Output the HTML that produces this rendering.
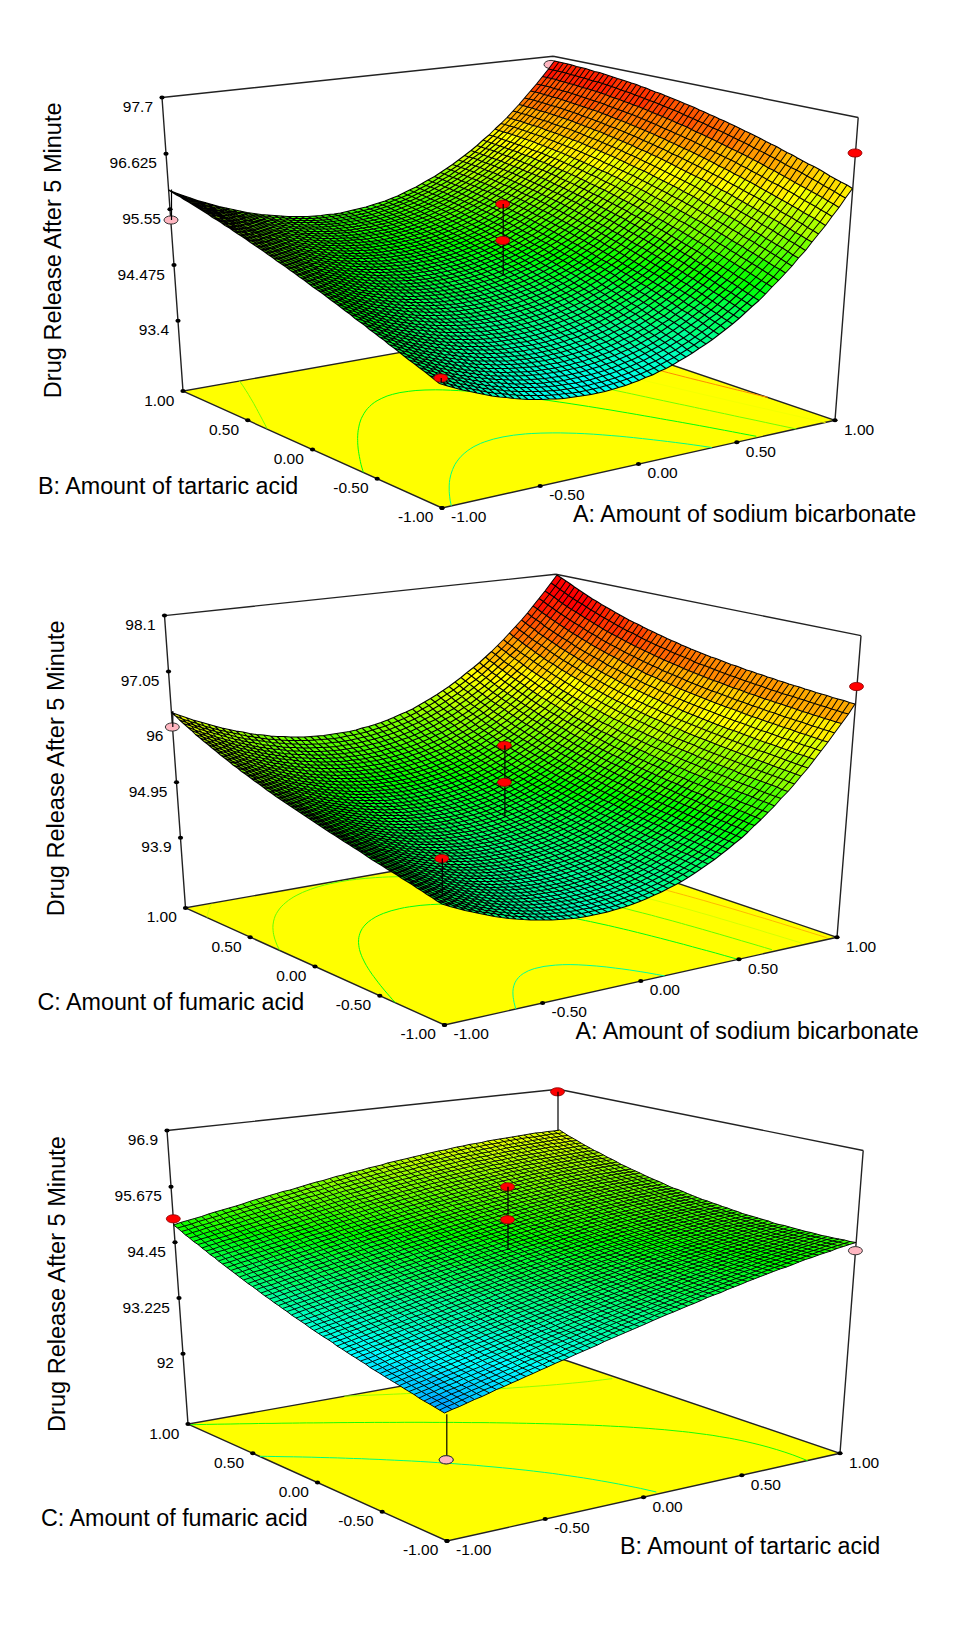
<!DOCTYPE html>
<html><head><meta charset="utf-8"><title>Response surface plots</title>
<style>
html,body{margin:0;padding:0;background:#fff}
svg{display:block}
text{font-family:"Liberation Sans",sans-serif;font-size:15.5px;fill:#000}
text.t{font-size:23.3px}
text.v{font-size:23.55px}
.r{fill:#f00;stroke:#800;stroke-width:.8}
.p{fill:#ffb6c1;stroke:#333;stroke-width:1}
</style></head><body>
<svg width="960" height="1632" viewBox="0 0 960 1632">
<rect width="960" height="1632" fill="#fff"/>
<g><g fill="none" stroke="#222" stroke-width="1.4">
<path d="M183 391.1L442 508L835 420.3L554 325z" fill="#ff0"/>
<path d="M451.3 505.9l-0.5-2.4-0.6-2.8-0.5-3.9-0.3-2.9-0.2-2.4 0-2.4 0-3.2 0.2-3.4 0.4-3.1 0.5-2.4 0.6-2.5 0.8-2.5 0.9-2.5 1.1-2.5 1.3-2.6 1.7-2.6 2-2.7 2.4-2.8 3-2.8 3.7-3 3-2 3.1-1.9 6.7-3.2 4.2-1.6 8.6-2.7 9.6-2.2 10.6-1.7 11.9-1.3 6.3-0.4 9.1-0.4 11.3-0.2 8.1 0 7.8 0.2 8.2 0.2 8.5 0.4 8.8 0.5 9.2 0.7 9 0.7 7.3 0.6 7.2 0.7 7.1 0.7 9.1 1 10.8 1.2 7.6 0.9 6.7 0.8 8.1 1 11.6 1.5 6.4 0.9 6.5 0.9 11.5 1.7" stroke="#00ff85" stroke-width="1"/>
<path d="M363.3 472.4l-0.6-2.2-0.7-2.2-1-3.7-0.6-2.6-0.4-2.1-0.6-3-0.6-3.3-0.3-2.1-0.3-2.1-0.3-3.3-0.2-3 0-2.1-0.1-2.1 0.1-2.8 0.2-3.1 0.3-2.4 0.4-2.1 0.4-2.1 0.5-2.3 0.9-2.8 1-2.7 1.3-2.5 1.4-2.5 1.6-2.4 1.8-2.3 2.1-2.1 2.2-2.1 2.5-1.9 2.8-1.8 4.7-2.4 5.3-2.3 5.6-1.7 7.2-1.7 8.9-1.3 7.1-0.8 9.1-0.5 10.4-0.2 7.3 0.1 7.6 0.3 8.1 0.4 8.5 0.5 8.1 0.6 6.7 0.6 6.6 0.7 6.5 0.6 9.8 1.1 8.8 1 6.1 0.8 6.1 0.8 11.1 1.5 6.4 0.9 5.8 0.8 10.9 1.6 6.2 0.9 5.9 0.9 11.1 1.7 5.6 0.9 8.3 1.3 8.5 1.4 5.6 0.9 11.1 1.9 5.5 0.9 9.2 1.6 7.4 1.3 6.5 1.1 10 1.8 5.6 1 11 1.9 5.5 1 11.1 2 5.5 1 9.8 1.8 6.8 1.3 8.6 1.6 8 1.5 7.7 1.5 9 1.7 7 1.3" stroke="#00ff0b" stroke-width="1"/>
<path d="M267.2 428.9l-1.4-2.7-0.9-1.8-1.9-3.5-0.9-1.8-1.7-3.2-1.1-2.1-1.2-2.2-1.5-2.9-1-1.7-1.8-3.4-1-1.7-1.8-3-1.1-1.9-1.4-2.4-1.5-2.5-1.2-1.7-1.9-3.1-1.1-1.6-2.2-3.1-1.1-1.5" stroke="#75ff00" stroke-width="1"/>
<path d="M428.2 347.3l7.5 2 7.6 2 3.9 0.9 7.8 2 8 2 4 0.9 8.1 2 8.3 1.9 4.1 1 8.4 2 7.4 1.7 5.3 1.2 8.7 2 4.3 0.9 8.7 2 8.9 2 4.4 1 9 1.9 4.5 1 9 2 8.6 1.9 5.1 1.1 9.2 2 4.7 1 9.3 2 6.9 1.5 7.2 1.6 9.5 2 4.7 1 9.6 2.1 4.8 1 9.6 2.1 8 1.7 6.6 1.4 9.8 2.1 5 1 9.8 2.1 5 1.1 10 2.1 8.3 1.8 6.7 1.4 10.1 2.2 5.1 1.1 10.2 2.1 5.2 1.1 10.2 2.2 8.8 1.9 6.7 1.4 10.4 2.2 5.3 1.2" stroke="#75ff00" stroke-width="1"/>
<path d="M483.6 337.4l6.7 2.1 3.4 1 6.8 2.1 7 2 7.1 2.1 7.2 2.1 7.3 2 3.7 1.1 7.5 2 7.6 2.1 7.7 2.1 4.3 1.1 7.4 2 8 2 8 2.1 4.1 1.1 8.1 2 8.3 2.1 6.5 1.6 6.1 1.5 8.5 2.1 8.6 2.1 4.3 1.1 8.7 2.1 8.7 2.1 4.5 1.1 8.8 2.1 9 2.1 4.5 1.1 9.1 2.1 9.2 2.2 4.6 1.1 9.2 2.1 8.8 2 5.2 1.3 9.5 2.2 7.1 1.6 7.2 1.7 9.6 2.2 5.1 1.1 9.4 2.2 9.8 2.2 4.9 1.1 9.9 2.3 9.9 2.3 5 1.1 10.1 2.3" stroke="#f4ff00" stroke-width="1"/>
<path d="M520.6 330.8l6.5 2 6.5 2.1 6.7 2.1 6.7 2.1 6.9 2.1 6.6 1.9 3.9 1.2 7.1 2.1 7.2 2.1 7.4 2.1 7.4 2.1 7.2 2 4.1 1.1 7.7 2.1 7.7 2.1 7.9 2.1 5.2 1.4 6.7 1.8 8 2.1 8.2 2.2 6.4 1.6 6 1.6 8.3 2.1 8.5 2.2 4.8 1.2 8 2 8.6 2.1 8.8 2.2 4.4 1.1 8.8 2.2 8.9 2.2 4.7 1.1 8.8 2.2 9.1 2.2 7.4 1.7" stroke="#ff8b00" stroke-width="1"/>
<path d="M549.9 325.5l6.3 2.1 6.4 2.1 6.5 2.1 6.7 2.1 6.7 2 6.8 2.1 6.9 2.1 7 2.1 4.7 1.4" stroke="#ff0b00" stroke-width="1"/>
<path d="M162 97.5L553.2 56.2M553.2 56.2L858.2 117.5M835 420.3L858.2 117.5M183 391.1L162 97.5"/>
</g>
<ellipse class="p" cx="551" cy="64.5" rx="7" ry="4.1"/>
<g transform="scale(0.5)">
<path d="M879 767l16 5 15 4-11-8-10-8-15-4-15-5 10 8zM869 744l15 4 15 3-11-7-10-8-15-4-14-4 10 8zM878 736l15 3 15 3-10-8-10-8-15-3-15-3 10 8zM858 720l15 3 15 3-10-7-10-8-15-3-15-3 10 8zM868 711l15 3 14 2-10-7-10-8-14-2-15-3 10 8zM877 701l15 2 14 2-10-8-9-7-15-2-14-2 10 8zM887 690l14 1 14 1-10-7-9-7-15-1-14-1 10 7zM896 678l14 1 14 0-10-7-9-7-14 0-15-1 10 7zM905 665l14 0 13 0-9-7-10-7-14 0-14 0 10 7zM932 665l14-1 14-1-10-7-9-7-14 1-14 1 10 7zM913 651l14-1 14-1-10-6-9-7-14 1-14 1 10 6zM941 649l14-1 13-2-9-6-10-7-13 2-14 1 9 7zM968 646l14-2 13-2-9-7-10-6-13 2-14 2 10 7zM995 642l14-3 13-3-9-6-10-7-13 3-14 3 10 6zM1042 649l13-3 14-4-10-7-10-6-13 4-14 3 10 7zM1022 636l14-3 13-4-9-7-10-6-13 4-14 3 10 7zM1069 642l13-4 13-5-9-6-10-7-13 5-14 4 10 6zM1115 646l13-5 13-5-9-7-10-6-13 5-14 5 10 7zM1095 633l14-5 13-5-10-7-10-6-13 5-13 5 10 7zM1161 649l14-6 13-6-10-6-10-7-13 6-14 6 10 7zM1141 636l14-6 13-6-10-6-10-7-13 6-13 6 10 6zM1208 651l13-7 13-7-10-7-10-6-13 7-13 6 10 7zM1254 651l14-8 13-8-10-7-11-6-13 8-13 7 10 7zM1322 663l13-9 13-9-10-6-10-7-14 8-13 9 11 7zM1390 674l14-10 13-9-11-8-10-7-14 10-13 9 11 8zM1369 659l13-9 14-10-11-7-10-7-13 10-14 9 11 7z" fill="#0f7"/>
<path d="M859 751l15 5 15 4-10-8-10-8-15-4-16-5 11 8zM838 735l16 5 15 4-10-8-10-8-16-4-15-4 10 7zM849 728l14 4 15 4-10-8-10-8-15-3-15-4 10 8zM838 705l15 3 15 3-10-7-10-8-14-3-15-3 10 7zM848 696l15 3 14 2-9-7-10-8-15-2-14-3 9 8zM858 686l14 2 15 2-10-7-10-7-14-2-15-2 10 7zM838 672l15 2 14 2-9-7-10-8-14-1-15-2 10 7zM867 676l14 1 15 1-10-7-10-7-14-1-14-2 10 8zM848 661l14 2 14 1-9-7-10-7-14-1-14-1 9 6zM876 664l15 1 14 0-10-7-10-7-14 0-14-1 10 7zM857 650l14 1 14 0-9-7-10-6-14-1-14-1 10 7zM885 651l14 0 14 0-9-7-10-6-14 0-14 0 10 6zM866 638l14 0 14 0-9-7-10-7-14 1-13-1 9 7zM894 638l14-1 14-1-10-6-9-7-14 1-14 0 10 7zM922 636l14-1 13-2-9-6-10-7-13 2-14 1 9 7zM903 623l14-1 13-2-9-6-10-6-13 1-14 1 9 7zM949 633l14-2 13-2-9-7-10-6-13 2-14 2 10 7zM930 620l14-2 13-2-9-6-10-7-13 3-14 2 10 6zM976 629l14-3 13-3-9-6-10-6-13 2-14 3 10 6zM957 616l14-3 13-2-9-7-10-6-13 3-14 2 10 7zM1003 623l14-3 13-4-10-6-9-7-13 4-14 4 10 6zM1049 629l14-4 13-5-10-6-10-6-13 4-13 4 10 6zM1030 616l13-4 13-4-9-7-10-6-13 4-13 4 9 7zM1076 620l13-5 13-5-9-6-10-7-13 6-14 5 10 6zM1122 623l13-6 13-6-10-6-9-7-14 6-13 6 10 6zM1188 637l13-6 13-7-10-7-10-6-13 6-13 7 10 7zM1168 624l13-7 13-6-10-7-10-6-13 7-13 6 10 7zM1234 637l13-7 13-8-10-7-10-7-13 8-13 8 10 6zM1301 649l13-9 14-8-11-7-10-7-13 9-13 8 10 7zM1281 635l13-8 13-9-10-7-10-6-13 8-14 9 11 6zM1348 645l14-9 13-10-11-6-10-7-13 9-13 10 10 7zM1438 669l13-10 14-11-11-7-11-7-13 10-13 11 10 7zM1417 655l13-11 13-10-10-7-11-7-13 10-13 10 10 7z" fill="#0f6"/>
<path d="M818 720l15 4 16 4-11-7-10-8-15-4-15-5 10 8zM828 713l15 4 15 3-10-7-10-8-14-4-15-3 10 7zM809 698l15 3 14 4-9-8-10-7-15-4-15-4 10 8zM819 690l15 3 14 3-10-7-9-8-15-3-15-3 10 8zM829 681l14 3 15 2-10-7-10-7-14-2-15-3 10 7zM809 667l15 3 14 2-9-7-10-7-14-3-15-2 10 7zM819 658l15 2 14 1-10-7-9-6-14-2-15-2 10 7zM829 648l14 1 14 1-9-7-10-7-14-1-14-1 9 7zM838 636l14 1 14 1-9-7-9-7-14 0-15-1 10 7zM848 624l13 1 14-1-9-6-9-7-14 1-14-1 9 7zM875 624l14 0 14-1-10-6-9-7-14 1-13 0 9 7zM857 611l13 0 14-1-9-6-9-6-14 0-14 1 9 6zM884 610l14-1 13-1-9-7-9-6-14 2-13 1 9 6zM911 608l14-2 13-3-9-6-9-6-14 2-13 2 9 6zM938 603l14-2 13-3-9-6-9-6-14 3-13 2 9 6zM984 611l14-4 13-4-10-6-9-6-13 4-14 3 10 6zM965 598l14-3 13-4-9-6-10-6-13 4-13 3 9 6zM1011 603l13-4 13-4-9-6-10-6-13 4-13 4 9 6zM992 591l13-4 13-4-9-6-9-6-14 4-13 4 10 6zM1056 608l14-5 13-6-10-6-9-6-13 5-14 5 10 6zM1037 595l14-5 13-5-10-6-9-6-13 5-14 5 10 6zM1102 610l13-6 14-6-10-6-10-6-13 6-13 5 10 7zM1083 597l13-5 13-6-10-6-9-6-13 6-13 5 9 6zM1148 611l13-6 13-7-10-7-9-6-13 7-13 6 9 7zM1214 624l13-8 13-8-10-6-10-6-13 7-13 8 10 6zM1194 611l13-8 13-7-10-7-10-6-13 7-13 8 10 6zM1260 622l14-9 13-8-10-7-11-6-13 8-13 8 10 7zM1328 632l13-10 13-9-10-7-11-7-13 10-13 9 10 7zM1396 640l13-10 13-10-10-7-11-7-13 10-13 10 10 7zM1465 648l13-11 13-12-11-7-10-7-14 12-13 11 11 7z" fill="#0f5"/>
<path d="M798 704l15 5 15 4-9-8-10-7-15-5-16-4 10 7zM789 682l15 4 15 4-10-7-10-8-15-3-15-4 10 7zM799 675l15 3 15 3-10-7-10-7-14-3-15-3 10 7zM780 661l15 3 14 3-9-7-10-7-15-3-14-4 9 7zM790 653l15 2 14 3-9-7-10-7-14-3-15-2 10 7zM800 644l15 2 14 2-10-7-9-7-14-2-15-2 10 7zM781 630l15 2 14 2-10-7-9-7-14-1-15-3 10 7zM810 634l14 1 14 1-9-6-10-7-14-1-14-2 9 7zM791 620l14 2 14 1-9-6-9-7-14-1-14-2 9 7zM819 623l15 1 14 0-10-6-9-7-14 0-14-1 9 7zM801 610l14 1 14 0-9-6-10-6-14-1-14-1 10 7zM829 611l14 1 14-1-10-6-9-6-14 0-14 0 10 6zM810 599l14 0 14 0-9-6-9-7-14 0-14 0 9 6zM838 599l14-1 14 0-10-7-9-6-14 1-13 0 9 7zM866 598l13-1 14-2-9-6-10-6-13 1-14 1 9 6zM847 585l14-1 13-1-9-6-9-6-14 1-13 1 9 6zM893 595l13-2 14-2-10-6-9-6-13 2-14 2 10 6zM874 583l14-2 13-2-9-6-9-6-14 2-13 2 9 6zM920 591l13-2 14-3-10-6-9-6-13 3-14 2 9 6zM901 579l14-2 13-3-9-6-9-6-14 3-13 2 9 6zM947 586l13-3 13-4-9-6-9-6-14 4-13 3 9 6zM928 574l13-3 14-4-10-6-9-5-13 3-13 3 9 6zM973 579l13-4 14-4-10-6-9-6-13 4-13 4 9 6zM1018 583l14-5 13-5-10-6-9-6-13 5-13 5 9 6zM1064 585l13-5 13-6-10-6-9-6-13 6-13 5 9 6zM1129 598l13-6 13-7-10-6-10-6-13 7-13 6 10 6zM1109 586l13-6 13-7-9-6-10-6-13 6-13 7 9 6zM1174 598l13-8 13-7-9-6-10-7-13 8-13 7 9 6zM1240 608l13-8 13-8-10-7-10-6-13 8-13 9 10 6zM1220 596l13-9 13-8-10-6-10-7-13 9-13 8 10 6zM1307 618l13-9 13-10-10-6-10-7-13 10-13 9 10 6zM1287 605l13-9 13-10-10-6-10-7-14 10-13 9 11 6zM1375 626l13-10 13-10-10-7-11-7-13 11-13 10 10 7zM1443 634l13-11 14-12-11-7-11-7-13 12-13 11 11 7z" fill="#0f4"/>
<path d="M778 689l16 4 15 5-10-8-10-8-15-4-15-4 10 7zM759 674l15 4 15 4-10-7-10-7-15-5-15-4 10 7zM769 668l15 4 15 3-9-7-10-7-15-4-15-4 10 7zM761 646l14 4 15 3-9-7-10-7-15-4-14-3 9 7zM771 639l15 2 14 3-9-7-10-7-14-3-15-2 10 7zM752 625l15 2 14 3-9-7-10-7-14-2-14-3 9 7zM762 616l15 3 14 1-9-6-9-7-15-2-14-2 9 7zM773 607l14 2 14 1-9-6-10-7-14-1-14-2 9 7zM782 597l14 1 14 1-9-7-9-6-14-1-14-1 9 7zM792 586l14 0 14 0-9-6-10-6-13 0-14 0 9 6zM820 586l13 0 14-1-9-6-9-6-14 1-14 0 10 6zM801 574l14 0 14-1-9-6-9-6-14 1-14 0 9 6zM829 573l13-1 14-1-9-6-9-6-14 2-13 0 9 6zM856 571l13-2 14-2-9-6-9-5-14 2-13 1 9 6zM838 559l13-1 14-2-9-6-9-6-14 2-13 2 9 6zM883 567l13-2 14-3-10-6-9-5-13 2-13 3 9 5zM865 556l13-3 13-2-9-6-9-5-13 2-13 2 9 6zM910 562l13-3 13-3-9-6-9-6-13 4-14 3 9 5zM891 551l14-3 13-4-9-5-9-6-14 4-13 3 9 5zM955 567l13-4 13-4-9-6-10-5-13 4-13 4 9 5zM936 556l13-4 13-4-9-6-9-5-13 4-13 3 9 6zM1000 571l13-5 13-5-10-6-9-5-13 5-13 4 9 6zM981 559l13-4 13-5-9-6-10-6-13 5-13 5 10 5zM1045 573l13-5 13-6-10-6-9-6-13 6-13 5 9 6zM1026 561l13-5 13-6-10-6-9-5-13 5-13 6 9 5zM1090 574l13-7 13-6-10-6-9-6-13 7-13 6 9 6zM1071 562l13-6 13-7-10-6-9-5-13 6-13 6 9 6zM1155 585l13-7 13-8-10-6-10-6-13 8-13 7 10 6zM1135 573l13-7 13-8-9-6-10-6-13 8-13 7 10 6zM1200 583l13-8 13-9-9-6-10-6-13 8-13 8 10 7zM1266 592l13-9 14-10-11-6-10-6-13 9-13 9 10 6zM1354 613l13-10 13-11-10-6-11-7-13 10-13 10 11 7zM1333 599l13-10 13-10-10-6-10-7-13 10-13 10 10 7zM1422 620l13-11 13-12-10-7-11-6-13 11-13 11 11 7zM1491 625l13-12 14-12-11-7-11-7-13 12-13 12 10 7z" fill="#0f3"/>
<path d="M739 659l15 4 15 5-9-8-10-7-15-4-15-5 10 7zM750 653l15 4 15 4-10-8-9-7-15-3-15-5 10 8zM731 638l15 5 15 3-10-7-9-7-15-4-15-4 9 7zM742 632l14 3 15 4-9-7-10-7-14-3-15-4 9 7zM734 611l14 3 14 2-9-6-9-7-15-2-14-3 9 6zM744 603l14 2 15 2-10-6-9-7-14-2-15-2 10 7zM754 594l14 2 14 1-9-6-9-7-14-1-14-1 9 6zM736 582l14 1 14 1-9-6-9-6-14-1-14-2 9 6zM764 584l14 1 14 1-9-6-9-6-14-1-14-1 9 6zM746 572l14 1 14 1-9-6-9-6-14-1-14-1 9 6zM774 574l14 0 13 0-9-6-9-6-13 0-14 0 9 6zM756 562l14 0 13 0-9-6-9-5-13 0-14-1 9 6zM783 562l14 0 14-1-9-5-9-6-14 0-14 1 9 5zM765 551l14-1 14 0-9-6-9-5-14 0-13 0 9 6zM811 561l13 0 14-2-9-5-9-6-14 1-13 1 9 6zM793 550l13-1 14-1-9-6-9-5-14 1-13 1 9 5zM820 548l13-2 14-2-9-5-9-6-14 2-13 2 9 5zM802 537l13-2 14-2-9-5-9-5-13 1-14 2 9 5zM847 544l13-2 13-2-9-6-9-5-13 2-13 2 9 6zM829 533l13-2 13-2-9-6-9-5-13 3-13 2 9 5zM873 540l13-3 14-4-9-5-9-5-14 3-13 3 9 5zM918 544l13-3 13-4-9-6-9-5-13 4-13 3 9 6zM900 533l13-3 13-4-9-6-9-5-13 4-13 4 9 5zM962 548l13-5 13-5-9-5-9-6-13 5-13 5 9 5zM944 537l13-5 13-5-9-5-9-5-13 4-13 5 9 5zM1007 550l13-6 13-5-9-6-10-5-13 5-13 5 10 6zM988 538l13-5 13-5-9-6-9-5-13 5-13 5 9 6zM1052 550l13-6 13-6-10-6-9-6-13 7-13 6 9 5zM1116 561l13-7 13-8-10-5-9-6-13 7-13 7 9 6zM1097 549l13-7 13-7-10-6-9-6-13 8-13 7 9 5zM1181 570l13-8 13-8-10-6-10-6-13 8-13 8 10 6zM1161 558l13-8 13-8-10-6-9-6-13 9-13 7 10 6zM1246 579l13-9 13-9-10-7-10-6-13 10-13 8 10 7zM1226 566l13-8 13-10-10-6-9-6-13 9-13 9 10 6zM1313 586l13-10 13-10-10-6-10-7-13 11-13 9 10 7zM1401 606l13-11 13-11-10-7-11-7-13 11-13 11 11 7zM1380 592l13-11 13-11-10-6-10-7-13 11-14 11 11 7zM1470 611l13-12 13-12-11-7-10-7-13 12-14 12 11 7z" fill="#0f2"/>
<path d="M720 644l15 5 15 4-9-7-10-8-15-4-15-5 9 8zM712 624l15 4 15 4-10-7-9-7-15-4-15-4 10 7zM723 618l15 4 14 3-9-7-9-7-15-3-15-4 10 7zM704 604l15 4 15 3-10-7-9-6-15-4-14-3 9 7zM715 598l14 3 15 2-9-6-10-7-14-3-14-2 9 6zM697 585l14 2 14 3-9-6-9-7-14-2-15-3 9 6zM725 590l15 2 14 2-9-6-9-6-14-2-15-3 9 7zM707 577l15 3 14 2-9-7-9-6-15-2-14-2 9 6zM718 569l14 2 14 1-9-6-9-6-14-1-14-2 9 6zM728 560l14 1 14 1-9-6-9-6-14-1-14-1 9 6zM710 548l14 1 14 1-9-6-9-5-14-1-14-1 9 5zM738 550l14 1 13 0-8-6-9-6-14 0-14 0 9 5zM720 539l14 0 14 0-9-5-9-6-14 0-13-1 8 6zM748 539l13 0 14 0-9-6-9-5-13 0-14 0 9 6zM730 528l14 0 13 0-9-6-8-5-14 0-13 0 8 6zM775 539l13-1 14-1-9-6-9-5-13 1-14 1 9 5zM757 528l14-1 13-1-9-5-8-6-14 1-13 1 8 5zM784 526l14-2 13-1-9-6-9-5-13 2-13 1 8 6zM767 515l13-1 13-2-8-5-9-5-13 2-14 1 9 5zM811 523l13-2 13-3-8-5-9-5-13 2-14 2 9 5zM793 512l14-2 13-2-9-5-9-5-13 2-13 2 9 5zM855 529l13-3 14-3-9-6-9-5-13 3-14 3 9 5zM837 518l14-3 13-3-9-5-9-5-13 3-13 3 9 5zM882 523l13-4 13-4-9-5-9-5-13 4-13 3 9 5zM864 512l13-3 13-4-9-5-9-5-13 4-13 3 9 5zM926 526l13-5 13-4-9-6-9-5-13 5-13 4 9 5zM908 515l13-4 13-5-9-5-9-5-13 5-13 4 9 5zM970 527l13-5 13-5-9-6-9-5-13 6-13 5 9 5zM952 517l13-5 13-6-9-5-9-5-13 5-13 5 9 5zM1033 539l13-6 13-7-9-5-10-6-13 7-13 6 10 5zM1014 528l13-6 13-7-9-5-9-5-13 6-13 6 9 5zM1078 538l13-7 13-8-10-5-9-6-13 7-13 7 9 6zM1059 526l13-7 13-7-10-5-9-6-13 8-13 6 10 6zM1142 546l13-7 13-9-10-5-10-6-12 8-13 8 9 6zM1207 554l13-9 13-9-10-6-10-6-13 9-13 9 10 6zM1293 573l13-9 13-11-11-6-10-6-13 10-13 10 10 6zM1272 561l13-10 13-10-10-6-10-6-13 10-13 9 10 6zM1359 579l14-11 13-11-11-6-10-7-13 11-13 11 10 7zM1448 597l14-12 13-12-11-7-10-6-14 12-13 12 11 6zM1427 584l13-12 14-12-11-7-10-7-14 12-13 12 11 7zM1518 601l13-13 13-14-11-7-10-6-14 13-13 13 11 7z" fill="#0f1"/>
<path d="M701 629l15 5 15 4-10-7-9-7-15-4-15-5 9 7zM682 615l15 5 15 4-9-7-10-7-15-4-15-5 10 7zM693 610l15 4 15 4-9-7-10-7-15-3-14-5 9 7zM675 596l14 5 15 3-9-6-9-7-15-4-15-4 9 7zM686 591l14 3 15 4-9-7-9-6-15-4-15-3 9 6zM678 572l15 3 14 2-9-6-9-6-14-3-15-3 9 6zM689 565l14 2 15 2-9-6-9-6-15-2-14-3 9 6zM671 552l14 3 15 2-9-6-9-6-14-2-15-3 9 6zM700 557l14 2 14 1-9-6-9-6-14-1-14-2 9 6zM682 545l14 2 14 1-9-6-9-5-14-2-14-2 9 6zM692 537l14 1 14 1-9-6-8-6-14-1-14-1 9 6zM703 527l13 1 14 0-9-5-8-6-14 0-14-1 9 6zM685 516l14 1 14 0-9-5-9-5-13-1-14 0 8 5zM713 517l13 0 14 0-9-5-9-5-13 0-14 0 9 5zM695 507l14 0 13 0-8-6-9-5-13 1-14-1 9 6zM740 517l13-1 14-1-9-5-9-5-13 1-14 1 9 5zM722 507l14-1 13-1-8-5-9-5-13 1-14 0 9 5zM749 505l14-1 13-2-9-5-8-5-14 2-13 1 9 5zM732 495l13-1 14-2-9-5-9-4-13 1-13 1 8 5zM776 502l13-2 13-2-8-5-9-5-13 2-13 2 8 5zM759 492l13-2 13-2-9-5-8-4-13 2-14 2 9 4zM820 508l13-3 13-3-9-5-8-5-14 3-13 3 9 5zM802 498l13-3 14-3-9-5-9-5-13 3-13 3 9 5zM785 488l13-3 13-3-9-4-8-5-13 3-13 3 8 4zM846 502l13-3 13-4-9-5-9-5-12 4-13 3 8 5zM829 492l13-3 12-4-8-5-9-4-13 3-13 3 9 5zM890 505l13-4 13-5-9-5-9-5-13 5-13 4 9 5zM872 495l13-4 13-5-9-5-9-4-13 4-13 4 9 5zM934 506l13-5 13-5-10-5-9-5-12 5-13 5 9 5zM916 496l13-5 12-5-8-5-9-5-13 5-13 5 9 5zM996 517l13-6 13-6-9-6-10-5-12 6-13 6 9 5zM978 506l13-6 12-6-9-5-9-5-13 6-12 6 9 5zM1040 515l13-6 13-8-9-5-10-5-12 7-13 7 9 5zM1123 535l13-8 12-8-9-6-10-5-13 8-12 7 9 6zM1104 523l12-7 13-8-9-6-10-5-12 8-13 7 9 6zM1187 542l13-9 13-9-10-5-10-6-12 9-13 8 9 6zM1168 530l13-8 12-9-9-6-10-6-13 9-13 9 10 6zM1252 548l13-9 13-10-10-6-10-6-13 10-12 9 9 6zM1339 566l13-11 13-11-10-6-10-6-13 11-13 10 10 7zM1319 553l13-10 13-11-11-7-10-6-13 11-13 11 10 6zM1406 570l13-12 14-12-11-6-10-7-13 12-13 12 10 7zM1496 587l13-13 14-13-11-7-11-7-13 13-13 13 10 7z" fill="#0f0"/>
<path d="M663 601l15 5 15 4-9-7-9-7-15-4-15-5 9 7zM656 583l15 4 15 4-10-7-9-6-14-4-15-4 9 6zM667 578l15 3 15 4-10-7-9-6-14-4-15-3 9 6zM649 565l15 3 14 4-9-7-9-6-14-3-15-4 9 6zM660 559l15 3 14 3-9-7-9-6-14-2-15-3 9 6zM642 547l15 3 14 2-9-6-9-6-14-2-14-4 9 6zM653 540l15 3 14 2-9-6-9-6-14-2-14-3 9 6zM664 533l14 2 14 2-8-6-9-6-14-1-14-2 8 5zM647 522l14 2 14 1-9-5-9-6-14-2-14-1 9 5zM675 525l14 1 14 1-9-5-9-6-14-1-14-1 9 6zM657 514l14 1 14 1-9-5-8-5-14-1-14-2 9 6zM668 506l14 0 13 1-8-5-9-6-14 0-13-1 8 5zM651 495l13 1 14 0-8-5-9-5-14 0-13-1 8 5zM678 496l14 1 13-1-8-5-9-5-13 1-14-1 9 5zM661 486l14 1 13-1-8-4-9-5-13 0-14 0 9 5zM705 496l14 0 13-1-9-5-8-5-13 1-14 0 9 5zM688 486l14 0 13-1-9-5-8-4-13 0-14 1 9 5zM671 477l14-1 13 0-8-5-9-5-13 1-14 0 9 5zM715 485l13-1 13-1-8-5-9-5-13 2-13 1 8 4zM698 476l13-1 13-2-8-4-8-5-14 1-13 1 9 5zM741 483l14-2 13-2-9-5-8-5-13 2-14 2 9 5zM724 473l14-2 13-2-9-4-8-5-13 2-13 2 8 5zM768 479l13-3 13-3-9-4-8-5-13 3-13 2 8 5zM751 469l13-2 13-3-9-4-8-5-13 3-13 2 8 5zM811 482l13-3 13-3-9-5-8-5-13 4-13 3 8 5zM794 473l13-3 13-4-9-4-8-4-13 3-13 3 8 5zM777 464l13-3 13-3-9-5-8-4-13 3-13 3 8 5zM854 485l13-4 13-4-8-5-9-5-13 5-13 4 9 4zM837 476l13-4 13-5-9-4-9-5-12 5-13 3 8 5zM820 466l13-3 12-5-8-4-9-4-13 4-12 4 8 4zM898 486l13-5 13-5-9-5-9-4-13 5-13 5 9 4zM880 477l13-5 13-5-9-5-9-4-12 5-13 4 9 5zM960 496l12-6 13-6-9-5-9-5-13 6-13 6 9 5zM941 486l13-6 13-6-9-5-9-4-13 6-12 5 9 5zM1022 505l13-7 12-7-9-5-9-5-13 7-13 6 10 5zM1003 494l13-6 13-7-9-5-9-5-13 7-13 6 9 5zM1085 512l13-7 12-8-9-6-9-5-13 8-13 7 9 6zM1066 501l13-7 13-8-10-5-9-5-13 8-13 7 10 5zM1148 519l13-9 13-9-10-5-9-6-13 9-13 9 10 5zM1129 508l13-9 13-9-10-5-9-5-13 8-13 9 10 5zM1233 536l12-9 13-10-9-6-10-6-13 10-13 9 10 6zM1213 524l13-9 13-10-10-6-10-5-13 9-13 10 10 6zM1298 541l13-11 13-11-10-6-10-6-13 11-13 11 10 6zM1386 557l13-12 13-12-11-6-10-6-13 12-13 11 10 7zM1475 573l13-13 13-13-11-7-10-6-13 13-13 13 10 6zM1454 560l13-13 13-13-11-7-10-6-13 13-13 12 10 7z" fill="#1f0"/>
<path d="M645 587l15 5 15 4-10-6-9-7-15-5-15-4 9 6zM626 574l15 4 15 5-9-7-9-6-15-5-15-5 9 7zM638 570l15 4 14 4-9-7-9-6-15-4-14-4 9 6zM620 557l14 4 15 4-9-7-9-6-15-4-14-4 9 6zM631 552l15 4 14 3-9-6-9-6-14-4-15-3 9 6zM613 540l15 3 14 4-8-7-9-6-15-3-14-4 8 6zM625 534l14 4 14 2-8-6-9-6-15-2-14-3 9 5zM636 528l14 3 14 2-9-6-8-5-14-3-15-2 9 6zM618 517l15 2 14 3-9-6-9-5-14-3-14-2 9 5zM629 511l14 1 14 2-8-5-9-6-14-1-14-2 9 5zM612 500l14 2 14 1-8-5-9-5-14-2-14-2 9 5zM640 503l14 2 14 1-9-6-8-5-14-1-14-1 9 5zM623 493l14 1 14 1-9-5-8-5-14-1-14-2 9 6zM634 485l13 1 14 0-8-4-9-5-13-1-14-1 8 5zM617 475l14 1 13 1-8-5-8-5-14 0-14-1 9 4zM644 477l14 0 13 0-8-5-9-5-13 1-13-1 8 5zM628 467l13 1 13-1-8-4-8-5-14 0-13 0 8 5zM654 467l14 0 13-1-8-4-8-4-14 0-13 0 8 5zM638 458l13 0 14 0-9-5-8-4-13 0-14 1 9 4zM681 466l13-1 14-1-9-4-8-5-13 2-13 1 8 4zM665 458l13-1 13-2-8-4-9-4-13 1-13 1 8 4zM648 449l13-1 13-1-8-4-8-4-13 1-13 1 8 4zM708 464l13-2 13-2-9-4-8-4-13 2-13 1 8 5zM691 455l13-1 13-2-8-4-8-5-14 2-13 2 9 4zM674 447l13-2 14-2-9-4-8-4-13 2-13 2 8 4zM734 460l13-2 13-3-9-4-8-4-13 2-13 3 8 4zM717 452l13-3 13-2-8-4-9-4-13 2-12 2 8 5zM701 443l12-2 13-2-8-4-8-4-13 2-13 2 8 4zM760 455l13-3 13-3-9-4-8-4-13 3-13 3 8 4zM743 447l13-3 13-3-9-4-8-4-13 3-13 3 9 4zM726 439l13-3 13-3-8-4-8-4-13 3-13 3 8 4zM803 458l12-4 13-4-8-5-9-4-13 4-12 4 8 4zM786 449l12-4 13-4-8-4-9-4-12 4-13 4 8 4zM769 441l13-4 12-4-8-4-8-4-13 4-13 4 8 4zM863 467l13-4 12-5-8-5-9-4-13 5-13 4 9 5zM845 458l13-4 13-5-9-5-8-4-13 5-13 5 9 4zM828 450l13-5 13-5-9-4-8-4-13 5-13 4 9 4zM924 476l12-5 13-6-9-5-9-5-12 6-13 6 9 4zM906 467l13-6 12-6-8-4-9-5-13 6-13 6 9 4zM888 458l13-6 13-6-9-4-9-4-12 5-13 6 9 4zM985 484l13-6 13-7-9-5-9-5-13 7-13 6 9 5zM967 474l13-6 13-7-9-5-9-4-13 6-13 7 9 4zM949 465l13-7 13-6-9-5-9-4-13 6-13 6 9 5zM1047 491l13-7 13-8-9-5-10-5-12 7-13 8 9 5zM1029 481l13-8 12-7-9-5-9-5-13 7-12 8 9 5zM1110 497l13-9 13-8-10-6-9-5-13 9-12 8 9 5zM1092 486l12-8 13-9-9-5-10-5-12 9-13 8 9 5zM1193 513l13-10 13-9-10-6-9-6-13 10-13 9 10 6zM1174 501l13-9 13-10-10-5-10-5-12 9-13 9 9 6zM1278 529l13-11 13-11-10-6-10-6-13 11-13 11 10 6zM1258 517l13-11 13-11-10-5-10-6-12 11-13 10 10 6zM1365 544l13-11 13-12-10-7-11-6-13 12-12 12 10 6zM1345 532l12-12 13-12-10-6-10-6-13 12-13 11 10 6zM1433 546l13-12 13-13-11-7-10-6-13 13-13 12 10 7zM1544 574l13-13 14-15-11-7-11-6-13 14-13 14 10 6zM1523 561l13-14 13-14-11-7-11-7-13 14-13 14 11 7z" fill="#2f0"/>
<path d="M608 560l15 5 15 5-9-7-9-6-15-5-15-5 9 7zM602 544l14 4 15 4-9-6-9-6-14-4-15-5 9 6zM596 527l14 4 15 3-9-6-9-5-14-4-15-4 9 6zM607 523l14 3 15 2-9-5-9-6-14-3-14-3 8 6zM590 511l14 3 14 3-8-6-9-5-14-3-15-4 9 6zM601 506l14 2 14 3-8-6-9-5-14-3-14-2 8 5zM584 495l14 2 14 3-8-6-9-5-14-2-14-3 8 5zM595 489l14 2 14 2-8-5-9-6-14-1-14-2 9 5zM578 479l14 2 14 1-8-5-9-5-13-1-14-3 8 5zM606 482l14 2 14 1-9-5-8-5-14-1-14-2 9 5zM589 472l14 2 14 1-8-5-9-4-13-2-14-1 8 5zM573 463l14 1 13 2-8-5-8-5-14-1-14-2 9 5zM600 466l14 1 14 0-9-4-8-5-14-1-13-1 8 5zM584 456l13 1 14 1-8-4-8-5-14-1-14-1 9 5zM611 458l13 0 14 0-8-4-9-4-13 0-13-1 8 5zM595 449l13 1 13 0-8-5-8-4-13 0-14-1 8 5zM578 440l14 1 13 0-8-4-8-4-13 0-14-1 8 4zM621 450l14-1 13 0-8-4-8-4-14 0-13 0 8 4zM605 441l13 0 14 0-8-4-9-4-13 0-13 0 8 4zM632 441l13-1 13-1-8-4-8-4-13 1-14 1 9 4zM658 439l13-2 13-2-8-4-8-3-13 1-13 2 8 4zM684 435l13-2 13-2-8-4-8-4-13 3-13 2 8 3zM710 431l13-3 13-3-9-4-8-4-13 3-12 3 8 4zM752 433l13-4 13-4-9-4-8-4-13 4-12 4 8 4zM736 425l12-4 13-4-8-3-9-4-12 4-13 3 8 4zM811 441l13-4 13-5-9-4-8-4-13 5-13 4 9 4zM794 433l13-4 13-5-9-4-8-4-13 5-12 4 8 4zM778 425l12-4 13-5-9-4-8-3-12 4-13 4 8 4zM871 449l13-6 12-5-8-5-9-4-13 6-12 5 8 4zM854 440l12-5 13-6-9-4-8-4-13 6-12 5 8 4zM837 432l12-5 13-6-9-4-8-4-13 6-12 5 8 4zM931 455l13-6 13-6-9-5-9-4-13 6-12 6 9 5zM914 446l12-6 13-6-9-5-8-4-13 7-13 6 9 4zM1011 471l12-8 13-7-9-5-9-5-13 8-12 7 9 5zM993 461l12-7 13-8-9-4-9-5-13 8-12 7 9 4zM975 452l12-7 13-8-9-4-9-5-13 8-12 7 9 4zM1073 476l13-8 12-9-9-5-9-5-13 9-13 8 10 5zM1054 466l13-8 13-9-10-5-9-5-12 9-13 8 9 5zM1155 490l13-9 12-9-9-6-10-5-12 10-13 9 9 5zM1136 480l13-9 12-10-9-5-10-5-12 9-13 9 9 5zM1239 505l13-10 12-11-10-6-9-5-13 10-13 11 10 5zM1219 494l13-11 13-10-10-6-10-5-13 10-12 10 9 6zM1324 519l13-11 13-12-10-6-10-6-13 12-13 11 10 6zM1304 507l13-11 13-12-10-6-10-5-13 11-13 11 10 6zM1412 533l13-12 13-13-11-6-10-7-13 13-13 13 10 6zM1501 547l13-14 13-14-10-6-11-7-13 14-13 14 10 6z" fill="#3f0"/>
<path d="M590 547l15 5 15 5-9-7-9-6-15-5-15-5 9 7zM572 534l15 5 15 5-9-7-9-6-15-4-15-5 9 6zM584 531l15 5 14 4-9-7-8-6-15-4-15-4 9 6zM566 519l15 4 15 4-9-6-9-6-15-4-14-4 8 6zM578 515l15 4 14 4-9-6-8-6-15-4-14-3 8 5zM561 504l14 3 15 4-9-6-9-6-14-3-15-4 9 6zM572 499l15 4 14 3-9-6-8-5-14-3-15-4 9 6zM555 488l15 4 14 3-9-6-8-5-14-3-15-4 9 6zM567 484l14 3 14 2-8-5-9-5-14-3-14-3 8 6zM550 473l14 3 14 3-8-6-8-5-15-2-14-3 9 5zM562 468l14 3 13 1-8-4-8-5-14-2-14-2 8 4zM545 459l14 2 14 2-8-5-9-5-14-2-13-2 8 5zM556 453l14 2 14 1-8-4-9-5-13-1-14-2 8 5zM540 444l14 2 13 1-8-4-8-4-13-2-14-2 8 5zM567 447l14 1 14 1-9-4-8-5-13 0-14-1 8 4zM551 439l14 1 13 0-8-4-8-4-13-1-14-1 8 4zM761 417l13-4 12-4-8-4-8-3-13 4-13 4 9 4zM820 424l12-5 13-6-9-3-8-4-13 5-12 5 8 4zM803 416l12-5 13-5-8-4-9-3-12 5-13 5 8 3zM786 409l13-5 12-5-8-4-8-3-13 5-12 5 8 3zM896 438l13-6 13-7-9-4-9-4-12 6-13 6 9 4zM879 429l13-6 12-6-8-4-9-4-13 6-12 6 8 4zM862 421l12-6 13-6-9-4-8-4-13 7-12 5 8 4zM845 413l12-5 13-7-9-3-8-4-13 6-12 6 8 4zM957 443l12-7 13-8-9-4-9-4-12 7-13 7 9 4zM939 434l13-7 12-7-9-5-8-4-13 7-12 7 8 4zM1036 456l13-8 12-9-9-4-9-5-13 8-12 8 9 5zM1018 446l12-8 13-8-9-4-9-5-13 8-12 8 9 5zM1117 469l13-9 12-9-9-5-9-5-13 9-13 9 10 5zM1098 459l13-9 13-9-10-5-9-5-13 9-12 9 9 5zM1200 482l12-10 13-10-9-6-10-5-13 10-13 11 10 5zM1284 495l13-11 13-11-10-6-10-6-13 12-13 11 10 6zM1391 521l13-13 13-13-10-6-11-6-13 13-13 12 11 6zM1370 508l13-12 13-13-10-6-10-6-13 13-13 12 10 6zM1480 534l13-14 13-14-11-6-10-7-13 14-13 14 10 6zM1459 521l13-14 13-14-11-6-10-6-13 13-13 14 10 6zM1571 546l13-14 13-16-11-6-10-7-14 15-13 15 11 6z" fill="#4f0"/>
<path d="M554 522l15 5 15 4-9-6-9-6-15-5-15-5 9 6zM549 507l14 4 15 4-9-6-8-5-15-5-15-4 9 6zM531 495l15 4 15 5-9-6-9-6-14-4-15-5 9 6zM543 492l15 4 14 3-8-5-9-6-14-3-15-4 9 5zM526 481l15 4 14 3-8-5-9-6-14-3-15-4 9 5zM538 477l15 4 14 3-9-5-8-6-14-3-15-3 9 5zM521 467l15 3 14 3-8-5-9-5-14-3-14-3 8 5zM533 463l14 3 15 2-9-5-8-4-14-3-14-3 8 5zM517 453l14 3 14 3-8-5-8-5-14-3-15-3 9 5zM529 449l13 2 14 2-8-4-8-5-14-2-14-2 8 4zM512 440l14 2 14 2-8-4-8-5-14-2-14-2 8 4zM496 431l14 2 14 2-8-4-8-4-14-2-14-3 8 4zM524 435l14 2 13 2-8-5-8-4-13-1-14-2 8 4zM828 406l12-6 13-6-9-4-8-3-12 6-13 6 9 3zM811 399l13-6 12-6-8-3-9-4-12 6-12 6 8 3zM922 425l12-7 13-7-9-4-9-4-12 7-13 7 9 4zM904 417l13-7 12-7-9-4-8-4-13 7-12 7 9 4zM887 409l12-7 13-7-9-3-8-4-13 7-12 6 8 4zM870 401l12-6 13-7-9-4-8-3-13 7-12 6 8 4zM1000 437l12-8 13-8-9-4-9-5-13 8-12 8 9 5zM982 428l12-8 13-8-9-4-9-4-12 8-13 8 9 4zM964 420l13-8 12-8-9-4-8-4-13 8-12 7 8 4zM1080 449l12-9 13-9-9-5-10-5-12 10-13 8 9 5zM1061 439l13-8 12-10-9-4-9-5-12 9-13 9 9 5zM1180 472l13-11 13-10-10-5-9-5-13 10-13 10 10 5zM1161 461l13-10 13-10-10-5-9-5-13 10-13 10 10 5zM1264 484l13-11 13-12-10-5-10-6-13 12-12 11 9 5zM1245 473l12-11 13-12-10-5-9-6-13 12-13 11 10 5zM1350 496l13-12 13-13-10-6-10-6-13 13-13 12 10 6zM1438 508l13-14 13-13-11-7-10-6-13 14-13 13 10 7zM1549 533l13-15 14-15-11-7-11-6-13 15-14 14 11 7z" fill="#5f0"/>
<path d="M536 509l15 5 15 5-9-6-8-6-15-5-15-5 9 6zM519 497l15 5 15 5-9-6-9-6-15-5-15-5 9 6zM514 483l15 5 14 4-8-6-9-5-14-4-15-5 8 6zM509 470l15 4 14 3-8-5-9-5-14-4-14-4 8 5zM493 459l14 4 14 4-8-5-8-5-15-4-14-4 8 5zM505 457l14 3 14 3-8-5-8-5-14-3-15-4 9 5zM488 446l15 4 14 3-8-5-9-5-14-3-14-3 8 5zM500 443l15 3 14 3-9-5-8-4-14-3-14-3 8 5zM484 434l14 3 14 3-8-5-8-4-14-3-14-3 8 5zM468 425l14 3 14 3-8-5-8-4-14-3-14-3 8 5zM853 394l12-6 13-7-9-4-8-3-12 7-13 6 8 3zM836 387l13-6 12-7-9-3-8-4-12 7-13 6 9 4zM947 411l12-7 13-8-9-4-9-4-12 8-13 7 9 4zM929 403l13-7 12-8-9-4-8-4-13 8-12 7 8 4zM912 395l12-7 13-8-9-3-9-4-12 8-12 7 8 4zM1043 430l13-9 12-9-9-4-9-5-13 9-12 9 9 5zM1025 421l12-9 13-9-9-4-9-4-13 9-12 8 9 5zM1142 451l13-10 13-10-10-5-9-5-13 10-12 10 9 5zM1124 441l12-10 13-10-10-5-9-5-12 10-13 10 9 5zM1105 431l13-10 12-10-9-5-9-4-13 10-13 9 10 5zM1225 462l13-11 13-12-10-5-10-5-12 11-13 11 10 5zM1206 451l13-11 12-11-9-5-10-5-13 11-12 11 9 5zM1330 484l13-12 13-13-10-5-10-6-13 12-13 13 10 5zM1310 473l13-13 13-12-10-6-10-5-13 12-13 12 10 6zM1417 495l13-13 13-14-10-6-11-6-13 14-13 13 11 6zM1527 519l14-14 13-15-11-7-11-6-13 15-13 14 11 7zM1506 506l13-14 13-15-10-7-11-6-13 15-13 14 10 7z" fill="#6f0"/>
<path d="M501 485l15 5 15 5-8-6-9-6-15-4-15-6 9 6zM484 473l15 6 15 4-9-5-8-6-15-5-15-5 9 6zM497 472l15 5 14 4-8-6-9-5-14-4-15-5 9 5zM480 461l15 5 14 4-8-6-8-5-15-4-15-5 9 6zM476 449l14 4 15 4-8-6-9-5-14-3-14-4 8 5zM460 439l14 4 14 3-8-4-8-5-14-4-15-4 8 5zM472 437l14 3 14 3-8-4-8-5-14-3-14-4 8 5zM456 427l14 4 14 3-8-4-8-5-14-3-14-4 8 5zM440 418l14 4 14 3-8-4-8-5-14-3-14-4 8 4zM895 388l12-7 12-8-8-3-9-4-12 8-12 7 8 3zM878 381l12-7 12-8-8-3-9-4-12 8-12 7 8 3zM861 374l12-7 12-8-8-3-8-3-13 7-12 7 8 4zM1007 412l12-8 13-9-9-4-9-4-12 8-13 9 9 4zM989 404l13-9 12-8-9-4-9-4-12 8-12 9 8 4zM972 396l12-9 12-8-8-4-9-4-13 9-12 8 9 4zM954 388l12-8 13-9-9-4-9-3-12 8-12 8 8 4zM1086 421l13-9 13-10-10-5-9-4-12 10-13 9 9 5zM1068 412l13-9 12-10-9-4-9-5-13 10-12 9 9 5zM1187 441l12-11 13-11-10-5-9-5-13 11-12 11 9 5zM1168 431l12-11 13-11-10-5-9-5-13 11-12 11 9 5zM1290 461l13-12 13-12-10-6-10-5-13 12-13 12 10 6zM1270 450l13-12 13-12-10-5-10-6-13 13-12 11 9 6zM1396 483l13-13 13-14-10-6-10-6-13 14-13 13 10 6zM1376 471l13-13 13-14-10-5-11-6-12 13-13 13 10 6zM1485 493l13-14 13-15-10-6-11-6-13 14-13 15 10 6zM1597 516l14-15 13-17-11-6-11-7-13 16-13 16 10 7zM1576 503l13-16 13-16-11-6-11-7-13 16-13 16 11 6z" fill="#7f0"/>
<path d="M467 462l15 5 15 5-8-6-9-5-15-5-15-5 9 5zM463 450l15 5 15 4-9-5-8-5-15-5-14-4 8 5zM447 440l14 4 15 5-8-5-8-5-15-5-15-5 9 5zM443 429l15 4 14 4-8-5-8-5-15-4-14-4 8 5zM427 419l14 4 15 4-8-4-8-5-15-4-14-4 8 4zM937 380l12-8 12-8-8-4-9-3-12 8-13 8 9 4zM919 373l13-8 12-8-9-4-8-3-12 8-13 8 9 4zM902 366l13-8 12-8-9-3-8-4-12 9-13 7 9 4zM885 359l13-7 12-9-8-3-9-3-12 8-12 8 8 3zM1050 403l12-9 13-10-9-4-9-4-13 10-12 9 9 4zM1032 395l12-9 13-10-9-4-9-4-13 9-12 10 9 4zM1014 387l12-10 13-9-9-4-9-4-12 10-13 9 9 4zM1149 421l12-11 13-11-9-5-10-4-12 11-13 10 9 5zM1130 411l13-10 12-11-9-5-9-4-13 10-12 11 9 4zM1251 439l12-11 13-13-10-5-9-5-13 12-13 12 10 5zM1231 429l13-12 13-12-10-5-10-5-12 12-13 12 10 5zM1356 459l13-13 12-13-10-6-10-5-13 13-12 13 10 6zM1336 448l12-13 13-13-10-6-10-5-13 13-12 13 10 5zM1464 481l13-15 13-14-10-7-11-6-13 15-13 14 10 6zM1443 468l13-14 13-15-10-6-11-6-13 15-13 14 11 6zM1554 490l13-16 13-16-10-6-11-7-13 16-14 16 11 6z" fill="#8f0"/>
<path d="M450 451l15 5 15 5-8-5-9-6-14-5-15-5 8 5zM434 440l15 5 14 5-8-5-8-5-15-5-15-6 8 6zM430 429l15 5 15 5-9-5-8-5-14-5-15-5 8 5zM414 419l15 5 14 5-8-5-8-5-14-4-15-5 8 5zM411 410l14 4 15 4-8-5-8-4-14-4-15-4 8 4zM996 379l13-9 12-10-9-4-9-3-12 9-12 9 9 4zM979 371l12-9 12-9-8-4-9-4-12 10-13 9 9 3zM961 364l13-9 12-10-9-3-8-3-13 9-12 9 9 3zM1112 402l12-11 13-10-10-5-9-4-12 11-13 10 9 4zM1093 393l13-10 12-11-9-4-9-5-13 11-12 10 9 5zM1075 384l12-10 13-11-9-4-9-4-13 11-12 10 9 4zM1212 419l13-12 12-12-9-5-10-5-12 12-13 12 9 5zM1193 409l13-12 12-12-9-5-10-4-12 12-13 11 9 5zM1316 437l12-13 13-13-10-6-10-5-12 13-13 13 10 5zM1422 456l13-14 13-15-10-5-10-6-13 14-13 14 10 6zM1532 477l14-16 13-16-11-6-11-6-13 16-13 15 11 6z" fill="#9f0"/>
<path d="M417 429l15 6 15 5-8-6-9-5-14-5-15-5 8 5zM401 419l15 5 14 5-8-5-8-5-15-5-14-5 8 5zM398 410l15 5 14 4-8-5-8-4-14-5-15-5 8 5zM382 400l15 5 14 5-8-5-8-4-14-5-15-5 8 5zM944 357l12-9 13-9-9-4-9-3-12 9-12 9 8 3zM927 350l12-9 12-9-8-3-9-3-12 9-12 8 8 4zM910 343l12-8 12-9-8-3-9-3-12 9-12 8 9 3zM1057 376l12-10 13-11-9-4-9-4-13 11-12 10 9 4zM1039 368l12-10 13-11-9-3-9-4-13 10-12 10 9 4zM1021 360l12-10 13-10-9-4-9-3-12 10-13 10 9 3zM1174 399l13-11 12-12-9-5-10-4-12 11-13 12 10 4zM1155 390l13-12 12-11-9-5-9-4-13 11-12 12 9 4zM1296 426l13-13 12-13-10-5-9-5-13 13-13 12 10 6zM1276 415l13-12 13-13-10-6-10-5-13 13-12 13 9 5zM1402 444l13-14 13-14-11-6-10-5-13 14-13 14 11 6zM1381 433l13-14 13-14-10-6-10-6-13 15-13 14 10 5zM1511 464l13-15 13-16-10-6-11-6-13 15-13 16 11 6zM1490 452l13-16 13-15-10-6-11-6-13 15-13 15 11 6zM1624 484l13-16 14-17-11-7-11-7-14 18-13 16 11 7zM1602 471l13-16 14-18-11-6-11-6-13 17-14 16 11 7z" fill="#af0"/>
<path d="M385 409l14 5 15 5-8-4-8-5-15-5-15-6 9 5zM368 399l15 6 15 5-8-5-8-5-15-5-14-5 8 4zM353 390l14 5 15 5-8-4-8-5-14-5-15-6 8 5zM1003 353l13-10 12-10-9-4-9-3-12 10-12 9 9 4zM986 345l12-9 12-10-8-4-9-3-12 10-12 10 8 3zM969 339l12-10 12-10-9-3-8-3-12 10-13 9 9 3zM951 332l13-9 12-10-9-3-8-3-13 9-12 10 9 3zM1137 381l12-12 13-11-10-5-9-4-12 12-13 11 9 4zM1118 372l13-11 12-12-9-4-9-4-13 11-12 11 9 5zM1100 363l12-11 13-11-10-4-9-4-12 11-12 11 9 4zM1257 405l12-13 13-13-10-5-9-4-13 13-13 12 10 5zM1237 395l13-12 13-13-10-5-10-5-12 13-13 12 10 5zM1361 422l13-14 13-15-10-5-10-5-13 14-13 14 10 5zM1341 411l13-14 13-14-10-6-10-5-13 14-13 14 10 5zM1469 439l13-15 13-15-10-6-11-6-13 15-13 15 11 6zM1580 458l14-16 13-17-11-7-11-6-13 17-13 16 11 7z" fill="#bf0"/>
<path d="M910 776l15 4 15 3-11-8-10-8-15-3-15-4 10 8zM919 767l15 3 15 3-11-8-10-8-15-2-14-4 10 8zM928 757l15 3 14 2-10-8-10-8-14-2-15-2 10 8zM937 746l15 2 14 2-10-8-10-8-14-1-15-2 10 8zM917 731l15 2 14 1-10-7-10-8-14-1-15-2 10 8zM946 734l14 2 15 1-10-8-10-7-15-1-14-2 10 8zM926 719l14 2 15 1-10-8-10-7-14-1-15-1 10 7zM955 722l14 0 14 0-10-7-10-7-14-1-14 0 10 7zM935 707l14 0 14 1-10-8-10-7-14 0-14-1 10 7zM963 708l14-1 14 0-10-7-10-7-14 0-14 0 10 7zM991 707l14-1 14-1-10-7-10-7-14 1-14 1 10 7zM971 693l14-1 14-1-10-7-9-7-14 1-14 1 10 7zM999 691l14-2 14-2-10-7-10-6-14 1-13 2 9 7zM1027 687l13-2 14-2-10-7-10-7-13 2-14 3 10 6zM1054 683l13-3 14-3-10-7-10-7-13 3-14 3 10 7zM1081 677l13-4 14-4-10-7-10-7-13 4-14 4 10 7zM1128 683l13-5 14-4-10-7-10-7-14 5-13 4 10 7zM1175 688l13-6 13-5-10-7-10-7-13 5-13 6 10 7zM1155 674l13-6 13-5-10-7-10-7-13 6-13 5 10 7zM1222 691l13-6 13-7-10-7-10-7-13 7-14 6 11 7zM1201 677l14-6 13-7-10-6-10-7-13 6-14 6 10 7zM1269 693l13-7 14-8-11-7-10-7-13 8-14 6 11 7zM1248 678l14-6 13-8-10-7-11-6-13 7-13 6 10 7zM1316 693l14-8 13-8-11-7-10-7-13 8-13 7 10 8zM1385 706l13-9 14-9-11-7-11-7-13 9-13 8 10 8zM1364 691l13-8 13-9-10-7-11-8-13 9-13 9 10 7z" fill="#0f9"/>
<path d="M889 760l15 4 15 3-10-8-10-8-15-3-15-4 10 8zM899 751l14 4 15 2-10-7-10-8-15-3-15-3 10 8zM908 742l15 2 14 2-10-7-10-8-14-2-15-3 10 8zM888 726l15 3 14 2-10-7-10-8-14-2-15-3 10 8zM897 716l15 2 14 1-10-7-10-7-14-2-15-2 10 8zM906 705l15 1 14 1-10-8-10-7-14-1-14-1 9 7zM915 692l14 1 14 0-9-7-10-7-14 0-14-1 9 7zM943 693l14 0 14 0-9-7-10-7-14 0-14 0 10 7zM924 679l14 0 14 0-10-7-10-7-13 0-14 0 9 7zM952 679l14-1 14-1-10-7-10-7-14 1-14 1 10 7zM980 677l13-2 14-1-10-7-9-7-14 2-14 1 10 7zM960 663l14-1 14-2-10-7-10-7-13 2-14 1 9 7zM1007 674l14-3 13-2-10-7-9-7-14 3-13 2 9 7zM988 660l13-2 14-3-10-6-10-7-13 2-14 2 10 7zM1034 669l14-3 13-3-9-7-10-7-14 4-13 2 9 7zM1015 655l13-2 14-4-10-6-10-7-13 3-14 3 10 7zM1061 663l14-4 13-4-10-6-9-7-14 4-13 3 10 7zM1108 669l13-4 14-5-10-7-10-7-13 5-14 4 10 7zM1088 655l14-4 13-5-10-6-10-7-13 5-13 4 9 7zM1135 660l13-5 13-6-10-6-10-7-13 5-13 5 10 7zM1181 663l14-6 13-6-10-7-10-7-13 6-14 6 10 7zM1228 664l13-6 13-7-10-7-10-7-13 7-13 7 10 7zM1296 678l13-7 13-8-10-7-11-7-13 8-13 7 10 7zM1275 664l13-7 13-8-10-7-10-7-13 8-14 8 11 6zM1343 677l13-9 13-9-10-7-11-7-13 9-13 9 10 7zM1412 688l13-9 13-10-11-7-10-7-13 9-14 10 11 7z" fill="#0f8"/>
<path d="M940 783l14 3 15 3-10-8-10-8-15-3-15-3 10 8zM949 773l14 3 15 2-10-8-11-8-14-2-15-3 10 8zM957 762l15 2 14 1-10-8-10-7-14-2-15-2 10 8zM966 750l14 1 15 1-10-8-10-7-15-1-14-2 10 8zM975 737l14 0 14 0-10-7-10-8-14 0-14 0 10 7zM983 722l14 0 14 0-10-8-10-7-14 0-14 1 10 7zM1011 722l14-1 14-2-10-7-10-7-14 1-14 1 10 7zM1039 719l14-1 13-2-10-7-10-7-13 1-14 2 10 7zM1019 705l14-2 13-1-10-8-9-7-14 2-14 2 10 7zM1046 702l14-3 14-2-10-7-10-7-14 2-13 2 9 7zM1094 711l13-3 14-3-10-7-10-7-14 3-13 3 10 7zM1074 697l13-3 14-3-10-7-10-7-14 3-13 3 10 7zM1121 705l13-4 14-4-10-7-10-7-14 4-13 4 10 7zM1101 691l13-4 14-4-10-7-10-7-14 4-13 4 10 7zM1148 697l13-5 14-4-10-7-10-7-14 4-13 5 10 7zM1195 702l13-5 14-6-10-7-11-7-13 5-13 6 10 7zM1242 705l14-6 13-6-10-8-11-7-13 7-13 6 10 7zM1290 707l13-7 13-7-10-7-10-8-14 8-13 7 10 7zM1337 707l14-7 13-9-11-7-10-7-13 8-14 8 11 7z" fill="#0fa"/>
<path d="M969 789l15 3 15 2-11-8-10-8-15-2-14-3 10 8zM978 778l14 1 15 2-10-8-11-8-14-1-15-2 11 8zM986 765l15 1 14 1-10-8-10-7-15-1-14-1 10 7zM995 752l14 0 14 0-10-7-10-8-14 0-14 0 10 7zM1023 752l14 0 14-1-10-7-10-8-14 1-14 0 10 8zM1003 737l14 0 14-1-10-7-10-7-14 0-14 0 10 8zM1031 736l14-1 14-1-10-7-10-8-14 2-14 1 10 7zM1059 734l14-1 13-2-10-8-10-7-13 2-14 1 10 8zM1086 731l14-3 14-2-10-8-10-7-14 3-14 2 10 7zM1066 716l14-2 14-3-10-7-10-7-14 2-14 3 10 7zM1114 726l14-3 13-4-10-7-10-7-14 3-13 3 10 7zM1141 719l14-4 13-4-10-7-10-7-14 4-13 4 10 7zM1189 726l13-5 13-5-10-7-10-7-13 5-14 4 10 7zM1168 711l14-4 13-5-10-7-10-7-14 4-13 5 10 7zM1215 716l14-5 13-6-10-7-10-7-14 6-13 5 10 7zM1263 720l13-6 14-7-11-7-10-7-13 6-14 6 11 7zM1311 722l13-7 13-8-10-7-11-7-13 7-13 7 10 7zM1358 722l14-8 13-8-11-7-10-8-13 9-14 7 11 8z" fill="#0fb"/>
<path d="M999 794l14 1 15 2-11-8-10-8-15-2-14-1 10 8zM1028 797l14 1 14 1-10-8-10-8-15-1-14-1 10 8zM1007 781l14 1 15 1-11-8-10-8-14-1-15-1 11 8zM1036 783l14 0 14 0-10-8-11-7-14 0-14-1 10 8zM1015 767l14 1 14 0-10-8-10-8-14 0-14 0 10 7zM1043 768l15-1 14 0-11-8-10-8-14 1-14 0 10 8zM1072 767l14-1 14-2-11-7-10-8-14 1-14 1 10 8zM1051 751l14-1 14-1-10-7-10-8-14 1-14 1 10 8zM1079 749l14-2 14-2-10-7-11-7-13 2-14 1 10 8zM1107 745l13-2 14-3-10-7-10-7-14 2-14 3 11 7zM1134 740l14-3 13-3-10-8-10-7-13 4-14 3 10 7zM1161 734l14-4 14-4-11-8-10-7-13 4-14 4 10 7zM1209 741l14-5 13-5-10-7-11-8-13 5-13 5 10 7zM1257 746l13-6 14-5-11-8-10-7-13 5-14 6 10 7zM1236 731l14-6 13-5-10-8-11-7-13 6-14 5 11 8zM1305 750l13-7 14-6-11-8-10-7-14 6-13 7 10 7zM1284 735l13-7 14-6-11-8-10-7-14 7-13 6 10 7zM1332 737l13-7 13-8-10-7-11-8-13 8-13 7 10 7z" fill="#0fc"/>
<path d="M1056 799l14 0 15 0-11-8-10-8-14 0-14 0 10 8zM1064 783l14 0 14-1-10-8-10-7-14 0-15 1 11 7zM1092 782l14-1 14-1-10-8-10-8-14 2-14 1 10 7zM1120 780l14-2 14-2-11-8-10-7-14 2-13 1 10 8zM1100 764l13-1 14-2-10-8-10-8-14 2-14 2 10 8zM1127 761l14-3 14-3-11-7-10-8-14 3-13 2 10 8zM1155 755l13-3 14-3-10-8-11-7-13 3-14 3 10 8zM1203 764l13-4 14-4-11-8-10-7-13 4-14 4 10 7zM1182 749l14-4 13-4-10-8-10-7-14 4-14 4 11 7zM1230 756l13-5 14-5-11-8-10-7-13 5-14 5 10 7zM1278 761l13-6 14-5-11-8-10-7-14 5-13 6 10 7z" fill="#0fd"/>
<path d="M1085 799l14-1 14 0-10-8-11-8-14 1-14 0 10 8zM1113 798l14-1 14-2-11-8-10-7-14 1-14 1 11 8zM1141 795l14-2 14-2-11-7-10-8-14 2-14 2 10 7zM1169 791l13-2 14-3-10-8-11-7-13 2-14 3 10 8zM1148 776l14-3 13-2-10-8-10-8-14 3-14 3 10 7zM1196 786l14-3 14-4-11-8-10-7-14 3-14 4 11 7zM1175 771l14-4 14-3-11-8-10-7-14 3-13 3 10 8zM1224 779l13-4 14-4-11-8-10-7-14 4-13 4 10 7zM1251 771l13-5 14-5-11-8-10-7-14 5-13 5 10 7z" fill="#0fe"/>
<path d="M934 326l12-10 13-9-9-3-8-3-13 10-12 9 9 3zM1082 355l12-11 12-11-9-4-9-4-12 12-12 10 9 4zM1064 347l12-10 12-12-9-3-9-4-12 11-12 11 9 4zM1046 340l12-11 12-11-9-4-9-3-12 11-12 11 9 3zM1218 385l13-12 12-13-9-5-10-4-12 13-13 12 10 4zM1199 376l13-12 12-13-9-5-10-4-12 12-13 13 10 4zM1180 367l13-13 12-12-9-4-10-5-12 13-12 12 9 4zM1321 400l13-14 13-14-10-5-10-5-13 14-12 14 9 5zM1302 390l12-14 13-14-10-5-10-5-12 14-13 13 10 5zM1448 427l13-15 13-15-10-6-10-6-13 16-13 15 10 6zM1428 416l13-15 13-16-11-5-10-6-13 16-13 15 10 5zM1559 445l13-16 13-17-10-6-11-6-13 16-14 17 11 6zM1537 433l14-17 13-16-11-6-10-6-14 16-13 17 11 6z" fill="#cf0"/>
<path d="M1028 333l12-11 12-11-8-3-9-4-12 11-13 11 9 3zM1010 326l13-11 12-11-9-3-9-3-12 11-12 10 9 3zM993 319l12-10 12-11-8-3-9-3-12 10-12 11 8 3zM976 313l12-11 12-10-9-3-8-3-12 11-12 10 8 3zM959 307l12-10 12-11-9-3-8-3-12 11-12 10 8 3zM1162 358l12-12 12-13-9-4-9-4-13 12-12 12 9 4zM1143 349l12-12 13-12-9-4-10-4-12 12-12 12 9 4zM1282 379l13-13 12-14-9-5-10-5-13 14-12 14 9 4zM1263 370l12-14 13-14-10-4-10-5-12 14-13 13 10 5zM1407 405l13-15 13-16-10-5-10-6-13 16-13 14 10 6zM1387 393l13-14 13-16-10-5-11-5-12 15-13 15 10 5zM1516 421l13-17 14-16-11-6-11-6-13 16-13 17 11 6zM1651 451l13-18 14-18-11-7-11-6-14 18-13 17 11 7zM1629 437l13-17 14-18-11-7-11-6-14 18-13 18 11 6z" fill="#df0"/>
<path d="M1125 341l12-12 12-12-9-4-9-4-12 12-13 12 9 4zM1106 333l13-12 12-12-9-4-9-3-12 12-13 11 9 4zM1088 325l13-11 12-12-9-4-9-3-12 11-13 12 9 4zM1243 360l13-13 12-14-9-4-10-5-12 14-13 13 10 4zM1224 351l13-13 12-14-9-4-10-5-12 14-13 13 10 4zM1367 383l13-15 12-15-10-5-10-5-12 15-13 14 10 5zM1495 409l13-17 13-16-10-6-11-6-13 17-13 16 11 6zM1474 397l13-16 13-17-10-5-10-6-13 17-13 15 10 6zM1607 425l13-18 14-18-11-6-11-6-13 18-14 17 11 6z" fill="#ef0"/>
<path d="M1070 318l13-12 12-11-9-4-9-3-12 12-13 11 9 3zM1052 311l13-11 12-12-9-4-9-3-12 12-12 11 9 4zM1035 304l12-11 12-12-9-3-8-3-13 12-12 11 9 3zM1017 298l12-11 13-12-9-3-9-3-12 12-12 11 9 3zM1000 292l12-11 12-12-9-3-8-2-12 11-12 11 8 3zM983 286l12-11 12-11-9-3-8-3-12 12-12 10 8 3zM1205 342l13-13 12-14-9-4-10-4-12 13-13 13 10 5zM1186 333l13-13 12-13-9-4-9-4-13 13-12 13 9 4zM1347 372l13-14 12-15-10-5-10-5-12 15-13 14 10 5zM1327 362l13-14 12-15-9-5-10-5-13 15-13 14 10 5zM1454 385l13-15 13-17-11-5-10-6-13 16-13 16 10 6zM1585 412l14-17 13-18-11-6-11-6-13 17-13 18 11 6z" fill="#ff0"/>
<path d="M1168 325l12-13 13-13-10-4-9-4-12 13-13 13 10 4zM1149 317l13-13 12-13-9-4-9-4-13 13-12 13 9 4zM1131 309l12-13 13-13-10-3-9-4-12 13-12 13 9 3zM1307 352l13-14 13-15-10-5-10-5-13 15-12 14 10 5zM1288 342l12-14 13-15-10-4-9-5-13 15-13 14 10 5zM1433 374l13-16 13-16-10-5-11-5-12 16-13 15 10 6zM1413 363l13-15 12-16-10-6-10-5-13 16-13 16 11 5zM1564 400l13-18 13-17-10-6-11-6-13 17-13 18 10 6zM1543 388l13-18 13-17-11-6-10-6-14 18-13 17 11 6zM1678 415l13-19 14-19-11-7-12-6-13 19-13 19 11 6z" fill="#fe0"/>
<path d="M1113 302l12-13 12-13-9-3-9-4-12 13-12 13 9 3zM1095 295l12-13 12-13-9-3-9-3-12 12-12 13 9 3zM1077 288l12-13 12-12-9-3-9-4-12 13-12 12 9 3zM1059 281l12-12 12-13-8-3-9-2-12 12-12 12 8 3zM1042 275l12-12 12-12-9-3-9-3-12 12-12 12 9 3zM1268 333l13-14 13-15-10-4-10-4-12 14-13 14 10 5zM1249 324l13-14 12-14-9-5-10-4-12 14-13 14 10 5zM1230 315l13-14 12-14-9-4-10-4-12 14-13 14 10 4zM1392 353l13-16 13-16-10-5-10-5-13 16-13 16 10 5zM1372 343l13-16 13-16-10-5-10-5-13 16-13 16 10 5zM1521 376l13-17 14-18-11-5-10-6-14 17-13 17 11 6zM1500 364l13-17 14-17-11-6-10-5-13 17-13 17 10 6zM1656 402l13-19 13-19-11-6-11-6-13 19-13 18 11 6zM1634 389l13-18 13-19-11-7-10-6-14 19-13 19 11 6z" fill="#fd0"/>
<path d="M1024 269l12-12 12-12-8-3-9-2-12 12-12 12 8 2zM1007 264l12-12 12-12-9-3-8-2-12 12-12 11 8 3zM1211 307l13-14 12-14-9-4-10-4-12 14-12 14 9 4zM1193 299l12-14 12-14-9-4-9-4-13 14-12 14 9 4zM1174 291l12-14 13-14-10-3-9-4-12 14-12 13 9 4zM1352 333l13-16 13-16-10-4-10-5-13 16-12 15 10 5zM1333 323l12-15 13-16-10-5-10-4-12 15-13 15 10 5zM1480 353l13-17 13-17-11-6-10-5-13 17-13 17 10 6zM1612 377l13-19 14-19-11-6-11-5-13 18-14 19 11 6z" fill="#fc0"/>
<path d="M1156 283l12-13 12-14-9-3-9-4-12 14-13 13 9 4zM1137 276l13-13 12-14-9-3-9-4-13 14-12 13 9 4zM1119 269l12-13 13-14-9-3-9-3-13 14-12 13 9 3zM1313 313l13-15 12-15-9-5-10-4-13 15-12 15 9 5zM1294 304l12-15 13-15-10-5-10-4-12 16-13 15 10 4zM1459 342l13-17 13-17-10-5-11-5-13 17-13 17 11 5zM1438 332l13-17 13-17-10-5-10-5-13 17-13 16 10 5zM1590 365l14-19 13-18-11-6-11-6-13 19-13 18 11 6zM1569 353l13-18 13-19-10-6-11-5-13 18-13 18 10 6z" fill="#fb0"/>
<path d="M1101 263l12-13 13-14-9-3-9-3-12 13-13 13 9 4zM1083 256l13-13 12-13-9-3-9-3-12 14-12 13 9 2zM1066 251l12-13 12-14-9-2-9-3-12 13-12 13 9 3zM1048 245l12-13 12-13-8-3-9-2-12 13-12 13 9 2zM1031 240l12-13 12-13-9-3-8-2-12 13-12 13 8 2zM1274 296l13-15 12-16-9-4-10-4-12 15-13 15 10 4zM1255 287l13-15 12-15-9-4-10-4-12 15-13 15 10 4zM1236 279l13-15 12-15-9-4-10-4-12 15-13 15 10 4zM1418 321l13-16 13-17-10-5-10-5-13 17-13 16 10 5zM1398 311l13-16 13-17-11-5-10-5-12 17-13 16 10 5zM1548 341l13-18 13-18-11-6-10-6-13 19-13 18 10 6z" fill="#fa0"/>
<path d="M1217 271l13-15 12-15-9-3-10-4-12 15-12 14 9 4zM1199 263l12-14 12-15-9-4-9-3-12 15-13 14 9 4zM1180 256l13-14 12-15-9-4-10-3-12 15-12 14 9 4zM1378 301l13-16 12-17-10-4-10-5-12 17-13 16 10 5zM1358 292l13-16 12-17-9-5-10-4-13 17-13 16 10 4zM1527 330l13-18 13-19-11-5-10-5-13 18-13 18 10 5zM1506 319l13-18 13-18-11-6-10-5-13 18-13 18 10 5z" fill="#f90"/>
<path d="M1162 249l12-14 12-15-9-3-9-3-12 14-12 14 9 4zM1144 242l12-14 12-14-9-3-9-3-12 14-12 14 9 3zM1126 236l12-14 12-14-9-3-9-3-12 14-12 14 9 3zM1108 230l12-14 12-14-9-3-9-3-12 15-12 13 9 3zM1338 283l13-16 13-17-10-4-10-5-13 17-12 16 10 4zM1319 274l12-16 13-17-10-4-9-4-13 16-13 16 10 4zM1485 308l13-18 13-18-10-5-11-5-13 18-13 18 11 5z" fill="#f80"/>
<path d="M1090 224l12-13 12-15-9-2-9-3-12 14-12 14 9 3zM1072 219l12-14 12-14-8-2-9-3-12 14-12 14 9 2zM1055 214l12-14 12-14-9-2-9-2-12 14-11 13 8 2zM1299 265l13-16 13-16-10-4-10-4-12 16-13 16 10 4zM1280 257l13-16 12-16-9-4-10-4-12 16-13 16 10 4zM1261 249l13-16 12-16-9-4-10-3-12 16-13 15 10 4zM1464 298l13-18 13-18-10-5-10-5-13 18-13 18 10 5zM1444 288l13-18 13-18-11-5-10-5-13 18-12 18 10 5z" fill="#f70"/>
<path d="M1242 241l13-15 12-16-9-4-10-3-12 16-13 15 10 4zM1223 234l13-15 12-16-9-4-10-3-12 16-12 15 9 3zM1205 227l12-15 12-16-9-3-9-4-12 16-13 15 10 3zM1424 278l12-18 13-18-10-4-10-5-13 18-13 17 10 5zM1403 268l13-17 13-18-10-4-10-5-13 18-13 17 10 5z" fill="#f60"/>
<path d="M1186 220l13-15 12-16-9-3-9-3-13 16-12 15 9 3zM1168 214l12-15 13-16-10-3-9-3-12 16-12 15 9 3zM1150 208l12-15 12-16-9-2-9-3-12 15-12 15 9 3zM1132 202l12-15 12-15-9-3-9-2-12 15-12 14 9 3zM1114 196l12-14 12-15-9-3-9-2-12 15-12 14 9 3zM1096 191l12-14 12-15-8-3-9-2-12 15-12 14 9 3zM1383 259l13-17 13-18-10-4-10-5-13 18-12 17 10 4zM1364 250l12-17 13-18-10-4-10-4-12 17-13 17 10 5zM1344 241l13-17 12-17-9-4-10-4-13 17-12 17 9 4z" fill="#f50"/>
<path d="M1079 186l12-14 12-15-9-2-9-2-12 15-12 14 9 2zM1325 233l12-17 13-17-10-4-10-4-12 17-13 17 10 4zM1305 225l13-17 12-17-9-4-10-3-12 17-13 16 10 4z" fill="#f40"/>
<path d="M1286 217l13-16 12-17-10-4-9-4-13 17-12 17 10 3zM1267 210l12-17 13-17-10-3-9-4-12 17-13 17 10 3zM1248 203l13-17 12-17-10-3-9-3-12 17-13 16 10 3zM1229 196l13-16 12-17-9-3-10-3-12 16-12 16 9 4z" fill="#f30"/>
<path d="M1211 189l12-16 12-16-9-3-9-3-12 16-12 16 9 3zM1193 183l12-16 12-16-9-3-9-3-13 17-12 15 9 3zM1174 177l12-15 13-17-10-2-9-3-12 16-12 16 9 3zM1156 172l12-16 12-16-9-3-9-2-12 16-12 16 9 2zM1138 167l12-16 12-16-9-2-9-3-12 16-12 16 9 2zM1120 162l12-16 12-16-8-2-9-2-12 16-12 15 9 2z" fill="#f20"/>
<path d="M1103 157l12-15 12-16-9-2-9-2-12 16-12 15 9 2z" fill="#f10"/>
<path d="M879 767l-10-8-10-8-10-8-11-8-10-8-10-7-10-8-10-8-10-8-10-7-9-8-10-7-10-8-10-7-9-8-10-7-10-7-9-8-10-7-9-7-9-7-10-7-9-7-9-7-10-7-9-6-9-7-9-7-9-6-9-7-9-6-9-7-9-6-9-6-9-7-9-6-8-6-9-6-9-6-9-6-8-6-9-6-8-5-9-6-8-6-9-5-8-6-8-5-9-5-8-6-8-5-8-5-8-5-8-5-8-5-9-5-7-5-8-4-8-5-8-5M895 772l-11-8-10-8-10-8-10-8-11-8-10-8-10-8-10-7-10-8-9-8-10-7-10-8-10-7-10-8-9-7-10-7-9-8-10-7-10-7-9-7-9-7-10-7-9-7-9-7-10-7-9-7-9-6-9-7-9-6-9-7-9-6-9-7-9-6-9-6-9-7-9-6-9-6-8-6-9-6-9-6-8-6-9-5-8-6-9-6-8-5-9-6-8-5-8-6-9-5-8-5-8-6-8-5-9-5-8-5-8-5-8-4-8-5-8-5-8-5-7-4M910 776l-11-8-10-8-10-8-10-8-10-8-10-8-11-7-10-8-9-8-10-7-10-8-10-8-10-7-10-7-9-8-10-7-9-7-10-8-10-7-9-7-9-7-10-7-9-7-9-7-10-6-9-7-9-7-9-6-9-7-9-6-9-7-9-6-9-7-9-6-9-6-9-6-9-6-8-6-9-6-9-6-8-6-9-6-9-5-8-6-8-6-9-5-8-5-9-6-8-5-8-5-8-6-9-5-8-5-8-5-8-4-8-5-8-5-8-5-8-4-8-5M925 780l-11-8-10-8-10-8-10-8-10-8-11-8-10-8-10-7-9-8-10-8-10-7-10-8-10-7-10-7-9-8-10-7-10-7-9-7-10-8-9-7-10-7-9-7-9-7-10-6-9-7-9-7-9-7-9-6-10-7-9-6-9-7-9-6-9-6-8-6-9-7-9-6-9-6-9-6-8-6-9-6-9-5-8-6-9-6-8-5-9-6-8-5-9-6-8-5-8-5-9-6-8-5-8-5-8-5-8-5-8-5-8-4-8-5-8-5-8-4-8-5M940 783l-11-8-10-8-10-8-10-8-11-7-10-8-10-8-10-8-10-7-10-8-9-8-10-7-10-7-10-8-9-7-10-7-10-8-9-7-10-7-9-7-10-7-9-7-9-7-10-7-9-6-9-7-10-7-9-6-9-7-9-6-9-7-9-6-9-6-9-6-9-7-8-6-9-6-9-6-9-6-8-5-9-6-9-6-8-6-9-5-8-6-9-5-8-6-8-5-9-5-8-5-8-5-8-5-9-5-8-5-8-5-8-5-8-5-8-4-8-5-8-4M954 786l-10-8-10-8-10-8-11-7-10-8-10-8-10-8-10-8-10-7-10-8-10-7-9-8-10-7-10-8-10-7-9-7-10-7-10-7-9-8-10-7-9-7-9-6-10-7-9-7-9-7-10-7-9-6-9-7-9-6-9-7-9-6-9-6-9-7-9-6-9-6-9-6-9-6-8-6-9-6-9-6-8-5-9-6-9-6-8-5-9-6-8-5-9-6-8-5-8-5-9-5-8-5-8-5-8-5-8-5-8-5-9-5-8-4-8-5-8-5-7-4M969 789l-10-8-10-8-11-8-10-8-10-7-10-8-10-8-10-8-10-7-10-8-10-7-10-8-10-7-9-8-10-7-10-7-9-7-10-7-9-7-10-7-9-7-10-7-9-7-9-7-10-7-9-6-9-7-9-6-10-7-9-6-9-7-9-6-9-6-9-6-8-7-9-6-9-6-9-5-9-6-8-6-9-6-9-6-8-5-9-6-8-5-9-6-8-5-9-5-8-5-8-5-8-6-9-5-8-4-8-5-8-5-8-5-8-4-8-5-8-5-8-4M984 792l-10-8-11-8-10-8-10-8-10-8-10-8-10-7-10-8-10-8-10-7-10-8-10-7-10-8-10-7-9-7-10-7-10-8-9-7-10-7-9-7-10-7-9-7-10-6-9-7-9-7-10-6-9-7-9-7-9-6-9-6-9-7-9-6-9-6-9-6-9-6-9-6-9-6-9-6-8-6-9-6-9-6-8-5-9-6-8-5-9-6-8-5-9-5-8-6-9-5-8-5-8-5-8-5-9-5-8-5-8-5-8-4-8-5-8-4-8-5-8-4M999 794l-11-8-10-8-10-8-11-8-10-8-10-8-10-7-10-8-10-7-10-8-10-7-10-8-9-7-10-8-10-7-10-7-9-7-10-7-9-7-10-7-9-7-10-7-9-7-10-7-9-6-9-7-9-6-10-7-9-6-9-7-9-6-9-6-9-7-9-6-9-6-9-6-8-6-9-6-9-5-9-6-8-6-9-5-9-6-8-5-9-6-8-5-9-5-8-6-8-5-9-5-8-5-8-5-8-5-9-5-8-4-8-5-8-4-8-5-8-4-8-5M1013 795l-10-8-11-8-10-7-10-8-10-8-10-8-10-7-10-8-10-8-10-7-10-8-10-7-10-7-10-8-9-7-10-7-10-7-9-7-10-7-9-7-10-7-9-7-10-7-9-6-9-7-10-7-9-6-9-7-9-6-9-6-10-7-9-6-9-6-9-6-8-6-9-6-9-6-9-6-9-6-8-6-9-5-9-6-8-5-9-6-8-5-9-5-8-6-9-5-8-5-9-5-8-5-8-5-8-5-8-5-9-4-8-5-8-4-8-5-8-4-8-5M1028 797l-11-8-10-8-10-8-11-8-10-8-10-7-10-8-10-8-10-7-10-8-10-7-10-7-10-8-9-7-10-7-10-7-9-7-10-8-10-7-9-6-10-7-9-7-10-7-9-7-9-6-9-7-10-6-9-7-9-6-9-6-9-7-9-6-9-6-9-6-9-6-9-6-9-6-9-6-9-6-8-5-9-6-9-5-8-6-9-5-8-6-9-5-8-5-9-5-8-6-8-5-9-5-8-4-8-5-8-5-9-5-8-4-8-5-8-4-8-5-8-4M1042 798l-10-8-11-8-10-8-10-8-10-7-11-8-10-8-10-7-10-8-10-7-10-8-9-7-10-7-10-8-10-7-10-7-9-7-10-7-9-7-10-7-9-7-10-7-9-6-10-7-9-7-9-6-10-7-9-6-9-7-9-6-9-6-9-6-9-6-9-6-9-6-9-6-9-6-9-6-8-6-9-5-9-6-9-6-8-5-9-5-8-6-9-5-8-5-9-5-8-5-8-5-9-5-8-5-8-5-9-5-8-4-8-5-8-4-8-5-8-4-8-4M1056 799l-10-8-10-8-11-8-10-8-10-8-10-7-10-8-10-7-10-8-10-7-10-8-10-7-10-8-10-7-10-7-9-7-10-7-10-7-9-7-10-7-9-7-10-7-9-6-10-7-9-6-9-7-9-6-10-7-9-6-9-7-9-6-9-6-9-6-9-6-9-6-9-6-9-6-9-5-8-6-9-6-9-5-9-6-8-5-9-6-8-5-9-5-8-5-9-6-8-5-9-5-8-4-8-5-8-5-9-5-8-4-8-5-8-4-8-5-8-4-8-4M1070 799l-10-8-10-8-10-8-11-7-10-8-10-8-10-7-10-8-10-8-10-7-10-7-10-8-10-7-10-7-9-7-10-7-10-7-9-7-10-7-10-7-9-7-10-7-9-6-9-7-10-7-9-6-9-7-10-6-9-6-9-7-9-6-9-6-9-6-9-6-9-6-9-6-9-6-9-5-9-6-8-6-9-5-9-6-8-5-9-5-9-6-8-5-9-5-8-5-8-5-9-5-8-5-8-5-9-4-8-5-8-5-8-4-8-5-8-4-8-4-8-4M1085 799l-11-8-10-8-10-8-11-7-10-8-10-8-10-7-10-8-10-7-10-8-10-7-10-7-10-8-10-7-9-7-10-7-10-7-9-7-10-7-10-7-9-7-10-6-9-7-9-7-10-6-9-7-9-6-10-6-9-7-9-6-9-6-9-6-9-6-9-6-9-6-9-6-9-6-9-5-9-6-8-6-9-5-9-6-9-5-8-5-9-6-8-5-9-5-8-5-9-5-8-5-8-5-9-4-8-5-8-5-8-4-9-5-8-4-8-4-8-5-8-4M1099 798l-11-7-10-8-10-8-10-8-11-7-10-8-10-8-10-7-10-8-10-7-10-7-10-8-10-7-10-7-9-7-10-7-10-7-9-7-10-7-10-7-9-6-10-7-9-7-10-6-9-7-9-6-10-7-9-6-9-6-9-7-9-6-9-6-9-6-9-6-9-6-9-5-9-6-9-6-9-6-9-5-8-6-9-5-9-5-8-6-9-5-9-5-8-5-9-5-8-5-8-5-9-5-8-4-8-5-9-5-8-4-8-5-8-4-8-4-8-5-8-4M1113 798l-10-8-11-8-10-8-10-7-11-8-10-8-10-7-10-8-10-7-10-7-10-8-10-7-10-7-10-7-9-7-10-7-10-7-10-7-9-7-10-7-9-7-10-6-9-7-10-7-9-6-9-7-10-6-9-6-9-6-9-7-9-6-10-6-9-6-9-6-9-6-9-5-8-6-9-6-9-5-9-6-9-5-8-6-9-5-9-5-8-5-9-6-8-5-9-5-8-4-9-5-8-5-8-5-9-4-8-5-8-4-8-5-9-4-8-5-8-4-8-4M1127 797l-10-8-11-8-10-8-10-7-11-8-10-8-10-7-10-8-10-7-10-7-10-8-10-7-10-7-10-7-10-7-9-7-10-7-10-7-9-7-10-7-9-6-10-7-9-7-10-6-9-7-10-6-9-6-9-7-9-6-10-6-9-6-9-6-9-6-9-6-9-6-9-6-9-5-9-6-9-5-8-6-9-5-9-6-8-5-9-5-9-5-8-5-9-5-8-5-9-5-8-5-9-5-8-4-8-5-9-5-8-4-8-4-8-5-8-4-8-4-8-4M1141 795l-11-8-10-7-10-8-10-8-11-7-10-8-10-7-10-8-10-7-10-8-10-7-10-7-10-7-10-7-10-7-9-7-10-7-10-7-10-7-9-7-10-6-9-7-10-6-9-7-10-6-9-7-9-6-9-6-10-7-9-6-9-6-9-6-9-6-9-6-9-5-9-6-9-6-9-5-9-6-9-5-9-6-8-5-9-5-9-5-8-6-9-5-8-5-9-5-8-4-9-5-8-5-9-5-8-4-8-5-8-4-9-4-8-5-8-4-8-4-8-4M1155 793l-11-7-10-8-10-8-11-7-10-8-10-8-10-7-10-7-10-8-10-7-10-7-10-8-10-7-10-7-10-7-10-7-9-7-10-6-10-7-9-7-10-7-9-6-10-7-9-6-10-7-9-6-10-6-9-6-9-7-9-6-9-6-10-6-9-6-9-5-9-6-9-6-9-6-9-5-8-6-9-5-9-5-9-6-8-5-9-5-9-5-8-5-9-5-8-5-9-5-8-5-9-4-8-5-8-4-9-5-8-4-8-5-8-4-9-4-8-4-8-4M1169 791l-11-7-10-8-11-8-10-7-10-8-10-8-10-7-11-7-10-8-10-7-10-7-10-7-10-8-9-7-10-7-10-6-10-7-9-7-10-7-10-7-9-6-10-7-9-6-10-7-9-6-10-6-9-7-9-6-9-6-10-6-9-6-9-6-9-6-9-6-9-5-9-6-9-6-9-5-9-6-9-5-9-5-8-6-9-5-9-5-8-5-9-5-9-5-8-5-9-5-8-4-8-5-9-5-8-4-8-4-9-5-8-4-8-4-8-4-8-4-9-4M1182 789l-10-8-10-8-11-7-10-8-10-7-11-8-10-7-10-8-10-7-10-7-10-7-10-8-10-7-10-7-10-7-9-7-10-6-10-7-9-7-10-7-10-6-9-7-10-6-9-7-10-6-9-6-9-7-10-6-9-6-9-6-9-6-10-6-9-6-9-5-9-6-9-6-9-5-9-6-9-5-8-6-9-5-9-5-9-5-8-5-9-5-9-5-8-5-9-5-8-5-9-4-8-5-9-5-8-4-8-4-9-5-8-4-8-4-8-4-8-4-8-4M1196 786l-10-8-11-7-10-8-10-8-11-7-10-8-10-7-10-7-10-8-10-7-10-7-10-7-10-7-10-7-10-7-10-7-10-7-9-7-10-6-10-7-9-7-10-6-9-7-10-6-9-6-10-7-9-6-9-6-10-6-9-6-9-6-9-6-9-6-9-5-9-6-9-6-9-5-9-6-9-5-9-5-9-6-9-5-8-5-9-5-9-5-8-5-9-5-9-4-8-5-9-5-8-4-8-5-9-4-8-5-8-4-9-4-8-4-8-4-8-4-8-4M1210 783l-11-8-10-8-10-7-11-8-10-7-10-8-10-7-10-7-11-8-10-7-10-7-10-7-10-7-10-7-9-7-10-7-10-7-10-6-9-7-10-7-10-6-9-7-10-6-9-7-10-6-9-6-9-6-10-6-9-6-9-6-10-6-9-6-9-6-9-6-9-5-9-6-9-5-9-6-9-5-9-5-9-6-8-5-9-5-9-5-9-5-8-5-9-5-8-4-9-5-8-5-9-4-8-5-9-4-8-4-8-5-9-4-8-4-8-4-8-4-8-4M1224 779l-11-8-10-7-11-8-10-7-10-8-11-7-10-8-10-7-10-7-10-7-10-7-10-7-10-7-10-7-10-7-10-7-9-7-10-7-10-6-10-7-9-6-10-7-9-6-10-6-9-7-10-6-9-6-9-6-10-6-9-6-9-6-9-6-10-6-9-5-9-6-9-5-9-6-9-5-9-6-9-5-8-5-9-5-9-5-9-5-8-5-9-5-9-5-8-4-9-5-8-5-9-4-8-5-9-4-8-4-8-4-8-5-9-4-8-4-8-4-8-3M1237 775l-10-8-11-7-10-8-10-7-11-8-10-7-10-7-10-8-10-7-11-7-10-7-10-7-10-7-10-7-9-7-10-7-10-6-10-7-9-7-10-6-10-7-9-6-10-7-9-6-10-6-9-6-10-6-9-6-9-6-10-6-9-6-9-6-9-6-9-5-10-6-9-5-9-6-9-5-8-5-9-6-9-5-9-5-9-5-9-5-8-5-9-5-9-4-8-5-9-5-8-4-9-5-8-4-9-4-8-5-8-4-9-4-8-4-8-4-8-4-8-3M1251 771l-11-8-10-7-11-8-10-7-10-8-10-7-11-8-10-7-10-7-10-7-10-7-10-7-10-7-10-7-10-7-10-7-10-6-9-7-10-7-10-6-9-7-10-6-10-6-9-7-10-6-9-6-9-6-10-6-9-6-9-6-10-6-9-5-9-6-9-6-9-5-9-6-9-5-9-5-9-6-9-5-9-5-9-5-9-5-8-5-9-5-9-5-9-4-8-5-9-4-8-5-9-4-8-5-9-4-8-4-8-4-9-4-8-4-8-4-8-4-8-4M1264 766l-10-8-11-7-10-8-10-7-11-8-10-7-10-7-10-7-11-7-10-8-10-7-10-7-10-7-10-6-10-7-9-7-10-7-10-6-10-7-9-6-10-7-10-6-9-6-10-7-9-6-10-6-9-6-10-6-9-6-9-6-10-5-9-6-9-6-9-5-9-6-9-5-9-6-9-5-9-5-9-5-9-5-9-5-9-5-8-5-9-5-9-5-9-4-8-5-9-5-8-4-9-4-8-5-9-4-8-4-8-4-9-4-8-4-8-4-8-4-9-4M1278 761l-11-8-10-7-11-8-10-7-10-7-11-8-10-7-10-7-10-7-10-7-10-7-10-7-10-7-10-7-10-7-10-7-10-6-10-7-9-6-10-7-10-6-10-6-9-7-10-6-9-6-10-6-9-6-9-6-10-6-9-6-9-6-10-5-9-6-9-5-9-6-9-5-9-6-9-5-9-5-9-5-9-5-9-5-9-5-9-5-8-5-9-4-9-5-8-5-9-4-8-4-9-5-8-4-9-4-8-4-9-4-8-4-8-4-8-4-9-4-8-4M1291 755l-10-7-11-8-10-7-10-8-11-7-10-7-10-7-11-7-10-8-10-7-10-7-10-7-10-6-10-7-10-7-10-7-10-6-9-7-10-6-10-7-10-6-9-6-10-7-9-6-10-6-9-6-10-6-9-6-10-6-9-5-9-6-10-6-9-5-9-6-9-5-9-6-9-5-9-5-9-5-9-5-9-5-9-5-9-5-9-5-8-5-9-4-9-5-8-4-9-5-9-4-8-5-9-4-8-4-8-4-9-4-8-4-8-4-9-4-8-3-8-4M1305 750l-11-8-10-7-11-8-10-7-10-8-11-7-10-7-10-7-10-7-11-7-10-7-10-7-10-7-10-7-10-6-10-7-9-7-10-6-10-7-10-6-9-6-10-7-10-6-9-6-10-6-9-6-10-6-9-6-10-6-9-5-9-6-10-6-9-5-9-6-9-5-9-5-9-6-9-5-9-5-9-5-9-5-9-5-9-5-9-4-8-5-9-5-9-4-9-5-8-4-9-4-8-5-9-4-8-4-9-4-8-4-8-4-9-4-8-4-8-3-9-4M1318 743l-10-7-11-8-10-7-11-7-10-8-10-7-11-7-10-7-10-7-10-7-10-7-10-7-10-7-10-7-10-6-10-7-10-6-10-7-10-6-10-7-9-6-10-6-10-6-9-6-10-6-9-6-10-6-9-6-10-6-9-6-9-5-10-6-9-5-9-6-9-5-9-5-9-6-9-5-9-5-9-5-9-5-9-5-9-4-9-5-9-5-8-4-9-5-9-4-8-5-9-4-9-4-8-4-9-4-8-4-8-4-9-4-8-4-8-4-9-3-8-4M1332 737l-11-8-10-7-11-8-10-7-11-7-10-7-10-8-11-7-10-7-10-7-10-6-10-7-10-7-10-7-10-6-10-7-10-6-10-7-10-6-9-7-10-6-10-6-10-6-9-6-10-6-9-6-10-6-9-6-10-6-9-5-9-6-10-5-9-6-9-5-9-6-9-5-9-5-9-5-10-5-9-5-8-5-9-5-9-5-9-4-9-5-9-4-8-5-9-4-9-5-8-4-9-4-8-4-9-4-8-4-9-4-8-4-9-4-8-3-8-4-8-3M1345 730l-11-8-10-7-11-8-10-7-10-7-11-7-10-7-10-7-11-7-10-7-10-7-10-7-10-7-10-6-10-7-10-7-10-6-10-6-10-7-9-6-10-6-10-6-9-7-10-6-10-6-9-5-10-6-9-6-10-6-9-5-9-6-10-5-9-6-9-5-9-5-9-6-10-5-9-5-9-5-9-5-9-5-9-4-8-5-9-5-9-4-9-5-9-4-8-5-9-4-9-4-8-4-9-4-8-4-9-4-8-4-9-4-8-4-8-3-9-4-8-3M1358 722l-10-7-11-8-10-7-11-7-10-7-10-8-11-7-10-7-10-7-11-6-10-7-10-7-10-7-10-6-10-7-10-6-10-7-10-6-10-7-9-6-10-6-10-6-9-6-10-6-10-6-9-6-10-6-9-5-10-6-9-6-9-5-10-6-9-5-9-5-9-6-10-5-9-5-9-5-9-5-9-5-9-5-9-4-9-5-9-5-8-4-9-5-9-4-9-4-8-5-9-4-9-4-8-4-9-4-8-4-9-3-8-4-8-4-9-3-8-4-8-3M1372 714l-11-7-10-7-11-8-10-7-11-7-10-7-11-7-10-7-10-7-10-7-11-7-10-6-10-7-10-7-10-6-10-7-10-6-10-7-9-6-10-6-10-6-10-6-9-6-10-6-10-6-9-6-10-6-9-5-10-6-9-6-10-5-9-5-9-6-9-5-10-5-9-5-9-5-9-5-9-5-9-5-9-5-9-5-9-4-9-5-9-4-9-5-8-4-9-4-9-5-8-4-9-4-9-4-8-4-9-3-8-4-9-4-8-3-8-4-9-3-8-4M1385 706l-11-7-10-8-11-7-10-7-11-7-10-7-10-7-11-7-10-7-10-7-10-7-11-6-10-7-10-7-10-6-10-6-10-7-10-6-9-6-10-7-10-6-10-6-9-6-10-6-10-5-9-6-10-6-9-6-10-5-9-6-10-5-9-6-9-5-10-5-9-5-9-5-9-5-9-5-9-5-9-5-9-5-9-4-9-5-9-4-9-5-9-4-9-5-8-4-9-4-9-4-8-4-9-4-9-4-8-4-9-3-8-4-9-4-8-3-8-3-9-4M1398 697l-10-7-11-7-10-7-11-8-10-7-11-7-10-7-11-7-10-6-10-7-10-7-10-7-11-6-10-7-10-6-10-7-10-6-10-6-9-6-10-7-10-6-10-6-10-6-9-5-10-6-9-6-10-6-10-5-9-6-9-5-10-6-9-5-10-5-9-5-9-6-9-5-10-5-9-5-9-4-9-5-9-5-9-4-9-5-9-4-9-5-8-4-9-4-9-5-9-4-8-4-9-4-9-4-8-3-9-4-8-4-9-3-8-4-8-3-9-4-8-3M1412 688l-11-7-11-7-10-7-11-8-10-7-11-7-10-6-10-7-11-7-10-7-10-7-10-6-10-7-11-6-10-7-10-6-10-6-10-7-9-6-10-6-10-6-10-6-10-6-9-6-10-5-10-6-9-6-10-5-9-6-10-5-9-6-9-5-10-5-9-5-9-5-10-5-9-5-9-5-9-5-9-5-9-4-9-5-9-4-9-5-9-4-9-4-9-5-8-4-9-4-9-4-9-4-8-4-9-3-8-4-9-4-8-3-9-4-8-3-9-3-8-4M1425 679l-11-7-10-8-11-7-11-7-10-7-10-7-11-7-10-7-11-6-10-7-10-7-10-6-10-7-11-6-10-7-10-6-10-6-10-6-9-7-10-6-10-6-10-6-10-5-9-6-10-6-10-6-9-5-10-6-9-5-10-6-9-5-10-5-9-5-9-5-10-5-9-5-9-5-9-5-9-5-10-5-9-4-9-5-9-4-9-5-8-4-9-4-9-4-9-4-9-4-8-4-9-4-9-4-8-4-9-3-8-4-9-3-8-4-9-3-8-3-9-4M1438 669l-11-7-10-7-11-8-10-7-11-7-10-7-11-6-10-7-10-7-11-7-10-6-10-7-10-6-10-7-11-6-10-6-10-7-10-6-10-6-9-6-10-6-10-6-10-5-10-6-9-6-10-6-10-5-9-6-10-5-9-5-10-6-9-5-9-5-10-5-9-5-9-5-10-5-9-5-9-4-9-5-9-4-9-5-9-4-9-5-9-4-9-4-9-4-8-4-9-4-9-4-9-4-8-4-9-3-9-4-8-3-9-4-8-3-9-4-8-3-8-3M1451 659l-10-8-11-7-11-7-10-7-11-7-10-7-11-6-10-7-10-7-11-7-10-6-10-7-10-6-10-6-11-7-10-6-10-6-10-6-10-6-10-6-9-6-10-6-10-6-10-6-9-5-10-6-10-5-9-6-10-5-9-5-10-6-9-5-10-5-9-5-9-5-10-5-9-5-9-4-9-5-9-5-9-4-10-5-9-4-9-4-8-4-9-5-9-4-9-4-9-4-9-3-8-4-9-4-9-3-8-4-9-3-8-4-9-3-8-3-9-4-8-3M1465 648l-11-7-11-7-10-7-11-7-10-7-11-7-10-7-11-7-10-6-11-7-10-6-10-7-10-6-10-7-11-6-10-6-10-6-10-6-10-6-10-6-9-6-10-6-10-6-10-5-10-6-9-6-10-5-10-5-9-6-10-5-9-5-10-5-9-5-9-5-10-5-9-5-9-5-10-5-9-4-9-5-9-4-9-5-9-4-9-4-9-4-9-4-9-4-9-4-8-4-9-4-9-4-9-3-8-4-9-3-9-4-8-3-9-3-8-4-8-3-9-3M1478 637l-11-7-11-7-10-7-11-7-10-7-11-7-10-7-11-7-10-6-10-7-11-6-10-7-10-6-10-6-11-7-10-6-10-6-10-6-10-6-10-6-10-6-9-5-10-6-10-6-10-5-10-6-9-5-10-6-9-5-10-5-9-5-10-5-9-5-10-5-9-5-9-5-10-4-9-5-9-5-9-4-9-5-10-4-9-4-9-4-9-5-9-4-8-4-9-3-9-4-9-4-9-4-8-3-9-4-9-3-8-4-9-3-8-3-9-3-8-3-9-3M1491 625l-11-7-10-7-11-7-11-7-10-7-11-6-10-7-11-7-10-6-10-7-11-6-10-7-10-6-10-6-11-7-10-6-10-6-10-6-10-6-10-6-10-5-10-6-10-6-9-5-10-6-10-5-9-6-10-5-10-5-9-5-10-5-9-5-10-5-9-5-10-5-9-5-9-5-9-4-10-5-9-4-9-4-9-5-9-4-9-4-9-4-9-4-9-4-9-4-9-4-9-3-8-4-9-4-9-3-8-3-9-4-9-3-8-3-9-3-8-3-9-3M1504 613l-10-7-11-7-11-7-10-7-11-6-11-7-10-7-11-7-10-6-10-7-11-6-10-6-10-7-11-6-10-6-10-6-10-6-10-6-10-6-10-6-10-6-10-5-10-6-10-5-9-6-10-5-10-6-9-5-10-5-10-5-9-5-10-5-9-5-10-5-9-5-9-4-10-5-9-5-9-4-9-4-10-5-9-4-9-4-9-4-9-4-9-4-9-4-9-4-8-4-9-3-9-4-9-3-9-4-8-3-9-3-8-3-9-4-9-3-8-2-9-3M1518 601l-11-7-11-7-11-7-10-7-11-7-10-6-11-7-10-7-11-6-10-7-11-6-10-6-10-7-11-6-10-6-10-6-10-6-10-6-10-6-10-5-10-6-10-6-10-5-10-6-10-5-9-6-10-5-10-5-9-5-10-5-10-5-9-5-10-5-9-5-9-5-10-4-9-5-9-4-10-5-9-4-9-4-9-5-9-4-9-4-9-4-9-4-9-3-9-4-9-4-9-3-9-4-9-3-8-4-9-3-9-3-8-3-9-3-8-3-9-3-8-3M1531 588l-11-7-11-7-10-7-11-7-11-6-10-7-11-7-10-6-11-7-10-6-11-6-10-7-10-6-11-6-10-6-10-6-10-6-10-6-10-6-10-6-10-5-10-6-10-5-10-6-10-5-10-5-9-6-10-5-10-5-9-5-10-5-9-5-10-5-9-4-10-5-9-5-10-4-9-5-9-4-9-4-10-4-9-5-9-4-9-4-9-4-9-3-9-4-9-4-9-3-9-4-9-3-8-4-9-3-9-3-9-4-8-3-9-3-8-2-9-3-8-3M1544 574l-11-7-10-6-11-7-11-7-11-7-10-6-11-7-10-6-11-7-10-6-11-6-10-7-10-6-11-6-10-6-10-6-10-6-10-6-10-5-10-6-10-6-10-5-10-6-10-5-10-5-10-6-10-5-9-5-10-5-10-5-9-5-10-5-9-5-10-4-9-5-10-4-9-5-9-4-10-5-9-4-9-4-9-4-10-4-9-4-9-4-9-4-9-3-9-4-9-4-9-3-8-3-9-4-9-3-9-3-8-3-9-3-9-3-8-3-9-3-8-3M1557 561l-10-7-11-7-11-7-11-7-10-6-11-7-11-6-10-7-11-6-10-7-11-6-10-6-10-6-11-6-10-6-10-6-10-6-10-6-11-5-10-6-10-6-10-5-10-5-9-6-10-5-10-5-10-5-10-6-9-5-10-4-10-5-9-5-10-5-9-4-10-5-9-5-10-4-9-4-9-5-10-4-9-4-9-4-9-4-9-4-9-4-9-3-9-4-9-4-9-3-9-3-9-4-9-3-9-3-9-3-8-3-9-3-9-3-8-3-9-3-8-2M1571 546l-11-7-11-6-11-7-11-7-10-6-11-7-11-6-10-7-11-6-10-6-11-7-10-6-10-6-11-6-10-6-10-6-10-5-11-6-10-6-10-5-10-6-10-5-10-6-10-5-10-5-9-5-10-6-10-5-10-5-9-4-10-5-10-5-9-5-10-4-9-5-10-4-9-4-10-5-9-4-9-4-9-4-10-4-9-4-9-4-9-4-9-3-9-4-9-3-9-4-9-3-9-4-9-3-9-3-8-3-9-3-9-3-9-3-8-2-9-3-8-3M1584 532l-11-7-11-7-11-7-10-6-11-7-11-6-10-7-11-6-11-6-10-7-11-6-10-6-10-6-11-6-10-6-10-6-10-5-11-6-10-6-10-5-10-6-10-5-10-5-10-6-10-5-10-5-10-5-9-5-10-5-10-5-9-5-10-4-10-5-9-4-10-5-9-4-10-4-9-5-9-4-10-4-9-4-9-4-10-4-9-4-9-3-9-4-9-3-9-4-9-3-9-4-9-3-9-3-9-3-8-3-9-3-9-3-8-3-9-2-9-3-8-2M1597 516l-11-6-10-7-11-7-11-6-11-7-11-6-10-7-11-6-10-6-11-6-10-7-11-6-10-6-11-6-10-5-10-6-11-6-10-5-10-6-10-6-10-5-10-5-10-6-10-5-10-5-10-5-10-5-10-5-9-5-10-5-10-4-10-5-9-4-10-5-9-4-10-5-9-4-10-4-9-4-9-4-10-4-9-4-9-4-9-4-10-3-9-4-9-3-9-4-9-3-9-3-9-3-9-4-8-3-9-2-9-3-9-3-8-3-9-2-9-3-8-2M1611 501l-11-7-11-7-11-6-11-7-11-6-10-7-11-6-11-6-10-7-11-6-10-6-11-6-10-6-11-6-10-5-10-6-11-6-10-5-10-6-10-5-10-6-10-5-10-5-10-5-10-5-10-5-10-5-10-5-10-5-10-5-9-4-10-5-10-5-9-4-10-4-9-5-10-4-9-4-10-4-9-4-9-4-10-4-9-3-9-4-9-4-9-3-9-4-10-3-9-3-9-3-9-3-8-4-9-2-9-3-9-3-9-3-8-3-9-2-9-3-8-2M1624 484l-11-6-11-7-11-6-11-7-10-6-11-7-11-6-11-6-10-6-11-6-10-6-11-6-10-6-11-6-10-6-10-6-11-5-10-6-10-5-10-6-10-5-11-5-10-5-10-5-10-5-10-5-9-5-10-5-10-5-10-5-10-4-9-5-10-4-10-4-9-5-10-4-9-4-10-4-9-4-10-4-9-4-9-4-10-3-9-4-9-3-9-4-9-3-9-4-9-3-9-3-9-3-9-3-9-3-9-3-9-2-9-3-8-3-9-2-9-3-8-2M1637 468l-11-7-11-6-10-7-11-6-11-7-11-6-11-6-10-7-11-6-11-6-10-6-11-6-10-5-11-6-10-6-10-5-11-6-10-6-10-5-10-5-11-6-10-5-10-5-10-5-10-5-10-5-10-5-10-4-9-5-10-5-10-4-10-5-9-4-10-4-10-5-9-4-10-4-9-4-10-4-9-4-10-3-9-4-9-4-9-3-10-4-9-3-9-3-9-4-9-3-9-3-9-3-9-3-9-3-9-2-9-3-9-3-8-2-9-3-9-2-9-2M1651 451l-11-7-11-7-11-6-11-6-11-7-11-6-10-6-11-6-11-6-10-6-11-6-11-6-10-6-11-6-10-5-10-6-11-5-10-6-10-5-11-5-10-6-10-5-10-5-10-5-10-5-10-5-10-4-10-5-10-5-10-4-9-5-10-4-10-5-10-4-9-4-10-4-9-4-10-4-9-4-10-4-9-3-10-4-9-4-9-3-9-4-10-3-9-3-9-3-9-3-9-3-9-3-9-3-9-3-9-3-9-2-9-3-8-2-9-3-9-2-9-2M1664 433l-11-7-11-6-11-7-11-6-11-6-10-6-11-7-11-6-11-6-10-6-11-5-11-6-10-6-11-6-10-5-10-6-11-5-10-6-10-5-11-5-10-5-10-5-10-5-10-5-10-5-10-5-10-5-10-4-10-5-10-4-10-5-10-4-9-4-10-5-10-4-9-4-10-4-9-4-10-4-9-3-10-4-9-3-10-4-9-3-9-4-9-3-10-3-9-3-9-3-9-3-9-3-9-3-9-3-9-2-9-3-9-2-8-3-9-2-9-2-9-2M1678 415l-11-7-11-6-11-7-11-6-11-6-11-6-11-6-11-6-10-6-11-6-11-6-10-6-11-5-10-6-11-6-10-5-11-6-10-5-10-5-11-5-10-5-10-5-10-5-10-5-11-5-10-5-10-4-10-5-9-5-10-4-10-4-10-5-10-4-9-4-10-4-10-4-9-4-10-4-9-4-10-3-9-4-10-3-9-4-10-3-9-3-9-4-9-3-9-3-10-3-9-3-9-2-9-3-9-3-9-2-9-3-9-2-8-3-9-2-9-2-9-2M1691 396l-11-6-11-7-11-6-11-6-11-7-11-6-11-6-10-6-11-6-11-5-11-6-10-6-11-6-10-5-11-6-10-5-11-5-10-6-10-5-11-5-10-5-10-5-10-5-11-5-10-4-10-5-10-5-10-4-10-5-10-4-9-4-10-5-10-4-10-4-10-4-9-4-10-4-9-3-10-4-10-4-9-3-9-4-10-3-9-3-10-4-9-3-9-3-9-3-9-3-10-2-9-3-9-3-9-2-9-3-9-2-9-3-8-2-9-2-9-2-9-2M1705 377l-11-7-12-6-11-6-11-6-11-7-10-6-11-6-11-5-11-6-11-6-10-6-11-5-11-6-10-6-11-5-10-5-11-6-10-5-10-5-11-5-10-5-10-5-11-5-10-5-10-4-10-5-10-4-10-5-10-4-10-5-10-4-10-4-9-4-10-4-10-4-10-4-9-4-10-3-10-4-9-4-10-3-9-4-10-3-9-3-9-3-10-3-9-3-9-3-9-3-9-3-10-2-9-3-9-3-9-2-9-2-9-3-8-2-9-2-9-2-9-2M879 767l16 5 15 4 15 4 15 3 14 3 15 3 15 3 15 2 14 1 15 2 14 1 14 1 14 0 15 0 14-1 14 0 14-1 14-2 14-2 14-2 13-2 14-3 14-3 14-4 13-4 14-4 13-5 14-5 13-6 14-5 13-7 14-6 13-7 13-8 14-8 13-8 13-9 14-9 13-9 13-10 13-10 14-11 13-11 13-12 13-12 14-12 13-13 13-14 13-13 14-15 13-14 13-16 14-15 13-17 13-16 14-17 13-18 14-18 13-19 14-19M869 759l15 5 15 4 15 4 15 3 15 3 15 3 15 3 14 2 15 1 14 2 15 1 14 1 14 0 14 0 14 0 15-1 14-1 13-2 14-1 14-2 14-3 14-3 13-3 14-4 14-4 13-4 14-5 13-5 14-5 13-6 14-6 13-7 13-7 14-7 13-8 13-8 14-9 13-9 13-9 13-10 14-11 13-10 13-11 13-12 14-12 13-12 13-13 13-14 14-13 13-15 13-14 13-15 14-16 13-16 13-17 14-17 13-18 14-18 13-18 14-20M859 751l15 5 15 4 15 4 15 3 15 3 15 3 14 3 15 2 14 1 15 2 14 1 15 1 14 0 14 0 14 0 14-1 14-1 14-1 14-2 14-2 14-3 13-2 14-4 14-3 13-4 14-4 13-5 14-5 13-6 14-5 13-7 14-6 13-7 13-8 14-7 13-9 13-8 13-9 14-10 13-9 13-11 13-10 13-11 14-12 13-12 13-12 13-13 14-13 13-14 13-14 13-15 14-15 13-16 13-16 13-16 14-18 13-17 14-18 13-19 13-19M849 743l15 5 15 4 15 4 15 3 15 3 14 3 15 3 15 2 14 2 15 1 14 1 14 1 15 0 14 0 14 0 14-1 14-1 14-1 14-2 13-2 14-2 14-3 14-3 13-4 14-4 13-4 14-5 13-5 14-5 13-6 14-6 13-7 13-7 14-7 13-8 13-8 14-8 13-9 13-10 13-10 13-10 14-10 13-11 13-12 13-12 13-12 14-13 13-13 13-14 13-14 13-15 14-15 13-15 13-16 14-17 13-17 13-18 14-18 13-18 13-19M838 735l16 5 15 4 15 4 15 3 14 4 15 2 15 3 14 2 15 2 14 1 15 1 14 1 14 1 14 0 15-1 14 0 14-1 14-2 13-1 14-2 14-3 14-3 13-3 14-3 14-4 13-4 14-5 13-5 14-6 13-5 13-6 14-7 13-7 13-7 14-8 13-8 13-9 13-9 13-9 14-10 13-10 13-10 13-11 13-12 14-12 13-12 13-13 13-13 13-14 13-14 14-14 13-15 13-16 13-16 14-16 13-17 13-18 14-18 13-18 13-19M828 727l15 5 16 4 15 4 14 4 15 3 15 3 15 2 14 2 15 2 14 1 15 2 14 0 14 1 14 0 14 0 14-1 14-1 14-1 14-2 14-2 14-2 13-3 14-3 14-4 13-4 14-4 13-5 14-4 13-6 14-6 13-6 13-6 14-7 13-7 13-8 13-8 14-9 13-9 13-9 13-10 13-10 14-10 13-11 13-12 13-11 13-13 13-12 13-14 14-13 13-14 13-15 13-15 13-15 14-16 13-17 13-17 13-17 14-18 13-19 13-19M818 720l15 4 16 4 14 4 15 4 15 3 15 3 15 2 14 2 15 2 14 2 14 1 15 1 14 0 14 0 14 0 14-1 14-1 14-1 14-2 14-2 13-2 14-3 14-3 13-3 14-4 14-4 13-5 13-5 14-5 13-6 14-6 13-6 13-7 14-8 13-7 13-8 13-9 13-9 14-9 13-10 13-10 13-10 13-11 13-11 13-12 14-12 13-13 13-13 13-14 13-14 13-14 13-15 14-16 13-16 13-16 13-17 14-17 13-18 13-19 14-19M808 712l15 4 15 5 15 3 15 4 15 3 15 3 15 3 14 2 15 2 14 1 14 1 15 1 14 1 14 0 14-1 14 0 14-1 14-1 14-2 14-2 13-2 14-3 14-3 13-4 14-3 13-5 14-4 13-5 14-5 13-6 13-6 14-7 13-6 13-8 13-7 14-8 13-9 13-8 13-10 13-9 13-10 14-11 13-11 13-11 13-12 13-12 13-13 13-13 13-13 13-14 14-15 13-15 13-15 13-16 13-16 14-17 13-18 13-17 13-19 14-19M798 704l15 5 15 4 15 4 15 3 15 3 15 3 15 3 14 2 15 2 14 1 14 2 15 1 14 0 14 0 14 0 14-1 14-1 14-1 14-1 13-2 14-3 14-2 14-3 13-4 14-4 13-4 14-4 13-5 13-5 14-6 13-6 13-7 14-6 13-8 13-7 13-8 13-9 14-8 13-10 13-9 13-10 13-11 13-11 13-11 13-12 14-12 13-12 13-13 13-14 13-14 13-14 13-15 13-15 13-16 14-17 13-16 13-18 13-17 14-19 13-18M788 696l15 5 16 4 15 4 14 4 15 3 15 3 15 2 14 3 15 1 14 2 14 1 15 1 14 0 14 1 14-1 14 0 14-1 14-1 14-2 13-2 14-2 14-3 13-3 14-3 14-4 13-4 13-4 14-5 13-6 14-5 13-6 13-7 13-6 14-8 13-7 13-8 13-8 13-9 13-9 14-10 13-10 13-10 13-11 13-11 13-12 13-12 13-13 13-13 13-13 13-14 13-14 14-15 13-16 13-15 13-17 13-16 13-18 14-17 13-19 13-18M778 689l16 4 15 5 15 3 14 4 15 3 15 3 15 3 14 2 15 2 14 1 14 2 15 1 14 0 14 0 14 0 14 0 14-1 14-2 14-1 13-2 14-2 14-3 13-3 14-3 13-4 14-4 13-5 14-4 13-6 13-5 14-6 13-7 13-6 13-7 14-8 13-8 13-8 13-9 13-9 13-10 13-10 13-10 14-11 13-11 13-12 13-12 13-12 13-13 13-14 13-13 13-15 13-14 13-16 13-15 13-17 14-16 13-18 13-17 13-18 13-19M769 681l15 5 15 4 15 4 15 3 14 4 15 3 15 2 14 3 15 1 14 2 14 1 15 1 14 1 14 0 14 0 14-1 14-1 14-1 14-1 13-2 14-2 14-3 13-3 14-3 13-4 14-4 13-5 14-4 13-6 13-5 14-6 13-6 13-7 13-7 13-8 14-8 13-8 13-9 13-9 13-9 13-10 13-10 13-11 13-11 13-12 13-12 13-12 13-13 13-14 13-14 13-14 14-15 13-15 13-15 13-17 13-16 13-17 13-18 13-18 14-19M759 674l15 4 15 4 15 4 15 4 15 3 14 3 15 3 14 2 15 2 14 2 15 1 14 1 14 0 14 1 14-1 14 0 14-1 14-1 14-2 13-1 14-3 14-2 13-3 14-3 13-4 14-4 13-5 14-4 13-6 13-5 14-6 13-6 13-7 13-7 13-7 13-8 14-9 13-8 13-9 13-10 13-10 13-10 13-11 13-11 13-11 13-12 13-13 13-13 13-13 13-14 13-14 13-15 13-15 13-15 13-17 13-16 13-17 14-18 13-18 13-18M749 666l15 5 15 4 15 4 15 4 15 3 14 3 15 2 15 3 14 2 14 1 15 2 14 0 14 1 14 0 14 0 14 0 14-1 14-1 14-2 13-2 14-2 14-2 13-3 14-3 13-4 14-4 13-5 14-4 13-5 13-6 14-6 13-6 13-7 13-7 13-7 13-8 13-8 14-9 13-9 13-9 13-10 13-10 13-11 13-11 13-12 13-12 13-12 13-13 13-13 13-14 13-14 13-15 13-15 13-15 13-16 13-17 13-17 13-17 13-19 13-18M739 659l15 4 15 5 15 4 15 3 15 3 15 3 14 3 15 2 14 2 15 2 14 1 14 1 14 1 14 0 14 0 14 0 14-1 14-1 14-2 14-2 13-2 14-2 13-3 14-3 13-4 14-4 13-4 14-5 13-5 13-6 14-6 13-6 13-6 13-7 13-8 13-8 13-8 13-8 13-9 14-10 13-9 13-11 13-10 13-11 12-12 13-12 13-12 13-13 13-13 13-14 13-14 13-15 13-15 13-15 13-16 13-17 13-17 14-17 13-18 13-19M730 651l15 5 15 4 15 4 15 4 14 3 15 3 15 3 14 2 15 2 14 2 14 1 14 1 15 1 14 0 14 0 14 0 13-1 14-1 14-2 14-2 13-2 14-2 14-3 13-3 14-4 13-4 13-4 14-5 13-5 13-5 14-6 13-6 13-7 13-7 13-7 13-8 13-8 13-9 13-9 13-9 13-10 13-10 13-11 13-11 13-11 13-12 13-12 13-13 13-13 13-14 13-14 13-14 13-15 13-16 13-16 13-16 13-17 13-18 13-18 13-18M720 644l15 5 15 4 15 4 15 4 15 3 14 3 15 3 14 2 15 2 14 2 14 1 15 1 14 1 14 0 14 0 14 0 14-1 14-1 13-2 14-1 14-3 13-2 14-3 13-3 14-4 13-4 14-4 13-5 13-5 13-5 14-6 13-6 13-7 13-6 13-8 13-7 13-9 13-8 13-9 13-9 13-10 13-10 13-11 13-11 13-11 13-12 13-12 13-13 13-13 13-14 13-14 13-14 13-15 13-16 13-15 13-17 13-17 13-17 13-18 13-18M710 637l16 4 15 5 14 4 15 3 15 4 15 3 14 2 15 3 14 2 15 2 14 1 14 1 14 1 14 0 14 0 14 0 14-1 14-1 14-2 13-1 14-2 13-3 14-3 14-3 13-3 13-4 14-5 13-4 13-5 14-6 13-5 13-6 13-7 13-7 13-7 13-8 13-8 13-8 13-9 13-10 13-9 13-10 13-11 13-11 13-11 13-12 13-12 13-13 13-13 13-13 13-14 12-15 13-15 13-15 13-16 13-16 13-17 13-18 13-17 13-19M701 629l15 5 15 4 15 5 15 3 14 4 15 3 15 2 14 3 15 2 14 1 14 2 14 1 15 1 14 0 14 0 13 0 14-1 14-1 14-1 14-2 13-2 14-3 13-2 14-4 13-3 14-4 13-4 13-5 14-5 13-5 13-6 13-6 13-6 13-7 13-8 13-7 13-8 13-9 13-8 13-10 13-9 13-10 13-11 13-11 13-11 13-12 13-12 13-13 13-13 12-13 13-14 13-14 13-15 13-16 13-16 13-16 13-17 13-17 13-18 13-18M691 622l15 5 15 4 15 4 15 4 15 3 15 4 14 2 15 3 14 2 14 1 15 2 14 1 14 1 14 0 14 0 14 0 14-1 13-1 14-1 14-2 14-2 13-2 14-3 13-3 14-4 13-4 13-4 14-4 13-5 13-6 13-5 13-6 13-7 13-7 14-7 13-7 13-8 13-9 13-9 12-9 13-9 13-10 13-11 13-11 13-11 13-12 13-12 13-12 12-13 13-14 13-14 13-14 13-15 13-15 13-16 13-16 13-17 13-17 13-18 13-18M682 615l15 5 15 4 15 4 15 4 14 3 15 4 15 2 14 3 15 2 14 2 14 1 14 1 14 1 14 0 14 0 14 0 14-1 14-1 14-1 13-2 14-2 13-2 14-3 13-3 14-3 13-4 14-4 13-5 13-5 13-5 13-6 14-6 13-6 13-7 13-7 13-8 13-8 13-8 13-9 13-9 12-9 13-10 13-11 13-11 13-11 13-11 13-13 13-12 12-13 13-13 13-14 13-15 13-14 13-16 13-15 12-16 13-17 13-17 13-18 13-18M673 608l15 5 15 4 14 4 15 4 15 3 15 4 14 2 15 3 14 2 14 2 15 1 14 1 14 1 14 0 14 1 14-1 14 0 13-1 14-2 14-1 13-2 14-3 13-2 14-3 13-4 14-4 13-4 13-4 13-5 14-5 13-6 13-6 13-6 13-7 13-7 13-8 13-8 13-8 13-9 13-9 13-9 13-10 12-11 13-10 13-12 13-11 13-12 13-13 12-13 13-13 13-14 13-14 13-15 13-15 12-16 13-16 13-16 13-17 13-18 13-18M663 601l15 5 15 4 15 4 15 4 15 4 14 3 15 2 14 3 15 2 14 2 14 1 14 1 14 1 14 1 14 0 14 0 14-1 14-1 14-1 13-2 14-2 13-2 14-3 13-3 14-3 13-4 13-4 13-4 14-5 13-6 13-5 13-6 13-6 13-7 13-7 13-8 13-8 13-8 13-9 13-9 13-9 13-10 13-10 12-11 13-11 13-12 13-12 13-12 12-13 13-13 13-14 13-14 13-15 12-15 13-16 13-16 13-16 13-17 13-18 13-18M654 594l15 5 15 4 15 4 15 4 14 4 15 3 14 3 15 2 14 2 14 2 15 2 14 1 14 1 14 0 14 0 14 0 14-1 13 0 14-2 14-1 13-2 14-3 13-2 14-3 13-4 13-3 14-4 13-5 13-5 13-5 13-5 13-6 14-7 13-6 13-7 13-8 12-8 13-8 13-8 13-9 13-10 13-10 13-10 12-11 13-11 13-11 13-12 13-13 12-12 13-14 13-13 13-15 13-14 12-15 13-16 13-16 13-16 13-17 13-18 12-18M645 587l15 5 15 4 14 5 15 3 15 4 15 3 14 3 14 2 15 3 14 1 14 2 14 1 15 1 14 0 13 1 14-1 14 0 14-1 14-1 13-2 14-2 13-2 14-3 13-2 14-4 13-4 13-4 13-4 14-5 13-5 13-5 13-6 13-7 13-6 13-7 13-8 13-7 13-9 13-8 12-9 13-10 13-9 13-11 13-10 12-11 13-12 13-12 13-12 13-13 12-13 13-14 13-14 13-14 12-15 13-16 13-16 13-16 13-17 12-18 13-18M635 580l15 5 15 5 15 4 15 4 15 3 14 3 15 3 14 3 15 2 14 2 14 1 14 2 14 0 14 1 14 0 14 0 14-1 13 0 14-2 14-1 13-2 14-2 13-3 14-3 13-3 13-4 14-4 13-4 13-5 13-5 13-5 13-6 13-7 13-6 13-7 13-7 13-8 13-8 13-9 13-9 13-9 12-10 13-10 13-11 13-11 12-11 13-12 13-12 13-13 12-13 13-14 13-14 13-14 12-15 13-16 13-16 13-16 12-17 13-17 13-18M626 574l15 4 15 5 15 4 15 4 14 3 15 4 14 3 15 2 14 2 15 2 14 2 14 1 14 1 14 0 14 1 14-1 13 0 14-1 14-1 13-1 14-2 13-3 14-2 13-3 14-3 13-4 13-4 13-4 14-5 13-5 13-5 13-6 13-6 13-7 13-7 13-7 13-8 12-8 13-9 13-9 13-9 13-10 12-10 13-10 13-11 13-12 12-11 13-13 13-12 13-13 12-14 13-14 13-14 12-15 13-16 13-16 13-16 12-17 13-17 13-18M617 567l15 5 15 4 15 4 14 4 15 4 15 3 14 3 15 3 14 2 14 2 14 1 15 2 14 0 14 1 13 0 14 0 14 0 14-1 13-1 14-2 14-2 13-2 14-2 13-3 13-3 14-4 13-4 13-4 13-5 13-5 13-5 13-6 13-6 13-7 13-7 13-7 13-8 13-8 13-8 12-9 13-9 13-10 13-10 13-11 12-11 13-11 13-12 12-12 13-12 13-14 12-13 13-14 13-14 13-15 12-16 13-15 13-17 12-16 13-18 13-17M608 560l15 5 15 5 15 4 14 4 15 3 15 4 14 2 14 3 15 2 14 2 14 2 14 1 14 1 14 1 14 0 14 0 14-1 14 0 13-1 14-2 13-2 14-2 13-2 14-3 13-3 13-4 13-4 14-4 13-5 13-5 13-5 13-6 13-6 13-6 13-7 13-8 12-7 13-8 13-9 13-9 13-9 12-9 13-11 13-10 13-11 12-11 13-12 13-12 12-13 13-13 13-13 12-14 13-14 13-15 12-15 13-16 13-16 12-17 13-17 13-18M599 554l15 5 15 4 14 4 15 4 15 4 14 3 15 3 14 3 15 2 14 2 14 1 14 2 14 1 14 0 14 1 14 0 14-1 13-1 14-1 14-1 13-2 13-2 14-2 13-3 14-3 13-4 13-4 13-4 13-5 13-5 13-5 13-6 13-6 13-6 13-7 13-7 13-8 13-8 13-8 12-9 13-9 13-10 13-10 12-10 13-11 13-11 12-12 13-12 13-13 12-13 13-13 13-14 12-14 13-15 13-15 12-16 13-16 13-17 12-17 13-17M590 547l15 5 15 5 14 4 15 4 15 3 14 4 15 3 14 2 15 3 14 2 14 1 14 1 14 1 14 1 14 0 14 0 13 0 14-1 14-1 13-1 14-2 13-2 14-2 13-3 13-3 14-4 13-4 13-4 13-4 13-5 13-6 13-5 13-6 13-7 13-7 13-7 13-7 12-8 13-9 13-8 13-9 12-10 13-10 13-10 12-11 13-11 13-12 12-12 13-12 13-13 12-14 13-14 12-14 13-15 13-15 12-15 13-16 13-17 12-17 13-18M581 541l15 5 15 4 14 4 15 4 15 4 14 3 15 3 14 3 14 2 15 2 14 2 14 1 14 1 14 1 14 0 14 0 13 0 14-1 14-1 13-1 14-2 13-2 13-2 14-3 13-3 13-4 13-3 14-5 13-4 13-5 13-5 13-6 13-6 13-6 12-7 13-7 13-8 13-8 13-8 12-9 13-9 13-9 13-10 12-10 13-11 12-11 13-12 13-12 12-12 13-13 13-14 12-13 13-14 12-15 13-15 13-16 12-16 13-16 13-17 12-18M572 534l15 5 15 5 14 4 15 4 15 4 14 3 15 3 14 3 14 2 15 2 14 2 14 1 14 1 14 1 14 0 13 0 14 0 14-1 13-1 14-1 13-2 14-2 13-2 14-3 13-3 13-3 13-4 13-4 13-5 13-5 13-5 13-5 13-6 13-7 13-6 13-8 13-7 13-8 12-8 13-9 13-9 12-9 13-10 13-10 12-11 13-11 13-12 12-12 13-12 12-13 13-13 12-14 13-14 13-15 12-15 13-15 12-16 13-17 13-17 12-17M563 528l15 5 15 4 14 5 15 4 15 3 14 4 15 3 14 2 14 3 15 2 14 2 14 1 14 1 14 1 14 0 13 0 14 0 14-1 13-1 14-1 13-2 14-2 13-2 13-3 14-3 13-3 13-4 13-4 13-4 13-5 13-5 13-6 13-6 13-6 13-7 13-7 12-7 13-8 13-8 13-9 12-9 13-9 13-10 12-10 13-11 12-11 13-12 13-12 12-12 13-13 12-13 13-13 12-15 13-14 13-15 12-16 13-15 12-17 13-17 13-17M554 522l15 5 15 4 15 5 14 4 15 3 14 4 15 3 14 2 14 3 15 2 14 2 14 1 14 1 14 1 14 0 13 0 14 0 14-1 13 0 14-2 13-1 14-2 13-3 13-2 14-3 13-4 13-3 13-4 13-5 13-5 13-5 13-5 13-6 13-6 13-7 12-7 13-7 13-8 13-8 12-9 13-9 13-9 12-10 13-10 12-11 13-11 13-11 12-12 13-12 12-13 13-13 12-14 13-14 12-14 13-15 12-16 13-16 13-16 12-17 13-17M545 515l15 5 15 5 15 4 14 4 15 4 15 3 14 4 14 2 15 3 14 2 14 2 14 1 14 1 14 1 14 0 13 0 14 0 14 0 13-1 14-1 13-2 14-2 13-2 13-3 13-3 14-3 13-4 13-4 13-4 13-5 13-5 13-6 13-5 13-7 12-6 13-7 13-8 13-7 12-8 13-9 13-9 12-9 13-10 12-10 13-11 13-11 12-11 13-12 12-12 13-13 12-13 13-13 12-14 13-15 12-15 13-15 12-16 13-16 12-17 13-17M536 509l15 5 15 5 15 4 15 4 14 4 15 3 14 4 14 2 15 3 14 2 14 2 14 1 14 1 14 1 14 1 13 0 14-1 14 0 13-1 14-1 13-2 14-2 13-2 13-2 13-3 14-4 13-3 13-4 13-5 13-4 13-5 13-6 13-6 12-6 13-6 13-7 13-8 12-7 13-8 13-9 12-9 13-9 13-10 12-10 13-10 12-11 13-12 12-11 13-13 12-12 13-13 12-14 13-14 12-14 13-15 12-15 13-16 12-16 13-17 12-17M528 503l14 5 15 5 15 4 15 4 14 4 15 3 14 4 15 2 14 3 14 2 14 2 14 1 14 1 14 1 14 1 14 0 13 0 14-1 13-1 14-1 13-1 14-2 13-2 13-3 13-3 14-3 13-4 13-4 13-4 13-5 13-5 13-5 12-6 13-6 13-6 13-7 12-8 13-7 13-8 12-9 13-9 13-9 12-9 13-11 12-10 13-11 12-11 13-12 12-12 13-12 12-13 13-14 12-14 13-14 12-15 13-15 12-16 13-16 12-17 13-17M519 497l15 5 15 5 14 4 15 4 15 4 14 4 14 3 15 2 14 3 14 2 14 2 14 2 14 1 14 1 14 0 14 0 13 0 14 0 13-1 14-1 13-2 14-2 13-2 13-2 13-3 14-3 13-4 13-4 13-4 13-5 13-5 13-5 12-6 13-6 13-6 13-7 12-8 13-7 13-8 12-9 13-8 12-10 13-9 13-10 12-11 13-10 12-12 13-11 12-12 12-13 13-13 12-13 13-14 12-14 13-15 12-15 13-16 12-16 13-16 12-17M510 491l15 5 15 5 15 4 14 4 15 4 14 4 15 3 14 3 14 2 14 2 15 2 14 2 13 1 14 1 14 0 14 1 13 0 14-1 14-1 13-1 13-1 14-2 13-2 13-3 14-2 13-4 13-3 13-4 13-4 13-5 13-5 12-5 13-6 13-6 13-6 13-7 12-7 13-8 13-8 12-8 13-9 12-9 13-10 12-10 13-10 12-11 13-11 12-12 13-12 12-12 13-13 12-13 12-14 13-14 12-15 13-15 12-16 13-16 12-16 12-17M501 485l15 5 15 5 15 4 15 5 14 3 15 4 14 3 14 3 15 2 14 3 14 2 14 1 14 1 14 1 13 1 14 0 14 0 13 0 14-1 13-1 14-2 13-1 13-2 13-3 14-3 13-3 13-3 13-4 13-4 13-5 13-5 12-5 13-6 13-6 13-6 13-7 12-7 13-8 12-8 13-8 13-9 12-9 13-9 12-10 13-10 12-11 13-11 12-12 12-12 13-12 12-13 13-13 12-14 12-14 13-15 12-15 13-15 12-16 12-17 13-17M493 479l15 5 15 5 14 5 15 4 15 4 14 3 14 3 15 3 14 3 14 2 14 2 14 2 14 1 14 1 14 0 13 1 14 0 13-1 14 0 13-1 14-2 13-2 13-2 14-2 13-3 13-3 13-3 13-4 13-4 13-5 13-5 13-5 12-6 13-6 13-6 13-7 12-7 13-7 12-8 13-8 13-9 12-9 13-10 12-9 12-11 13-10 12-11 13-12 12-12 13-12 12-13 12-13 13-14 12-14 12-14 13-15 12-16 13-16 12-16 12-17M484 473l15 6 15 4 15 5 14 4 15 4 14 3 15 4 14 3 14 2 14 3 14 1 14 2 14 1 14 1 14 1 14 0 13 0 14 0 13-1 14-1 13-1 13-2 14-2 13-2 13-3 13-3 13-3 13-4 13-4 13-5 13-5 13-5 12-5 13-6 13-7 13-6 12-7 13-8 12-8 13-8 12-9 13-9 12-9 13-10 12-10 13-11 12-11 13-11 12-12 12-12 13-13 12-13 12-14 13-14 12-14 12-15 13-15 12-16 13-17 12-17M476 468l15 5 14 5 15 4 15 4 14 4 15 4 14 3 14 3 15 3 14 2 14 2 14 2 14 1 13 1 14 1 14 0 14 0 13 0 14-1 13-1 13-1 14-2 13-2 13-2 13-3 13-3 13-3 13-4 13-4 13-5 13-4 13-6 13-5 12-6 13-6 13-7 12-7 13-7 12-8 13-8 12-9 13-9 12-9 13-10 12-10 13-11 12-11 12-11 13-12 12-12 12-13 13-13 12-13 12-14 13-15 12-15 12-15 13-16 12-16 12-17M467 462l15 5 15 5 15 5 14 4 15 4 14 3 15 4 14 3 14 2 14 3 14 2 14 1 14 2 14 1 14 0 13 1 14 0 13 0 14-1 13-1 14-1 13-2 13-2 13-2 13-3 14-3 13-3 12-4 13-4 13-4 13-5 13-5 13-6 12-6 13-6 13-6 12-7 13-8 12-8 13-8 12-8 13-9 12-9 13-10 12-10 13-11 12-11 12-11 13-12 12-12 12-13 13-13 12-13 12-14 13-14 12-15 12-15 12-16 13-16 12-17M459 456l15 6 15 4 14 5 15 4 14 4 15 4 14 3 14 3 15 3 14 2 14 2 14 2 13 1 14 1 14 1 14 1 13 0 14-1 13 0 14-1 13-1 13-2 13-2 14-2 13-3 13-3 13-3 13-4 13-4 13-4 12-5 13-5 13-5 13-6 12-6 13-7 12-7 13-7 13-8 12-8 13-8 12-9 12-10 13-9 12-10 13-11 12-11 12-11 13-12 12-12 12-12 12-13 13-14 12-13 12-15 13-15 12-15 12-15 12-17 13-16M450 451l15 5 15 5 15 5 14 4 15 4 14 3 15 4 14 3 14 3 14 2 14 2 14 2 14 1 14 1 13 1 14 0 14 1 13-1 14 0 13-1 13-1 14-2 13-2 13-2 13-3 13-3 13-3 13-3 13-4 13-5 13-4 12-5 13-6 13-6 12-6 13-6 13-7 12-7 13-8 12-8 13-9 12-8 12-10 13-9 12-10 13-11 12-10 12-12 13-11 12-12 12-13 12-13 13-13 12-14 12-14 12-15 13-15 12-16 12-16 12-16M442 445l15 6 15 5 14 4 15 4 14 4 15 4 14 4 14 3 15 2 14 3 14 2 14 2 13 1 14 1 14 1 14 0 13 1 14-1 13 0 13-1 14-1 13-2 13-2 13-2 13-2 13-3 13-3 13-4 13-4 13-4 13-5 13-5 12-5 13-6 13-6 12-7 13-6 12-8 13-7 12-8 13-9 12-8 13-10 12-9 12-10 13-10 12-11 12-11 13-12 12-12 12-12 12-13 13-14 12-13 12-14 12-15 12-15 13-16 12-16 12-16M434 440l15 5 14 5 15 5 15 4 14 4 14 4 15 3 14 3 14 3 14 3 14 2 14 1 14 2 14 1 13 1 14 0 14 1 13-1 14 0 13-1 13-1 13-1 14-2 13-2 13-3 13-3 13-3 13-4 13-3 12-5 13-4 13-5 13-6 12-5 13-6 13-7 12-7 13-7 12-7 13-8 12-9 12-8 13-9 12-10 12-10 13-10 12-11 12-11 13-12 12-11 12-13 12-13 12-13 13-14 12-14 12-14 12-15 13-16 12-16 12-16M425 435l15 5 15 5 15 5 14 4 15 4 14 4 14 3 15 3 14 3 14 2 14 3 14 1 14 2 13 1 14 1 14 1 13 0 14 0 13-1 13-1 14-1 13-1 13-2 13-2 13-3 13-2 13-4 13-3 13-4 13-4 13-5 12-5 13-5 13-6 12-6 13-6 12-7 13-7 12-7 13-8 12-9 13-8 12-9 12-10 13-10 12-10 12-10 12-12 13-11 12-12 12-12 12-13 12-13 13-14 12-14 12-14 12-15 12-16 13-16 12-16M417 429l15 6 15 5 14 4 15 5 14 4 15 4 14 3 14 3 14 3 15 2 14 3 13 1 14 2 14 1 14 1 13 1 14 0 13 0 14-1 13 0 13-1 13-2 14-2 13-2 13-2 13-3 13-3 13-3 12-4 13-4 13-5 13-5 12-5 13-6 13-6 12-6 13-7 12-7 13-7 12-8 12-8 13-9 12-9 12-9 13-10 12-10 12-11 12-11 13-11 12-12 12-13 12-12 12-13 13-14 12-14 12-14 12-15 12-16 12-15 13-17M409 424l15 5 15 5 14 5 15 5 14 4 15 3 14 4 14 3 14 3 14 2 14 3 14 2 14 1 14 1 13 1 14 1 13 0 14 0 13 0 14-1 13-1 13-1 13-2 13-2 13-3 13-2 13-3 13-4 13-4 13-4 12-4 13-5 13-5 12-6 13-6 13-6 12-7 12-7 13-7 12-8 13-8 12-9 12-9 13-9 12-10 12-10 12-10 13-11 12-12 12-12 12-12 12-12 12-13 13-14 12-14 12-14 12-15 12-15 12-16 12-16M401 419l15 5 14 5 15 5 15 5 14 4 14 3 15 4 14 3 14 3 14 3 14 2 14 2 14 1 13 2 14 1 14 0 13 1 13-1 14 0 13-1 13-1 14-1 13-2 13-2 13-2 13-3 13-3 13-3 12-4 13-4 13-4 13-5 12-5 13-6 12-6 13-6 12-7 13-7 12-7 13-8 12-8 12-8 13-9 12-10 12-9 12-10 13-11 12-11 12-11 12-12 12-12 12-13 13-13 12-13 12-14 12-14 12-15 12-15 12-16 12-16M393 414l14 5 15 5 15 5 14 5 15 4 14 4 14 3 15 3 14 3 14 3 14 2 14 2 13 2 14 1 14 1 13 1 14 0 13 0 14 0 13-1 13-1 13-1 13-2 13-2 13-2 13-3 13-3 13-3 13-4 13-4 12-4 13-5 13-5 12-6 13-6 12-6 13-6 12-7 13-8 12-7 12-8 13-9 12-9 12-9 12-10 13-10 12-10 12-11 12-11 12-12 12-12 13-13 12-12 12-14 12-14 12-14 12-15 12-15 12-15 12-17M385 409l14 5 15 5 15 5 14 5 15 4 14 4 14 3 14 3 15 3 14 3 13 2 14 2 14 2 14 1 13 1 14 1 13 0 14 0 13 0 14 0 13-1 13-2 13-1 13-2 13-3 13-2 13-3 13-3 13-4 12-4 13-4 13-5 12-5 13-6 12-5 13-7 12-6 13-7 12-7 12-8 13-8 12-8 12-9 13-9 12-10 12-10 12-10 12-11 12-11 13-12 12-12 12-12 12-13 12-14 12-13 12-15 12-14 12-15 12-16 12-16M377 404l14 5 15 6 15 4 14 5 15 4 14 4 14 3 14 4 14 3 14 2 14 3 14 2 14 1 14 2 13 1 14 1 13 0 14 0 13 0 13-1 13-1 14-1 13-2 13-1 13-3 13-2 13-3 12-3 13-4 13-4 13-4 12-5 13-5 12-5 13-6 12-6 13-7 12-7 13-7 12-7 12-8 12-9 13-9 12-9 12-9 12-10 12-11 13-10 12-11 12-12 12-12 12-12 12-13 12-13 12-14 12-14 12-15 12-15 12-15 12-16M368 399l15 6 15 5 15 5 14 4 14 4 15 4 14 4 14 3 14 3 14 3 14 2 14 2 14 2 13 1 14 1 14 1 13 1 13 0 14-1 13 0 13-1 13-1 13-2 14-2 12-2 13-2 13-3 13-3 13-4 13-4 12-4 13-5 12-5 13-5 12-6 13-6 12-6 13-7 12-7 12-8 13-8 12-8 12-9 12-9 13-9 12-10 12-11 12-10 12-11 12-12 12-12 12-12 12-13 12-13 12-14 12-14 12-14 12-15 12-16 12-16M361 394l14 6 15 5 15 5 14 4 14 5 15 4 14 3 14 4 14 3 14 2 14 3 14 2 14 1 13 2 14 1 13 1 14 0 13 0 14 0 13 0 13-1 13-1 13-2 13-2 13-2 13-2 13-3 13-3 13-4 12-4 13-4 12-5 13-5 13-5 12-5 12-7 13-6 12-7 13-7 12-7 12-8 12-8 13-9 12-9 12-10 12-9 12-11 12-10 12-11 12-12 13-12 12-12 12-13 12-13 12-13 12-14 12-15 12-15 12-15 12-16M353 390l14 5 15 5 15 5 14 5 14 4 15 4 14 4 14 3 14 3 14 3 14 2 14 2 14 2 13 2 14 1 13 0 14 1 13 0 13 0 14 0 13-1 13-1 13-2 13-2 13-2 13-2 13-3 13-3 12-4 13-4 13-4 12-4 13-5 12-5 13-6 12-6 13-6 12-7 12-7 12-8 13-7 12-9 12-8 12-9 12-10 13-9 12-10 12-11 12-11 12-11 12-12 12-12 12-13 12-13 12-14 12-14 12-14 12-15 12-15 12-16M345 385l14 5 15 6 15 5 14 4 14 4 15 4 14 4 14 4 14 3 14 2 14 3 14 2 14 2 13 1 14 1 13 1 14 1 13 0 13 0 14 0 13-1 13-1 13-2 13-2 13-2 13-2 13-3 12-3 13-3 13-4 12-4 13-5 12-5 13-5 12-5 13-6 12-7 12-6 13-7 12-8 12-8 13-8 12-8 12-9 12-9 12-10 12-10 12-11 12-11 12-11 12-12 12-12 12-13 12-13 12-13 12-14 12-14 12-15 12-15 12-16M337 380l15 6 14 5 15 5 14 5 15 4 14 4 14 4 14 3 14 3 14 3 14 3 14 2 14 2 13 1 14 1 13 1 14 1 13 0 13 0 13 0 14-1 13-1 13-2 13-1 13-2 13-3 12-3 13-3 13-3 12-4 13-4 13-4 12-5 13-5 12-6 12-6 13-6 12-7 12-7 13-7 12-8 12-8 12-8 12-9 12-9 13-10 12-10 12-11 12-10 12-12 12-11 12-12 12-13 12-13 11-13 12-14 12-14 12-15 12-15 12-16" fill="none" stroke="#000" stroke-width="2.1" stroke-linejoin="round"/>
</g>
<ellipse cx="162" cy="97.5" rx="2.6" ry="2"/>
<text x="153" y="112" text-anchor="end">97.7</text>
<ellipse cx="166" cy="153.7" rx="2.6" ry="2"/>
<text x="157" y="168.2" text-anchor="end">96.625</text>
<ellipse cx="170" cy="209.2" rx="2.6" ry="2"/>
<text x="161" y="223.7" text-anchor="end">95.55</text>
<ellipse cx="174" cy="265" rx="2.6" ry="2"/>
<text x="165" y="279.5" text-anchor="end">94.475</text>
<ellipse cx="178" cy="320.7" rx="2.6" ry="2"/>
<text x="169" y="335.2" text-anchor="end">93.4</text>
<ellipse cx="442" cy="508" rx="2.6" ry="2"/>
<text x="451" y="522.3" text-anchor="start">-1.00</text>
<ellipse cx="540.2" cy="486.1" rx="2.6" ry="2"/>
<text x="549.2" y="500.4" text-anchor="start">-0.50</text>
<ellipse cx="638.5" cy="464.1" rx="2.6" ry="2"/>
<text x="647.5" y="478.4" text-anchor="start">0.00</text>
<ellipse cx="736.8" cy="442.2" rx="2.6" ry="2"/>
<text x="745.8" y="456.5" text-anchor="start">0.50</text>
<ellipse cx="835" cy="420.3" rx="2.6" ry="2"/>
<text x="844" y="434.6" text-anchor="start">1.00</text>
<ellipse cx="442" cy="508" rx="2.6" ry="2"/>
<text x="433.3" y="522.4" text-anchor="end">-1.00</text>
<ellipse cx="377.2" cy="478.8" rx="2.6" ry="2"/>
<text x="368.6" y="493.2" text-anchor="end">-0.50</text>
<ellipse cx="312.5" cy="449.6" rx="2.6" ry="2"/>
<text x="303.8" y="463.9" text-anchor="end">0.00</text>
<ellipse cx="247.8" cy="420.3" rx="2.6" ry="2"/>
<text x="239.1" y="434.7" text-anchor="end">0.50</text>
<ellipse cx="183" cy="391.1" rx="2.6" ry="2"/>
<text x="174.3" y="405.5" text-anchor="end">1.00</text>
<ellipse class="p" cx="171" cy="220" rx="7" ry="4.1"/><path d="M171.5 220L171.5 189.5" stroke="#000" stroke-width="1.2" fill="none"/>
<ellipse class="r" cx="855" cy="153" rx="7" ry="4.1"/>
<ellipse class="r" cx="502.7" cy="204.1" rx="7" ry="4.1"/><path d="M503.2 204.1L503.2 275" stroke="#000" stroke-width="1.2" fill="none"/>
<ellipse class="r" cx="502.7" cy="240.5" rx="7" ry="4.1"/>
<ellipse class="r" cx="440.8" cy="378" rx="7" ry="4.1"/><path d="M441.2 378L441.2 383" stroke="#000" stroke-width="1.2" fill="none"/>
<text class="t v" transform="translate(61 250.3) rotate(-90)" text-anchor="middle">Drug Release After 5 Minute</text>
<text class="t" x="38" y="494">B: Amount of tartaric acid</text>
<text class="t" x="573" y="522">A: Amount of sodium bicarbonate</text></g>
<g><g fill="none" stroke="#222" stroke-width="1.4">
<path d="M185.5 907.9L444.5 1025L837 937.3L556.4 842.2z" fill="#ff0"/>
<path d="M515.9 1009l-0.9-2.9-1-3.9-0.4-2.5-0.4-2.3-0.2-2.4-0.1-3.3 0.3-3.1 0.7-3 1-2.8 1.5-2.6 1.9-2.5 2.3-2.2 2.7-2 5-2.7 6-2.2 9.7-2.2 11.3-1.3 7.4-0.4 7.4-0.1 8.1 0.2 8.7 0.5 9.5 0.7 10.3 1 8.6 1.1 6.6 0.8 7.8 1.1 11.1 1.7 6.1 1 9.5 1.7 8.3 1.5" stroke="#00ff98" stroke-width="1"/>
<path d="M395.3 1002.7l-2.7-3-2.6-3-2.5-2.9-2.5-2.9-2.4-2.9-2.2-2.7-2.4-3.1-1.7-2.2-2.7-3.6-1.4-1.9-2.6-3.8-1.2-1.9-2.1-3.4-1.3-2.4-1-2-1.8-3.7-0.8-2-0.9-2.4-1-3.4-0.4-2-0.3-1.9-0.3-3.2 0.1-2.8 0.2-2.1 0.5-2 0.6-2.1 1-2.4 1.4-2.5 1.7-2.3 2-2.2 2.3-2.1 3.1-2.3 4.5-2.8 4-1.9 3.5-1.5 7.7-2.6 8.7-2.2 4.7-1 5-0.8 10.6-1.4 10.3-0.8 7.8-0.4 6.6-0.1 8.2-0.1 8.9 0.2 8.1 0.3 7.6 0.4 7.2 0.5 7.2 0.6 9.5 0.9 9.2 1.1 5.9 0.7 5.9 0.8 11.3 1.6 5.5 0.9 7 1.1 8.9 1.6 5.2 0.9 10.2 2 5 0.9 9.9 2.1 5 1 9.5 2.1 8.3 1.8 6 1.4 9.4 2.2 4.7 1.1 9.2 2.3 9.3 2.3 4.6 1.2 9.1 2.3 9.2 2.4 6.4 1.7 7.3 1.9 9.1 2.5 9.2 2.5 4.5 1.2 9.2 2.5 9.2 2.6 9.2 2.6 4.6 1.2" stroke="#0f1" stroke-width="1"/>
<path d="M279.7 950.3l-1.6-3.1-0.9-1.8-1.4-3.5-0.7-2-0.6-1.9-0.9-3.7-0.3-1.8-0.2-1.9-0.2-3 0.1-2.7 0.3-1.9 0.3-1.9 0.7-2.5 0.9-2.7 1.3-2.5 1.4-2.3 1.5-2.1 1.7-2.1 2.2-2.2 2.5-2.2 2.6-2.1 2.7-1.8 2.8-1.8 3-1.6 5.7-2.8 4.2-1.7 3.8-1.4 7.5-2.5 6.6-1.8 5.9-1.4 9.1-1.8 9.7-1.6 7.1-0.9 8.6-0.9 10.6-0.8 6.7-0.4 6.3-0.3 10.7-0.2 8.6-0.1 6.9 0.1 7.2 0.2 7.5 0.2 7.7 0.4 8.1 0.5 8.4 0.6 7.1 0.6 6.2 0.6 6.2 0.6 8.1 0.9 9.3 1.1 5.6 0.7 5.9 0.8 10.3 1.5 5.2 0.9 8 1.2 7.3 1.3 5.8 1 9 1.7 5.1 0.9 9.2 1.8 6.3 1.3 7.7 1.6 9.2 2 4.5 1 9 2.1 5.8 1.3 7.5 1.8 8.8 2.2 5.6 1.3 7.5 2 8.7 2.2 8.6 2.2 4.3 1.2 8.6 2.3 8.6 2.3 8.6 2.4 4.2 1.2 8.6 2.4 8.5 2.4 8.6 2.5 8.4 2.4 4.4 1.3 8.6 2.5 8.7 2.6 8.6 2.5 8.8 2.6 5.7 1.7 7.4 2.2" stroke="#62ff00" stroke-width="1"/>
<path d="M207.2 917.5l0.3-2.6 0.4-1.9 0.6-1.8 0.7-2.4 1.2-2.6 1.4-2.5" stroke="#d4ff00" stroke-width="1"/>
<path d="M448 861.2l7.5 0.8 9.3 0.9 6.6 0.8 5.5 0.6 7.7 1 8.4 1.1 5.3 0.8 8.3 1.2 6.9 1.1 5.1 0.8 9.6 1.6 4.8 0.9 9.5 1.7 4.7 0.9 9.2 1.8 4.6 0.9 9 1.8 6.5 1.4 6.9 1.5 8.7 1.9 4.4 1 8.6 2 8.6 2.1 4.3 1 8.5 2.1 8.4 2.1 4.9 1.3 7.7 2 8.3 2.2 8.3 2.2 4.9 1.3 7.6 2.1 8.2 2.3 8.3 2.3 8.2 2.4 4.8 1.3 7.6 2.2 8.2 2.5 8.3 2.4 8.3 2.5 8.3 2.4 8.4 2.5 4.1 1.3 8.4 2.6 8.4 2.5 8.5 2.6 8.5 2.6 8.5 2.6" stroke="#d4ff00" stroke-width="1"/>
<path d="M491.4 853.5l10.1 1.5 4.9 0.7 7.1 1.1 7.4 1.2 5 0.9 9.2 1.6 4.6 0.8 9.1 1.7 4.7 0.9 8.8 1.7 6.8 1.4 6.4 1.3 8.7 1.9 4.3 0.9 8.6 1.9 8.4 1.9 4.3 1 8.4 2 8.3 2 4.1 1.1 8.3 2 8.2 2.1 6.7 1.8 5.5 1.4 8.2 2.2 8.1 2.2 8.1 2.2 4 1.1 8.1 2.3 8 2.2 8.1 2.4 8.1 2.3 8 2.3 4.1 1.2 8 2.4 8.1 2.4 8.1 2.5 8.2 2.4 8.1 2.5 8.2 2.5 8.3 2.6 8 2.4 4.4 1.4 8.3 2.6 8.4 2.6 8.4 2.6" stroke="#ffb800" stroke-width="1"/>
<path d="M523.1 847.8l7 1.2 6.9 1.2 6.5 1.2 7 1.3 7.4 1.4 5.8 1.1 8.7 1.8 4.4 0.8 8.5 1.8 5.5 1.2 7.2 1.6 8.4 1.9 4.1 0.9 8.3 1.9 8.2 2 5.3 1.3 7 1.7 8.1 2 8 2.1" stroke="#ff4500" stroke-width="1"/>
<path d="M549 843.2l6.1 1.1 7 1.4 8.1 1.5" stroke="#f00" stroke-width="1"/>
<path d="M164.5 615.6L555.8 574.3M555.8 574.3L861 635.6M837 937.3L861 635.6M185.5 907.9L164.5 615.6"/>
</g>
<g transform="scale(0.5)">
<path d="M884 1808l16 5 15 4-11-7-10-6-15-4-15-5 10 7zM874 1791l15 4 15 4-10-7-10-6-15-4-15-4 10 7zM854 1778l15 4 15 4-10-6-10-6-15-4-15-4 10 6zM844 1761l15 4 14 3-9-6-10-6-15-3-15-4 10 6zM824 1749l15 4 15 3-10-6-10-6-14-3-15-4 10 6zM834 1744l15 3 14 2-9-6-10-6-14-2-15-3 10 6zM815 1732l15 3 14 2-9-5-10-6-14-3-15-3 10 6zM825 1726l14 2 15 2-10-6-9-6-15-2-14-2 9 6zM806 1714l14 2 15 2-10-5-9-6-14-2-15-3 10 6zM816 1707l14 1 14 2-9-6-10-6-14-1-14-2 10 6zM797 1695l14 2 14 1-9-5-9-6-14-2-14-1 9 5zM807 1687l14 1 14 1-9-6-10-6-13-1-14-1 9 6zM789 1675l14 1 13 1-9-5-9-6-14-1-14-1 9 5zM816 1677l14 1 14 0-9-6-9-5-14-1-14 0 9 6zM798 1666l14 0 14 1-9-6-9-6-14 0-14-1 9 6zM826 1667l13-1 14 0-9-6-9-6-14 1-13 0 9 6zM808 1655l13 0 14-1-9-5-9-6-14 0-13 0 9 6zM853 1666l14-1 13-1-9-6-9-5-14 1-13 0 9 6zM835 1654l13 0 14-1-9-6-9-6-14 1-13 1 9 6zM862 1653l13-2 14-2-9-5-9-6-14 2-13 1 9 6zM844 1641l13-1 14-2-9-6-9-5-14 1-13 2 9 5zM889 1649l13-2 13-2-9-6-9-5-13 2-13 2 9 6zM871 1638l13-2 13-2-9-6-9-6-13 3-13 2 9 5zM915 1645l13-3 14-3-10-6-9-5-13 3-13 3 9 5zM897 1634l13-3 13-3-9-6-9-6-13 3-13 3 9 6zM960 1650l13-4 13-4-9-5-9-6-13 4-13 4 9 5zM942 1639l13-4 13-4-9-5-10-6-13 4-13 4 9 5zM1005 1653l13-4 13-5-10-5-9-6-13 5-13 4 9 6zM986 1642l13-4 13-5-9-5-9-5-13 4-13 4 9 6zM1050 1655l13-6 13-5-10-5-9-6-13 6-13 5 9 5zM1031 1644l13-5 13-6-10-5-9-5-13 5-13 5 9 6zM1114 1664l13-6 13-6-10-5-10-5-13 6-12 6 9 5zM1095 1654l12-6 13-6-9-5-10-6-13 7-12 6 9 5zM1076 1644l12-6 13-7-9-5-10-5-12 6-13 6 9 6zM1179 1672l13-7 13-8-10-5-10-5-13 8-13 7 10 5zM1159 1662l13-7 13-8-10-4-9-5-13 7-13 7 9 5zM1140 1652l13-7 13-7-10-5-10-5-13 7-13 7 10 5zM1265 1687l13-9 13-8-10-5-11-5-13 9-13 8 10 5zM1244 1677l13-8 13-9-10-5-10-4-13 8-13 8 10 5zM1224 1667l13-8 13-8-10-5-10-5-12 8-13 8 9 5zM1395 1718l13-9 13-10-10-5-11-5-13 10-13 9 10 5zM1374 1708l13-9 13-10-11-5-10-4-13 9-13 10 10 5zM1353 1699l13-10 13-9-11-5-10-5-13 10-13 9 10 5zM1332 1689l13-9 13-10-10-4-11-5-13 9-13 9 10 5z" fill="#0f4"/>
<path d="M864 1795l15 5 15 4-10-7-10-6-15-4-15-5 10 7zM844 1782l15 5 15 4-10-6-10-7-15-4-15-5 10 7zM834 1766l15 4 15 4-10-7-10-6-15-4-15-4 10 7zM814 1753l15 4 15 4-10-6-10-6-14-4-15-4 9 6zM805 1737l15 4 14 3-9-6-10-6-15-3-14-4 9 6zM786 1725l14 4 15 3-9-6-10-6-15-3-14-4 9 6zM796 1720l15 3 14 3-10-6-9-6-14-3-15-3 10 6zM777 1708l15 3 14 3-9-6-10-6-14-2-15-3 10 5zM787 1702l15 3 14 2-9-6-10-6-14-2-14-2 9 5zM769 1691l14 2 14 2-9-6-9-5-14-3-15-2 9 6zM779 1684l14 1 14 2-9-6-9-6-14-1-15-2 10 6zM760 1672l15 2 14 1-10-6-9-5-14-2-14-2 9 6zM770 1664l14 1 14 1-9-6-9-6-14-1-14-1 9 6zM780 1654l14 1 14 0-9-6-9-6-14 0-14-1 9 6zM790 1643l13 0 14 0-9-6-9-6-14 0-13 0 9 6zM817 1643l13-1 14-1-9-6-9-5-14 1-13 0 9 6zM799 1631l13 0 14-1-9-6-9-6-13 1-14 0 9 6zM826 1630l13-2 14-1-9-6-9-6-14 1-13 2 9 6zM853 1627l13-2 13-3-9-6-9-5-13 2-13 2 9 6zM879 1622l13-3 13-3-9-5-9-6-13 3-13 3 9 5zM923 1628l13-4 13-4-9-5-9-6-13 4-13 3 9 6zM905 1616l13-3 13-4-9-6-9-5-13 3-13 4 9 6zM968 1631l13-4 13-4-9-6-10-5-13 4-13 4 10 6zM949 1620l13-4 13-4-9-6-9-6-13 5-13 4 9 6zM1012 1633l13-5 13-5-9-6-10-5-12 6-13 5 9 5zM994 1623l13-5 12-6-9-5-9-6-13 6-13 5 10 5zM1057 1633l13-6 12-6-9-5-9-5-13 6-13 6 9 5zM1038 1623l13-6 13-6-10-6-9-5-13 6-13 6 10 5zM1120 1642l13-7 13-7-9-5-10-5-13 7-13 6 10 6zM1101 1631l13-6 13-7-9-5-10-6-13 7-13 7 10 5zM1205 1657l13-8 12-8-9-5-10-5-13 9-13 7 10 5zM1185 1647l13-7 13-9-10-4-10-5-13 8-12 8 9 5zM1311 1679l13-9 13-9-10-5-10-5-13 10-13 9 10 5zM1291 1670l13-9 13-10-10-4-11-5-13 9-13 9 11 5zM1270 1660l13-9 13-9-10-5-10-4-13 9-13 9 10 4zM1443 1708l13-10 13-11-11-5-10-4-14 10-13 11 11 5zM1421 1699l13-11 14-10-11-5-11-5-13 11-13 10 11 5zM1400 1689l13-10 13-11-10-4-11-5-13 10-13 11 10 4z" fill="#0f3"/>
<path d="M824 1769l15 5 15 4-10-6-10-6-15-5-15-4 10 6zM804 1757l15 4 15 5-10-6-10-7-15-4-15-5 10 6zM795 1741l15 4 14 4-9-6-10-6-15-4-15-4 10 6zM775 1729l15 4 15 4-10-6-9-6-15-4-15-4 10 6zM767 1713l14 4 15 3-9-6-10-6-14-3-15-4 9 6zM748 1701l15 4 14 3-9-6-10-5-14-4-15-4 9 6zM758 1697l15 3 14 2-9-6-9-5-15-3-14-3 9 6zM740 1685l14 3 15 3-10-6-9-6-14-3-15-3 10 6zM750 1679l15 2 14 3-9-6-10-6-14-2-14-3 9 6zM732 1667l14 3 14 2-9-6-9-6-14-2-14-3 9 6zM742 1660l14 2 14 2-9-6-9-6-14-2-14-2 9 6zM724 1648l14 2 14 2-9-6-9-6-14-2-14-2 9 6zM752 1652l14 1 14 1-9-6-9-6-14-1-14-1 9 6zM734 1640l14 1 14 1-9-6-9-6-13-1-14-1 9 6zM762 1642l14 1 14 0-9-6-9-6-14 0-14-1 9 6zM744 1630l14 1 14 0-9-6-9-6-14 0-13-1 9 6zM772 1631l13 0 14 0-9-6-9-6-13 1-14-1 9 6zM754 1619l14 1 13-1-9-6-8-6-14 0-13 0 8 6zM781 1619l14 0 13-1-9-6-9-6-13 1-13 0 8 6zM764 1607l13 0 13-1-8-6-9-6-13 0-14 1 9 6zM808 1618l13-2 14-1-9-6-9-6-13 2-14 1 9 6zM790 1606l14-1 13-2-9-6-8-6-14 1-13 2 9 6zM835 1615l13-2 13-2-9-6-9-6-13 2-13 2 9 6zM817 1603l13-2 13-2-8-6-9-6-13 2-13 2 8 6zM861 1611l13-3 13-3-9-6-8-6-13 3-14 3 9 6zM843 1599l14-3 13-3-9-6-9-6-13 3-13 3 9 6zM887 1605l13-4 13-3-9-6-8-6-13 4-13 3 8 6zM870 1593l13-3 13-4-9-6-9-6-13 4-13 3 9 6zM931 1609l13-4 13-5-9-5-9-6-13 5-13 4 9 5zM913 1598l13-4 13-5-9-6-9-5-13 4-12 4 8 6zM975 1612l13-5 13-6-9-5-9-6-13 6-13 4 9 6zM957 1600l13-4 13-6-9-5-9-6-13 5-13 5 9 6zM1019 1612l13-6 13-6-9-5-9-5-13 6-13 5 9 6zM1001 1601l13-5 13-6-9-6-10-5-12 6-13 5 9 6zM1082 1621l13-7 13-7-9-5-10-5-12 7-13 7 9 5zM1064 1611l13-7 12-7-9-5-9-5-13 7-13 6 9 5zM1166 1638l12-8 13-8-9-5-10-5-13 8-13 8 10 5zM1146 1628l13-8 13-8-10-5-9-5-13 8-13 8 10 5zM1127 1618l13-8 13-8-10-5-9-5-13 8-13 7 10 6zM1250 1651l13-9 13-9-10-5-10-5-13 9-13 9 10 5zM1230 1641l13-9 13-9-10-4-9-5-13 9-13 8 10 5zM1211 1631l13-8 13-9-10-5-10-5-13 9-13 9 10 5zM1379 1680l13-11 13-10-10-5-11-4-13 10-13 10 10 5zM1358 1670l13-10 13-10-10-5-11-4-13 10-13 10 11 5zM1337 1661l13-10 13-10-10-5-10-5-13 11-13 9 10 5z" fill="#0f2"/>
<path d="M784 1744l15 5 15 4-10-6-9-6-15-4-15-5 9 6zM765 1732l15 5 15 4-10-6-10-6-15-5-15-4 10 6zM745 1720l15 4 15 5-9-6-10-6-15-5-15-5 10 7zM756 1717l15 4 15 4-10-6-9-6-15-4-15-4 10 6zM737 1705l15 4 15 4-10-6-9-6-15-4-15-4 10 6zM729 1689l15 4 14 4-9-6-9-6-15-4-14-3 9 6zM711 1678l14 3 15 4-9-6-10-6-14-4-15-3 9 6zM721 1673l15 3 14 3-9-6-9-6-14-3-15-3 9 6zM703 1661l15 3 14 3-9-6-9-6-15-3-14-3 9 6zM714 1655l14 3 14 2-9-6-9-6-14-2-14-3 9 6zM696 1643l14 3 14 2-9-6-9-6-14-2-14-3 9 6zM706 1636l14 2 14 2-8-6-9-6-14-2-14-2 8 6zM717 1628l14 1 13 1-8-6-9-6-14-1-14-1 9 6zM699 1616l14 1 14 1-9-6-9-6-14-1-13-1 8 6zM727 1618l13 1 14 0-9-6-8-6-14 0-14-1 9 6zM709 1606l14 1 14 0-9-6-9-6-14 0-13-1 8 6zM737 1607l13 0 14 0-9-6-9-6-13 0-14 0 9 6zM746 1595l14-1 13 0-9-7-8-6-14 1-13 1 8 6zM773 1594l13-2 14-1-9-6-9-6-13 1-13 1 8 6zM800 1591l13-2 13-2-9-6-9-6-13 2-13 2 9 6zM826 1587l13-3 13-3-9-6-9-6-13 3-13 3 9 6zM852 1581l13-3 13-4-9-6-9-6-13 4-13 3 9 6zM896 1586l12-4 13-4-9-6-8-6-13 4-13 4 9 6zM878 1574l13-4 13-4-9-6-9-6-13 4-13 4 9 6zM939 1589l13-5 13-5-9-6-9-5-13 5-13 5 9 5zM921 1578l13-5 13-5-9-6-9-6-13 5-12 5 8 6zM983 1590l13-5 12-6-9-6-9-5-12 6-13 5 9 6zM965 1579l13-5 12-6-9-6-9-6-12 6-13 6 9 5zM1045 1600l13-6 13-7-10-5-9-6-12 7-13 7 9 5zM1027 1590l13-7 12-7-9-5-9-6-13 7-13 7 10 5zM1108 1607l13-7 13-8-10-5-9-5-13 8-13 7 10 5zM1089 1597l13-7 13-8-10-5-9-5-13 7-12 8 9 5zM1191 1622l13-9 13-9-10-4-9-5-13 9-13 8 10 5zM1172 1612l13-8 13-9-10-5-10-5-12 9-13 8 9 5zM1317 1651l13-9 13-11-10-4-11-5-13 10-13 10 11 5zM1296 1642l13-10 13-10-10-4-10-5-13 10-13 10 10 4zM1276 1633l13-10 13-10-10-5-10-4-13 10-13 9 10 5zM1469 1687l14-11 13-12-11-5-11-5-13 12-13 12 10 4zM1448 1678l13-12 13-12-11-4-10-5-14 12-13 11 11 5zM1426 1668l13-11 14-12-11-4-11-5-13 12-13 11 11 5zM1405 1659l13-11 13-12-10-4-11-5-13 12-13 11 11 4z" fill="#0f1"/>
<path d="M726 1707l15 5 15 5-9-6-10-6-15-5-15-5 10 6zM707 1695l15 5 15 5-9-6-10-6-15-5-15-5 10 6zM718 1693l15 4 15 4-10-6-9-6-15-4-14-4 9 6zM700 1681l14 4 15 4-9-5-9-6-15-4-15-5 9 6zM692 1666l15 3 14 4-9-6-9-6-14-3-15-4 9 6zM674 1654l15 4 14 3-9-6-9-6-14-3-15-4 9 6zM685 1649l14 3 15 3-9-6-9-6-14-2-15-4 9 6zM667 1637l15 4 14 2-9-6-9-6-14-3-15-3 9 6zM678 1631l14 3 14 2-9-6-8-6-14-2-15-3 9 6zM660 1619l15 3 14 2-9-6-9-6-14-2-14-3 9 6zM689 1624l14 2 14 2-9-6-9-6-14-2-14-2 9 6zM671 1612l14 2 14 2-9-6-8-6-14-2-14-2 8 6zM682 1604l13 1 14 1-9-6-8-6-14-1-14-2 9 6zM692 1594l13 1 14 0-9-6-8-6-14-1-13-1 8 6zM719 1595l14 0 13 0-9-6-8-6-14 0-13 0 8 6zM702 1583l13 0 14 0-9-7-8-6-14 0-13 0 8 6zM729 1583l13-1 14-1-9-6-9-6-13 0-13 1 8 6zM756 1581l13-1 13-1-9-7-8-6-13 2-14 1 9 6zM738 1569l14-1 13-2-9-6-8-7-14 2-13 1 9 6zM782 1579l13-2 13-2-8-7-9-6-13 2-13 2 8 6zM765 1566l13-2 13-2-9-6-8-7-13 3-13 1 8 7zM808 1575l13-3 13-3-8-6-9-6-13 3-13 2 9 6zM791 1562l13-2 13-3-9-6-8-7-13 3-13 2 8 7zM834 1569l13-3 13-4-8-6-9-6-13 4-13 3 9 6zM860 1562l13-4 13-4-9-6-8-6-13 4-13 4 9 6zM904 1566l12-5 13-5-9-6-8-6-13 5-13 5 9 6zM947 1568l13-6 12-6-9-5-8-6-13 6-13 5 9 6zM1008 1579l13-7 13-7-9-5-9-5-13 6-13 7 9 5zM990 1568l13-7 13-6-9-6-9-6-13 7-13 6 9 6zM1071 1587l12-8 13-7-9-5-9-6-13 8-13 7 9 6zM1052 1576l13-7 13-8-10-5-9-5-12 7-13 7 9 6zM1153 1602l13-8 12-9-9-5-10-5-13 9-12 8 9 5zM1134 1592l12-8 13-9-9-5-10-5-12 9-13 8 9 5zM1115 1582l13-8 12-9-9-5-10-5-12 9-13 8 9 5zM1256 1623l13-9 13-10-10-5-10-4-13 9-12 10 9 5zM1237 1614l12-10 13-9-10-5-9-5-13 10-13 9 10 5zM1217 1604l13-9 13-10-10-4-10-5-13 9-12 10 9 5zM1384 1650l13-11 13-12-10-4-11-5-13 12-13 11 11 4zM1363 1641l13-11 13-12-10-4-10-4-13 11-13 10 10 5zM1343 1631l13-10 13-11-11-5-10-4-13 11-13 10 11 5z" fill="#0f0"/>
<path d="M688 1683l15 5 15 5-9-6-9-6-15-5-15-5 9 6zM670 1671l15 5 15 5-10-6-9-6-15-5-15-5 9 6zM681 1669l15 5 15 4-10-6-9-6-14-4-15-5 9 6zM663 1657l15 5 14 4-9-6-9-6-15-4-14-5 9 6zM656 1642l15 4 14 3-9-6-9-6-14-3-15-4 9 6zM638 1630l15 4 14 3-9-6-9-6-14-3-15-4 9 6zM649 1625l15 3 14 3-9-6-9-6-14-3-14-3 8 6zM632 1613l14 3 14 3-8-6-9-6-14-3-15-3 9 6zM643 1607l14 3 14 2-9-6-8-6-14-3-15-2 9 6zM654 1600l14 2 14 2-9-7-9-6-14-2-14-2 9 7zM636 1587l14 2 14 2-8-6-9-6-14-2-14-2 9 6zM664 1591l14 2 14 1-9-7-8-6-14-1-14-1 9 6zM647 1579l14 1 14 1-9-6-9-7-13-1-14-1 8 6zM675 1581l13 1 14 1-9-7-8-6-14-1-14-1 9 7zM657 1568l14 1 14 1-9-7-8-6-14-1-14-1 9 7zM685 1570l13 0 14 0-9-7-8-6-14 0-13 0 8 6zM712 1570l13-1 13 0-8-7-9-6-13 1-13 0 8 6zM695 1557l13 0 13-1-8-7-9-6-13 0-13 1 8 6zM721 1556l13-1 14-2-9-6-8-7-14 2-13 1 9 6zM748 1553l13-1 13-3-9-6-8-6-13 2-13 1 8 7zM774 1549l13-2 13-3-9-6-8-7-13 3-13 3 8 6zM817 1557l13-3 13-4-9-6-8-6-13 3-13 3 8 7zM800 1544l13-3 13-3-9-7-9-6-12 3-13 3 8 7zM843 1550l13-4 13-4-9-6-9-6-13 4-12 4 8 6zM886 1554l13-5 13-5-9-6-9-6-13 5-12 5 8 6zM869 1542l12-5 13-5-9-6-8-6-13 5-13 5 9 6zM929 1556l13-5 13-6-9-6-9-6-13 6-12 5 8 6zM912 1544l12-5 13-6-9-6-9-6-12 6-13 5 9 6zM972 1556l13-6 13-7-9-5-9-6-13 7-12 6 8 6zM1034 1565l13-7 12-7-9-6-9-5-13 7-12 8 9 5zM1016 1555l12-8 13-7-9-5-9-6-13 7-12 7 9 6zM1096 1572l13-8 12-9-9-5-9-5-13 8-12 8 9 6zM1078 1561l12-8 13-8-9-5-10-6-12 9-13 8 9 5zM1198 1595l12-10 13-9-10-5-9-5-13 10-13 9 10 5zM1178 1585l13-9 13-10-10-5-9-4-13 9-13 9 10 5zM1159 1575l13-9 13-9-10-5-9-5-13 9-13 9 10 5zM1322 1622l13-10 13-11-10-5-10-4-13 11-13 10 10 5zM1302 1613l13-10 13-11-10-5-10-4-13 10-13 11 10 4zM1282 1604l13-11 13-10-10-5-10-4-13 10-13 11 10 4zM1496 1664l13-13 13-12-11-5-10-4-14 12-13 12 11 5zM1474 1654l13-12 14-12-11-5-11-4-13 12-13 12 10 5zM1453 1645l13-12 13-12-11-5-10-4-14 12-13 12 11 5zM1431 1636l13-12 14-12-11-4-11-5-13 13-13 11 11 5z" fill="#1f0"/>
<path d="M651 1659l15 5 15 5-9-6-9-6-15-5-15-5 9 6zM633 1647l15 5 15 5-9-6-9-6-15-5-15-5 9 6zM645 1645l14 5 15 4-9-6-9-6-15-4-14-5 9 6zM627 1633l14 5 15 4-9-6-9-6-15-4-14-5 9 6zM620 1618l15 4 14 3-9-6-8-6-15-4-14-3 8 6zM614 1601l15 3 14 3-9-6-9-6-14-3-14-4 8 7zM625 1595l15 2 14 3-9-6-9-7-14-2-14-3 9 6zM608 1582l14 3 14 2-8-6-9-6-14-3-14-3 8 7zM619 1575l14 2 14 2-9-7-8-6-14-2-14-2 9 6zM630 1566l14 1 13 1-8-6-9-7-13-1-14-1 8 6zM640 1555l14 1 14 1-9-7-8-6-14-1-14-1 9 7zM668 1557l13 0 14 0-9-7-8-6-14 0-13 0 8 6zM678 1544l13-1 13 0-8-7-9-7-13 1-13 0 8 7zM704 1543l13-1 14-2-9-6-8-7-13 1-14 1 9 7zM731 1540l13-1 13-2-9-7-8-7-13 2-13 2 8 7zM757 1537l13-3 13-3-9-6-8-7-13 3-13 2 8 7zM783 1531l13-3 12-3-8-7-9-6-12 3-13 3 8 7zM826 1538l12-4 13-4-8-7-9-6-13 4-13 4 9 6zM808 1525l13-4 13-4-9-7-8-6-13 4-13 4 9 6zM851 1530l13-5 13-5-9-6-9-7-12 5-13 5 9 6zM894 1532l13-5 12-6-8-6-9-6-13 6-12 5 8 6zM955 1545l12-6 13-7-9-6-9-5-13 6-12 6 9 6zM937 1533l12-6 13-6-9-6-9-6-12 6-13 6 9 6zM998 1543l12-7 13-7-9-6-9-5-13 7-12 7 9 6zM1059 1551l13-8 12-9-9-5-9-5-12 8-13 8 9 5zM1140 1565l13-9 13-9-10-5-9-5-13 9-13 9 10 5zM1121 1555l13-9 13-9-10-5-9-5-13 9-12 9 9 5zM1262 1595l13-11 13-10-10-5-10-5-13 11-12 10 9 5zM1243 1585l12-10 13-11-10-4-9-5-13 11-13 10 10 5zM1223 1576l13-10 13-11-10-4-10-5-13 10-12 10 9 5zM1410 1627l13-11 13-13-10-4-11-4-13 12-13 11 11 5zM1389 1618l13-11 13-12-10-5-10-4-13 12-13 12 10 4zM1369 1610l13-12 13-12-11-4-10-5-13 12-13 12 10 4zM1348 1601l13-12 13-12-10-4-10-5-13 12-13 12 10 4z" fill="#2f0"/>
<path d="M615 1635l15 5 15 5-9-6-9-6-15-5-15-5 9 6zM597 1623l15 5 15 5-9-6-9-6-15-5-15-5 9 6zM609 1621l14 5 15 4-9-6-9-6-14-4-15-5 9 6zM591 1609l15 5 14 4-9-6-8-6-15-5-15-4 9 6zM603 1606l14 3 15 4-9-6-9-6-14-4-15-4 9 6zM585 1593l15 4 14 4-9-6-8-7-15-3-14-4 9 6zM597 1588l14 4 14 3-8-7-9-6-14-3-14-3 8 6zM580 1576l14 3 14 3-9-6-8-7-14-3-15-3 9 6zM591 1569l14 3 14 3-8-7-9-6-14-3-14-3 8 7zM602 1562l14 2 14 2-9-7-8-6-14-2-14-2 9 6zM613 1553l14 1 13 1-8-6-9-7-13-1-14-2 8 7zM623 1542l14 1 14 1-9-7-8-7-14 0-13-1 8 6zM651 1544l13 0 14 0-9-7-8-7-14 0-13 0 8 7zM634 1530l13 0 14 0-9-6-8-7-13 0-14-1 8 7zM661 1530l13 0 13-1-8-6-8-7-14 0-13 1 8 7zM687 1529l14-1 13-1-9-7-8-7-13 2-13 1 8 7zM714 1527l13-2 13-2-9-6-8-7-13 2-13 1 8 7zM740 1523l13-2 13-3-9-6-8-7-13 3-13 2 8 7zM766 1518l13-3 12-3-8-7-9-7-12 4-13 3 8 7zM791 1512l13-4 13-4-9-7-8-6-13 4-13 3 9 7zM834 1517l13-5 12-5-8-6-9-6-12 4-13 5 8 6zM877 1520l12-5 13-6-9-6-8-6-13 5-13 5 9 7zM919 1521l13-6 12-6-8-6-9-6-13 6-12 6 9 6zM980 1532l12-7 13-7-9-6-9-6-12 8-13 7 9 5zM962 1521l13-7 12-8-9-6-9-5-12 7-13 7 9 6zM1041 1540l13-8 12-8-9-6-9-5-13 8-12 8 9 6zM1023 1529l12-8 13-8-9-6-9-5-13 8-12 8 9 5zM1103 1545l12-9 13-9-9-5-9-5-13 9-13 8 10 6zM1084 1534l13-8 13-9-10-6-9-5-12 9-13 9 9 5zM1204 1566l12-10 13-10-10-5-9-5-13 11-12 10 9 4zM1185 1557l12-10 13-11-10-4-9-5-13 10-12 10 9 5zM1328 1592l13-12 13-12-10-4-10-4-13 11-13 12 10 4zM1308 1583l13-12 13-11-11-5-10-4-12 11-13 12 10 4zM1288 1574l13-12 12-11-9-5-10-4-13 11-13 11 10 5zM1522 1639l14-14 13-13-11-5-11-4-13 14-13 13 10 4zM1501 1630l13-13 13-14-11-4-11-5-13 14-13 13 11 4zM1479 1621l13-13 13-14-10-4-11-4-13 13-13 13 10 4zM1458 1612l13-13 13-13-11-4-10-5-13 14-14 12 11 5z" fill="#3f0"/>
<path d="M579 1611l15 5 15 5-9-6-9-6-15-5-15-5 9 6zM573 1597l15 4 15 5-9-7-9-6-14-4-15-5 9 7zM556 1584l15 5 14 4-8-6-9-6-15-5-14-4 8 6zM568 1581l14 4 15 3-9-6-8-6-15-4-14-4 8 6zM562 1563l15 3 14 3-9-6-8-7-14-3-15-3 9 6zM574 1556l14 3 14 3-8-7-9-6-14-3-14-3 8 7zM585 1549l14 2 14 2-9-7-8-7-14-2-14-2 9 7zM568 1535l14 2 14 2-8-6-9-7-14-2-13-2 8 6zM596 1539l14 2 13 1-8-7-8-6-14-2-14-1 9 7zM607 1529l13 1 14 0-9-7-8-7-13 0-14-1 8 7zM617 1516l14 1 13 0-8-7-9-7-13 0-14-1 9 7zM644 1517l13-1 14 0-9-7-8-7-13 1-14 0 9 7zM671 1516l13-1 13-2-9-6-8-7-13 1-13 1 8 7zM697 1513l13-1 13-2-8-7-9-7-13 2-13 2 8 7zM723 1510l13-2 13-3-9-7-8-7-13 3-13 2 9 7zM749 1505l13-3 12-4-8-6-8-7-13 3-13 3 8 7zM774 1498l13-3 13-4-9-7-8-7-13 4-12 4 8 7zM817 1504l13-5 12-4-8-7-9-7-12 5-13 5 8 6zM859 1507l13-5 13-5-9-7-9-6-12 5-13 6 9 6zM902 1509l12-6 13-6-9-7-8-6-13 7-12 6 8 6zM944 1509l13-7 12-7-8-6-9-6-13 7-12 7 9 6zM1005 1518l12-8 13-8-9-6-9-5-12 8-13 7 9 6zM987 1506l13-7 12-8-9-6-9-6-12 8-13 8 9 5zM1066 1524l13-9 12-9-9-5-9-6-13 9-12 9 9 5zM1166 1547l12-10 13-10-10-5-9-5-13 10-12 10 9 5zM1147 1537l12-10 13-10-10-5-9-5-12 10-13 10 9 5zM1128 1527l13-10 12-10-9-5-9-5-13 10-12 10 9 5zM1268 1564l13-11 13-11-10-5-10-4-13 11-12 11 9 5zM1249 1555l12-11 13-11-10-5-10-4-12 11-13 11 10 5zM1229 1546l13-11 12-11-9-5-10-5-12 12-13 10 9 5zM1436 1603l14-12 13-14-11-4-10-4-13 13-14 13 11 4zM1415 1595l14-13 13-13-11-4-10-4-13 12-13 13 10 4zM1395 1586l13-13 13-12-11-5-10-4-13 13-13 12 10 5zM1374 1577l13-12 13-13-10-4-11-4-12 12-13 12 10 5z" fill="#4f0"/>
<path d="M561 1599l15 5 15 5-9-6-9-6-14-5-15-5 8 6zM544 1587l15 5 14 5-8-6-9-7-15-5-15-5 9 7zM539 1572l14 4 15 5-9-7-8-6-15-4-15-5 9 7zM551 1568l14 4 15 4-9-7-9-6-14-4-14-4 8 7zM534 1555l14 4 14 4-8-7-9-6-14-4-14-4 8 7zM545 1550l15 3 14 3-9-6-8-7-14-3-14-3 8 6zM557 1543l14 3 14 3-8-7-9-7-14-2-14-3 9 7zM540 1530l14 3 14 2-8-7-8-6-14-3-15-3 9 7zM552 1522l13 2 14 2-8-7-8-7-14-2-14-2 8 7zM579 1526l14 1 14 2-9-7-8-7-14-1-13-2 8 7zM563 1512l13 2 14 1-8-7-9-7-13-2-14-1 8 7zM590 1515l14 1 13 0-8-7-9-7-13 0-14-1 9 7zM600 1502l14 1 13 0-8-7-8-7-14-1-13 0 8 7zM627 1503l14 0 13-1-8-7-9-7-13 0-13 1 8 7zM654 1502l13-1 13-1-8-7-8-8-14 2-13 1 9 7zM680 1500l13-2 13-2-8-7-8-7-13 2-13 1 8 8zM664 1485l13-1 13-2-9-7-8-8-13 2-13 2 8 7zM706 1496l13-2 13-3-8-7-9-7-13 3-12 2 8 7zM732 1491l13-3 13-3-9-7-8-7-13 3-13 3 9 7zM758 1485l12-4 13-4-8-7-9-7-12 4-13 4 8 7zM800 1491l13-5 12-5-8-6-9-7-12 5-13 4 8 7zM842 1495l13-6 12-5-8-7-9-6-12 5-13 5 9 7zM825 1481l13-5 12-5-8-7-9-7-12 6-13 5 9 7zM885 1497l12-6 13-7-9-6-9-6-12 6-13 6 9 6zM867 1484l13-6 12-6-8-7-9-6-12 6-13 6 9 6zM927 1497l12-7 13-7-9-6-9-7-12 7-12 7 8 6zM969 1495l13-8 12-8-8-6-9-6-13 8-12 8 9 6zM1048 1513l12-9 13-9-9-5-9-6-13 9-12 9 9 5zM1030 1502l12-9 13-9-9-5-9-6-12 9-13 9 9 5zM1110 1517l12-10 13-10-10-5-9-5-12 10-13 9 9 5zM1210 1536l13-10 12-12-9-4-10-5-13 11-12 11 9 5zM1191 1527l12-11 13-11-10-5-9-5-13 11-12 11 9 5zM1354 1568l13-12 12-12-10-5-10-4-13 13-12 12 10 4zM1334 1560l12-12 13-13-10-4-10-5-13 13-13 12 10 4zM1313 1551l13-12 13-13-10-4-10-4-13 12-12 12 10 4zM1549 1612l13-15 14-14-12-4-10-5-14 15-13 14 11 4zM1527 1603l13-14 14-15-11-4-11-4-13 15-14 13 11 5zM1505 1594l14-13 13-15-11-4-11-4-13 14-13 14 11 4z" fill="#5f0"/>
<path d="M526 1574l15 5 15 5-9-6-8-6-15-5-15-5 9 6zM521 1559l15 5 15 4-9-6-8-7-15-4-15-5 9 7zM517 1542l14 4 14 4-8-7-8-6-15-4-14-4 8 7zM529 1537l14 3 14 3-8-6-9-7-14-3-14-4 8 7zM512 1523l14 4 14 3-8-7-9-7-14-3-14-3 8 7zM523 1516l15 3 14 3-9-7-8-7-14-3-14-3 8 7zM535 1508l14 2 14 2-9-7-8-7-14-2-14-2 9 7zM546 1498l14 1 13 2-8-7-8-8-14-1-13-2 8 8zM573 1501l14 1 13 0-8-7-8-7-14-1-13-1 8 8zM584 1488l13 0 14 1-8-8-9-7-13 0-13-1 8 8zM611 1489l13-1 13 0-8-8-8-7-13 1-14 0 9 7zM637 1488l13-1 14-2-9-7-8-7-13 1-13 1 8 7zM690 1482l12-2 13-3-8-7-8-7-13 2-13 2 8 8zM715 1477l13-3 13-3-8-7-9-8-12 4-13 3 8 7zM741 1471l13-4 12-4-8-7-8-7-13 4-13 3 9 8zM783 1477l13-4 12-5-8-7-9-7-12 5-13 4 9 7zM808 1468l13-5 12-6-8-7-9-6-12 5-13 5 9 7zM850 1471l13-6 12-6-8-7-9-7-12 6-13 6 9 7zM910 1484l12-7 12-7-8-6-9-6-12 7-13 7 9 6zM892 1472l13-7 12-7-8-7-9-6-12 7-13 7 9 6zM952 1483l12-8 13-8-9-6-9-6-12 8-13 7 9 7zM1012 1491l13-9 12-9-9-5-9-6-12 9-13 8 9 6zM1091 1506l13-9 12-10-9-6-9-5-13 10-12 9 9 6zM1073 1495l12-9 13-10-9-5-9-6-13 10-12 9 9 6zM1172 1517l12-11 13-11-9-4-10-5-12 11-13 10 9 5zM1153 1507l13-10 12-11-9-5-9-5-13 11-12 10 9 5zM1294 1542l12-12 13-12-10-5-10-4-12 12-13 12 10 4zM1274 1533l13-12 12-12-9-5-10-4-13 12-13 12 10 4zM1254 1524l13-12 13-12-10-5-10-4-12 12-13 11 10 5zM1484 1586l13-14 13-14-11-4-10-4-13 14-13 13 10 5zM1463 1577l13-13 13-14-11-4-10-5-13 14-13 14 10 4zM1442 1569l13-14 13-14-11-4-10-4-13 14-13 14 10 4zM1421 1561l13-14 13-14-11-4-10-4-13 14-13 13 10 4z" fill="#6f0"/>
<path d="M509 1562l15 5 15 5-9-6-9-7-14-5-15-5 8 6zM492 1549l15 5 14 5-8-6-9-7-14-5-15-5 8 7zM504 1546l15 5 15 4-9-6-8-7-15-4-15-5 9 7zM487 1533l15 5 15 4-9-6-8-7-15-4-14-5 8 7zM500 1529l14 4 15 4-9-7-8-7-15-3-14-4 8 6zM495 1510l14 3 14 3-8-7-8-7-14-3-14-3 8 7zM507 1502l14 3 14 3-8-7-9-7-14-3-14-3 9 7zM518 1494l14 2 14 2-8-7-8-8-14-2-14-2 8 7zM530 1483l13 2 14 1-8-7-8-7-14-2-14-1 8 7zM557 1486l13 1 14 1-8-7-8-8-14 0-13-1 8 7zM766 1463l13-4 12-5-8-7-8-7-13 5-12 4 8 7zM791 1454l13-5 12-5-8-7-8-8-13 6-12 5 8 7zM833 1457l13-6 12-6-8-7-9-6-12 6-13 6 9 6zM875 1459l13-7 12-7-9-7-8-6-12 7-13 6 9 7zM934 1470l13-7 12-8-8-6-9-7-12 8-13 8 9 6zM994 1479l13-8 12-9-9-6-9-6-12 9-12 8 9 6zM977 1467l12-8 12-9-8-6-9-6-12 9-13 8 9 6zM1055 1484l12-9 13-10-9-5-9-6-13 10-12 9 9 6zM1037 1473l12-9 13-10-9-5-9-6-13 10-12 9 9 6zM1135 1497l12-10 13-11-10-5-9-5-12 10-13 11 9 5zM1116 1487l13-11 12-10-9-6-9-5-13 11-12 10 9 5zM1235 1514l13-11 12-12-9-5-10-4-12 12-13 11 10 5zM1216 1505l13-11 12-12-9-5-10-5-12 12-13 11 9 5zM1400 1552l13-13 13-14-10-4-11-4-13 13-13 14 11 4zM1379 1544l13-14 13-13-10-4-10-5-13 14-13 13 10 4zM1359 1535l13-13 13-14-10-4-10-4-13 13-13 13 10 5z" fill="#7f0"/>
<path d="M475 1536l15 5 14 5-8-6-9-7-14-5-15-5 8 7zM471 1520l14 5 15 4-9-7-8-6-15-5-14-5 8 7zM483 1516l14 4 15 3-9-6-8-7-14-4-15-4 9 7zM466 1502l15 4 14 4-8-7-8-7-15-4-14-4 8 7zM479 1496l14 3 14 3-8-7-9-7-14-3-14-3 8 7zM490 1488l14 3 14 3-8-8-8-7-14-2-14-3 8 7zM502 1479l14 2 14 2-9-7-8-7-14-2-13-3 8 8zM816 1444l13-6 12-6-8-7-8-7-13 6-12 5 8 8zM858 1445l13-6 12-7-9-7-8-7-12 7-13 7 9 6zM917 1458l13-8 12-8-9-6-8-6-13 8-12 7 9 6zM900 1445l12-7 13-8-9-7-8-6-13 7-12 8 8 6zM959 1455l13-8 12-9-9-6-8-6-13 8-12 8 9 7zM1019 1462l12-9 13-10-9-6-9-6-12 10-13 9 9 6zM1098 1476l12-10 13-11-9-5-10-5-12 10-12 10 9 6zM1080 1465l12-10 12-10-9-6-9-5-12 10-12 10 9 6zM1197 1495l13-11 12-12-9-5-10-4-12 11-13 12 10 5zM1178 1486l13-12 12-11-9-5-10-5-12 11-12 12 9 5zM1339 1526l13-13 13-13-10-4-10-4-13 13-13 13 10 4zM1319 1518l13-13 13-13-10-5-10-4-13 13-13 13 10 4zM1299 1509l13-13 13-13-10-4-10-5-13 13-12 13 10 4zM1576 1583l13-15 13-16-11-4-11-4-13 15-13 15 10 5zM1554 1574l13-15 13-15-11-4-11-4-13 15-13 15 11 4zM1532 1566l13-15 13-15-11-4-10-4-14 15-13 15 11 4zM1510 1558l13-15 14-15-11-4-11-4-13 15-13 15 10 4zM1489 1550l13-15 13-15-11-4-10-4-13 15-13 14 10 5z" fill="#8f0"/>
<path d="M458 1523l15 5 14 5-8-6-8-7-15-5-15-5 8 6zM441 1510l15 5 15 5-9-7-8-7-15-4-15-6 9 7zM454 1506l14 5 15 5-8-7-9-7-14-5-15-4 9 7zM450 1488l14 4 15 4-9-7-8-7-14-4-15-4 9 7zM462 1482l14 3 14 3-8-7-8-7-14-4-14-3 8 7zM474 1474l14 3 14 2-8-7-8-8-14-2-14-3 8 7zM841 1432l13-7 12-7-8-7-9-7-12 7-12 7 8 7zM883 1432l12-8 13-7-9-7-8-7-13 8-12 7 8 7zM942 1442l12-8 13-8-9-7-9-6-12 9-12 8 8 6zM1001 1450l13-9 12-10-9-6-8-6-13 10-12 9 9 6zM1062 1454l12-10 12-10-9-6-9-6-12 11-12 10 9 6zM1160 1476l12-12 12-11-9-5-9-5-13 11-12 12 9 5zM1141 1466l12-12 13-11-9-5-10-5-12 11-12 11 9 5zM1280 1500l12-13 13-13-10-4-9-5-13 13-13 13 10 4zM1260 1491l13-13 13-13-10-4-10-5-12 13-13 13 10 4zM1241 1482l13-13 12-13-9-4-10-5-12 13-13 12 10 5zM1468 1541l13-14 13-15-11-4-10-4-13 15-13 14 10 4zM1447 1533l13-14 13-15-11-4-10-4-13 15-13 14 10 4zM1426 1525l13-14 13-15-11-4-10-4-13 15-13 14 11 4zM1405 1517l13-14 13-15-10-4-10-4-13 15-13 13 10 5z" fill="#9f0"/>
<path d="M424 1496l15 6 15 4-8-6-9-7-14-5-15-5 8 6zM437 1493l15 4 14 5-8-7-8-7-15-5-14-4 8 7zM433 1474l15 4 14 4-8-8-8-7-15-4-14-4 8 7zM446 1467l14 3 14 4-8-8-8-7-14-3-15-4 9 8zM866 1418l12-7 13-8-9-7-8-7-13 8-12 7 9 7zM925 1430l12-8 12-9-8-6-9-7-12 8-12 9 8 6zM984 1438l12-9 13-10-9-6-9-6-12 10-12 9 8 6zM967 1426l12-9 12-10-9-6-8-6-13 9-12 9 9 6zM1044 1443l12-10 12-11-8-5-9-6-13 10-12 10 9 6zM1123 1455l12-11 12-11-9-6-9-5-12 11-13 12 10 5zM1104 1445l13-12 12-11-9-5-9-6-12 12-13 11 9 5zM1222 1472l13-12 12-13-9-5-10-4-12 12-13 13 10 4zM1203 1463l13-13 12-12-9-5-10-5-12 13-13 12 10 5zM1385 1508l13-13 13-15-11-4-10-4-13 14-12 14 10 4zM1365 1500l12-14 13-14-10-4-10-4-13 14-12 14 10 4zM1345 1492l12-14 13-14-10-5-10-4-13 14-12 14 10 4zM1602 1552l14-16 13-17-11-4-11-4-14 17-13 16 11 4zM1580 1544l13-16 14-17-11-3-11-4-14 16-13 16 11 4z" fill="#af0"/>
<path d="M408 1483l15 5 14 5-8-7-8-7-15-5-15-5 9 7zM421 1479l14 4 15 5-8-7-9-7-14-5-15-4 9 7zM417 1459l14 4 15 4-8-7-9-8-14-4-14-4 8 8zM908 1417l12-9 12-8-8-7-9-6-12 8-12 8 8 7zM949 1413l12-9 13-9-9-7-9-6-12 9-12 9 9 7zM1026 1431l12-10 13-10-9-6-9-6-12 10-12 10 8 6zM1009 1419l12-10 12-10-9-6-9-6-12 10-12 10 9 6zM1086 1434l13-11 12-12-9-5-9-6-12 12-13 10 9 6zM1184 1453l13-12 12-13-9-5-9-5-13 13-12 12 9 5zM1166 1443l12-12 13-13-10-5-9-5-12 13-13 12 10 5zM1325 1483l12-14 13-14-10-4-10-4-12 14-13 13 10 5zM1305 1474l13-13 12-14-9-5-10-4-13 14-12 13 9 5zM1286 1465l12-13 13-14-10-4-10-5-12 14-13 13 10 5zM1558 1536l13-16 14-16-11-4-11-4-13 16-13 16 10 4zM1537 1528l13-16 13-16-11-4-11-4-13 16-13 16 11 4zM1515 1520l13-16 13-16-10-3-11-4-13 16-13 15 10 4zM1494 1512l13-15 13-16-11-4-10-4-13 16-13 15 10 4z" fill="#bf0"/>
<path d="M391 1469l15 5 15 5-8-7-9-7-14-5-15-6 8 7zM404 1465l15 4 14 5-8-8-8-7-14-4-15-5 8 7zM388 1450l15 5 14 4-8-7-8-8-15-4-14-5 8 8zM891 1403l12-8 12-8-8-7-9-7-12 8-12 8 8 7zM932 1400l12-9 12-9-8-7-9-7-12 10-12 9 9 6zM991 1407l12-10 12-10-8-6-9-6-12 10-12 10 8 6zM1068 1422l13-10 12-12-9-5-9-6-12 11-12 11 9 6zM1051 1411l12-11 12-11-9-6-9-6-12 11-12 11 9 6zM1147 1433l13-12 12-13-9-5-9-5-13 12-12 12 9 5zM1266 1456l13-13 12-14-9-4-10-5-12 14-13 13 10 5zM1247 1447l13-13 12-14-9-4-10-5-12 14-13 13 10 4zM1473 1504l13-15 13-16-11-4-10-4-13 16-13 15 10 4zM1452 1496l13-15 13-16-11-4-10-3-13 15-13 15 10 4zM1431 1488l13-15 13-15-10-4-11-4-13 15-12 15 10 4zM1411 1480l12-15 13-15-10-4-10-4-13 15-13 15 10 4z" fill="#cf0"/>
<path d="M375 1454l15 6 14 5-8-8-8-7-15-5-14-5 8 7zM915 1387l12-9 12-10-8-6-9-7-12 9-12 9 9 7zM974 1395l12-10 12-10-9-7-8-6-12 10-13 10 9 6zM1033 1399l12-11 12-11-8-6-9-6-12 11-13 11 9 6zM1129 1422l12-12 13-12-9-5-9-6-13 12-12 12 9 6zM1111 1411l12-12 13-12-9-5-10-6-12 13-12 11 9 6zM1228 1438l13-13 12-14-9-5-10-4-12 13-13 13 10 5zM1209 1428l13-13 12-13-9-5-10-5-12 13-12 13 9 5zM1390 1472l13-15 13-15-10-4-10-4-13 15-13 15 10 4zM1370 1464l13-15 13-15-10-4-10-4-13 15-13 14 10 4zM1350 1455l13-14 13-15-10-4-10-5-13 15-13 15 10 4zM1629 1519l13-17 14-18-11-3-11-4-14 17-13 17 11 4zM1607 1511l13-17 14-17-12-4-11-4-13 18-13 17 11 4z" fill="#df0"/>
<path d="M359 1440l14 5 15 5-8-7-8-8-15-5-14-5 8 7zM956 1382l13-10 12-10-9-7-8-6-12 10-13 9 9 7zM1015 1387l13-11 12-11-9-6-9-6-12 11-12 11 9 6zM1093 1400l12-11 12-13-8-5-9-6-13 12-12 12 9 6zM1191 1418l12-13 12-13-9-5-9-5-13 13-12 13 9 5zM1172 1408l12-13 13-13-9-5-10-5-12 13-12 13 9 5zM1330 1447l13-15 13-15-10-4-10-4-13 15-12 14 10 4zM1311 1438l12-14 13-15-10-4-9-5-13 15-13 14 10 5zM1291 1429l13-14 13-15-10-4-10-5-12 15-13 14 10 5zM1585 1504l13-17 13-18-11-3-11-4-13 17-13 17 11 4zM1563 1496l13-17 13-17-10-4-11-3-13 17-14 16 11 4zM1541 1488l14-16 13-17-11-4-11-4-13 17-13 17 11 4zM1520 1481l13-17 13-17-10-3-11-4-13 17-13 16 10 4zM1499 1473l13-16 13-17-11-4-10-3-13 16-13 16 10 4z" fill="#ef0"/>
<path d="M915 1817l15 4 15 3-11-6-10-7-15-3-15-4 10 6zM894 1804l15 4 15 3-10-6-10-6-15-4-15-4 10 6zM904 1799l15 3 14 3-10-7-10-6-15-3-14-3 10 6zM884 1786l14 3 15 3-10-6-10-6-15-3-14-3 10 6zM864 1774l14 3 15 3-10-6-10-6-14-3-15-4 10 6zM873 1768l15 3 14 2-9-6-10-6-15-2-14-3 10 6zM854 1756l14 3 15 2-10-6-10-6-14-2-15-3 10 6zM863 1749l15 2 14 2-10-6-9-5-15-2-14-3 10 6zM844 1737l14 3 15 2-10-6-9-6-15-2-14-2 10 6zM854 1730l14 2 14 1-10-6-9-6-14-1-14-2 9 6zM835 1718l14 2 14 1-9-5-10-6-14-2-14-1 9 6zM863 1721l14 1 14 1-9-6-10-5-14-1-14-1 10 6zM844 1710l14 1 14 1-9-6-10-6-14-1-14-1 10 6zM825 1698l14 1 14 1-9-5-9-6-14-1-14-1 9 6zM853 1700l14 1 14 0-9-6-10-6-13 0-14 0 9 6zM835 1689l14 0 13 0-9-5-9-6-14 0-14-1 10 6zM862 1689l14 0 14 0-9-6-10-6-13 1-14 0 9 6zM844 1678l14 0 13-1-9-5-9-6-14 0-13 1 9 5zM890 1689l13-1 14-1-9-6-10-6-13 2-14 0 10 6zM871 1677l14 0 13-2-9-5-9-6-13 1-14 1 9 6zM898 1675l14-1 13-2-9-6-9-5-13 2-14 1 9 6zM880 1664l14-1 13-2-9-6-9-6-14 2-13 2 9 5zM925 1672l14-2 13-3-9-5-10-6-13 3-13 2 9 5zM907 1661l13-2 13-3-9-6-9-5-13 2-13 2 9 6zM952 1667l13-3 13-3-9-6-9-5-13 3-14 3 10 6zM933 1656l14-3 13-3-9-6-9-5-14 3-13 3 9 5zM997 1672l13-4 13-4-9-5-9-6-13 4-14 4 10 5zM978 1661l14-4 13-4-10-5-9-6-13 4-13 4 9 5zM1042 1675l13-5 13-5-9-5-9-5-14 4-13 5 10 5zM1023 1664l13-5 14-4-10-6-9-5-13 5-13 4 9 6zM1088 1676l13-6 13-6-10-5-9-5-14 6-13 5 10 5zM1068 1665l13-5 14-6-10-5-9-5-13 5-13 6 9 5zM1152 1685l14-7 13-6-10-5-10-5-13 6-13 7 10 5zM1133 1675l13-7 13-6-10-5-9-5-13 6-13 6 9 6zM1238 1702l13-8 14-7-11-5-10-5-13 7-13 8 10 5zM1218 1692l13-8 13-7-10-5-10-5-13 8-13 7 10 5zM1198 1682l13-7 13-8-10-5-9-5-13 8-13 7 9 5zM1347 1726l13-9 14-9-11-4-10-5-14 9-13 8 11 5zM1326 1716l13-8 14-9-11-5-10-5-13 9-14 8 11 5zM1305 1706l14-8 13-9-11-5-10-5-13 9-13 8 10 5zM1285 1696l13-8 13-9-10-4-10-5-13 8-13 9 10 4zM1416 1728l13-9 14-11-11-4-11-5-13 10-13 9 10 5z" fill="#0f5"/>
<path d="M945 1824l14 3 15 3-10-6-10-7-15-2-15-4 10 7zM924 1811l15 4 15 2-11-6-10-6-14-3-15-3 10 6zM933 1805l15 2 15 3-11-7-10-6-14-2-15-3 10 6zM913 1792l15 3 14 2-10-6-10-6-14-2-15-3 10 6zM893 1780l15 3 14 2-10-6-10-6-14-2-15-3 10 6zM902 1773l15 2 14 2-10-6-9-6-15-2-14-2 10 6zM883 1761l14 2 15 2-10-6-10-6-14-2-15-2 10 6zM892 1753l14 2 15 1-10-6-10-6-14-1-14-1 9 5zM873 1742l14 1 14 1-9-5-10-6-14-1-14-2 9 6zM901 1744l14 1 14 1-9-6-10-6-14 0-14-1 10 6zM882 1733l14 1 14 0-10-5-9-6-14-1-14-1 9 6zM910 1734l14 1 14 0-10-6-9-6-14 0-14 0 9 6zM891 1723l14 0 14 0-10-5-9-6-14 0-14 0 10 5zM872 1712l14 0 14 0-10-6-9-5-14 0-14-1 10 6zM900 1712l14 0 13-1-9-5-10-6-13 1-14 0 9 5zM881 1701l14 0 13-1-9-6-9-5-14 0-14 0 10 6zM927 1711l14-1 14-1-10-6-9-5-14 1-14 1 10 6zM908 1700l14-1 14-1-10-6-9-5-14 1-13 1 9 5zM936 1698l13-2 14-2-10-5-9-6-14 2-13 2 9 5zM917 1687l13-2 14-2-9-5-10-6-13 2-14 1 10 6zM963 1694l13-2 13-3-9-5-9-6-14 3-13 2 9 6zM944 1683l13-2 14-3-10-5-9-6-13 3-14 2 10 6zM989 1689l14-3 13-4-10-5-9-5-13 3-13 3 9 6zM971 1678l13-3 13-3-9-6-10-5-13 3-13 3 9 6zM1035 1693l13-4 13-4-9-5-10-5-13 4-13 3 9 6zM1016 1682l13-3 13-4-9-6-10-5-13 4-13 4 9 5zM1081 1696l13-5 13-5-10-5-9-5-14 4-13 5 10 5zM1061 1685l13-5 14-4-10-6-10-5-13 5-13 5 10 5zM1146 1706l13-5 13-6-10-5-10-5-13 6-13 5 10 5zM1126 1696l13-5 13-6-9-5-10-5-13 5-13 6 10 5zM1107 1686l13-6 13-5-10-5-9-6-13 6-13 6 9 5zM1212 1715l13-6 13-7-10-5-10-5-13 7-13 6 10 5zM1192 1705l13-6 13-7-10-5-10-5-13 7-13 6 10 5zM1172 1695l13-6 13-7-10-5-9-5-13 6-14 7 10 5zM1300 1732l13-8 13-8-10-5-11-5-13 8-13 8 10 5zM1279 1722l13-8 13-8-10-5-10-5-13 8-13 8 10 5zM1259 1712l13-8 13-8-10-5-10-4-14 7-13 8 10 5zM1390 1746l13-9 13-9-11-5-10-5-13 9-14 9 11 5zM1368 1736l14-9 13-9-11-5-10-5-14 9-13 9 11 5z" fill="#0f6"/>
<path d="M974 1830l15 3 14 2-10-7-10-6-15-2-14-3 10 7zM954 1817l14 3 15 2-10-6-10-6-15-3-15-2 10 6zM963 1810l14 1 14 2-10-6-10-6-14-2-15-2 10 6zM942 1797l15 2 14 2-10-6-10-6-14-2-15-2 10 6zM922 1785l15 2 14 2-10-6-10-6-14-2-15-2 10 6zM951 1789l14 1 15 1-10-6-10-6-14-1-15-1 10 6zM931 1777l15 1 14 1-10-6-10-5-14-2-14-1 9 6zM912 1765l14 1 14 2-10-6-9-6-15-1-14-2 10 6zM940 1768l14 0 14 1-10-6-9-6-14 0-14-1 9 6zM921 1756l14 1 14 0-10-5-10-6-14-1-14-1 10 6zM949 1757l14 0 14 0-10-5-10-6-14 0-14 0 10 6zM929 1746l14 0 14 0-10-6-9-5-14 0-14-1 10 6zM957 1746l14-1 14 0-10-6-10-6-13 1-14 1 9 5zM938 1735l14-1 13-1-9-5-10-6-13 1-14 0 9 6zM919 1723l14 0 13-1-9-5-10-6-13 1-14 0 9 6zM965 1733l14-1 14-1-10-6-9-5-14 1-14 1 10 6zM946 1722l14-1 14-1-10-6-9-5-14 1-14 1 10 6zM993 1731l13-2 14-2-10-6-9-5-14 2-13 2 9 5zM974 1720l13-2 14-2-10-6-10-5-13 2-13 2 9 5zM955 1709l13-2 13-2-9-5-9-6-14 2-13 2 9 5zM1020 1727l13-3 14-3-10-5-10-5-13 2-13 3 9 5zM1001 1716l13-3 13-2-9-6-10-5-13 3-14 2 10 5zM981 1705l14-2 13-3-9-6-10-5-13 3-13 2 9 6zM1047 1721l13-3 13-4-9-5-10-5-13 3-14 4 10 5zM1027 1711l14-4 13-3-10-5-9-6-13 4-14 3 10 5zM1008 1700l14-3 13-4-10-5-9-6-13 4-14 3 10 5zM1093 1725l13-4 13-4-9-6-10-5-13 4-14 4 10 6zM1073 1714l14-4 13-4-10-5-9-5-14 4-13 4 10 5zM1054 1704l13-4 14-4-10-6-10-5-13 4-13 4 9 6zM1139 1727l13-5 14-5-10-5-10-6-13 6-14 5 10 5zM1119 1717l14-5 13-6-10-5-10-5-13 5-13 5 10 5zM1100 1706l13-5 13-5-9-5-10-5-13 5-13 5 9 5zM1206 1737l13-5 13-7-10-5-10-5-13 6-13 6 10 5zM1186 1727l13-6 13-6-10-5-10-5-13 6-13 6 10 5zM1166 1717l13-6 13-6-10-5-10-5-13 6-13 5 10 6zM1273 1746l14-7 13-7-11-5-10-5-13 7-13 7 10 5zM1253 1736l13-7 13-7-10-5-10-5-14 7-13 6 10 5zM1232 1725l13-6 14-7-11-5-10-5-13 7-13 6 10 5zM1363 1763l13-8 14-9-11-5-11-5-13 8-13 8 10 5zM1342 1752l13-8 13-8-10-5-11-5-13 8-13 8 10 5zM1321 1742l13-8 13-8-10-5-11-5-13 8-13 8 10 5z" fill="#0f7"/>
<path d="M1003 1835l15 2 14 1-10-6-10-7-15-1-14-2 10 6zM983 1822l14 2 15 1-10-6-11-6-14-2-14-1 10 6zM991 1813l15 1 14 1-10-6-10-6-15-1-14-1 10 6zM971 1801l14 1 15 1-10-6-10-6-15-1-14-1 10 6zM1000 1803l14 1 14 0-10-6-10-6-14 0-14-1 10 6zM980 1791l14 1 14 0-10-6-10-6-14 0-14-1 10 6zM960 1779l14 1 14 0-10-5-10-6-14-1-14 0 10 5zM988 1780l14 0 14 0-10-6-10-5-14 0-14 0 10 6zM968 1769l14 0 14 0-10-6-9-6-14 0-14 0 9 6zM996 1769l14-1 14-1-10-6-10-5-14 1-13 0 9 6zM977 1757l13 0 14-1-10-6-9-5-14 0-14 1 10 6zM1004 1756l14-1 14-2-10-6-10-5-14 1-13 2 9 5zM985 1745l13-2 14-1-10-6-9-5-14 1-14 1 10 6zM1032 1753l13-2 14-2-10-6-10-5-13 2-14 2 10 5zM1012 1742l14-2 13-2-10-6-9-5-14 2-13 2 9 5zM1059 1749l13-3 14-3-10-5-10-6-13 3-14 3 10 5zM1039 1738l14-3 13-3-10-5-9-6-14 3-13 3 9 5zM1086 1743l13-3 14-4-10-6-10-5-13 4-14 3 10 6zM1066 1732l14-3 13-4-10-5-10-6-13 4-13 3 9 6zM1132 1746l14-4 13-5-10-5-10-5-13 5-13 4 9 5zM1113 1736l13-4 13-5-10-5-10-5-13 4-13 4 10 5zM1199 1759l14-6 13-5-10-5-10-6-13 6-14 5 10 5zM1179 1748l14-5 13-6-10-5-10-5-14 5-13 5 10 6zM1159 1737l13-5 14-5-10-5-10-5-14 5-13 5 10 5zM1267 1769l14-6 13-7-10-5-11-5-13 6-13 6 10 6zM1247 1758l13-6 13-6-10-5-10-5-14 6-13 6 10 5zM1226 1748l13-6 14-6-11-6-10-5-13 7-13 5 10 6zM1336 1777l14-7 13-7-11-6-10-5-14 8-13 7 11 5zM1315 1767l13-7 14-8-11-5-10-5-14 7-13 7 11 5zM1294 1756l13-7 14-7-11-5-10-5-13 7-14 7 11 5z" fill="#0f8"/>
<path d="M1032 1838l15 1 14 1-10-7-11-6-14 0-14-2 10 7zM1012 1825l14 2 14 0-10-6-10-6-14-1-15-1 11 6zM1040 1827l15 1 14 0-10-6-11-6-14 0-14-1 10 6zM1020 1815l14 1 14 0-10-6-10-6-14 0-14-1 10 6zM1048 1816l14 0 14-1-10-6-10-6-14 1-14 0 10 6zM1028 1804l14 0 14-1-10-6-10-5-14 0-14 0 10 6zM1008 1792l14 0 14 0-10-6-10-6-14 0-14 0 10 6zM1056 1803l14-1 14-1-10-6-10-5-14 1-14 1 10 5zM1036 1792l14-1 14-1-10-6-10-6-14 1-14 1 10 6zM1016 1780l14-1 14-1-10-5-10-6-14 1-14 1 10 5zM1064 1790l13-2 14-2-10-5-10-6-14 2-13 1 10 6zM1044 1778l13-1 14-2-10-5-10-6-13 2-14 1 10 6zM1024 1767l14-1 13-2-10-6-9-5-14 2-14 1 10 5zM1091 1786l14-2 14-2-11-6-10-5-13 2-14 2 10 6zM1071 1775l14-2 13-2-10-6-9-5-14 2-14 2 10 6zM1051 1764l14-2 14-2-10-6-10-5-14 2-13 2 9 5zM1119 1782l13-3 14-4-10-5-10-5-14 3-14 3 10 5zM1098 1771l14-3 14-3-10-6-10-5-14 3-13 3 9 5zM1079 1760l13-3 14-3-10-6-10-5-14 3-13 3 10 5zM1146 1775l13-3 14-4-10-6-11-5-13 4-13 4 10 5zM1126 1765l13-4 13-4-10-5-10-6-13 4-13 4 10 5zM1106 1754l13-4 13-4-10-5-9-5-14 4-13 3 10 5zM1193 1779l14-5 13-5-10-5-11-5-13 4-13 5 10 5zM1173 1768l13-5 13-4-10-6-10-5-13 5-14 4 11 5zM1152 1757l14-4 13-5-10-5-10-6-13 5-14 4 10 6zM1241 1780l13-5 13-6-10-5-10-6-14 6-13 5 10 6zM1220 1769l13-5 14-6-11-5-10-5-13 5-14 6 11 5zM1309 1790l14-6 13-7-10-5-11-5-13 6-14 7 11 5zM1288 1780l14-7 13-6-10-6-11-5-13 7-14 6 11 5z" fill="#0f9"/>
<path d="M1061 1840l14 0 15 0-11-6-10-6-14 0-15-1 11 6zM1090 1840l14 0 14-1-11-6-10-6-14 1-14 0 10 6zM1069 1828l14 0 14-1-10-6-11-6-14 1-14 0 11 6zM1097 1827l14-1 14-1-10-6-11-6-14 1-14 1 11 6zM1076 1815l14-1 14-1-10-6-10-6-14 1-14 1 10 6zM1104 1813l14-2 14-2-10-6-11-5-13 2-14 1 10 6zM1084 1801l14-1 13-2-10-6-10-6-14 2-13 2 10 5zM1132 1809l14-2 13-3-10-5-10-6-14 3-14 2 11 5zM1111 1798l14-2 14-3-10-6-10-5-14 2-14 2 10 6zM1159 1804l14-3 14-3-11-6-10-5-14 3-13 3 10 6zM1139 1793l13-3 14-3-10-6-10-6-14 4-13 3 10 5zM1207 1809l14-4 13-4-10-6-10-5-14 4-13 4 10 5zM1187 1798l13-4 14-4-11-6-10-5-13 4-14 4 10 5zM1166 1787l14-4 13-4-10-6-10-5-14 4-13 3 10 6zM1255 1812l14-5 13-5-10-6-11-5-13 5-14 5 11 5zM1234 1801l14-5 13-5-10-6-10-5-14 5-13 5 10 5zM1214 1790l13-5 14-5-11-5-10-6-13 5-14 5 10 5zM1282 1802l14-6 13-6-10-5-11-5-13 5-14 6 11 5zM1261 1791l14-6 13-5-10-6-11-5-13 6-13 5 10 5z" fill="#0fa"/>
<path d="M1118 1839l14-1 14-1-11-6-10-6-14 1-14 1 10 6zM1146 1837l14-2 13-2-10-6-10-6-14 2-14 2 10 6zM1125 1825l14-2 14-2-11-6-10-6-14 2-14 2 11 6zM1173 1833l14-3 14-3-11-6-10-5-14 2-13 3 10 6zM1153 1821l13-3 14-2-10-6-11-6-13 3-14 2 10 6zM1201 1827l14-3 13-4-10-5-11-6-13 3-14 4 10 5zM1180 1816l14-4 13-3-10-6-10-5-14 3-14 3 11 6zM1228 1820l14-4 13-4-10-6-11-5-13 4-14 4 11 6z" fill="#0fb"/>
<path d="M939 1368l13-9 12-10-9-7-8-7-13 10-12 10 9 7zM998 1375l12-11 12-11-8-6-9-7-12 11-12 11 8 6zM1075 1389l12-12 13-12-9-6-9-5-12 12-13 11 9 6zM1057 1377l13-11 12-12-9-6-9-6-12 12-12 11 9 6zM1154 1398l12-13 12-13-9-5-9-6-12 14-12 12 9 6zM1136 1387l12-12 12-14-9-5-9-5-12 13-13 12 10 6zM1272 1420l13-14 12-15-9-4-10-5-12 15-13 14 10 5zM1253 1411l13-14 12-15-9-4-10-5-12 15-13 14 10 4zM1478 1465l13-16 13-16-11-4-10-4-13 17-13 16 10 3zM1457 1458l13-16 13-17-10-4-11-4-13 17-13 16 11 4zM1436 1450l13-16 13-17-10-3-10-4-13 16-13 16 10 4zM1416 1442l13-16 13-16-11-4-10-4-13 16-12 16 10 4z" fill="#ff0"/>
<path d="M981 1362l12-11 12-11-9-6-8-7-12 11-12 11 8 6zM1040 1365l12-11 12-12-9-6-8-6-13 12-12 11 9 6zM1117 1376l13-12 12-13-9-6-9-5-12 13-12 12 9 6zM1234 1402l13-14 12-15-9-4-10-5-12 14-13 14 10 5zM1215 1392l13-14 12-14-9-5-9-5-13 14-12 14 9 5zM1396 1434l12-16 13-16-10-4-10-4-13 16-12 16 10 4zM1376 1426l12-16 13-16-10-4-10-4-13 16-12 15 10 5zM1356 1417l12-15 13-16-10-4-10-4-12 16-13 15 10 4zM1656 1484l13-18 14-19-11-3-12-4-13 19-13 18 11 4zM1634 1477l13-18 13-19-11-3-11-4-13 19-14 17 11 4z" fill="#fe0"/>
<path d="M964 1349l12-11 12-11-9-6-8-7-12 11-12 10 8 7zM1022 1353l12-11 13-12-9-7-9-6-12 12-12 11 9 7zM1100 1365l12-12 12-13-9-6-9-6-12 13-12 13 9 5zM1197 1382l12-14 13-14-10-5-9-5-12 14-13 14 10 5zM1178 1372l13-14 12-14-9-5-9-5-13 14-12 13 9 6zM1336 1409l13-15 12-16-9-4-10-5-13 16-12 15 9 5zM1317 1400l12-15 13-16-10-4-10-4-12 15-13 15 10 5zM1297 1391l13-15 12-15-9-5-10-4-12 16-13 14 10 5zM1611 1469l14-17 13-19-11-3-11-4-13 18-14 18 11 4zM1589 1462l14-18 13-18-11-3-11-4-13 18-13 18 11 3zM1568 1455l13-18 13-18-11-4-10-3-14 18-13 17 11 4zM1546 1447l13-17 14-18-11-4-11-3-13 18-13 17 11 4zM1525 1440l13-17 13-18-10-4-11-3-13 17-13 18 10 3z" fill="#fd0"/>
<path d="M1005 1340l12-11 12-12-9-6-8-7-12 12-12 11 8 7zM1082 1354l12-13 12-13-9-5-9-6-12 12-12 13 9 6zM1064 1342l12-13 12-12-8-6-9-6-12 12-12 13 8 6zM1160 1361l12-13 13-14-10-5-9-6-12 14-12 14 9 5zM1278 1382l13-14 12-16-10-4-9-5-12 15-13 15 10 5zM1259 1373l13-15 12-15-10-5-9-4-12 15-13 15 10 5zM1504 1433l13-18 13-17-11-4-10-4-13 18-13 17 10 4zM1483 1425l13-17 13-18-11-3-10-4-13 18-13 16 11 4zM1462 1417l13-16 13-18-10-4-11-3-12 17-13 17 10 4zM1442 1410l13-17 12-17-10-4-10-4-13 17-13 17 10 4z" fill="#fc0"/>
<path d="M988 1327l12-11 12-12-9-6-8-7-12 12-12 11 8 7zM1047 1330l12-13 12-12-9-7-9-6-12 13-12 12 9 6zM1142 1351l12-14 12-14-9-5-9-6-12 14-12 14 9 5zM1124 1340l12-14 12-14-9-5-9-6-12 14-12 13 9 6zM1240 1364l13-15 12-15-9-5-10-5-12 15-12 15 9 5zM1222 1354l12-15 12-15-9-5-9-5-13 16-12 14 9 5zM1421 1402l13-17 13-17-10-4-10-3-13 17-13 16 10 4zM1401 1394l13-16 13-17-10-4-10-4-13 17-13 16 10 4zM1381 1386l13-16 13-17-10-4-10-4-13 17-13 16 10 4z" fill="#fb0"/>
<path d="M1029 1317l12-12 12-13-8-6-9-7-12 13-12 12 8 7zM1106 1328l12-13 12-14-9-5-8-6-13 13-12 14 9 6zM1203 1344l12-14 13-16-10-5-9-5-12 15-12 15 9 5zM1361 1378l13-16 13-17-10-4-10-4-13 16-12 16 10 5zM1342 1369l12-16 13-16-10-5-10-4-12 17-13 16 10 4zM1322 1361l13-16 12-17-9-4-10-4-12 16-13 16 10 4zM1683 1447l14-19 13-20-11-3-11-4-14 20-14 19 12 4zM1660 1440l14-19 14-20-12-3-11-3-13 19-14 19 11 4zM1638 1433l14-19 13-19-11-4-11-3-14 19-13 19 11 4zM1616 1426l13-19 14-19-11-3-11-4-13 19-14 19 11 4zM1594 1419l14-19 13-19-11-3-11-4-13 19-13 19 10 3zM1573 1412l13-19 13-19-11-3-10-3-14 19-13 18 11 3z" fill="#fa0"/>
<path d="M1012 1304l12-12 12-13-9-6-8-7-12 13-12 12 8 7zM1088 1317l12-14 13-13-9-6-9-6-12 13-12 14 9 6zM1185 1334l12-15 12-15-9-5-9-5-12 15-13 14 9 6zM1166 1323l13-14 12-15-9-5-9-6-13 15-12 14 9 6zM1303 1352l13-16 12-16-10-5-9-4-13 16-12 16 9 5zM1284 1343l12-16 13-16-10-5-9-4-13 16-12 16 9 4zM1551 1405l13-18 14-19-11-4-11-3-13 19-13 18 11 3zM1530 1398l13-18 13-19-10-4-11-3-13 18-13 18 10 4zM1509 1390l13-18 13-18-10-4-11-3-13 18-13 18 10 4zM1488 1383l13-18 13-18-10-4-11-3-13 18-13 18 11 3z" fill="#f90"/>
<path d="M1071 1305l12-14 12-13-9-6-9-6-12 13-12 13 9 6zM1148 1312l12-14 13-15-9-5-9-6-12 15-13 14 9 6zM1265 1334l12-16 13-16-10-5-9-4-12 16-13 15 10 5zM1246 1324l13-15 12-16-9-5-10-5-12 16-12 15 9 5zM1467 1376l13-18 13-18-10-4-10-4-13 19-13 17 10 4zM1447 1368l13-17 13-19-11-3-10-4-13 18-12 18 10 3zM1427 1361l12-18 13-18-10-4-10-4-13 18-12 18 10 4zM1407 1353l12-18 13-18-10-3-10-4-13 18-12 17 10 4z" fill="#f80"/>
<path d="M1053 1292l12-13 12-13-8-7-9-6-12 13-12 13 9 7zM1130 1301l13-14 12-15-9-5-9-6-12 15-12 14 8 6zM1228 1314l12-15 12-16-9-5-9-5-13 16-12 15 9 5zM1387 1345l12-17 13-18-10-4-10-4-12 17-13 18 10 4zM1367 1337l13-18 12-17-10-4-9-4-13 17-13 17 10 4z" fill="#f70"/>
<path d="M1036 1279l12-13 12-13-9-7-8-6-12 13-12 13 8 7zM1113 1290l12-14 12-15-9-6-9-6-12 15-12 14 9 6zM1095 1278l12-14 12-15-9-6-9-6-12 15-12 14 9 6zM1209 1304l12-15 13-16-10-5-9-5-12 16-12 15 9 5zM1191 1294l12-15 12-16-9-5-9-6-12 16-12 15 9 6zM1347 1328l13-17 13-17-10-4-10-5-12 18-13 17 10 4zM1328 1320l13-17 12-18-10-4-9-4-13 17-12 17 9 4zM1309 1311l12-17 13-17-10-5-9-4-13 17-12 17 9 4z" fill="#f60"/>
<path d="M1077 1266l12-14 12-15-8-6-9-6-12 14-12 14 9 6zM1173 1283l12-15 12-16-9-5-9-6-12 16-12 15 9 6zM1290 1302l12-17 13-17-10-5-9-4-13 17-12 17 9 4z" fill="#f50"/>
<path d="M1060 1253l12-14 12-14-9-7-9-6-11 14-12 14 8 6zM1155 1272l12-15 12-16-9-5-9-6-12 16-12 15 9 6zM1271 1293l12-17 13-17-10-5-9-5-12 17-13 17 10 5zM1252 1283l13-17 12-17-9-4-10-5-12 17-12 16 9 5z" fill="#f40"/>
<path d="M1137 1261l12-15 12-16-9-6-9-5-12 15-12 15 9 6zM1119 1249l12-15 12-15-9-6-9-6-12 15-12 15 9 6zM1234 1273l12-16 12-17-9-5-9-5-12 17-13 16 9 5zM1215 1263l13-16 12-17-9-5-10-6-12 17-12 16 9 6z" fill="#f30"/>
<path d="M1101 1237l12-15 12-15-8-6-9-7-12 16-12 15 9 6zM1197 1252l12-16 12-17-9-5-9-5-12 16-12 16 9 6z" fill="#f20"/>
<path d="M1084 1225l12-15 12-16-9-6-9-6-12 15-12 15 9 6zM1179 1241l12-16 12-16-9-6-9-5-12 16-12 16 9 6z" fill="#f10"/>
<path d="M1161 1230l12-16 12-16-9-6-9-6-12 17-12 16 9 5zM1143 1219l12-16 12-17-9-6-9-6-12 17-12 16 9 6zM1125 1207l12-16 12-17-8-6-9-6-12 17-12 15 9 7zM1108 1194l12-15 12-17-9-6-9-6-12 16-12 16 9 6z" fill="#f00"/>
<path d="M884 1808l-10-6-10-7-10-6-10-7-10-6-10-7-10-6-10-6-10-7-10-6-10-6-9-6-10-6-10-6-9-6-10-7-9-6-10-6-9-6-10-6-9-6-9-6-10-6-9-6-9-6-9-6-9-6-9-6-9-6-9-6-9-6-9-6-9-6-9-6-9-6-8-6-9-6-9-7-8-6-9-6-9-7-8-6-9-6-8-7-9-6-8-7-9-7-8-6-8-7-9-7-8-7-8-6-8-7-9-7-8-8-8-7-8-7-8-7-8-8-8-7M900 1813l-11-7-10-6-10-7-10-6-10-7-10-6-10-6-10-7-10-6-10-6-10-6-9-6-10-6-10-7-9-6-10-6-9-6-10-6-9-6-10-6-9-6-9-6-10-6-9-6-9-6-9-6-9-6-9-6-9-6-9-6-9-6-9-6-9-6-9-6-9-6-8-6-9-6-9-7-9-6-8-6-9-6-8-7-9-6-8-7-9-6-8-7-9-6-8-7-9-7-8-6-8-7-8-7-9-7-8-7-8-7-8-7-8-8-9-7-8-7-8-8M915 1817l-11-7-10-6-10-7-10-6-10-6-10-7-10-6-10-6-10-6-10-7-10-6-9-6-10-6-10-6-9-6-10-6-9-6-10-6-9-6-10-6-9-6-9-6-10-6-9-6-9-6-9-6-9-6-9-6-9-6-9-6-9-6-9-6-9-6-9-6-9-6-9-6-8-6-9-7-9-6-8-6-9-6-9-7-8-6-9-7-8-6-9-7-8-6-8-7-9-7-8-7-8-6-9-7-8-7-8-7-8-7-9-7-8-8-8-7-8-7-8-8M930 1821l-11-7-10-6-10-7-10-6-10-6-10-7-10-6-10-6-10-6-10-7-10-6-9-6-10-6-10-6-9-6-10-6-10-6-9-6-9-6-10-6-9-6-10-6-9-6-9-5-9-6-9-6-10-6-9-6-9-6-9-6-9-6-9-6-8-6-9-6-9-7-9-6-9-6-8-6-9-6-9-7-8-6-9-6-8-7-9-6-9-7-8-6-8-7-9-6-8-7-9-7-8-7-8-7-8-7-9-7-8-7-8-7-8-7-8-7-9-8-8-7M945 1824l-11-6-10-7-10-6-10-6-10-7-10-6-10-6-10-6-10-7-10-6-10-6-10-6-9-6-10-6-10-6-9-6-10-6-9-6-10-6-9-6-10-6-9-6-9-5-9-6-10-6-9-6-9-6-9-6-9-6-9-6-9-6-9-6-9-6-9-6-9-6-8-6-9-7-9-6-8-6-9-6-9-7-8-6-9-6-8-7-9-6-8-7-9-6-8-7-9-7-8-6-8-7-9-7-8-7-8-7-8-7-9-7-8-8-8-7-8-7-8-8M959 1827l-10-6-10-6-10-7-10-6-11-6-10-7-10-6-10-6-9-6-10-6-10-6-10-6-10-6-9-6-10-6-10-6-9-6-10-6-9-6-9-6-10-6-9-6-9-6-10-6-9-6-9-6-9-5-9-6-9-6-9-6-9-6-9-6-9-6-9-6-9-6-9-7-9-6-8-6-9-6-9-6-8-7-9-6-8-6-9-7-8-6-9-7-8-6-9-7-8-7-9-6-8-7-8-7-9-7-8-7-8-7-8-7-8-8-9-7-8-7-8-8M974 1830l-10-6-10-7-11-6-10-6-10-7-10-6-10-6-10-6-10-6-10-6-9-6-10-6-10-6-10-6-9-6-10-6-9-6-10-6-9-6-10-6-9-6-10-5-9-6-9-6-9-6-10-6-9-6-9-6-9-6-9-6-9-6-9-6-9-6-9-6-9-6-8-6-9-6-9-6-9-6-8-7-9-6-8-6-9-7-9-6-8-7-9-6-8-7-8-6-9-7-8-7-9-6-8-7-8-7-8-7-9-7-8-7-8-8-8-7-8-7-9-8M989 1833l-10-7-11-6-10-6-10-7-10-6-10-6-10-6-10-6-10-6-10-6-10-6-10-6-9-6-10-6-10-6-9-6-10-6-9-6-10-6-9-6-10-6-9-5-9-6-10-6-9-6-9-6-9-6-9-6-9-6-10-6-9-6-8-5-9-6-9-7-9-6-9-6-9-6-8-6-9-6-9-6-9-7-8-6-9-6-8-7-9-6-8-7-9-6-8-7-9-6-8-7-8-7-9-7-8-7-8-7-9-7-8-7-8-7-8-8-8-7-8-7M1003 1835l-10-7-10-6-10-6-10-6-11-7-10-6-10-6-10-6-10-6-10-6-9-6-10-6-10-6-10-6-9-6-10-6-9-5-10-6-10-6-9-6-9-6-10-6-9-6-9-5-10-6-9-6-9-6-9-6-9-6-9-6-9-6-9-6-9-6-9-6-9-6-9-6-8-6-9-6-9-6-9-6-8-7-9-6-9-6-8-7-9-6-8-7-9-6-8-7-8-6-9-7-8-7-9-7-8-7-8-7-8-7-9-7-8-7-8-7-8-8-8-7M1018 1837l-10-7-11-6-10-6-10-7-10-6-10-6-10-6-10-6-10-6-10-6-10-6-10-6-10-6-9-6-10-6-10-5-9-6-10-6-9-6-10-6-9-6-9-5-10-6-9-6-9-6-9-6-10-5-9-6-9-6-9-6-9-6-9-6-9-6-9-6-9-6-8-6-9-6-9-6-9-6-8-7-9-6-9-6-8-6-9-7-9-6-8-7-8-6-9-7-8-7-9-6-8-7-8-7-9-7-8-7-8-7-9-7-8-7-8-7-8-8-8-7M1032 1838l-10-6-10-7-10-6-11-6-10-6-10-6-10-6-10-6-10-6-10-6-10-6-9-6-10-6-10-6-10-6-9-5-10-6-9-6-10-6-9-6-10-5-9-6-9-6-10-6-9-6-9-5-9-6-10-6-9-6-9-6-9-6-9-6-9-6-9-6-9-6-8-6-9-6-9-6-9-6-8-6-9-6-9-7-8-6-9-6-8-7-9-6-8-7-9-6-8-7-9-7-8-7-8-6-9-7-8-7-8-7-9-7-8-8-8-7-8-7-8-8M1047 1839l-11-6-10-6-10-7-10-6-10-6-11-6-10-6-10-6-10-6-9-6-10-6-10-6-10-5-10-6-9-6-10-6-10-6-9-5-10-6-9-6-10-6-9-6-9-5-10-6-9-6-9-6-9-5-9-6-10-6-9-6-9-6-9-6-9-6-9-6-8-6-9-6-9-6-9-6-9-6-8-6-9-6-9-7-8-6-9-6-8-7-9-6-9-7-8-6-8-7-9-7-8-6-9-7-8-7-8-7-9-7-8-7-8-7-8-8-8-7-9-7M1061 1840l-10-7-11-6-10-6-10-6-10-6-10-6-10-6-10-6-10-6-10-6-10-6-10-5-10-6-9-6-10-6-10-6-9-5-10-6-10-6-9-6-9-5-10-6-9-6-10-6-9-5-9-6-9-6-9-6-10-6-9-5-9-6-9-6-9-6-9-6-8-6-9-6-9-6-9-6-9-6-8-6-9-7-9-6-8-6-9-6-9-7-8-6-9-7-8-6-9-7-8-7-8-6-9-7-8-7-8-7-9-7-8-7-8-7-8-8-9-7-8-7M1075 1840l-10-6-10-6-11-6-10-6-10-6-10-6-10-6-10-6-10-6-10-6-10-6-10-6-10-5-9-6-10-6-10-6-9-5-10-6-9-6-10-6-9-5-10-6-9-6-10-6-9-5-9-6-9-6-9-6-10-5-9-6-9-6-9-6-9-6-9-6-9-6-8-6-9-6-9-6-9-6-9-6-8-6-9-6-9-7-8-6-9-6-8-7-9-6-8-7-9-6-8-7-9-7-8-7-8-7-9-6-8-7-8-8-8-7-9-7-8-7-8-8M1090 1840l-11-6-10-6-10-6-11-6-10-6-10-6-10-6-10-6-10-6-10-6-10-5-10-6-10-6-9-6-10-5-10-6-9-6-10-6-10-5-9-6-9-6-10-5-9-6-10-6-9-5-9-6-9-6-10-6-9-5-9-6-9-6-9-6-9-6-9-6-9-6-9-6-8-6-9-6-9-6-9-6-9-6-8-6-9-7-8-6-9-6-9-7-8-6-9-7-8-6-9-7-8-7-8-6-9-7-8-7-8-7-9-7-8-7-8-8-8-7-8-7M1104 1840l-11-6-10-6-10-6-11-6-10-6-10-6-10-6-10-6-10-6-10-6-10-5-10-6-10-6-9-6-10-5-10-6-9-6-10-5-10-6-9-6-10-5-9-6-9-6-10-5-9-6-9-6-10-5-9-6-9-6-9-6-9-6-9-5-9-6-9-6-9-6-9-6-9-6-9-6-8-6-9-6-9-6-9-6-8-7-9-6-8-6-9-7-8-6-9-7-8-6-9-7-8-7-9-6-8-7-8-7-9-7-8-7-8-7-9-8-8-7-8-7M1118 1839l-11-6-10-6-10-6-11-6-10-6-10-6-10-6-10-5-10-6-10-6-10-6-10-5-10-6-9-6-10-5-10-6-10-6-9-5-10-6-9-6-10-5-9-6-10-6-9-5-9-6-10-6-9-5-9-6-9-6-9-5-9-6-9-6-9-6-9-6-9-6-9-6-9-6-9-6-9-6-8-6-9-6-9-6-9-6-8-6-9-7-8-6-9-7-8-6-9-7-8-6-9-7-8-7-9-7-8-7-8-7-9-7-8-7-8-7-8-7-8-8M1132 1838l-11-6-10-6-10-6-11-6-10-6-10-6-10-5-10-6-10-6-10-6-10-5-10-6-10-6-10-5-9-6-10-6-10-5-9-6-10-5-9-6-10-6-9-5-10-6-9-5-10-6-9-6-9-5-9-6-9-6-10-6-9-5-9-6-9-6-9-6-9-6-9-6-8-5-9-6-9-6-9-7-9-6-8-6-9-6-9-6-8-7-9-6-8-6-9-7-8-6-9-7-8-7-9-7-8-6-8-7-9-7-8-7-8-7-9-8-8-7-8-7M1146 1837l-11-6-10-6-10-6-11-6-10-6-10-6-10-6-10-5-10-6-10-6-10-5-10-6-10-6-10-5-10-6-9-5-10-6-10-6-9-5-10-6-9-5-10-6-9-5-10-6-9-6-9-5-9-6-10-6-9-5-9-6-9-6-9-6-9-5-9-6-9-6-9-6-9-6-9-6-9-6-8-6-9-6-9-6-9-6-8-6-9-7-8-6-9-7-8-6-9-7-8-6-9-7-8-7-9-6-8-7-8-7-9-7-8-7-8-7-8-8-9-7M1160 1835l-11-6-10-6-11-6-10-6-10-6-10-5-10-6-11-6-10-5-10-6-10-6-9-5-10-6-10-5-10-6-10-6-9-5-10-6-10-5-9-6-10-5-9-6-10-5-9-6-9-6-10-5-9-6-9-5-9-6-9-6-10-6-9-5-9-6-9-6-9-6-9-5-8-6-9-6-9-6-9-6-9-6-8-7-9-6-9-6-8-6-9-7-9-6-8-6-9-7-8-7-9-6-8-7-8-7-9-7-8-6-8-7-9-8-8-7-8-7-8-7M1173 1833l-10-6-10-6-11-6-10-6-10-6-11-5-10-6-10-6-10-5-10-6-10-5-10-6-10-6-9-5-10-6-10-5-10-6-9-5-10-6-9-5-10-6-9-5-10-6-9-5-10-6-9-5-9-6-10-6-9-5-9-6-9-6-9-5-9-6-9-6-9-6-9-5-9-6-9-6-9-6-9-6-8-6-9-6-9-7-8-6-9-6-9-6-8-7-9-6-8-7-9-6-8-7-9-7-8-6-8-7-9-7-8-7-8-7-9-7-8-8-8-7M1187 1830l-10-6-11-6-10-5-10-6-11-6-10-5-10-6-10-6-10-5-10-6-10-5-10-6-10-6-10-5-10-6-9-5-10-5-10-6-9-5-10-6-9-5-10-6-9-5-10-6-9-5-10-6-9-6-9-5-9-6-9-5-10-6-9-6-9-5-9-6-9-6-9-6-9-6-9-6-8-6-9-5-9-7-9-6-8-6-9-6-9-6-8-6-9-7-9-6-8-7-9-6-8-7-8-7-9-6-8-7-9-7-8-7-8-7-9-7-8-8-8-7M1201 1827l-11-6-10-5-10-6-11-6-10-5-10-6-10-6-10-5-11-6-10-5-10-6-9-5-10-6-10-5-10-6-10-5-10-6-9-5-10-6-9-5-10-6-10-5-9-5-9-6-10-5-9-6-9-5-10-6-9-6-9-5-9-6-9-6-9-5-9-6-9-6-9-5-9-6-9-6-9-6-9-6-9-6-8-6-9-6-9-6-9-7-8-6-9-6-8-7-9-6-8-7-9-6-8-7-9-7-8-7-9-6-8-7-8-7-8-8-9-7-8-7M1215 1824l-11-6-10-6-11-5-10-6-10-6-11-5-10-6-10-5-10-6-10-5-10-6-10-5-10-6-10-5-10-5-9-6-10-5-10-6-9-5-10-6-10-5-9-5-10-6-9-5-9-6-10-5-9-6-9-5-10-6-9-5-9-6-9-6-9-5-9-6-9-6-9-5-9-6-9-6-9-6-9-6-9-6-8-6-9-6-9-6-8-6-9-7-9-6-8-6-9-7-8-6-9-7-8-7-9-6-8-7-8-7-9-7-8-7-8-7-9-7-8-8M1228 1820l-10-5-11-6-10-6-10-5-11-6-10-5-10-6-10-6-10-5-10-5-10-6-10-5-10-6-10-5-10-5-10-6-10-5-9-6-10-5-10-5-9-6-10-5-9-6-10-5-9-5-9-6-10-5-9-6-9-5-10-6-9-6-9-5-9-6-9-5-9-6-9-6-9-6-9-5-9-6-9-6-8-6-9-6-9-6-9-6-8-7-9-6-9-6-8-7-9-6-8-6-9-7-8-7-9-6-8-7-8-7-9-7-8-7-8-7-9-7-8-8M1242 1816l-11-5-10-6-10-6-11-5-10-6-10-5-11-6-10-5-10-6-10-5-10-5-10-6-10-5-10-5-10-6-9-5-10-6-10-5-10-5-9-6-10-5-9-5-10-6-9-5-10-5-9-6-9-5-10-6-9-5-9-6-9-5-10-6-9-6-9-5-9-6-9-6-9-5-9-6-9-6-8-6-9-6-9-6-9-6-9-6-8-6-9-6-9-7-8-6-9-6-8-7-9-6-8-7-9-7-8-6-9-7-8-7-8-7-9-7-8-8-8-7M1255 1812l-10-6-11-5-10-6-10-5-11-6-10-5-10-6-10-5-10-6-11-5-10-5-10-6-10-5-9-5-10-6-10-5-10-5-10-6-9-5-10-5-10-5-9-6-10-5-9-6-10-5-9-5-9-6-10-5-9-6-9-5-9-6-9-5-10-6-9-5-9-6-9-6-9-5-9-6-9-6-8-6-9-6-9-6-9-6-9-6-8-6-9-6-9-6-8-7-9-6-8-7-9-6-8-7-9-6-8-7-9-7-8-7-8-7-9-7-8-7-8-7M1269 1807l-11-6-10-5-10-6-11-5-10-5-10-6-11-5-10-6-10-5-10-5-10-6-10-5-10-5-10-5-10-6-10-5-10-5-9-6-10-5-10-5-9-5-10-6-9-5-10-5-9-6-10-5-9-5-9-6-10-5-9-6-9-5-9-6-9-5-10-6-9-5-9-6-9-6-9-6-9-5-8-6-9-6-9-6-9-6-9-6-8-6-9-6-9-7-8-6-9-6-8-7-9-6-8-7-9-6-8-7-9-7-8-7-9-7-8-7-8-7-8-7M1282 1802l-10-6-11-5-10-6-10-5-11-5-10-6-10-5-11-5-10-6-10-5-10-5-10-6-10-5-10-5-10-5-10-5-9-6-10-5-10-5-9-5-10-6-10-5-9-5-10-5-9-6-10-5-9-5-9-6-10-5-9-6-9-5-9-6-9-5-10-6-9-5-9-6-9-6-9-5-9-6-8-6-9-6-9-6-9-6-9-6-8-6-9-6-9-6-8-6-9-7-9-6-8-7-9-6-8-7-9-7-8-6-8-7-9-7-8-7-8-7-9-8M1296 1796l-11-5-10-6-11-5-10-5-10-6-11-5-10-5-10-6-10-5-10-5-11-5-10-6-10-5-10-5-9-5-10-5-10-5-10-6-10-5-9-5-10-5-10-6-9-5-10-5-9-5-10-6-9-5-9-5-10-6-9-5-9-5-9-6-9-5-10-6-9-5-9-6-9-6-9-5-9-6-9-6-8-6-9-6-9-6-9-6-9-6-8-6-9-6-9-6-8-7-9-6-8-6-9-7-8-7-9-6-8-7-9-7-8-7-8-7-9-7-8-7M1309 1790l-10-5-11-5-10-6-11-5-10-5-10-6-11-5-10-5-10-5-10-6-10-5-10-5-10-5-10-5-10-5-10-6-10-5-10-5-9-5-10-5-10-5-9-5-10-6-10-5-9-5-9-5-10-6-9-5-10-5-9-6-9-5-9-5-9-6-10-5-9-6-9-6-9-5-9-6-9-6-9-5-9-6-8-6-9-6-9-6-9-6-8-6-9-6-9-6-8-7-9-6-9-7-8-6-9-7-8-6-9-7-8-7-8-7-9-7-8-7-8-7M1323 1784l-11-5-10-6-11-5-10-5-11-5-10-6-10-5-11-5-10-5-10-5-10-6-10-5-10-5-10-5-10-5-10-5-10-5-10-5-9-5-10-6-10-5-9-5-10-5-10-5-9-5-9-6-10-5-9-5-10-5-9-6-9-5-9-5-10-6-9-5-9-6-9-5-9-6-9-6-9-5-9-6-9-6-9-6-8-6-9-6-9-6-9-6-8-6-9-6-9-6-8-7-9-6-8-7-9-6-8-7-9-7-8-6-9-7-8-7-8-7-9-7M1336 1777l-10-5-11-5-10-6-11-5-10-5-11-5-10-5-10-5-11-6-10-5-10-5-10-5-10-5-10-5-10-5-10-5-10-5-10-5-9-5-10-5-10-5-9-6-10-5-9-5-10-5-9-5-10-5-9-6-10-5-9-5-9-6-10-5-9-5-9-6-9-5-9-6-9-5-9-6-9-6-9-5-9-6-9-6-9-6-8-6-9-6-9-6-9-6-8-6-9-6-9-7-8-6-9-6-8-7-9-7-8-6-9-7-8-7-9-7-8-7-8-7M1350 1770l-11-5-11-5-10-6-11-5-10-5-10-5-11-5-10-5-10-5-11-5-10-5-10-5-10-5-10-5-10-5-10-5-10-5-9-6-10-5-10-5-10-5-9-5-10-5-10-5-9-5-10-5-9-5-9-6-10-5-9-5-9-5-10-6-9-5-9-5-9-6-9-5-9-6-9-5-9-6-9-6-9-5-9-6-9-6-9-6-9-6-8-6-9-6-9-6-8-7-9-6-9-6-8-7-9-6-8-7-9-6-8-7-9-7-8-7-8-7-9-7M1363 1763l-11-6-10-5-11-5-10-5-11-5-10-5-11-5-10-5-10-5-10-5-11-5-10-5-10-5-10-5-10-5-10-5-10-5-9-5-10-5-10-5-10-5-9-5-10-5-10-5-9-5-10-6-9-5-10-5-9-5-9-5-10-6-9-5-9-5-9-5-9-6-10-5-9-6-9-5-9-6-9-6-9-5-8-6-9-6-9-6-9-6-9-6-8-6-9-6-9-6-8-6-9-7-9-6-8-7-9-6-8-7-9-7-8-7-9-6-8-7-8-8M1376 1755l-10-6-11-5-11-5-10-5-11-5-10-5-10-5-11-5-10-5-10-5-10-5-11-5-10-5-10-5-10-4-10-5-10-5-9-5-10-5-10-5-10-5-9-5-10-5-10-5-9-5-10-5-9-5-10-6-9-5-9-5-10-5-9-5-9-6-9-5-10-5-9-6-9-5-9-6-9-5-9-6-9-6-9-5-9-6-9-6-8-6-9-6-9-6-9-6-8-6-9-6-9-7-8-6-9-7-8-6-9-7-8-7-9-6-8-7-8-7-9-7M1390 1746l-11-5-11-5-10-5-11-5-10-5-11-5-10-5-11-5-10-5-10-5-10-5-10-4-11-5-10-5-10-5-10-5-10-5-9-5-10-5-10-5-10-4-9-5-10-5-10-5-9-5-10-5-9-5-10-6-9-5-10-5-9-5-9-5-10-5-9-6-9-5-9-6-9-5-9-5-9-6-9-6-9-5-9-6-9-6-9-5-9-6-9-6-8-6-9-6-9-7-8-6-9-6-9-6-8-7-9-6-8-7-9-7-8-7-9-6-8-7-8-7M1403 1737l-11-5-10-5-11-5-11-5-10-5-11-4-10-5-10-5-11-5-10-5-10-5-10-5-10-4-11-5-10-5-10-5-10-5-9-5-10-4-10-5-10-5-10-5-9-5-10-5-10-5-9-5-10-5-9-5-9-5-10-5-9-5-10-6-9-5-9-5-9-5-9-6-10-5-9-6-9-5-9-6-9-5-9-6-9-6-8-5-9-6-9-6-9-6-9-6-8-6-9-7-9-6-8-6-9-7-8-6-9-7-8-6-9-7-8-7-9-7-8-7M1416 1728l-11-5-10-5-11-5-10-5-11-4-10-5-11-5-10-5-11-5-10-5-10-4-10-5-10-5-11-5-10-5-10-4-10-5-10-5-9-5-10-5-10-4-10-5-9-5-10-5-10-5-9-5-10-5-9-5-10-5-9-5-10-5-9-5-9-5-9-6-10-5-9-5-9-6-9-5-9-5-9-6-9-6-9-5-9-6-9-6-9-6-9-5-8-6-9-6-9-6-9-7-8-6-9-6-8-7-9-6-9-7-8-6-9-7-8-7-8-7-9-7M1429 1719l-10-5-11-5-11-5-10-5-11-5-10-5-11-4-10-5-10-5-11-5-10-4-10-5-10-5-11-5-10-4-10-5-10-5-10-5-9-4-10-5-10-5-10-5-10-5-9-4-10-5-9-5-10-5-10-5-9-5-9-5-10-5-9-5-9-5-10-6-9-5-9-5-9-6-9-5-10-5-9-6-9-5-9-6-8-6-9-5-9-6-9-6-9-6-9-6-8-6-9-6-9-6-8-7-9-6-9-6-8-7-9-7-8-6-9-7-8-7-9-7M1443 1708l-11-4-11-5-10-5-11-5-11-5-10-4-11-5-10-5-10-4-11-5-10-5-10-5-10-4-11-5-10-5-10-4-10-5-10-5-10-4-9-5-10-5-10-5-10-4-9-5-10-5-10-5-9-5-10-5-9-5-10-5-9-5-10-5-9-5-9-5-9-5-10-6-9-5-9-5-9-6-9-5-9-6-9-5-9-6-9-5-9-6-9-6-8-6-9-6-9-6-9-6-8-6-9-7-9-6-8-6-9-7-8-6-9-7-8-7-9-7-8-7M1456 1698l-11-5-11-5-10-4-11-5-10-5-11-5-10-4-11-5-10-4-11-5-10-5-10-4-10-5-11-5-10-4-10-5-10-5-10-4-10-5-10-5-9-4-10-5-10-5-10-5-9-4-10-5-10-5-9-5-10-5-9-5-10-5-9-5-9-5-10-5-9-5-9-5-9-6-9-5-9-5-10-6-9-5-9-6-9-5-8-6-9-6-9-5-9-6-9-6-9-6-8-6-9-7-9-6-8-6-9-6-9-7-8-7-9-6-8-7-9-7-8-7M1469 1687l-11-5-10-4-11-5-11-5-10-4-11-5-10-5-11-4-10-5-11-4-10-5-10-5-10-4-11-5-10-4-10-5-10-5-10-4-10-5-10-4-10-5-9-5-10-4-10-5-10-5-9-5-10-5-9-4-10-5-9-5-10-5-9-5-10-5-9-5-9-5-9-5-10-6-9-5-9-5-9-6-9-5-9-6-9-5-9-6-9-5-9-6-9-6-9-6-8-6-9-6-9-6-8-6-9-7-9-6-8-6-9-7-8-7-9-6-8-7-9-7M1483 1676l-11-5-11-5-11-4-11-5-10-5-11-4-10-5-11-4-10-5-11-4-10-5-10-4-10-5-11-4-10-5-10-4-10-5-10-5-10-4-10-5-10-4-10-5-9-5-10-4-10-5-10-5-9-4-10-5-9-5-10-5-9-5-10-5-9-5-9-5-10-5-9-5-9-5-9-5-10-6-9-5-9-5-9-6-9-5-9-6-9-6-9-5-8-6-9-6-9-6-9-6-9-6-8-6-9-7-9-6-8-6-9-7-8-7-9-6-8-7-9-7M1496 1664l-11-5-11-5-11-4-10-5-11-4-11-5-10-4-11-5-10-4-11-5-10-4-10-4-11-5-10-4-10-5-10-4-10-5-10-4-10-5-10-4-10-5-10-5-10-4-9-5-10-4-10-5-10-5-9-5-10-4-9-5-10-5-9-5-10-5-9-5-9-5-9-5-10-5-9-5-9-6-9-5-9-5-9-6-9-5-9-6-9-5-9-6-9-6-9-6-9-6-8-6-9-6-9-6-9-6-8-6-9-7-9-6-8-7-9-7-8-6-9-7M1509 1651l-11-4-11-5-10-4-11-5-11-4-11-5-10-4-11-4-10-5-11-4-10-5-10-4-11-4-10-5-10-4-10-5-10-4-10-5-10-4-10-5-10-4-10-5-10-4-10-5-9-4-10-5-10-5-9-4-10-5-10-5-9-5-10-5-9-4-9-5-10-5-9-5-9-6-9-5-10-5-9-5-9-5-9-6-9-5-9-6-9-5-9-6-9-6-9-6-8-6-9-6-9-6-9-6-8-6-9-6-9-7-8-6-9-7-8-6-9-7-9-7M1522 1639l-11-5-10-4-11-5-11-4-11-5-10-4-11-4-11-5-10-4-11-4-10-5-10-4-11-4-10-5-10-4-10-5-10-4-10-4-11-5-10-4-9-5-10-4-10-5-10-4-10-5-10-4-9-5-10-5-9-4-10-5-10-5-9-5-9-4-10-5-9-5-9-5-10-5-9-5-9-6-9-5-9-5-10-5-9-6-9-5-9-6-9-6-8-5-9-6-9-6-9-6-9-6-9-6-8-6-9-6-9-7-8-6-9-7-8-6-9-7-8-7M1536 1625l-11-4-11-4-11-5-11-4-11-4-10-5-11-4-10-4-11-5-10-4-11-4-10-5-11-4-10-4-10-4-10-5-11-4-10-4-10-5-10-4-10-5-10-4-9-4-10-5-10-4-10-5-10-5-9-4-10-5-9-4-10-5-9-5-10-5-9-5-10-5-9-5-9-5-10-5-9-5-9-5-9-5-9-6-9-5-9-5-9-6-9-5-9-6-9-6-9-6-9-6-9-6-8-6-9-6-9-6-8-6-9-7-9-6-8-7-9-6-8-7M1549 1612l-11-5-11-4-11-4-11-5-10-4-11-4-11-4-10-5-11-4-10-4-11-4-10-4-11-5-10-4-10-4-11-4-10-5-10-4-10-4-10-5-10-4-10-4-10-5-10-4-9-5-10-4-10-5-10-4-9-5-10-4-9-5-10-5-9-5-10-4-9-5-10-5-9-5-9-5-9-5-10-5-9-6-9-5-9-5-9-6-9-5-9-6-9-5-9-6-9-6-9-6-8-6-9-6-9-6-9-6-8-6-9-7-9-6-8-7-9-6-8-7M1562 1597l-11-4-11-4-11-4-10-4-11-5-11-4-11-4-10-4-11-4-10-5-11-4-10-4-11-4-10-4-10-4-11-5-10-4-10-4-10-4-10-5-10-4-10-4-10-5-10-4-10-4-10-5-9-4-10-5-10-4-9-5-10-4-9-5-10-5-9-5-10-4-9-5-9-5-10-5-9-5-9-5-9-6-10-5-9-5-9-6-9-5-9-5-9-6-9-6-9-5-8-6-9-6-9-6-9-6-9-6-8-7-9-6-9-6-8-7-9-7-8-6M1576 1583l-12-4-10-5-11-4-11-4-11-4-11-4-11-4-10-4-11-4-10-5-11-4-10-4-11-4-10-4-10-4-11-4-10-4-10-5-10-4-10-4-10-4-10-4-10-5-10-4-10-4-10-5-10-4-9-5-10-4-10-5-9-4-10-5-9-5-10-4-9-5-10-5-9-5-9-5-10-5-9-5-9-5-9-5-9-5-9-6-9-5-10-6-8-5-9-6-9-6-9-5-9-6-9-6-9-6-8-6-9-7-9-6-9-6-8-7-9-6-8-7M1589 1568l-11-4-11-5-11-4-11-4-11-4-11-4-10-4-11-4-11-4-10-4-11-4-10-4-11-4-10-4-11-4-10-4-10-4-10-4-10-5-11-4-10-4-10-4-10-4-10-5-9-4-10-4-10-5-10-4-9-5-10-4-10-5-9-4-10-5-9-4-10-5-9-5-10-5-9-5-9-5-10-5-9-5-9-5-9-5-9-5-9-6-9-5-9-6-9-5-9-6-9-6-9-6-9-6-9-6-8-6-9-6-9-6-8-6-9-7-9-6-8-7M1602 1552l-11-4-11-4-11-4-11-4-11-4-10-4-11-4-11-4-11-4-10-4-11-4-10-4-11-4-10-4-11-4-10-4-10-4-10-4-11-4-10-4-10-4-10-4-10-5-10-4-10-4-10-4-9-5-10-4-10-4-10-5-9-4-10-5-9-4-10-5-9-5-10-4-9-5-10-5-9-5-9-5-9-5-10-5-9-5-9-6-9-5-9-5-9-6-9-5-9-6-9-6-9-5-9-6-8-6-9-6-9-7-9-6-8-6-9-7-9-6-8-7M1616 1536l-12-4-11-4-11-4-11-4-10-4-11-4-11-4-11-4-11-3-10-4-11-4-10-4-11-4-10-4-11-4-10-4-10-4-11-4-10-4-10-4-10-4-10-4-10-4-10-4-10-4-10-5-10-4-10-4-9-5-10-4-10-4-9-5-10-4-9-5-10-5-9-4-10-5-9-5-10-5-9-5-9-5-9-5-9-5-10-5-9-5-9-6-9-5-9-6-9-5-9-6-9-6-9-6-8-6-9-6-9-6-9-6-8-6-9-7-9-6-8-7M1629 1519l-11-4-11-4-11-3-11-4-11-4-11-4-11-4-11-4-10-3-11-4-11-4-10-4-11-4-10-4-11-4-10-3-10-4-11-4-10-4-10-4-10-4-10-4-10-4-10-4-10-4-10-5-10-4-10-4-10-4-9-5-10-4-10-5-9-4-10-5-9-4-10-5-9-4-10-5-9-5-9-5-10-5-9-5-9-5-9-5-10-5-9-6-9-5-9-6-9-5-9-6-9-5-8-6-9-6-9-6-9-6-9-6-8-7-9-6-9-7-8-6M1642 1502l-11-4-11-4-11-3-11-4-11-4-11-4-11-3-10-4-11-4-11-4-11-3-10-4-11-4-10-4-11-4-10-3-10-4-11-4-10-4-10-4-10-4-11-4-10-4-10-4-10-4-10-4-9-4-10-4-10-5-10-4-10-4-9-5-10-4-9-4-10-5-9-5-10-4-9-5-10-5-9-5-9-4-10-5-9-6-9-5-9-5-9-5-9-5-10-6-9-5-8-6-9-6-9-5-9-6-9-6-9-6-9-6-8-7-9-6-9-6-8-7M1656 1484l-11-3-11-4-12-4-11-4-11-3-11-4-10-4-11-3-11-4-11-4-10-3-11-4-11-4-10-3-11-4-10-4-10-4-11-4-10-3-10-4-11-4-10-4-10-4-10-4-10-4-10-4-10-4-10-4-9-4-10-5-10-4-10-4-9-5-10-4-10-4-9-5-10-5-9-4-9-5-10-5-9-5-9-5-10-5-9-5-9-5-9-5-9-5-9-6-9-5-9-6-9-5-9-6-9-6-9-6-9-6-9-6-8-6-9-6-9-7-9-6M1669 1466l-11-4-11-3-11-4-11-3-11-4-11-4-11-3-11-4-11-3-11-4-10-4-11-3-11-4-10-4-11-3-10-4-11-4-10-3-10-4-10-4-11-4-10-4-10-3-10-4-10-4-10-4-10-4-10-4-10-5-10-4-9-4-10-4-10-4-9-5-10-4-10-5-9-4-10-5-9-5-9-4-10-5-9-5-9-5-10-5-9-5-9-5-9-6-9-5-9-5-9-6-9-6-9-5-9-6-9-6-9-6-9-6-8-6-9-6-9-7-9-6M1683 1447l-11-3-12-4-11-3-11-4-11-3-11-4-11-3-11-4-11-4-10-3-11-4-11-3-10-4-11-3-11-4-10-4-11-3-10-4-10-4-11-3-10-4-10-4-10-4-10-3-10-4-10-4-10-4-10-4-10-4-10-4-10-5-10-4-9-4-10-4-10-5-9-4-10-5-9-4-10-5-9-4-9-5-10-5-9-5-9-5-10-5-9-5-9-5-9-6-9-5-9-6-9-5-9-6-9-6-9-5-9-6-9-6-8-6-9-7-9-6-9-6M1697 1428l-12-3-11-4-11-3-11-4-11-3-12-4-10-3-11-4-11-3-11-4-11-3-11-3-10-4-11-3-11-4-10-4-11-3-10-4-10-3-11-4-10-4-10-3-10-4-11-4-10-4-10-4-10-4-10-3-10-4-9-5-10-4-10-4-10-4-9-4-10-5-10-4-9-4-10-5-9-4-10-5-9-5-9-5-10-4-9-5-9-5-9-5-10-6-9-5-9-5-9-6-9-5-9-6-9-6-9-5-9-6-9-6-8-6-9-6-9-7-9-6M1710 1408l-11-3-11-4-12-3-11-3-11-4-11-3-11-3-11-4-11-3-11-4-11-3-10-3-11-4-11-3-10-4-11-3-10-4-11-3-10-4-11-3-10-4-10-4-11-3-10-4-10-4-10-4-10-3-10-4-10-4-10-4-10-4-9-4-10-4-10-5-10-4-9-4-10-5-9-4-10-5-9-4-10-5-9-5-9-4-10-5-9-5-9-5-9-5-10-6-9-5-9-5-9-6-9-5-9-6-9-6-9-6-9-6-8-6-9-6-9-6-9-6M884 1808l16 5 15 4 15 4 15 3 14 3 15 3 15 3 14 2 15 2 14 1 15 1 14 1 14 0 15 0 14 0 14-1 14-1 14-1 14-2 13-2 14-3 14-3 14-3 13-4 14-4 13-4 14-5 13-5 14-6 13-6 14-6 13-7 14-7 13-7 13-8 14-9 13-9 13-9 13-9 14-11 13-10 13-11 14-11 13-12 13-13 13-12 14-14 13-13 13-15 14-14 13-15 13-16 14-16 13-17 13-17 14-18 13-18 14-19 14-19 13-20M874 1802l15 4 15 4 15 4 15 4 15 3 15 3 15 2 14 2 15 2 14 2 14 1 15 0 14 1 14 0 14 0 14-1 14-1 14-1 14-2 14-2 14-3 13-3 14-3 14-3 13-4 14-5 13-5 14-5 13-5 14-6 13-6 14-7 13-7 13-8 14-8 13-8 13-9 13-9 14-9 13-10 13-11 13-11 14-11 13-12 13-12 13-13 14-13 13-14 13-14 13-14 14-15 13-16 13-16 14-17 13-17 14-17 13-19 14-18 13-19 14-20M864 1795l15 5 15 4 15 4 15 3 15 4 15 2 14 3 15 2 14 2 15 1 14 2 14 0 15 1 14 0 14 0 14-1 14-1 14-1 14-2 14-2 13-3 14-2 14-4 13-3 14-4 13-4 14-5 13-5 14-6 13-5 14-7 13-6 13-7 14-8 13-8 13-8 14-9 13-9 13-9 13-10 13-11 14-10 13-12 13-12 13-12 14-12 13-13 13-14 13-14 14-15 13-15 13-15 13-16 14-17 13-17 14-17 13-18 13-19 14-19 14-20M854 1789l15 4 15 4 15 4 15 4 15 3 14 3 15 3 15 2 14 2 15 1 14 1 14 1 14 1 15 0 14 0 14-1 14-1 14-1 13-2 14-2 14-2 14-3 13-3 14-4 14-4 13-4 14-5 13-5 13-5 14-6 13-6 14-7 13-7 13-7 13-8 14-8 13-9 13-9 13-9 14-10 13-10 13-11 13-11 13-12 14-12 13-13 13-13 13-13 13-14 14-15 13-15 13-15 13-16 14-16 13-17 13-18 14-18 13-18 14-19 13-20M844 1782l15 5 15 4 15 4 15 4 15 3 14 3 15 2 15 3 14 1 14 2 15 1 14 1 14 1 14 0 14 0 14-1 14-1 14-1 14-2 14-2 14-2 13-3 14-3 14-3 13-4 14-4 13-5 14-5 13-5 13-6 14-6 13-7 13-7 14-7 13-8 13-8 13-9 14-9 13-9 13-10 13-10 13-11 13-11 14-12 13-12 13-12 13-13 13-14 14-13 13-15 13-15 13-15 13-16 14-16 13-17 13-18 14-17 13-19 14-19 13-19M834 1776l15 4 15 5 15 4 15 3 14 4 15 2 15 3 14 2 15 2 14 2 15 1 14 1 14 1 14 0 14 0 14-1 14-1 14-1 14-2 14-2 13-2 14-2 14-4 13-3 14-4 13-4 14-4 13-5 14-6 13-5 13-6 14-7 13-7 13-7 13-8 14-8 13-9 13-8 13-10 13-10 14-10 13-10 13-12 13-11 13-12 13-13 13-12 14-14 13-14 13-14 13-15 13-15 14-16 13-16 13-17 13-17 14-18 13-18 14-19 13-20M824 1769l15 5 15 4 15 4 15 4 14 3 15 3 15 3 14 2 15 2 14 2 14 1 15 1 14 1 14 0 14 0 14-1 14-1 14-1 14-1 13-2 14-2 14-3 13-3 14-3 14-4 13-4 14-5 13-5 13-5 14-6 13-6 13-6 14-7 13-7 13-8 13-8 13-8 14-9 13-10 13-9 13-11 13-10 13-11 13-12 13-12 14-12 13-13 13-13 13-14 13-14 13-15 14-15 13-16 13-16 13-17 13-17 14-18 13-18 13-19 14-19M814 1763l15 5 15 4 15 4 15 4 14 3 15 3 15 3 14 2 15 2 14 2 14 1 15 1 14 1 14 0 14 0 14-1 14 0 14-2 14-1 13-2 14-2 14-3 13-3 14-3 13-4 14-4 13-4 14-5 13-5 13-6 14-6 13-6 13-7 13-7 14-8 13-8 13-8 13-9 13-9 13-10 14-10 13-11 13-11 13-11 13-12 13-12 13-13 13-13 13-14 13-14 14-15 13-15 13-16 13-16 13-16 14-18 13-17 13-18 14-19 13-19M804 1757l15 4 15 5 15 4 15 4 14 3 15 3 15 3 14 2 15 2 14 2 14 1 15 1 14 1 14 0 14 0 14 0 14-1 14-1 13-2 14-2 14-2 14-2 13-3 14-4 13-3 14-4 13-5 13-4 14-6 13-5 13-6 14-6 13-7 13-7 13-8 13-8 14-8 13-9 13-9 13-10 13-10 13-10 13-11 13-12 13-11 13-13 14-12 13-14 13-13 13-14 13-15 13-15 13-16 13-16 14-16 13-17 13-18 13-18 14-19 13-19M794 1750l15 5 15 5 15 4 15 3 15 4 14 3 15 3 14 2 15 2 14 2 14 1 15 1 14 1 14 0 14 0 14 0 14-1 14-1 13-1 14-2 14-2 13-3 14-3 14-3 13-4 14-4 13-4 13-5 14-5 13-5 13-6 13-7 14-6 13-7 13-8 13-8 13-8 13-9 14-9 13-9 13-10 13-11 13-11 13-11 13-12 13-12 13-13 13-13 13-13 13-14 13-15 13-15 13-15 14-16 13-17 13-17 13-17 13-19 14-18 13-19M784 1744l15 5 15 4 15 4 15 4 15 4 14 3 15 3 14 2 15 2 14 2 15 1 14 1 14 1 14 0 14 0 14 0 14-1 14-1 13-1 14-2 14-2 13-2 14-3 14-3 13-4 13-4 14-4 13-5 14-5 13-6 13-5 13-7 13-6 14-7 13-8 13-8 13-8 13-9 13-9 13-9 13-10 13-10 13-11 13-12 13-11 13-12 14-13 13-13 13-14 13-14 13-14 13-15 13-15 13-16 13-17 13-17 13-17 14-18 13-19 13-19M774 1738l15 5 15 4 15 4 15 4 15 4 15 3 14 3 15 2 14 2 14 2 15 1 14 1 14 1 14 1 14 0 14-1 14 0 14-1 13-2 14-1 14-2 13-3 14-3 14-3 13-3 13-4 14-5 13-4 13-5 14-6 13-6 13-6 13-6 13-7 14-8 13-8 13-8 13-8 13-9 13-10 13-10 13-10 13-11 13-11 13-12 13-12 13-12 13-13 13-14 13-14 13-14 13-15 13-15 13-16 13-16 14-17 13-18 13-18 13-18 13-19M765 1732l15 5 15 4 15 4 14 4 15 4 15 3 14 3 15 2 14 2 15 2 14 1 14 2 14 0 14 1 14 0 14 0 14-1 14-1 14-1 13-2 14-2 14-2 13-3 14-3 13-4 13-4 14-4 13-5 13-5 14-5 13-6 13-6 13-6 13-7 13-8 14-7 13-9 13-8 13-9 13-10 13-9 13-11 13-10 13-11 13-12 13-12 13-13 13-12 13-14 13-14 13-14 13-15 13-15 13-16 13-16 13-17 13-17 13-18 13-18 14-19M755 1726l15 5 15 4 15 4 15 4 14 4 15 3 15 3 14 2 14 2 15 2 14 2 14 1 14 1 14 0 14 0 14 0 14-1 14-1 14-1 13-2 14-2 14-2 13-3 14-3 13-3 13-4 14-4 13-5 13-5 14-5 13-6 13-6 13-6 13-7 13-8 13-7 14-8 13-9 13-9 13-9 13-10 13-10 13-11 12-11 13-11 13-12 13-13 13-13 13-13 13-14 13-14 13-15 13-15 13-16 13-16 13-17 13-17 14-18 13-18 13-19M745 1720l15 4 15 5 15 4 15 4 15 4 14 3 15 3 14 2 15 2 14 2 14 2 15 1 14 1 14 0 14 0 14 0 13 0 14-1 14-1 14-2 13-2 14-2 13-3 14-3 13-3 14-4 13-4 13-5 13-5 14-5 13-6 13-6 13-6 13-7 13-8 13-7 13-8 13-9 13-9 13-9 13-10 13-10 13-10 13-11 13-12 13-12 13-12 13-13 13-13 13-14 13-14 13-15 13-15 13-16 13-16 13-16 13-18 13-17 13-18 13-19M736 1714l15 4 15 5 15 4 14 4 15 4 15 3 14 3 15 2 14 2 14 2 15 2 14 1 14 1 14 1 14 0 14 0 14-1 13-1 14-1 14-2 13-2 14-2 13-2 14-3 13-4 14-4 13-4 13-4 14-5 13-5 13-6 13-6 13-6 13-7 13-7 13-8 13-8 13-9 13-8 13-10 13-9 13-10 13-11 13-11 13-11 13-12 13-12 13-13 13-13 13-14 12-14 13-15 13-15 13-16 13-16 13-16 13-17 13-18 13-18 14-19M726 1707l15 5 15 5 15 4 15 4 14 4 15 3 15 3 14 2 14 3 15 2 14 1 14 1 14 1 14 1 14 0 14 0 14-1 14 0 13-2 14-1 14-2 13-2 14-3 13-3 14-3 13-4 13-4 13-4 14-5 13-6 13-5 13-6 13-6 13-7 13-7 13-8 13-8 13-8 13-9 13-9 13-10 13-10 13-10 13-11 13-12 13-12 13-12 12-12 13-14 13-13 13-14 13-15 13-15 13-15 13-16 13-17 13-17 13-18 13-18 13-18M717 1701l15 5 15 5 14 4 15 4 15 4 15 3 14 3 15 3 14 2 14 2 14 1 15 2 14 1 14 0 14 0 13 0 14 0 14-1 14-1 13-2 14-1 13-3 14-2 13-3 14-4 13-3 13-4 14-5 13-4 13-6 13-5 13-6 13-6 13-7 13-7 13-8 13-8 13-8 13-9 13-9 13-10 13-10 13-10 13-11 13-11 13-12 12-12 13-13 13-13 13-13 13-14 13-15 13-15 13-15 13-16 13-17 12-17 13-17 13-18 14-19M707 1695l15 5 15 5 15 4 15 4 14 4 15 3 15 3 14 3 14 2 15 2 14 2 14 1 14 1 14 0 14 1 14 0 14-1 13-1 14-1 14-1 13-2 14-2 13-3 14-3 13-3 13-4 14-4 13-4 13-5 13-5 13-5 13-6 14-7 13-6 13-7 13-8 13-8 12-8 13-9 13-9 13-9 13-10 13-11 13-10 13-12 13-11 12-12 13-13 13-13 13-14 13-13 13-15 12-15 13-15 13-16 13-17 13-16 13-18 13-18 13-18M698 1689l15 5 15 5 15 4 14 4 15 4 15 3 14 3 14 3 15 2 14 2 14 2 14 1 15 1 13 1 14 0 14 0 14 0 14-1 13-1 14-2 14-1 13-3 14-2 13-3 13-3 14-4 13-4 13-4 13-5 14-5 13-5 13-6 13-7 13-6 13-7 13-8 13-7 13-9 13-8 12-9 13-10 13-10 13-10 13-11 13-11 12-12 13-12 13-12 13-13 13-14 13-14 12-14 13-15 13-15 13-16 13-16 13-17 13-18 13-17 13-19M688 1683l15 5 15 5 15 4 15 4 15 4 14 3 15 3 14 3 14 2 15 2 14 2 14 1 14 1 14 1 14 0 14 0 14 0 13-1 14-1 14-1 13-2 14-2 13-3 13-2 14-4 13-3 13-4 14-4 13-5 13-5 13-6 13-5 13-7 13-6 13-7 13-8 13-7 13-9 13-8 13-9 12-10 13-9 13-11 13-10 13-12 12-11 13-12 13-13 13-13 13-13 12-14 13-14 13-15 13-15 13-16 13-16 13-17 12-17 13-18 13-18M679 1677l15 5 15 5 15 4 14 4 15 4 15 3 14 3 15 3 14 2 14 3 14 1 15 2 14 1 14 0 13 1 14 0 14-1 14 0 13-1 14-2 14-1 13-3 13-2 14-3 13-3 13-3 14-4 13-5 13-4 13-5 13-6 13-5 13-7 13-6 13-7 13-7 13-8 13-8 13-9 13-9 13-9 12-10 13-10 13-11 13-11 13-12 12-12 13-12 13-13 13-13 12-14 13-14 13-15 13-15 13-16 12-16 13-17 13-17 13-18 13-18M670 1671l15 5 15 5 14 4 15 4 15 4 14 4 15 3 14 2 15 3 14 2 14 1 14 2 14 1 14 1 14 0 14 0 14 0 13-1 14-1 14-1 13-2 13-2 14-2 13-3 14-3 13-4 13-4 13-4 13-5 14-4 13-6 13-6 13-6 13-6 13-7 13-7 12-8 13-8 13-9 13-9 13-9 13-10 12-10 13-11 13-11 13-11 12-12 13-12 13-13 13-13 12-14 13-14 13-15 13-15 12-16 13-16 13-17 13-17 13-17 13-19M660 1665l15 5 15 5 15 4 15 5 15 3 14 4 15 3 14 2 14 3 15 2 14 2 14 1 14 1 14 1 14 0 13 0 14 0 14 0 13-1 14-2 14-1 13-2 13-3 14-3 13-3 13-3 14-4 13-4 13-5 13-5 13-5 13-6 13-6 13-6 13-7 13-7 13-8 13-8 12-9 13-8 13-10 13-9 13-11 12-10 13-11 13-12 13-11 12-13 13-13 13-13 12-13 13-15 13-14 13-15 12-16 13-16 13-16 13-18 13-17 12-18M651 1659l15 5 15 5 15 5 15 4 14 3 15 4 14 3 15 3 14 2 14 2 14 2 14 1 14 1 14 1 14 1 14 0 14 0 13-1 14-1 14-1 13-2 14-2 13-2 13-3 14-3 13-4 13-3 13-4 13-5 13-5 13-5 14-6 12-6 13-6 13-7 13-7 13-8 13-8 13-8 13-9 12-10 13-9 13-10 13-11 12-11 13-11 13-12 12-12 13-13 13-13 12-14 13-14 13-14 13-15 12-16 13-16 13-16 13-17 12-18 13-18M642 1653l15 5 15 5 15 5 14 4 15 3 15 4 14 3 14 3 15 2 14 2 14 2 14 2 14 1 14 1 14 0 14 0 13 0 14-1 14-1 13-1 14-1 13-2 14-3 13-2 13-3 13-4 14-4 13-4 13-4 13-5 13-5 13-6 13-6 13-6 13-7 13-7 12-8 13-8 13-8 13-9 13-9 12-10 13-10 13-10 13-11 12-12 13-11 13-13 12-12 13-13 13-14 12-14 13-14 13-15 12-16 13-16 13-16 13-17 12-18 13-18M633 1647l15 5 15 5 15 5 14 4 15 3 14 4 15 3 14 3 15 2 14 3 14 1 14 2 14 1 14 1 14 0 13 0 14 0 14 0 13-1 14-1 13-2 14-2 13-2 14-3 13-3 13-3 13-4 13-4 13-5 14-4 13-6 13-5 12-6 13-7 13-6 13-7 13-8 13-8 13-8 12-9 13-9 13-10 12-10 13-10 13-11 12-11 13-12 13-12 12-13 13-13 13-13 12-14 13-15 13-15 12-15 13-16 13-16 13-17 12-18 13-18M624 1641l15 5 15 5 14 5 15 4 15 4 14 3 15 3 14 3 14 3 15 2 14 2 14 1 14 1 14 1 13 1 14 0 14 0 14-1 13-1 14-1 13-2 14-1 13-3 13-2 14-3 13-4 13-3 13-4 13-5 13-5 13-5 13-5 13-6 13-7 13-6 13-7 12-8 13-8 13-8 13-9 12-9 13-10 13-9 12-11 13-11 13-11 12-12 13-12 13-12 12-13 13-14 13-14 12-14 13-15 13-15 12-16 13-16 13-17 12-18 13-17M615 1635l15 5 15 5 14 5 15 4 15 4 14 3 15 3 14 3 14 3 14 2 15 2 14 1 14 1 13 1 14 1 14 0 14 0 13-1 14 0 13-2 14-1 13-2 14-2 13-3 13-3 13-3 14-4 13-4 13-4 13-5 13-5 13-6 13-6 12-6 13-7 13-7 13-7 13-8 12-8 13-9 13-9 13-9 12-10 13-11 13-10 12-12 13-11 12-12 13-13 13-13 12-13 13-14 12-14 13-15 13-15 12-16 13-16 13-17 12-17 13-18M606 1629l15 5 15 5 14 5 15 4 15 4 14 3 15 3 14 3 14 3 14 2 14 2 14 1 14 2 14 1 14 0 14 0 14 0 13 0 14-1 13-1 14-2 13-2 13-2 14-2 13-3 13-4 13-3 13-4 13-5 13-4 13-5 13-6 13-6 13-6 13-7 13-7 13-7 12-8 13-8 13-9 12-9 13-9 13-10 12-10 13-11 13-11 12-12 13-12 12-12 13-13 13-14 12-13 13-15 12-14 13-16 13-15 12-17 13-16 12-17 13-18M597 1623l15 5 15 5 14 5 15 4 15 4 14 3 14 3 15 3 14 3 14 2 14 2 14 2 14 1 14 1 14 0 14 1 13-1 14 0 14-1 13-1 14-1 13-2 13-2 13-3 14-3 13-3 13-4 13-4 13-4 13-5 13-5 13-5 13-6 13-6 13-7 12-7 13-7 13-8 13-8 12-9 13-9 13-9 12-10 13-10 12-11 13-11 13-11 12-12 13-13 12-13 13-13 12-14 13-14 13-15 12-15 13-16 12-16 13-16 13-18 12-17M588 1617l15 5 15 5 14 5 15 4 15 4 14 3 14 3 15 3 14 3 14 2 14 2 14 2 14 1 14 1 14 0 14 1 13 0 14-1 13-1 14-1 13-1 14-2 13-2 13-3 14-2 13-4 13-3 13-4 13-4 13-5 13-5 13-6 13-5 12-7 13-6 13-7 13-7 12-8 13-8 13-9 12-9 13-9 13-10 12-10 13-11 12-11 13-11 13-12 12-12 13-13 12-14 13-13 12-14 13-15 12-15 13-16 13-16 12-17 13-17 12-17M579 1611l15 5 15 5 14 5 15 4 15 4 14 3 15 4 14 2 14 3 14 2 14 2 14 2 14 1 14 1 14 1 14 0 13 0 14-1 13 0 14-1 13-2 14-2 13-2 13-2 13-3 14-3 13-4 13-4 13-4 13-4 13-5 12-6 13-6 13-6 13-6 13-7 12-8 13-7 13-8 12-9 13-9 13-9 12-10 13-10 12-11 13-11 13-11 12-12 13-12 12-13 13-13 12-14 13-14 12-15 13-15 12-15 13-16 12-17 13-17 13-17M570 1605l15 5 15 5 15 5 14 4 15 4 14 3 15 4 14 2 14 3 14 2 14 2 14 2 14 1 14 1 14 1 14 0 13 0 14 0 13-1 14-1 13-1 14-2 13-2 13-3 13-3 13-3 14-3 13-4 13-4 13-5 12-5 13-5 13-6 13-6 13-7 12-6 13-8 13-7 13-8 12-9 13-9 12-9 13-10 12-10 13-10 13-11 12-12 13-12 12-12 13-13 12-13 13-13 12-14 13-15 12-15 13-16 12-15 13-17 12-17 13-17M561 1599l15 5 15 5 15 5 14 4 15 4 14 3 15 3 14 3 14 3 14 2 14 2 14 2 14 1 14 1 14 1 14 0 13 0 14 0 13-1 14-1 13-1 14-2 13-2 13-2 13-3 13-3 13-4 13-4 13-4 13-4 13-5 13-6 13-5 13-6 13-7 12-7 13-7 13-8 12-8 13-8 12-9 13-9 13-10 12-10 13-10 12-11 13-12 12-11 13-13 12-12 13-13 12-14 13-14 12-15 13-14 12-16 13-16 12-16 13-17 12-18M552 1593l15 5 15 5 15 4 14 5 15 4 14 3 15 3 14 3 14 3 14 2 15 2 14 2 13 1 14 1 14 1 14 0 13 0 14 0 13-1 14-1 13-1 14-2 13-2 13-2 13-3 13-3 13-3 13-4 13-4 13-5 13-5 13-5 13-6 13-6 12-6 13-7 13-7 12-8 13-8 13-8 12-9 13-9 12-10 13-10 12-10 13-11 12-12 13-11 12-12 13-13 12-13 13-14 12-14 13-14 12-15 12-15 13-16 12-17 13-17 12-17M544 1587l15 5 14 5 15 4 15 5 14 3 15 4 14 3 14 3 15 3 14 2 14 2 14 2 14 1 13 1 14 1 14 0 13 0 14 0 13 0 14-1 13-2 14-1 13-2 13-3 13-3 13-3 13-3 13-4 13-4 13-5 13-4 13-6 13-5 12-6 13-7 13-7 13-7 12-7 13-8 12-9 13-8 13-9 12-10 13-10 12-10 13-11 12-12 12-11 13-12 12-13 13-13 12-13 13-14 12-15 13-15 12-15 12-16 13-16 12-17 13-17M535 1581l15 5 15 5 14 4 15 4 14 4 15 4 14 3 15 3 14 3 14 2 14 2 14 2 14 1 14 1 13 1 14 0 14 1 13-1 14 0 13-1 13-2 14-1 13-2 13-3 13-2 13-3 13-4 13-4 13-4 13-4 13-5 13-5 13-6 12-6 13-6 13-7 12-7 13-8 13-8 12-8 13-9 12-9 13-9 12-10 13-11 12-10 13-12 12-11 13-12 12-13 12-13 13-13 12-14 13-14 12-15 12-16 13-15 12-17 13-16 12-18M526 1574l15 5 15 5 15 5 14 4 15 4 14 4 15 3 14 3 14 3 14 2 14 2 14 2 14 1 14 1 13 1 14 0 14 1 13-1 14 0 13-1 13-2 14-1 13-2 13-2 13-3 13-3 13-4 13-3 13-4 13-5 13-5 13-5 13-5 12-6 13-7 13-6 12-8 13-7 13-8 12-8 13-9 12-9 13-9 12-10 13-11 12-10 12-12 13-11 12-12 13-13 12-13 12-13 13-14 12-14 13-15 12-15 12-16 13-16 12-17 13-17M518 1568l14 5 15 5 15 5 15 4 14 4 14 4 15 3 14 3 14 3 14 2 14 2 14 2 14 1 14 1 14 1 13 0 14 1 13-1 14 0 13-1 14-2 13-1 13-2 13-2 13-3 13-3 13-3 13-4 13-4 13-5 13-4 13-6 13-5 12-6 13-6 13-7 12-7 13-7 12-8 13-9 13-8 12-9 12-10 13-10 12-10 13-11 12-11 13-11 12-12 12-13 13-13 12-13 12-14 13-14 12-15 13-15 12-16 12-16 13-16 12-18M509 1562l15 5 15 5 14 4 15 5 14 4 15 3 14 4 14 3 15 2 14 3 14 2 14 2 13 1 14 1 14 1 14 0 13 0 14 0 13 0 13-1 14-1 13-2 13-2 13-2 14-3 13-3 13-3 13-4 12-4 13-4 13-5 13-5 13-6 12-6 13-6 13-7 12-7 13-7 12-8 13-8 12-9 13-9 12-9 13-10 12-10 13-11 12-11 12-11 13-12 12-13 12-13 13-13 12-14 13-14 12-15 12-15 13-15 12-16 12-17 13-17M500 1555l15 6 15 5 15 4 14 4 15 4 14 4 14 3 15 3 14 3 14 3 14 2 14 1 14 2 13 1 14 1 14 0 13 0 14 0 13 0 14-1 13-2 13-1 13-2 14-2 13-3 13-3 13-3 13-4 13-4 12-4 13-5 13-5 13-5 12-6 13-7 13-6 12-7 13-8 12-7 13-9 12-8 13-9 12-9 13-10 12-10 13-11 12-11 12-12 13-12 12-12 12-13 13-13 12-14 12-14 13-14 12-16 12-15 13-16 12-17 12-17M492 1549l15 5 14 5 15 5 15 4 14 4 15 4 14 3 14 3 14 3 14 2 14 2 14 2 14 2 14 1 13 1 14 0 14 0 13 0 14-1 13 0 13-2 14-1 13-2 13-2 13-3 13-3 13-3 13-4 13-4 13-4 12-5 13-5 13-5 13-6 12-6 13-7 12-7 13-7 12-8 13-8 12-9 13-9 12-9 13-10 12-10 12-10 13-12 12-11 12-12 13-12 12-13 12-13 13-14 12-14 12-14 13-16 12-15 12-16 13-17 12-17M483 1543l15 5 15 5 15 4 14 5 15 4 14 3 14 4 14 3 15 3 14 2 14 2 14 2 13 1 14 1 14 1 13 1 14 0 13 0 14-1 13-1 14-1 13-1 13-2 13-2 13-3 13-3 13-3 13-4 13-4 13-4 13-5 12-5 13-5 13-6 12-6 13-7 12-7 13-7 13-8 12-8 12-8 13-9 12-9 13-10 12-10 12-11 13-11 12-11 12-12 13-12 12-13 12-13 13-14 12-14 12-15 12-15 13-15 12-16 12-16 13-17M475 1536l15 5 14 5 15 5 15 4 14 4 14 4 15 3 14 3 14 3 14 3 14 2 14 2 14 1 14 1 13 1 14 1 13 0 14 0 13-1 14-1 13-1 13-1 13-2 13-2 13-3 13-3 13-3 13-4 13-4 13-4 13-5 13-5 12-5 13-6 12-6 13-6 13-7 12-8 13-7 12-8 13-9 12-9 12-9 13-10 12-10 12-10 13-11 12-12 12-12 13-12 12-12 12-14 12-13 13-14 12-15 12-15 12-15 13-16 12-16 12-17M466 1530l15 5 15 5 14 4 15 5 15 4 14 3 14 4 14 3 14 3 15 2 14 2 13 2 14 2 14 1 14 1 13 0 14 0 13 0 14 0 13-1 13-1 13-2 14-1 13-3 13-2 13-3 13-3 13-4 12-4 13-4 13-5 13-5 12-5 13-6 13-6 12-6 13-7 12-8 13-7 12-8 13-9 12-8 12-10 13-9 12-10 12-11 13-11 12-11 12-12 13-12 12-13 12-13 12-13 12-14 13-15 12-15 12-15 12-16 13-16 12-17M458 1523l15 5 14 5 15 5 15 4 14 4 14 4 15 3 14 3 14 3 14 3 14 2 14 2 14 1 13 1 14 1 14 1 13 0 14 0 13-1 13 0 14-1 13-2 13-2 13-2 13-2 13-3 13-3 13-4 13-4 13-4 12-5 13-5 13-5 12-6 13-6 12-6 13-7 12-7 13-8 12-8 13-8 12-9 12-9 13-10 12-10 12-11 13-10 12-12 12-11 12-13 13-12 12-13 12-14 12-14 13-14 12-15 12-15 12-16 13-16 12-17M449 1516l15 6 15 5 15 4 14 5 15 4 14 3 14 4 14 3 15 3 14 2 13 2 14 2 14 2 14 1 14 1 13 0 14 1 13-1 13 0 14-1 13-1 13-1 13-2 13-2 13-3 13-2 13-4 13-3 13-4 13-4 13-5 12-5 13-5 13-6 12-6 13-6 12-7 13-7 12-8 13-8 12-8 12-9 13-9 12-10 12-10 13-10 12-11 12-11 12-12 13-12 12-13 12-13 12-13 12-14 13-14 12-15 12-16 12-15 12-17 13-16M441 1510l15 5 15 5 14 5 15 4 14 4 15 4 14 3 14 3 14 3 14 3 14 2 14 2 14 1 13 1 14 1 14 1 13 0 14 0 13 0 13-1 13-1 14-2 13-1 13-3 13-2 13-3 13-3 13-3 12-4 13-4 13-5 13-5 12-5 13-6 12-6 13-6 12-7 13-7 12-8 13-8 12-8 12-9 13-9 12-10 12-10 13-10 12-11 12-11 12-12 13-12 12-12 12-13 12-14 12-14 12-14 13-15 12-15 12-16 12-16 12-17M433 1503l14 5 15 5 15 5 14 4 15 4 14 4 14 4 15 3 14 2 14 3 14 2 13 2 14 2 14 1 14 1 13 0 14 1 13-1 13 0 14-1 13-1 13-1 13-2 13-2 13-2 13-3 13-3 13-4 13-4 13-4 12-4 13-5 13-6 12-5 13-6 12-7 13-6 12-7 13-8 12-8 12-8 13-9 12-9 12-10 13-10 12-10 12-11 12-11 12-11 13-13 12-12 12-13 12-13 12-14 12-14 13-15 12-15 12-16 12-16 12-17M424 1496l15 6 15 4 14 5 15 5 14 4 15 3 14 4 14 3 14 3 14 2 14 2 14 2 14 2 13 1 14 1 14 1 13 0 14 0 13-1 13 0 13-1 14-2 13-1 13-2 13-3 13-3 13-3 12-3 13-4 13-4 13-5 12-5 13-5 13-5 12-6 13-7 12-7 12-7 13-7 12-8 13-8 12-9 12-9 13-10 12-10 12-10 12-11 12-11 13-11 12-12 12-13 12-13 12-13 12-14 13-14 12-15 12-15 12-16 12-16 12-16M416 1489l15 6 15 5 14 4 15 5 14 4 14 4 15 3 14 3 14 3 14 2 14 3 14 2 13 1 14 1 14 1 13 1 14 0 13 0 13 0 14-1 13-1 13-1 13-2 13-2 13-2 13-3 13-3 13-4 13-3 12-5 13-4 13-5 12-5 13-6 12-6 13-6 12-7 13-7 12-7 13-8 12-9 12-8 12-9 13-10 12-10 12-10 12-11 13-11 12-11 12-12 12-13 12-12 12-14 12-13 13-15 12-14 12-16 12-15 12-16 12-17M408 1483l15 5 14 5 15 4 14 5 15 4 14 4 14 3 14 3 15 3 14 3 13 2 14 2 14 1 14 2 13 1 14 0 13 0 14 0 13 0 13-1 14-1 13-1 13-2 13-2 13-2 13-3 13-3 12-3 13-4 13-4 13-5 12-4 13-6 12-5 13-6 12-6 13-7 12-7 13-8 12-8 12-8 13-8 12-9 12-10 12-10 12-10 13-11 12-11 12-11 12-12 12-13 12-12 12-14 13-13 12-14 12-15 12-15 12-16 12-16 12-16M400 1476l14 5 15 5 15 4 14 5 14 4 15 4 14 3 14 3 14 3 14 3 14 2 14 2 14 1 13 2 14 1 13 0 14 1 13 0 14-1 13 0 13-1 13-2 13-1 13-2 13-3 13-2 13-3 13-4 13-4 12-4 13-4 13-5 12-5 13-6 12-6 13-6 12-7 13-7 12-7 12-8 13-8 12-9 12-9 12-9 13-10 12-10 12-11 12-11 12-11 12-12 12-13 13-12 12-14 12-13 12-14 12-15 12-15 12-16 12-16 12-16M391 1469l15 5 15 5 14 4 15 5 14 4 15 4 14 3 14 3 14 3 14 3 14 2 14 2 13 2 14 1 14 1 13 0 14 1 13 0 13-1 14 0 13-1 13-2 13-1 13-2 13-2 13-3 13-3 12-4 13-3 13-4 13-5 12-5 13-5 12-5 13-6 12-6 13-7 12-7 12-7 13-8 12-8 12-9 12-9 13-9 12-10 12-10 12-11 12-11 12-11 13-12 12-13 12-12 12-14 12-13 12-14 12-15 12-15 12-15 12-16 12-17M383 1461l15 6 15 5 14 4 15 5 14 4 14 4 14 3 15 3 14 3 14 3 13 2 14 2 14 2 14 1 13 1 14 0 13 1 14 0 13 0 13-1 13-1 13-1 14-2 13-2 12-2 13-3 13-3 13-3 13-4 12-4 13-5 13-4 12-5 13-6 12-6 13-6 12-7 12-7 13-7 12-8 12-8 13-8 12-9 12-10 12-10 12-10 13-10 12-11 12-12 12-12 12-12 12-13 12-13 12-13 12-14 12-15 12-15 12-15 12-16 12-17M375 1454l15 6 14 5 15 4 14 5 15 4 14 4 14 3 14 3 14 3 14 3 14 2 14 2 14 1 13 2 14 1 13 0 14 1 13 0 14 0 13-1 13-1 13-1 13-2 13-2 13-2 13-3 13-3 13-3 12-4 13-4 13-4 12-5 13-5 12-6 13-6 12-6 13-6 12-7 12-8 13-7 12-9 12-8 12-9 12-9 13-10 12-10 12-11 12-11 12-11 12-12 12-12 12-13 12-13 12-13 12-14 12-15 12-15 12-15 12-16 12-17M367 1447l15 5 14 5 15 5 14 4 15 4 14 4 14 4 14 3 14 3 14 2 14 3 14 2 14 1 13 2 14 1 13 0 14 1 13 0 13-1 14 0 13-1 13-1 13-2 13-2 13-2 13-3 12-3 13-3 13-4 13-4 12-4 13-5 12-5 13-6 12-5 13-7 12-6 12-7 13-7 12-8 12-8 13-9 12-9 12-9 12-10 12-10 12-10 12-11 12-11 12-12 13-12 12-13 12-13 12-14 12-14 12-14 12-15 12-15 12-16 12-17M359 1440l14 5 15 5 15 5 14 4 14 4 15 4 14 3 14 4 14 3 14 2 14 2 14 2 13 2 14 1 13 1 14 1 13 0 14 1 13-1 13 0 13-1 14-2 13-1 13-2 12-2 13-3 13-3 13-3 13-4 12-4 13-4 12-5 13-5 12-5 13-6 12-6 13-7 12-7 12-7 13-8 12-8 12-8 12-9 12-10 13-9 12-10 12-11 12-11 12-11 12-12 12-12 12-13 12-13 12-13 12-14 12-14 12-15 12-16 12-15 12-17M351 1432l14 6 15 5 14 4 15 5 14 4 15 4 14 3 14 3 14 3 14 3 14 2 13 2 14 2 14 1 13 1 14 1 13 0 14 0 13 0 13-1 13-1 13-1 13-1 13-2 13-3 13-2 13-3 13-3 12-4 13-4 13-4 12-5 13-5 12-5 13-6 12-6 12-7 13-7 12-7 12-8 12-8 13-8 12-9 12-9 12-10 12-10 12-10 12-11 12-12 12-11 12-12 12-13 12-13 12-14 12-13 12-15 12-15 12-15 12-16 12-16M343 1425l14 5 15 5 14 5 15 4 14 4 14 4 15 4 14 3 14 3 14 2 13 3 14 2 14 1 14 2 13 1 14 0 13 1 13 0 14 0 13-1 13-1 13-1 13-2 13-2 13-2 13-2 13-3 12-4 13-3 13-4 12-4 13-5 12-5 13-6 12-5 13-6 12-7 12-7 12-7 13-8 12-8 12-8 12-9 12-9 12-10 13-10 12-10 12-11 12-11 12-12 12-12 12-13 12-13 12-13 12-14 11-14 12-15 12-15 12-16 12-16" fill="none" stroke="#000" stroke-width="2.1" stroke-linejoin="round"/>
</g>
<ellipse cx="164.5" cy="615.6" rx="2.6" ry="2"/>
<text x="155.5" y="630.1" text-anchor="end">98.1</text>
<ellipse cx="168.5" cy="671.6" rx="2.6" ry="2"/>
<text x="159.5" y="686.1" text-anchor="end">97.05</text>
<ellipse cx="172.5" cy="726.8" rx="2.6" ry="2"/>
<text x="163.5" y="741.3" text-anchor="end">96</text>
<ellipse cx="176.5" cy="782.3" rx="2.6" ry="2"/>
<text x="167.5" y="796.8" text-anchor="end">94.95</text>
<ellipse cx="180.5" cy="837.8" rx="2.6" ry="2"/>
<text x="171.5" y="852.3" text-anchor="end">93.9</text>
<ellipse cx="444.5" cy="1025" rx="2.6" ry="2"/>
<text x="453.5" y="1039.3" text-anchor="start">-1.00</text>
<ellipse cx="542.6" cy="1003.1" rx="2.6" ry="2"/>
<text x="551.6" y="1017.4" text-anchor="start">-0.50</text>
<ellipse cx="640.8" cy="981.1" rx="2.6" ry="2"/>
<text x="649.8" y="995.4" text-anchor="start">0.00</text>
<ellipse cx="738.9" cy="959.2" rx="2.6" ry="2"/>
<text x="747.9" y="973.5" text-anchor="start">0.50</text>
<ellipse cx="837" cy="937.3" rx="2.6" ry="2"/>
<text x="846" y="951.6" text-anchor="start">1.00</text>
<ellipse cx="444.5" cy="1025" rx="2.6" ry="2"/>
<text x="435.8" y="1039.4" text-anchor="end">-1.00</text>
<ellipse cx="379.8" cy="995.7" rx="2.6" ry="2"/>
<text x="371.1" y="1010.1" text-anchor="end">-0.50</text>
<ellipse cx="315" cy="966.5" rx="2.6" ry="2"/>
<text x="306.3" y="980.9" text-anchor="end">0.00</text>
<ellipse cx="250.2" cy="937.2" rx="2.6" ry="2"/>
<text x="241.6" y="951.6" text-anchor="end">0.50</text>
<ellipse cx="185.5" cy="907.9" rx="2.6" ry="2"/>
<text x="176.8" y="922.3" text-anchor="end">1.00</text>
<ellipse class="p" cx="172.3" cy="727" rx="7" ry="4.1"/><path d="M172.8 727L172.8 711" stroke="#000" stroke-width="1.2" fill="none"/>
<ellipse class="r" cx="856.5" cy="686.5" rx="7" ry="4.1"/>
<ellipse class="r" cx="504.4" cy="745.3" rx="7" ry="4.1"/><path d="M504.9 745.3L504.9 816.6" stroke="#000" stroke-width="1.2" fill="none"/>
<ellipse class="r" cx="504.4" cy="782.3" rx="7" ry="4.1"/>
<ellipse class="r" cx="441.8" cy="858.5" rx="7" ry="4.1"/><path d="M442.3 858.5L442.3 896" stroke="#000" stroke-width="1.2" fill="none"/>
<text class="t v" transform="translate(63.5 768.3) rotate(-90)" text-anchor="middle">Drug Release After 5 Minute</text>
<text class="t" x="37.5" y="1010">C: Amount of fumaric acid</text>
<text class="t" x="575.5" y="1039">A: Amount of sodium bicarbonate</text></g>
<g><g fill="none" stroke="#222" stroke-width="1.4">
<path d="M188 1424.1L447 1541L840 1453.3L559 1358z" fill="#ff0"/>
<path d="M259.9 1456.3l7.6 0.1 7.6 0.1 8.9 0.2 9.4 0.1 9.3 0.2 9.1 0.2 9.1 0.3 8.7 0.2 7.9 0.2 8 0.3 8.1 0.3 8.1 0.2 8.1 0.4 8.3 0.3 8.2 0.4 8.4 0.4 8.4 0.4 8.5 0.4 8.6 0.5 8.7 0.5 8.7 0.6 8.9 0.6 7.6 0.5 7.6 0.6 7.5 0.5 7.4 0.6 7.3 0.7 9.1 0.8 9.7 0.9 9.5 0.9 6.9 0.8 6.8 0.7 7.6 0.9 10.8 1.3 8 1 6.4 0.9 8.5 1.2 10.2 1.5 6.1 0.9 8.7 1.4 9.1 1.6 5.8 1 11.4 2.1 5.6 1.1 11 2.2 5.4 1.1 10.6 2.4 5.2 1.2" stroke="#00ff78" stroke-width="1"/>
<path d="M190 1424.7l6.8-0.1 9.9-0.2 10.5-0.2 6.9-0.1 6.8-0.1 8.4-0.2 10.7-0.1 8.3-0.2 6.8-0.1 6.9 0 9.9-0.2 10.5-0.1 7.1-0.1 6.9-0.1 6.9 0 10.3-0.1 10.3-0.1 7.1-0.1 6.9 0 7-0.1 9.5 0 10.1-0.1 8.3 0 7 0 7 0 7.5-0.1 9.8 0 9.8 0 8.2 0.1 7.1 0 7.1 0 7.2 0 8.7 0.1 9.5 0.1 9.3 0 8.5 0.1 7.3 0.1 7.3 0.1 7.4 0.1 7.3 0.2 7.7 0.1 8.9 0.2 8.8 0.2 8.6 0.2 8.6 0.2 8.5 0.3 8.3 0.3 8.3 0.3 8.1 0.3 8 0.4 7.9 0.4 7.8 0.4 7.7 0.4 7.5 0.5 7.4 0.5 7.3 0.5 7.1 0.6 9 0.7 9.7 1 8.3 0.8 6.4 0.7 6.3 0.8 11.4 1.5 6.5 0.9 6.3 1.1 10.3 1.7 5.2 1 10.2 2.1 8 1.9 6.2 1.5 9 2.4 8.6 2.5 8.2 2.6 7.9 2.7 7.6 2.9 7.3 2.9" stroke="#17ff00" stroke-width="1"/>
<path d="M344.4 1396.2l6.9-0.3 6.2-0.2 11.2-0.5 7.2-0.3 6.2-0.2 11.2-0.5 7.1-0.3 6.1-0.3 11.8-0.5 6.3-0.3 6.4-0.3 11.6-0.6 5.9-0.3 8.4-0.4 9.4-0.5 5.8-0.3 11.6-0.7 5.9-0.3 8-0.5 9.2-0.6 5.6-0.4 11.3-0.8 5.6-0.4 11-0.8 5.5-0.4 10.8-0.9 5.3-0.5 10.5-1 5.5-0.5 9.9-1 10-1.2 4.9-0.6 9.6-1.2" stroke="#92ff00" stroke-width="1"/>
<path d="M167 1130.5L558.2 1089.2M558.2 1089.2L863.2 1150.5M840 1453.3L863.2 1150.5M188 1424.1L167 1130.5"/>
</g>
<ellipse class="p" cx="446.2" cy="1459.8" rx="7" ry="4.1"/>
<g transform="scale(0.5)">
<path d="M889 2826l15-7 15-6-10-6-10-6-15 6-15 7 10 6zM869 2814l15-7 15-6-11-6-10-6-15 6-15 7 11 6z" fill="#0af"/>
<path d="M848 2802l15-7 15-6-10-6-10-6-15 6-15 6 10 7zM919 2813l15-7 15-7-10-6-11-5-14 6-15 7 10 6zM899 2801l15-7 14-6-10-6-10-6-15 6-15 7 10 6z" fill="#0bf"/>
<path d="M828 2789l15-6 15-6-10-6-10-6-15 6-15 6 10 6zM808 2777l15-6 15-6-10-6-10-6-14 6-15 6 10 6zM878 2789l15-7 15-6-10-6-10-6-15 6-15 7 10 6zM858 2777l15-7 15-6-10-6-10-6-15 7-15 6 10 6zM949 2799l15-6 15-7-11-6-10-5-15 6-15 7 11 5zM928 2788l15-7 15-6-10-6-11-6-14 7-15 6 10 6z" fill="#0cf"/>
<path d="M789 2765l15-6 14-6-9-6-10-6-15 6-15 6 10 6zM769 2753l15-6 15-6-10-6-10-6-14 6-15 6 10 6zM838 2765l15-6 15-7-10-5-10-6-15 6-15 6 10 6zM818 2753l15-6 15-6-10-6-10-6-15 6-14 6 10 6zM908 2776l15-6 14-7-10-6-10-5-15 6-14 6 10 6zM888 2764l14-6 15-6-10-6-10-6-15 6-14 6 10 6zM979 2786l14-7 15-6-10-6-11-5-14 6-15 7 10 5zM958 2775l15-7 14-6-10-6-10-6-15 7-15 6 11 6z" fill="#0df"/>
<path d="M750 2741l15-6 14-6-9-6-10-6-15 6-14 5 9 7zM731 2728l14-5 15-6-9-6-10-6-15 5-14 6 9 6zM799 2741l14-6 15-6-10-6-9-6-15 6-15 6 10 6zM868 2752l14-6 15-6-10-6-10-5-15 6-14 6 10 6zM848 2741l14-6 15-6-10-6-10-6-14 6-15 6 10 6zM937 2763l15-6 15-7-11-5-10-6-14 6-15 7 10 5zM917 2752l15-7 14-6-10-5-10-6-14 6-15 6 10 6zM1008 2773l15-7 14-6-10-6-11-5-14 6-15 7 11 5zM987 2762l15-7 14-6-10-6-10-5-15 6-14 6 10 6zM967 2750l14-6 15-6-10-6-11-5-14 6-15 6 10 6zM1037 2760l15-7 14-6-10-6-11-5-14 6-15 7 11 5z" fill="#0ef"/>
<path d="M712 2716l14-6 15-5-9-6-10-6-14 5-15 6 9 6zM779 2729l15-6 15-6-10-6-10-6-14 6-15 6 10 6zM760 2717l15-6 14-6-9-6-10-6-14 6-15 6 10 6zM828 2729l15-6 14-6-10-6-9-6-15 6-14 6 9 6zM809 2717l14-6 15-6-10-5-10-6-14 6-15 5 10 6zM897 2740l15-6 14-6-10-6-10-5-14 6-15 6 10 5zM877 2729l15-6 14-6-10-6-10-6-14 6-15 6 10 6zM946 2739l15-6 14-6-10-6-10-5-14 6-15 6 10 6zM926 2728l15-6 14-6-10-6-10-5-14 6-15 6 10 5zM1016 2749l15-7 14-6-10-5-10-6-15 7-14 6 10 5zM996 2738l14-6 15-7-11-5-10-5-14 6-15 6 11 5zM1066 2747l15-7 14-6-10-5-11-6-14 7-15 6 11 5z" fill="#0ff"/>
<path d="M693 2704l15-6 14-5-9-6-10-6-14 5-15 6 10 6zM674 2692l15-6 14-5-9-6-9-7-15 6-14 5 9 6zM741 2705l15-6 14-6-9-5-10-6-14 5-15 6 10 6zM722 2693l15-6 14-5-9-6-10-6-14 5-15 6 10 6zM789 2705l15-5 14-6-9-6-10-6-14 6-15 5 10 6zM857 2717l15-6 14-6-10-5-9-6-15 6-14 5 9 6zM838 2705l14-5 15-6-10-6-10-6-14 6-15 6 10 6zM906 2717l15-6 14-6-10-6-10-5-14 5-15 6 10 6zM886 2705l15-6 14-5-10-6-10-6-14 6-14 6 9 6zM975 2727l15-6 14-6-10-6-10-5-15 6-14 6 10 5zM955 2716l14-6 15-6-10-6-10-5-15 6-14 6 10 5zM1045 2736l15-6 14-7-10-5-11-5-14 6-14 6 10 6zM1025 2725l14-6 14-6-10-5-10-6-14 6-15 7 10 5zM1095 2734l15-7 14-6-11-5-10-5-14 6-15 6 11 6z" fill="#0fe"/>
<path d="M656 2679l14-5 15-6-9-6-10-6-14 6-15 5 9 6zM703 2681l15-6 14-5-9-6-9-6-15 5-14 5 9 7zM770 2693l15-5 14-6-9-6-10-6-14 6-15 6 10 6zM751 2682l15-6 14-6-9-5-10-6-14 5-15 6 10 6zM818 2694l15-6 14-6-9-5-10-6-14 6-15 5 10 6zM799 2682l15-5 14-6-10-6-9-6-15 6-14 5 10 6zM867 2694l14-6 14-6-9-5-10-6-14 6-15 5 10 6zM847 2682l15-5 14-6-10-5-10-6-14 5-14 6 10 6zM935 2705l14-6 15-6-10-6-10-5-15 6-14 6 10 5zM915 2694l14-6 15-6-10-6-10-5-14 6-15 5 10 6zM1004 2715l15-7 14-6-10-5-11-5-14 6-14 6 10 5zM984 2704l14-6 14-6-10-6-10-5-14 6-14 6 10 5zM964 2693l14-6 14-6-10-5-10-6-14 6-14 6 10 5zM1074 2723l15-6 14-6-11-5-10-5-14 6-15 6 11 5zM1053 2713l15-6 14-6-10-6-11-5-14 6-14 6 10 6zM1033 2702l14-6 14-6-10-5-10-5-14 6-15 6 11 5zM1124 2721l14-6 15-7-11-5-11-5-14 7-14 6 10 5zM1103 2711l14-6 14-7-10-5-11-5-14 6-14 7 10 5z" fill="#0fd"/>
<path d="M637 2667l15-5 14-6-9-6-9-6-14 5-15 6 9 6zM619 2655l15-6 14-5-9-6-9-6-14 5-15 5 9 6zM685 2668l14-5 15-5-10-6-9-6-14 5-15 5 10 6zM666 2656l15-5 14-5-9-6-9-6-14 5-15 5 9 6zM732 2670l15-6 14-5-9-6-10-6-14 5-14 6 9 6zM714 2658l14-6 14-5-9-6-9-6-14 5-15 6 9 6zM780 2670l14-5 15-6-10-5-9-6-14 5-15 6 10 6zM828 2671l14-6 14-5-9-6-10-5-14 5-14 5 9 6zM895 2682l15-5 14-6-10-6-10-5-14 6-14 5 10 6zM876 2671l14-5 14-6-9-6-10-5-14 5-15 6 10 6zM944 2682l14-6 14-6-10-5-10-5-14 5-14 6 10 5zM924 2671l14-6 14-5-10-6-9-5-15 5-14 6 10 5zM1012 2692l15-6 14-6-10-5-10-5-15 5-14 6 10 5zM992 2681l14-6 15-5-11-6-10-5-14 6-14 5 10 6zM1082 2701l14-7 14-6-10-5-10-5-14 6-15 6 11 5zM1061 2690l15-6 14-6-11-5-10-5-14 6-14 6 10 5zM1153 2708l14-6 14-6-11-5-10-5-14 6-15 6 11 5zM1131 2698l15-6 14-6-11-5-10-5-14 6-15 6 11 5z" fill="#0fc"/>
<path d="M601 2642l15-5 14-5-9-6-9-7-14 5-15 6 9 6zM648 2644l15-5 14-5-9-7-9-6-15 6-14 5 9 6zM695 2646l15-6 14-5-9-6-9-6-15 5-14 6 9 6zM761 2659l15-6 14-5-10-6-9-6-14 6-15 5 10 6zM742 2647l15-5 14-6-9-6-10-5-14 5-14 5 9 6zM809 2659l14-5 14-5-9-6-10-6-14 6-14 5 9 6zM790 2648l14-5 14-6-9-6-10-5-14 5-14 5 9 6zM856 2660l15-6 14-5-10-6-9-5-15 5-14 6 10 5zM837 2649l14-6 15-5-10-6-9-5-15 5-14 5 10 6zM904 2660l14-6 15-5-10-6-10-5-14 5-14 6 10 5zM972 2670l14-5 14-6-10-5-9-6-15 6-14 6 10 5zM952 2660l14-6 15-6-10-5-10-5-14 5-14 6 9 5zM1041 2680l14-6 14-6-10-5-10-5-14 6-14 6 10 5zM1021 2670l14-6 14-6-10-5-10-5-15 5-14 6 10 5zM1110 2688l15-6 14-6-11-5-10-5-14 6-14 6 10 5zM1090 2678l14-6 14-6-11-4-10-5-14 5-14 6 10 5zM1069 2668l14-6 14-5-10-5-10-5-14 5-14 6 10 5zM1181 2696l14-6 14-7-11-4-10-5-14 6-14 6 10 5zM1160 2686l14-6 14-6-11-5-10-5-14 6-14 6 10 5z" fill="#0fb"/>
<path d="M583 2630l15-6 14-5-9-6-9-6-14 5-15 5 9 6zM630 2632l14-5 15-6-9-6-9-6-15 5-14 5 9 7zM677 2634l14-6 15-5-10-6-9-6-14 5-14 5 9 6zM659 2621l14-5 14-5-9-6-9-6-14 5-14 5 9 6zM724 2635l14-5 14-5-9-6-9-6-14 5-14 5 9 6zM706 2623l14-5 14-5-9-6-9-6-14 5-15 5 9 6zM771 2636l14-5 14-5-9-6-9-6-14 5-15 6 10 5zM818 2637l14-5 15-5-10-6-9-6-14 5-15 6 10 5zM885 2649l14-6 14-5-10-6-9-5-14 5-14 6 9 5zM866 2638l14-6 14-5-10-5-9-6-14 5-14 6 9 5zM933 2649l14-6 14-5-10-5-10-6-14 6-14 5 10 5zM913 2638l14-5 14-6-10-5-9-6-14 6-14 5 9 5zM1000 2659l14-6 15-5-10-5-10-6-14 6-14 5 9 6zM981 2648l14-5 14-6-10-5-10-5-14 5-14 6 10 5zM1049 2658l14-6 14-5-10-5-11-5-13 5-14 6 10 5zM1029 2648l14-6 13-5-10-5-10-6-14 6-13 5 10 6zM1139 2676l14-6 14-6-11-4-10-5-14 6-14 5 10 5zM1118 2666l14-5 14-6-11-5-10-5-14 6-14 6 10 5zM1097 2657l14-6 14-6-10-5-10-5-14 6-14 6 10 5zM1209 2683l14-6 14-6-11-5-10-4-14 6-14 6 10 5zM1188 2674l14-6 14-6-11-5-10-4-14 5-14 6 10 5zM1167 2664l14-6 14-5-11-5-10-5-14 6-14 6 10 5z" fill="#0fa"/>
<path d="M565 2617l15-5 14-5-9-6-8-6-15 5-14 5 9 6zM548 2605l14-5 15-5-9-7-9-6-14 5-15 5 9 6zM612 2619l14-5 15-5-9-6-9-6-14 5-15 5 9 6zM594 2607l15-5 14-5-9-6-9-6-14 5-14 5 8 6zM641 2609l14-5 14-5-9-6-9-6-14 5-14 5 9 6zM687 2611l15-5 14-5-9-6-9-6-15 5-14 5 9 6zM752 2625l15-6 14-5-10-6-9-5-14 5-14 5 9 6zM734 2613l14-5 14-5-9-6-9-6-14 5-14 5 9 6zM799 2626l15-6 14-5-10-5-9-6-14 5-14 5 9 6zM781 2614l14-5 14-5-9-6-10-5-14 5-14 5 9 5zM847 2627l14-6 14-5-10-6-9-5-14 5-14 5 9 6zM828 2615l14-5 14-5-10-6-9-5-14 5-14 5 9 6zM894 2627l14-5 14-6-10-5-9-5-14 5-14 5 9 6zM875 2616l14-5 14-5-10-6-9-5-14 5-14 5 9 5zM961 2638l14-6 14-5-10-5-10-5-14 5-14 5 10 6zM941 2627l14-5 14-5-10-6-9-5-14 5-14 5 9 6zM1009 2637l13-5 14-6-10-5-9-5-14 6-14 5 10 5zM989 2627l14-5 14-6-10-5-10-5-14 5-14 6 10 5zM1077 2647l14-6 14-6-11-5-10-4-14 5-14 6 11 5zM1056 2637l14-6 14-5-10-5-10-5-14 5-14 5 10 6zM1146 2655l14-6 14-6-11-4-10-5-14 5-14 6 10 5zM1125 2645l14-6 14-5-11-5-10-5-14 6-13 5 10 5zM1105 2635l13-5 14-6-10-4-10-5-14 5-14 6 10 4zM1237 2671l14-6 14-6-11-5-11-4-13 6-14 6 10 4zM1216 2662l14-6 13-6-10-5-11-4-14 6-13 6 10 4zM1195 2653l13-6 14-6-10-5-11-4-14 6-13 5 10 5zM1174 2643l13-5 14-6-10-5-11-4-13 5-14 6 10 5zM1265 2659l14-6 14-6-11-4-11-5-14 6-14 6 11 4z" fill="#0f9"/>
<path d="M530 2592l15-5 14-5-9-6-8-6-15 4-14 5 9 7zM577 2595l14-5 14-5-9-6-8-7-15 5-14 5 9 6zM623 2597l14-5 14-5-9-6-9-6-14 5-14 5 9 6zM669 2599l14-5 15-5-9-6-9-6-15 5-14 5 9 6zM716 2601l14-5 14-5-9-6-9-6-14 5-14 5 9 6zM762 2603l14-5 14-5-9-6-9-6-14 5-14 5 9 6zM809 2604l14-5 14-5-9-6-10-5-14 5-14 5 10 5zM856 2605l14-5 14-5-10-6-9-5-14 5-14 5 9 5zM922 2616l14-5 14-5-10-5-10-6-13 5-14 6 9 5zM903 2606l14-6 13-5-9-5-10-5-14 5-13 5 9 5zM969 2617l14-6 14-5-10-5-10-5-13 5-14 5 9 5zM950 2606l14-5 13-5-9-6-10-5-14 5-14 5 10 6zM1036 2626l14-5 14-5-10-5-10-5-14 5-13 5 9 5zM1017 2616l13-5 14-5-10-5-10-5-13 5-14 5 10 5zM997 2606l14-5 13-5-9-6-10-5-14 5-14 6 10 5zM1084 2626l14-6 14-5-10-5-10-5-14 5-14 6 10 5zM1064 2616l14-6 14-5-10-5-10-5-14 5-14 6 10 5zM1153 2634l14-6 13-5-10-5-10-5-14 6-14 5 10 5zM1132 2624l14-5 14-6-11-4-10-5-13 5-14 6 10 5zM1243 2650l14-6 14-6-11-4-10-4-14 5-14 6 11 4zM1222 2641l14-6 14-5-11-5-10-4-14 5-14 6 11 4zM1201 2632l14-6 14-5-11-5-10-4-14 5-14 6 11 4zM1293 2647l13-6 14-6-11-4-11-4-13 5-14 6 11 5zM1271 2638l14-6 13-5-10-5-11-4-14 6-13 6 10 4z" fill="#0f8"/>
<path d="M513 2579l14-5 15-4-9-7-9-6-14 5-14 5 9 6zM559 2582l14-5 15-5-9-6-9-6-14 5-14 5 8 6zM605 2585l14-5 14-5-8-6-9-6-14 5-14 4 8 7zM651 2587l14-5 15-5-9-6-9-6-14 5-15 5 9 6zM633 2575l15-5 14-5-9-6-9-6-14 5-14 5 9 6zM698 2589l14-5 14-5-9-6-9-5-14 4-14 5 9 6zM680 2577l14-5 14-4-9-6-9-6-14 4-14 5 9 6zM744 2591l14-5 14-5-9-6-9-5-14 4-14 5 9 6zM726 2579l14-5 14-4-9-6-9-6-14 5-14 5 9 5zM790 2593l14-5 14-5-9-6-9-6-14 5-14 5 9 6zM772 2581l14-5 14-5-9-5-10-6-13 5-14 5 9 5zM837 2594l14-5 14-5-10-6-9-5-14 5-14 5 10 5zM818 2583l14-5 14-5-9-6-10-6-13 5-14 5 9 6zM884 2595l13-5 14-5-9-6-10-5-13 5-14 5 9 5zM865 2584l14-5 13-5-9-6-9-5-14 5-14 5 9 5zM930 2595l14-5 14-5-10-5-9-5-14 5-14 5 10 5zM911 2585l14-5 14-5-10-6-9-5-14 5-14 5 10 5zM977 2596l14-6 14-5-10-5-10-5-13 5-14 5 10 5zM1044 2606l14-6 14-5-10-5-10-5-14 5-14 6 10 5zM1024 2596l14-6 14-5-10-5-10-5-14 5-13 5 10 5zM1112 2615l14-6 13-5-10-5-10-4-14 5-13 5 10 5zM1092 2605l13-5 14-5-10-5-10-5-14 5-13 5 10 5zM1072 2595l13-5 14-5-10-5-10-5-14 5-13 5 10 5zM1180 2623l14-6 14-5-11-5-10-4-14 5-13 5 10 5zM1160 2613l13-5 14-5-10-5-11-5-13 6-14 5 10 5zM1139 2604l14-5 13-6-10-4-10-5-13 5-14 6 10 4zM1250 2630l13-6 14-6-11-4-10-4-14 5-13 6 10 4zM1229 2621l13-6 14-5-11-5-10-4-14 5-13 6 10 4zM1208 2612l13-6 14-5-11-5-10-4-13 5-14 6 10 4zM1320 2635l14-6 13-5-10-5-11-4-14 6-14 6 11 4zM1298 2627l14-6 14-6-11-4-11-4-13 6-14 5 11 4z" fill="#0f7"/>
<path d="M496 2567l14-5 14-5-8-6-9-7-14 5-14 5 8 6zM542 2570l14-5 14-5-9-6-8-6-14 4-15 5 9 6zM588 2572l14-4 14-5-9-6-9-6-14 4-14 5 9 6zM570 2560l14-5 14-4-8-7-9-6-14 5-14 5 8 6zM616 2563l14-5 14-5-9-6-9-6-14 5-14 5 9 6zM662 2565l14-5 14-4-9-6-9-6-14 5-14 4 9 6zM708 2568l14-5 14-5-9-6-9-6-14 5-14 5 9 6zM754 2570l14-5 13-5-9-6-9-6-14 5-13 5 9 6zM800 2571l14-5 13-5-9-5-9-6-14 5-14 5 10 6zM846 2573l14-5 14-5-10-6-9-5-14 5-14 4 10 6zM892 2574l14-5 14-5-10-5-9-6-14 5-13 5 9 5zM958 2585l14-5 13-5-9-5-10-5-13 5-14 5 9 5zM939 2575l14-5 13-5-9-5-10-6-14 5-13 5 9 5zM1005 2585l13-5 14-5-10-5-9-5-14 5-14 5 10 5zM985 2575l14-5 14-5-10-5-10-5-13 5-14 5 10 5zM1052 2585l13-5 14-5-10-5-10-5-13 5-14 5 10 5zM1032 2575l14-5 13-5-10-4-9-5-14 4-13 5 9 5zM1119 2595l14-6 13-5-10-5-10-4-14 5-13 5 10 5zM1099 2585l13-5 14-5-10-5-10-5-13 5-14 5 10 5zM1187 2603l14-6 13-5-10-4-10-5-14 5-14 5 11 5zM1166 2593l14-5 14-5-11-4-10-5-13 5-14 5 10 5zM1146 2584l14-5 13-5-10-5-10-4-14 5-13 5 10 4zM1277 2618l14-5 13-6-10-4-11-4-14 5-13 6 10 4zM1256 2610l13-6 14-5-11-5-10-4-14 6-13 5 10 4zM1235 2601l13-5 14-6-11-4-10-4-13 5-14 5 10 4zM1214 2592l14-5 13-5-10-5-11-4-13 5-13 5 10 5zM1347 2624l14-6 14-6-11-4-11-4-14 6-13 5 11 4zM1326 2615l13-5 14-6-11-4-11-4-13 6-14 5 11 4zM1304 2607l14-5 13-6-10-4-11-4-14 5-13 6 11 4z" fill="#0f6"/>
<path d="M479 2554l14-5 14-5-8-6-9-6-14 4-14 5 8 6zM524 2557l15-5 14-4-9-7-8-6-14 5-15 4 9 7zM507 2544l15-4 14-5-9-6-8-6-14 4-15 5 9 6zM553 2548l14-5 14-5-9-6-8-6-14 4-14 5 8 6zM598 2551l14-5 14-5-8-6-9-6-14 5-14 4 9 6zM644 2553l14-4 14-5-9-6-9-6-14 4-14 5 9 6zM690 2556l14-5 14-5-9-6-9-6-14 5-14 5 9 6zM736 2558l13-5 14-5-9-5-9-6-14 5-13 4 9 6zM718 2546l13-4 14-5-9-6-9-6-13 5-14 4 9 6zM781 2560l14-5 14-5-9-5-9-6-14 5-14 4 9 6zM763 2548l14-4 14-5-9-6-9-5-14 4-14 5 9 6zM827 2561l14-4 14-5-9-6-9-5-14 5-14 4 9 6zM809 2550l14-4 14-5-10-6-9-5-13 4-14 5 9 6zM874 2563l13-5 14-5-9-5-10-6-13 5-14 5 9 5zM855 2552l14-5 13-5-9-5-9-5-14 4-13 5 9 5zM920 2564l13-5 14-5-9-5-10-5-13 4-14 5 9 6zM901 2553l14-5 13-4-9-6-10-5-13 5-14 4 10 6zM966 2565l14-5 13-5-9-5-10-5-13 5-14 4 10 6zM947 2554l14-4 13-5-9-5-10-6-13 5-14 5 10 5zM1013 2565l13-5 14-4-10-5-10-5-13 4-14 5 10 5zM993 2555l14-5 13-4-9-5-10-6-13 5-14 5 10 5zM1079 2575l14-5 13-5-10-4-10-5-13 5-14 4 10 5zM1059 2565l14-4 13-5-10-5-9-5-14 5-13 5 9 5zM1126 2575l13-5 14-5-10-5-10-4-14 4-13 5 10 5zM1106 2565l13-5 14-4-10-5-10-5-13 5-14 5 10 5zM1194 2583l13-5 13-5-10-5-10-4-13 5-14 5 10 5zM1173 2574l14-5 13-5-10-4-10-5-14 5-13 5 10 4zM1283 2599l13-6 14-5-11-4-10-4-14 5-13 5 10 4zM1262 2590l13-5 14-5-11-4-10-5-14 5-13 6 10 4zM1241 2582l13-6 14-5-11-4-10-4-13 5-14 5 11 4zM1220 2573l14-5 13-5-10-4-10-5-14 5-13 5 10 4zM1375 2612l13-5 14-6-11-4-11-4-14 6-13 5 11 4zM1353 2604l13-5 14-6-11-4-11-4-13 6-14 5 11 4zM1331 2596l14-5 13-6-11-3-10-4-14 5-13 5 11 4zM1310 2588l13-5 14-5-11-4-11-4-13 5-13 5 10 4zM1402 2601l13-6 13-5-11-4-11-3-13 5-13 5 11 4z" fill="#0f5"/>
<path d="M462 2541l14-5 14-4-8-7-8-6-15 5-14 4 9 7zM445 2528l14-4 15-5-9-6-8-7-14 5-14 4 8 7zM490 2532l15-5 14-4-9-7-8-6-14 4-14 5 8 6zM536 2535l14-5 14-4-9-6-8-7-14 5-14 5 8 6zM581 2538l14-4 14-5-9-6-8-6-14 4-14 5 8 6zM626 2541l14-5 14-4-8-6-9-6-14 4-14 5 9 6zM609 2529l14-5 14-4-9-6-9-6-13 4-14 5 8 6zM672 2544l14-5 14-5-9-5-9-6-14 4-14 5 9 6zM654 2532l14-5 14-4-9-6-9-6-13 4-14 5 9 6zM700 2534l14-4 13-5-9-6-8-6-14 5-14 5 9 6zM745 2537l14-5 14-4-9-6-9-6-14 5-14 4 9 6zM791 2539l14-5 13-4-9-6-9-6-14 5-13 5 9 5zM837 2541l13-5 14-4-9-6-10-5-13 4-14 5 9 5zM882 2542l14-4 13-5-9-5-9-6-14 5-13 5 9 5zM928 2544l14-5 13-5-9-5-9-5-14 5-14 4 10 5zM974 2545l14-5 13-5-9-5-10-5-13 5-14 4 10 6zM1040 2556l13-5 14-5-10-5-10-5-13 5-14 5 10 5zM1020 2546l14-5 13-5-9-5-10-5-13 5-14 4 10 6zM1086 2556l14-5 13-5-10-5-10-4-13 4-13 5 9 5zM1067 2546l13-5 13-4-9-5-10-5-13 5-14 4 10 5zM1153 2565l13-5 14-5-10-4-10-5-14 5-13 5 10 4zM1133 2556l13-5 14-5-10-5-10-4-14 4-13 5 10 5zM1113 2546l13-5 14-4-10-5-10-4-13 4-14 5 10 4zM1200 2564l13-5 14-5-11-4-10-4-13 4-13 5 10 5zM1180 2555l13-5 13-4-10-5-10-4-13 4-13 5 10 5zM1289 2580l13-5 13-5-10-5-11-4-13 5-13 5 10 5zM1268 2571l13-5 13-5-10-4-10-4-14 5-13 5 10 4zM1247 2563l13-5 14-5-11-4-10-4-13 4-13 5 10 5zM1227 2554l13-5 13-4-10-5-10-4-13 5-14 5 10 4zM1380 2593l13-5 13-5-10-4-11-4-14 5-13 5 11 4zM1358 2585l13-5 14-5-11-4-11-4-13 5-13 6 10 4zM1337 2578l13-6 13-5-10-4-11-3-13 5-14 5 11 4zM1315 2570l14-5 13-5-11-4-10-4-13 4-14 5 11 4zM1428 2590l14-5 13-6-11-3-11-4-13 5-14 6 11 3zM1406 2583l14-6 13-5-11-4-11-3-13 5-13 5 11 4z" fill="#0f4"/>
<path d="M429 2515l14-4 14-5-8-6-9-7-14 5-14 4 8 7zM474 2519l14-5 14-4-9-6-8-7-14 5-14 4 8 7zM519 2523l14-5 14-5-9-6-8-6-14 4-14 5 8 6zM564 2526l14-5 14-4-9-6-8-7-14 5-14 4 8 7zM592 2517l14-5 13-4-8-6-9-7-14 5-13 4 8 7zM637 2520l14-5 13-4-8-6-9-6-14 4-14 5 9 6zM682 2523l14-5 14-5-9-5-9-6-14 4-14 5 9 6zM727 2525l14-4 14-5-9-6-9-5-14 4-13 4 8 6zM773 2528l13-5 14-5-9-5-9-6-14 5-13 4 9 6zM755 2516l13-4 14-5-9-6-9-5-13 4-14 5 9 5zM818 2530l14-5 13-4-9-6-9-6-13 5-14 4 9 6zM800 2518l14-4 13-5-9-5-9-6-13 5-14 4 9 6zM864 2532l13-5 14-5-9-5-9-5-14 4-14 5 10 5zM845 2521l14-5 14-4-10-6-9-5-13 4-14 4 9 6zM909 2533l14-4 14-5-10-5-9-6-14 5-13 4 9 6zM891 2522l13-4 14-5-9-5-10-5-13 4-13 5 9 5zM955 2534l14-4 13-5-9-5-10-5-13 4-13 5 9 5zM937 2524l13-5 13-4-9-5-9-5-14 4-13 4 9 6zM1001 2535l14-4 13-5-10-5-9-5-13 5-14 4 10 5zM982 2525l14-4 13-5-10-5-9-5-13 5-14 4 10 5zM1047 2536l14-4 13-5-10-5-9-5-14 5-13 4 10 5zM1028 2526l13-4 14-5-10-5-9-5-14 5-13 4 9 5zM1093 2537l14-5 13-4-10-5-10-5-13 5-13 4 10 5zM1074 2527l13-4 13-5-9-5-10-4-13 4-13 4 9 5zM1160 2546l13-5 13-4-10-5-10-4-13 4-13 5 10 4zM1140 2537l13-5 13-4-10-5-10-4-13 4-13 5 10 4zM1120 2528l13-5 13-4-9-5-10-5-13 5-14 4 10 5zM1206 2546l14-5 13-5-10-4-10-5-14 5-13 5 10 4zM1186 2537l13-5 14-5-10-4-10-4-14 4-13 5 10 4zM1294 2561l14-5 13-4-11-4-10-4-13 4-13 5 10 4zM1274 2553l13-5 13-4-10-5-11-4-13 5-13 5 10 4zM1253 2545l13-5 13-5-10-4-10-4-13 5-13 4 10 4zM1233 2536l13-4 13-5-10-4-10-4-13 4-13 4 10 5zM1385 2575l13-5 13-5-11-4-10-4-14 5-13 5 11 4zM1363 2567l13-5 14-5-11-3-11-4-13 5-13 5 11 3zM1342 2560l13-5 13-5-10-4-11-4-13 5-13 5 10 4zM1321 2552l13-5 13-5-10-4-11-4-13 5-13 5 10 4zM1300 2544l13-5 13-5-10-4-10-4-13 5-14 4 11 4zM1455 2579l13-5 13-5-11-4-11-3-13 5-13 5 11 4zM1433 2572l13-5 13-5-11-4-10-3-14 5-13 5 11 3zM1411 2565l13-5 14-5-11-4-11-4-13 5-13 5 10 4zM1390 2557l13-5 13-5-11-3-10-4-14 5-13 5 11 4z" fill="#0f3"/>
<path d="M412 2502l14-4 14-5-8-6-8-7-14 5-14 4 8 7zM457 2506l14-4 14-5-8-6-9-7-14 5-14 4 9 7zM502 2510l14-5 14-4-9-6-8-7-14 5-14 4 8 7zM547 2513l14-4 14-5-9-6-8-6-14 4-14 5 8 6zM530 2501l14-5 14-4-9-6-8-7-14 5-14 4 8 7zM575 2504l13-4 14-5-8-6-9-6-14 5-13 4 8 6zM619 2508l14-5 14-4-9-6-8-6-14 4-14 4 9 7zM664 2511l14-5 14-4-9-6-8-6-14 4-14 5 9 6zM710 2513l13-4 14-4-9-6-9-6-13 4-14 5 9 6zM692 2502l14-5 13-4-8-6-9-6-14 4-13 5 8 6zM737 2505l14-5 13-4-9-6-9-6-13 4-14 5 9 6zM782 2507l14-4 13-5-9-5-9-6-13 4-14 5 9 5zM827 2509l14-4 13-4-9-6-9-5-13 4-14 4 9 6zM873 2512l13-5 13-4-9-6-9-5-13 4-14 5 9 5zM918 2513l13-4 14-4-10-6-9-5-13 4-14 5 10 5zM899 2503l14-5 13-4-9-5-9-6-14 5-13 4 9 5zM963 2515l14-4 13-5-9-5-10-5-13 4-13 5 9 5zM945 2505l13-5 13-4-9-5-9-5-14 4-13 4 9 5zM1009 2516l13-4 14-5-10-4-9-5-14 4-13 4 9 5zM990 2506l13-4 14-4-10-6-9-5-13 5-14 4 10 5zM1055 2517l13-4 13-4-9-5-10-5-13 4-13 4 9 5zM1036 2507l13-4 13-4-10-5-9-5-13 4-13 5 9 5zM1100 2518l14-4 13-5-10-4-10-5-13 4-13 5 10 4zM1081 2509l13-5 13-4-9-5-10-5-13 5-13 4 10 5zM1166 2528l13-5 14-4-10-5-10-4-13 4-14 5 10 4zM1146 2519l14-5 13-4-10-5-10-4-13 4-13 4 10 5zM1213 2527l13-4 13-4-10-5-10-4-13 4-13 5 10 4zM1193 2519l13-5 13-4-10-4-10-5-13 4-13 5 10 4zM1279 2535l14-4 13-5-11-4-10-4-13 5-13 4 10 4zM1259 2527l13-4 13-5-10-4-10-4-13 4-13 5 10 4zM1239 2519l13-5 13-4-10-4-10-5-13 5-13 4 10 4zM1368 2550l13-5 14-5-11-4-11-3-13 4-13 5 11 4zM1347 2542l13-5 13-4-10-4-11-4-13 5-13 4 11 4zM1326 2534l13-4 13-5-10-4-10-4-13 5-13 4 10 4zM1306 2526l13-4 13-5-11-4-10-4-13 5-13 4 10 4zM1481 2569l14-6 13-5-11-3-11-3-14 5-13 5 11 3zM1459 2562l13-5 14-5-11-4-11-3-13 5-13 5 10 3zM1438 2555l13-5 13-5-11-4-11-3-13 5-13 4 11 4zM1416 2547l13-4 13-5-11-4-10-3-13 4-13 5 10 4zM1395 2540l13-5 13-4-11-4-11-3-13 4-13 5 11 3zM1373 2533l13-5 13-4-10-4-11-4-13 5-13 4 11 4zM1508 2558l13-5 13-5-11-3-11-3-13 5-13 5 11 3zM1486 2552l13-5 13-5-11-3-11-4-13 5-13 5 11 3z" fill="#0f2"/>
<path d="M396 2489l14-4 14-5-8-6-9-7-14 5-14 4 8 7zM440 2493l14-4 14-5-8-6-8-6-14 4-14 4 8 7zM485 2497l14-4 14-5-9-6-8-6-14 4-14 4 9 7zM513 2488l14-4 14-5-9-6-8-6-14 4-14 5 8 6zM558 2492l13-4 14-5-8-6-9-6-14 4-13 4 8 7zM602 2495l14-4 14-4-9-7-8-6-14 5-14 4 9 6zM647 2499l14-5 14-4-9-6-9-6-13 4-14 5 8 6zM630 2487l14-5 13-4-8-6-9-6-14 4-13 4 8 6zM675 2490l13-5 14-4-9-6-9-6-13 5-14 4 9 6zM719 2493l14-5 13-4-8-6-9-5-14 4-13 4 9 6zM764 2496l14-5 13-4-9-6-9-5-13 4-14 4 9 6zM809 2498l14-4 13-4-9-6-9-6-13 5-14 4 9 6zM791 2487l14-4 13-5-9-5-9-6-13 4-14 5 9 5zM854 2501l14-5 13-4-9-6-9-5-13 4-14 5 9 5zM836 2490l14-5 13-4-9-5-9-6-13 4-14 4 9 6zM881 2492l13-4 14-5-9-5-9-5-14 4-13 4 9 5zM926 2494l13-4 14-4-10-6-9-5-13 4-13 4 9 6zM971 2496l14-4 13-5-10-5-9-5-13 4-13 5 9 5zM1017 2498l13-5 13-4-10-5-9-5-13 4-13 4 9 5zM1062 2499l13-4 13-5-9-4-10-5-13 4-13 4 9 5zM1127 2509l13-4 13-4-10-5-9-4-13 4-14 4 10 5zM1107 2500l14-4 13-4-10-5-10-5-13 4-13 4 10 5zM1173 2510l13-5 13-4-10-4-10-5-13 4-13 5 10 4zM1153 2501l13-5 13-4-10-4-9-5-13 4-13 5 9 4zM1219 2510l13-4 13-5-10-4-10-4-13 4-13 4 10 5zM1199 2501l13-4 13-4-10-4-10-5-13 4-13 4 10 5zM1285 2518l13-4 13-5-10-4-10-4-13 5-13 4 10 4zM1265 2510l13-4 13-5-10-4-11-4-12 4-13 4 10 5zM1245 2501l13-4 12-4-10-4-10-4-12 4-13 4 10 4zM1352 2525l13-4 13-5-10-4-11-3-12 4-13 4 10 4zM1332 2517l13-4 12-4-10-4-10-4-13 4-13 4 10 4zM1311 2509l13-4 13-4-10-4-11-4-12 4-13 4 10 4zM1464 2545l13-5 13-5-11-3-11-3-13 4-13 5 11 3zM1442 2538l13-5 13-4-11-4-11-3-13 4-12 5 10 3zM1421 2531l12-5 13-4-10-4-11-3-13 4-13 5 11 3zM1399 2524l13-5 13-4-10-4-11-4-13 5-13 4 11 4zM1378 2516l13-4 13-5-10-3-11-4-13 4-13 5 11 3zM1357 2509l13-5 13-4-10-4-11-3-12 4-13 4 10 4zM1534 2548l13-5 13-5-11-3-12-3-12 5-13 5 11 3zM1512 2542l13-5 12-5-11-3-11-3-12 5-13 4 11 4zM1490 2535l13-4 12-5-10-3-11-4-13 5-13 5 11 3zM1468 2529l13-5 13-5-11-3-11-3-13 4-13 5 11 3zM1446 2522l13-5 13-4-11-4-10-3-13 4-13 5 11 3z" fill="#0f1"/>
<path d="M379 2476l14-4 14-5-8-6-8-7-14 5-14 4 8 7zM424 2480l14-4 14-4-9-7-8-6-14 4-14 4 9 7zM468 2484l14-4 14-4-8-7-8-6-14 4-14 5 8 6zM496 2476l14-5 14-4-9-6-8-7-14 5-13 4 8 6zM541 2479l13-4 14-4-8-7-9-6-13 5-14 4 8 6zM585 2483l14-4 14-5-9-6-8-6-14 4-14 5 9 6zM613 2474l13-4 14-4-9-6-8-6-14 4-13 4 8 6zM657 2478l14-4 13-5-8-6-9-6-13 5-14 4 9 6zM702 2481l13-4 14-4-9-6-9-6-13 4-14 4 9 6zM746 2484l14-4 13-4-8-6-9-6-14 4-13 5 9 5zM729 2473l13-5 14-4-9-6-9-6-13 5-14 4 9 6zM773 2476l14-5 13-4-9-6-8-5-14 4-13 4 9 6zM818 2478l14-4 13-4-9-6-9-5-13 4-14 4 9 6zM863 2481l13-4 14-4-10-6-9-5-13 4-13 4 9 6zM908 2483l13-4 13-4-9-5-9-6-13 5-13 4 9 5zM890 2473l13-4 13-5-9-5-9-5-13 4-14 4 9 5zM953 2486l13-5 13-4-9-5-9-5-14 4-13 4 9 5zM934 2475l13-4 14-4-10-5-9-6-13 4-13 4 9 6zM998 2487l13-4 13-4-9-5-10-5-13 4-13 4 9 5zM979 2477l13-4 13-4-9-5-9-5-13 4-13 4 9 5zM1043 2489l13-4 13-4-9-5-10-5-13 4-13 4 9 5zM1024 2479l13-4 13-4-9-5-10-5-13 4-13 4 10 5zM1088 2490l13-4 13-4-9-5-10-4-13 4-13 4 10 5zM1069 2481l13-4 13-4-9-5-10-5-13 4-13 4 10 5zM1134 2492l13-5 13-4-10-4-10-5-13 4-13 4 10 5zM1114 2482l13-4 13-4-9-4-10-5-13 4-13 4 10 4zM1179 2492l13-4 13-4-10-4-10-5-12 4-13 4 9 5zM1160 2483l13-4 12-4-9-4-10-5-13 4-13 4 10 5zM1225 2493l13-4 12-4-9-4-10-5-13 4-13 4 10 5zM1205 2484l13-4 13-4-10-4-10-4-13 3-13 4 10 5zM1291 2501l13-4 12-4-10-4-10-4-13 4-13 4 11 4zM1270 2493l13-4 13-4-10-4-10-4-13 4-13 4 10 4zM1250 2485l13-4 13-4-10-4-10-4-13 3-12 4 10 5zM1337 2501l13-4 12-4-10-4-10-4-13 4-13 4 11 4zM1316 2493l13-4 13-4-10-4-10-4-13 4-13 4 10 4zM1296 2485l13-4 13-4-10-4-10-4-13 4-13 4 10 4zM1425 2515l13-5 13-4-11-3-10-4-13 4-13 4 11 4zM1404 2507l13-4 13-4-11-3-10-4-13 4-13 4 11 4zM1383 2500l13-4 13-4-11-4-10-3-13 4-13 4 11 3zM1362 2493l13-4 13-4-10-4-11-4-12 4-13 4 10 4zM1560 2538l13-4 13-5-12-3-11-3-13 5-13 4 12 3zM1537 2532l13-4 13-5-11-3-11-3-13 4-13 5 11 3zM1515 2526l13-5 13-4-11-3-11-3-13 4-12 4 11 4zM1494 2519l12-4 13-4-11-4-10-3-13 4-13 5 11 3zM1472 2513l13-5 13-4-11-3-11-3-13 4-12 4 10 3zM1451 2506l12-4 13-4-11-4-10-3-13 4-12 4 10 4zM1430 2499l12-4 13-4-11-4-10-3-13 4-12 4 10 4zM1586 2529l12-5 13-5-11-2-11-3-13 4-13 5 11 3zM1563 2523l13-5 13-4-11-3-11-3-13 4-13 5 11 3zM1541 2517l13-5 13-4-11-3-11-3-13 4-13 5 11 3zM1519 2511l13-5 13-4-11-3-11-3-13 4-12 4 10 3z" fill="#0f0"/>
<path d="M363 2463l14-4 14-5-8-6-8-7-14 4-14 5 8 6zM407 2467l14-4 14-4-8-7-8-6-14 4-14 4 8 7zM452 2472l14-5 14-4-9-7-8-6-14 4-14 5 8 6zM480 2463l13-4 14-5-8-6-8-7-14 5-14 4 8 6zM524 2467l14-4 13-5-8-6-8-6-14 4-14 4 8 7zM568 2471l14-5 14-4-9-6-8-6-14 4-14 4 9 6zM596 2462l13-4 14-4-9-6-8-7-14 5-13 4 8 6zM640 2466l14-4 13-5-8-6-9-6-14 4-13 5 8 6zM684 2469l14-4 13-4-8-6-9-6-13 4-14 4 9 6zM667 2457l14-4 13-4-8-6-9-6-13 4-14 4 9 6zM711 2461l14-4 13-5-8-5-9-6-13 4-14 4 9 6zM756 2464l13-4 14-4-9-6-9-6-13 4-14 4 9 6zM800 2467l14-4 13-4-9-6-9-5-13 4-13 4 8 5zM845 2470l13-4 13-4-9-6-8-5-14 4-13 4 9 5zM827 2459l13-4 14-4-9-6-9-5-13 4-14 4 9 5zM871 2462l14-4 13-4-9-6-9-5-13 4-13 4 8 5zM916 2464l13-4 13-4-9-5-9-5-13 4-13 4 9 5zM961 2467l13-4 13-4-9-5-10-5-13 3-13 4 9 6zM942 2456l13-4 13-3-9-6-9-5-13 4-13 4 9 5zM1005 2469l13-4 13-4-9-5-9-5-13 4-13 4 9 5zM987 2459l13-4 13-4-9-5-10-5-13 4-13 4 10 5zM1050 2471l13-4 13-4-9-5-10-5-13 4-13 4 10 5zM1031 2461l13-4 13-4-9-5-9-4-13 3-13 4 9 5zM1095 2473l13-4 13-4-9-5-10-5-13 4-13 4 10 5zM1076 2463l13-4 13-4-9-4-10-5-13 4-13 3 10 5zM1140 2474l13-4 13-4-10-4-9-5-13 4-13 4 10 5zM1121 2465l13-4 13-4-10-4-9-5-13 4-13 3 10 5zM1185 2475l13-4 13-3-10-5-9-4-13 4-13 3 10 5zM1166 2466l13-3 13-4-10-5-10-4-12 4-13 3 9 5zM1231 2476l12-4 13-3-10-5-9-4-13 4-13 4 10 4zM1211 2468l13-4 13-4-10-4-10-5-13 4-12 4 9 4zM1276 2477l13-4 13-4-10-4-10-4-13 4-13 4 10 4zM1256 2469l13-4 13-4-10-4-10-4-13 3-12 4 9 4zM1342 2485l13-4 12-4-10-4-10-3-13 3-12 4 10 4zM1322 2477l12-4 13-3-10-4-10-4-13 4-12 3 10 4zM1302 2469l12-3 13-4-10-4-10-4-13 3-12 4 10 4zM1409 2492l12-4 13-4-11-4-10-3-13 4-12 4 10 3zM1388 2485l12-4 13-4-10-4-10-3-13 3-13 4 11 4zM1367 2477l13-4 13-3-11-4-10-4-12 4-13 4 10 3zM1347 2470l13-4 12-4-10-3-10-4-13 3-12 4 10 4zM1498 2504l12-4 13-4-11-3-11-3-12 4-13 4 11 3zM1476 2498l13-4 12-4-10-4-11-3-12 4-13 4 10 3zM1455 2491l13-4 12-4-10-3-11-4-12 4-13 4 10 3zM1434 2484l13-4 12-4-10-3-11-4-12 4-13 4 10 3zM1413 2477l13-4 12-4-10-3-10-4-13 4-12 4 10 3zM1393 2470l12-4 13-4-11-3-10-4-12 4-13 3 10 4zM1611 2519l13-4 13-5-12-2-11-3-13 4-12 5 11 3zM1589 2514l12-5 13-4-11-3-11-2-13 4-12 4 11 3zM1567 2508l12-4 13-4-11-3-11-3-13 4-12 4 11 3zM1545 2502l12-4 13-4-11-3-11-3-13 4-12 4 11 3zM1523 2496l12-4 13-4-11-3-11-3-12 4-13 4 11 3zM1501 2490l13-4 12-4-10-3-11-4-12 4-13 4 11 3zM1480 2483l13-4 12-4-10-3-11-3-12 4-13 3 11 4zM1459 2476l13-3 12-4-10-3-11-4-12 4-13 3 11 4zM1637 2510l12-4 13-4-12-3-11-2-12 4-13 4 11 3zM1614 2505l13-4 12-4-11-3-11-3-13 4-12 5 11 2zM1592 2500l12-5 13-4-11-2-11-3-13 4-12 4 11 3zM1570 2494l12-4 13-4-11-3-11-3-12 4-13 4 11 3z" fill="#1f0"/>
<path d="M391 2454l14-4 14-4-8-7-8-6-14 4-14 4 8 7zM435 2459l14-5 14-4-8-6-8-7-14 4-14 5 8 6zM463 2450l14-4 14-5-9-6-8-6-14 4-13 4 8 7zM507 2454l14-4 14-4-9-7-8-6-14 4-13 4 8 7zM551 2458l14-4 14-4-9-6-8-7-14 4-13 5 8 6zM535 2446l13-5 14-4-8-6-9-6-13 4-14 4 8 6zM579 2450l13-4 14-5-8-6-9-6-13 4-14 4 8 7zM623 2454l13-5 14-4-9-6-8-6-13 4-14 4 8 7zM650 2445l14-4 13-4-9-6-8-6-14 4-13 4 8 6zM694 2449l14-4 13-4-9-6-8-6-14 4-13 4 9 6zM738 2452l14-4 13-4-9-5-8-6-14 4-13 4 9 6zM783 2456l13-4 13-4-9-6-8-6-14 4-13 4 9 6zM765 2444l13-4 14-4-9-5-9-6-13 4-13 4 8 6zM809 2448l14-4 13-4-9-6-9-6-13 4-13 4 8 6zM854 2451l13-4 13-4-9-6-9-5-13 4-13 4 9 5zM898 2454l13-4 13-4-9-6-9-5-13 4-13 4 9 5zM880 2443l13-4 13-4-9-5-9-6-13 4-13 4 9 5zM924 2446l13-4 13-4-9-5-9-5-13 3-13 4 9 5zM968 2449l13-4 13-4-9-5-9-5-13 3-13 4 9 5zM1013 2451l13-4 13-3-9-5-10-5-13 3-13 4 10 5zM1057 2453l13-3 13-4-9-5-10-5-12 4-13 4 9 4zM1039 2444l13-4 12-4-9-5-9-5-13 4-13 4 10 5zM1102 2455l13-3 13-4-10-5-9-4-13 3-13 4 10 5zM1083 2446l13-4 13-3-10-5-9-5-13 4-13 3 10 5zM1147 2457l13-3 12-4-9-5-10-4-13 3-12 4 9 5zM1128 2448l12-4 13-3-9-5-10-4-12 3-13 4 9 4zM1192 2459l12-4 13-4-10-4-9-4-13 3-13 4 10 4zM1172 2450l13-4 13-3-10-5-9-4-13 3-13 4 10 4zM1237 2460l12-4 13-3-10-4-10-5-12 4-13 3 10 5zM1217 2451l13-3 12-4-9-4-10-4-13 3-12 4 9 4zM1198 2443l12-4 13-3-10-5-9-4-13 3-12 4 9 4zM1282 2461l12-4 13-3-10-4-10-4-13 3-12 4 10 4zM1262 2453l12-4 13-3-10-4-10-4-12 3-13 3 10 5zM1242 2444l13-3 12-3-9-5-10-4-13 3-12 4 10 4zM1327 2462l12-4 13-3-10-4-10-4-13 3-12 4 10 4zM1307 2454l12-4 13-3-10-4-10-4-12 3-13 4 10 4zM1287 2446l13-4 12-3-10-4-10-4-12 3-13 4 10 4zM1372 2462l13-3 12-4-10-3-10-4-13 3-12 4 10 4zM1352 2455l12-4 13-3-10-4-10-4-13 4-12 3 10 4zM1332 2447l12-3 13-4-10-4-10-3-13 3-12 3 10 4zM1438 2469l13-3 12-4-10-3-11-4-12 4-12 3 10 4zM1418 2462l12-3 12-4-10-3-10-4-12 4-13 3 10 4zM1397 2455l13-3 12-4-10-3-10-4-13 4-12 3 10 4zM1377 2448l12-3 13-4-10-3-11-4-12 3-12 3 10 4zM1548 2488l13-4 12-4-11-3-11-3-12 4-13 4 11 3zM1526 2482l13-4 12-4-10-3-11-3-12 4-13 3 11 4zM1505 2475l13-3 12-4-11-3-10-3-13 3-12 4 11 3zM1484 2469l12-4 13-3-11-3-10-4-12 4-13 3 11 4zM1463 2462l13-3 12-4-11-3-10-3-12 3-13 3 11 4zM1442 2455l13-3 12-3-10-4-10-3-13 3-12 3 10 4zM1662 2502l12-5 13-4-12-2-11-3-12 4-13 5 11 2zM1639 2497l13-5 12-4-11-2-11-3-13 4-12 4 11 3zM1617 2491l12-4 13-4-11-2-11-3-13 4-12 4 11 3zM1595 2486l12-4 13-4-11-3-11-2-13 3-12 4 11 3zM1573 2480l12-4 13-3-11-3-11-3-12 4-13 3 11 3zM1551 2474l13-3 12-4-11-3-10-3-13 4-12 3 11 3zM1530 2468l12-3 13-4-11-3-11-3-12 3-12 4 10 3zM1509 2462l12-4 12-3-10-3-11-3-12 3-12 3 10 4zM1488 2455l12-3 12-3-10-3-10-4-13 4-12 3 10 3zM1664 2488l13-4 12-4-11-2-11-2-13 3-12 4 11 3zM1642 2483l12-4 13-3-12-3-11-2-12 3-12 4 11 3zM1620 2478l12-4 12-3-11-3-11-3-12 4-12 4 11 2zM1598 2473l12-4 12-4-10-2-11-3-13 3-12 4 11 3zM1576 2467l12-4 13-3-11-3-11-3-12 4-12 3 10 3z" fill="#2f0"/>
<path d="M419 2446l14-5 14-4-8-6-9-7-13 4-14 5 8 6zM447 2437l13-4 14-4-8-7-8-6-14 4-14 4 9 7zM491 2441l13-4 14-4-8-6-8-7-14 4-14 5 8 6zM518 2433l14-4 13-4-8-7-8-6-14 4-13 4 8 7zM562 2437l14-4 13-4-8-6-9-6-13 4-14 4 9 6zM606 2441l14-4 13-4-8-6-9-6-13 4-14 4 9 6zM633 2433l13-4 14-4-9-6-8-6-13 4-14 4 9 6zM677 2437l13-4 14-4-9-6-8-6-14 4-13 4 8 6zM721 2441l13-4 14-4-9-6-9-6-13 4-13 4 8 6zM748 2433l13-4 13-4-8-6-9-6-13 4-14 4 9 6zM792 2436l13-4 13-4-9-5-8-6-14 4-13 4 9 6zM836 2440l13-4 13-4-9-6-9-5-13 4-13 3 9 6zM818 2428l13-3 13-4-8-6-9-5-13 3-13 4 8 6zM862 2432l13-4 13-4-9-5-9-6-13 4-13 4 9 5zM906 2435l13-4 13-3-9-6-9-5-13 4-13 3 9 6zM950 2438l13-4 13-3-9-6-9-5-13 4-13 4 9 5zM932 2428l13-4 13-4-9-5-9-5-13 3-13 4 9 5zM994 2441l13-4 13-3-9-6-9-5-13 4-13 4 9 5zM976 2431l13-4 13-4-9-5-9-5-13 4-13 3 9 5zM1020 2434l13-4 13-4-9-5-9-5-13 4-13 3 9 5zM1064 2436l13-3 13-4-9-5-10-5-12 4-13 3 9 5zM1046 2426l13-3 12-4-9-5-9-5-13 4-12 3 9 5zM1109 2439l13-4 12-3-9-5-10-5-12 4-13 3 9 5zM1090 2429l13-3 12-4-9-5-9-4-13 3-13 3 10 5zM1153 2441l13-4 13-3-10-5-9-4-13 3-13 4 10 4zM1134 2432l13-4 13-3-10-5-9-5-13 4-13 3 10 5zM1179 2434l12-4 13-3-10-4-9-5-13 3-12 4 9 4zM1160 2425l12-4 13-3-10-4-9-5-13 3-12 3 9 5zM1223 2436l12-4 13-3-10-4-9-4-13 3-12 3 9 4zM1204 2427l12-3 13-3-10-5-9-4-13 3-12 3 9 5zM1267 2438l13-4 12-3-9-4-10-4-13 3-12 3 10 4zM1248 2429l12-3 13-3-10-4-9-5-13 3-12 4 9 4zM1312 2439l12-3 13-3-10-4-10-4-12 3-13 3 10 4zM1292 2431l13-3 12-3-10-4-9-4-13 3-12 3 10 4zM1357 2440l12-3 12-3-10-4-9-4-13 3-12 4 10 3zM1337 2433l12-4 13-3-10-3-10-4-13 3-12 3 10 4zM1317 2425l12-3 13-3-10-4-10-4-12 3-12 3 9 4zM1422 2448l12-3 13-3-11-3-10-4-12 3-12 3 10 4zM1402 2441l12-3 12-3-10-4-10-3-12 3-13 3 11 4zM1381 2434l13-3 12-3-10-4-10-4-12 3-12 3 9 4zM1362 2426l12-3 12-3-10-3-10-4-12 3-12 3 10 4zM1467 2449l12-3 13-4-11-3-10-3-12 3-12 3 10 3zM1447 2442l12-3 12-3-10-4-10-3-13 3-12 3 10 4zM1426 2435l12-3 13-3-11-4-10-3-12 3-12 3 10 3zM1406 2428l12-3 12-3-10-4-10-3-12 3-12 2 10 4zM1687 2493l12-4 13-4-12-2-11-3-12 4-13 4 11 3zM1555 2461l12-3 12-4-10-3-11-2-12 3-13 3 11 3zM1533 2455l13-3 12-3-11-3-10-4-12 4-13 3 11 3zM1512 2449l13-3 12-4-11-3-10-3-12 3-12 3 10 4zM1492 2442l12-3 12-3-10-3-11-3-12 3-12 3 10 3zM1471 2436l12-3 12-3-10-3-10-4-12 3-12 3 10 3zM1451 2429l12-3 12-3-10-3-10-4-12 3-13 3 10 3z" fill="#3f0"/>
<path d="M474 2429l14-5 14-4-9-6-8-6-13 4-14 4 8 6zM502 2420l13-4 14-4-8-6-9-7-13 4-14 5 8 6zM545 2425l14-4 13-4-8-7-8-6-14 4-13 4 8 6zM589 2429l14-4 13-4-8-6-9-6-13 4-14 4 9 6zM616 2421l14-4 13-4-8-6-9-6-13 4-14 4 9 6zM660 2425l13-4 14-4-9-6-8-6-14 4-13 4 8 6zM704 2429l13-4 13-4-8-6-9-6-13 4-13 4 8 6zM687 2417l13-4 13-4-8-6-9-6-13 4-13 4 8 6zM730 2421l14-4 13-4-9-6-8-5-14 3-13 4 9 6zM774 2425l13-4 14-4-9-6-9-5-13 3-13 4 9 6zM801 2417l13-4 13-3-9-6-9-6-13 4-13 4 9 5zM844 2421l13-4 13-4-8-5-9-6-13 4-13 4 9 5zM888 2424l13-3 13-4-9-6-9-5-13 4-13 3 9 6zM870 2413l13-3 13-4-8-5-9-6-13 4-13 3 9 6zM914 2417l13-4 13-3-9-6-9-5-13 3-13 4 9 5zM958 2420l13-3 13-4-9-5-9-5-13 3-13 4 9 5zM1002 2423l13-3 13-4-10-5-9-5-12 4-13 3 9 5zM984 2413l13-3 12-4-9-5-9-5-12 3-13 4 9 5zM1028 2416l12-3 13-4-9-5-9-5-13 4-13 3 9 5zM1071 2419l13-3 13-3-9-5-10-5-12 3-13 3 9 5zM1115 2422l13-3 13-4-10-4-9-5-13 3-12 4 9 4zM1097 2413l12-4 13-3-9-5-10-5-12 4-13 3 10 5zM1141 2415l12-3 13-3-10-5-9-4-12 3-13 3 9 5zM1185 2418l12-3 13-3-10-5-9-4-13 3-12 3 9 5zM1166 2409l12-3 13-3-10-5-9-4-12 3-13 3 9 4zM1229 2421l12-4 13-3-10-4-10-4-12 3-12 3 9 4zM1210 2412l12-3 12-3-9-5-10-4-12 3-12 3 9 4zM1273 2423l12-3 13-3-10-5-10-4-12 3-12 3 9 5zM1254 2414l12-3 12-3-9-4-10-4-12 3-13 3 10 4zM1298 2417l12-3 12-3-10-4-9-4-12 2-13 3 10 4zM1278 2408l13-3 12-2-10-4-9-5-13 3-12 3 10 4zM1342 2419l12-3 12-3-10-4-9-4-13 3-12 3 10 4zM1322 2411l12-3 13-3-10-4-10-4-12 3-12 3 9 4zM1386 2420l12-2 12-3-10-4-9-4-13 3-12 3 10 4zM1366 2413l12-3 13-3-10-3-10-4-12 2-12 3 9 4zM1347 2405l12-3 12-2-10-4-10-4-12 3-12 2 10 4zM1430 2422l13-3 12-3-10-3-10-4-13 3-12 3 10 3zM1410 2415l12-3 13-3-10-3-10-4-12 3-12 2 9 4zM1391 2407l12-2 12-3-10-3-10-4-12 2-12 3 10 4z" fill="#4f0"/>
<path d="M529 2412l13-4 14-4-8-6-9-7-13 4-14 4 9 7zM572 2417l14-4 13-4-8-7-8-6-14 4-13 4 8 6zM599 2409l14-4 13-4-8-7-9-6-13 4-13 4 8 6zM643 2413l13-4 14-4-9-6-8-6-13 4-14 4 9 6zM670 2405l13-4 13-4-8-6-9-6-13 4-13 4 8 6zM713 2409l13-4 14-3-9-6-8-6-14 3-13 4 9 6zM757 2413l13-4 13-3-8-6-9-6-13 4-13 4 8 5zM783 2406l13-4 13-4-8-6-9-5-13 3-13 4 9 6zM827 2410l13-4 13-4-9-5-9-6-13 4-13 3 9 6zM853 2402l13-3 13-4-9-5-9-6-13 3-13 4 9 6zM896 2406l13-4 13-3-9-5-9-6-12 4-13 3 9 6zM940 2410l13-4 13-3-9-6-9-5-13 3-13 4 9 5zM922 2399l13-4 13-3-9-5-9-6-13 4-13 3 9 6zM966 2403l13-4 12-3-9-5-9-6-12 4-13 3 9 5zM1009 2406l13-3 13-4-9-5-9-5-13 4-13 3 9 5zM1053 2409l13-3 12-3-9-5-9-5-13 3-12 3 9 5zM1035 2399l12-3 13-3-9-5-9-5-13 3-12 3 9 5zM1078 2403l13-3 12-4-9-4-9-5-12 3-13 3 9 5zM1122 2406l13-3 12-3-9-5-10-5-12 3-13 3 10 5zM1103 2396l13-3 12-3-9-4-9-5-12 3-13 3 9 5zM1147 2400l13-3 12-3-9-5-10-5-12 3-13 3 10 5zM1191 2403l12-3 12-3-9-5-9-4-13 3-12 3 9 4zM1172 2394l12-3 13-3-10-5-9-4-12 3-13 2 10 5zM1234 2406l13-3 12-3-9-4-10-5-12 3-13 3 10 4zM1215 2397l13-3 12-3-9-4-10-5-12 3-12 3 9 4zM1259 2400l12-3 13-3-10-4-10-4-12 3-12 2 10 5zM1240 2391l12-2 12-3-9-4-9-5-13 3-12 2 10 5zM1303 2403l12-3 12-3-10-4-9-4-12 3-12 2 9 5zM1284 2394l12-2 12-3-10-4-9-4-12 2-13 3 10 4zM1327 2397l12-2 12-3-9-4-10-4-12 3-12 2 9 4zM1308 2389l12-2 12-3-10-4-9-4-12 2-12 3 9 4zM1371 2400l12-3 12-2-10-4-10-4-12 3-12 2 10 4zM1351 2392l12-2 12-3-9-4-10-4-12 3-12 2 10 4zM1332 2384l12-2 12-3-10-3-9-4-12 2-12 2 9 4z" fill="#5f0"/>
<path d="M556 2404l13-4 14-4-9-6-8-7-13 4-14 4 9 7zM583 2396l13-4 13-4-8-6-8-6-13 4-14 3 8 7zM626 2401l14-4 13-4-9-6-8-6-13 3-14 4 9 6zM653 2393l13-4 13-4-8-6-8-6-14 4-13 4 8 6zM696 2397l13-4 14-3-9-6-8-6-14 3-13 4 9 6zM740 2402l13-4 13-4-9-6-8-6-13 4-13 4 8 6zM723 2390l13-4 13-4-9-6-8-6-13 4-13 4 8 6zM766 2394l13-4 13-3-9-6-8-6-13 4-13 3 8 6zM809 2398l13-3 13-4-8-6-9-5-13 3-13 4 9 5zM835 2391l13-4 13-3-9-6-8-5-13 3-13 4 9 5zM879 2395l13-3 12-4-8-5-9-6-13 3-13 4 9 6zM904 2388l13-3 13-4-9-5-9-6-12 4-13 3 9 6zM948 2392l13-3 12-4-9-5-8-5-13 3-13 3 9 6zM991 2396l13-3 13-4-9-5-9-5-13 3-13 3 9 6zM973 2385l13-3 13-3-9-5-9-5-13 3-12 3 8 5zM1017 2389l12-3 13-3-9-5-9-5-13 3-12 3 9 5zM1060 2393l13-3 12-3-9-5-9-5-13 3-12 3 9 5zM1042 2383l12-3 13-3-9-5-9-5-13 3-12 3 9 5zM1085 2387l13-3 12-3-9-5-9-5-13 3-12 3 9 5zM1128 2390l13-3 12-3-9-4-9-5-13 3-12 3 9 5zM1110 2381l12-3 13-3-9-5-9-5-13 3-12 3 9 5zM1153 2384l13-2 12-3-9-5-10-4-12 2-12 3 9 5zM1197 2388l12-3 12-3-9-4-10-4-12 2-12 3 9 4zM1178 2379l12-3 12-2-9-5-9-5-12 3-13 3 10 4zM1221 2382l12-2 13-3-10-4-9-5-12 3-13 3 10 4zM1202 2374l13-3 12-3-9-4-10-5-12 3-12 2 9 5zM1264 2386l13-3 12-2-10-4-9-5-12 3-12 2 9 5zM1246 2377l12-2 12-3-10-4-9-4-12 2-12 2 9 5zM1289 2381l12-3 12-2-10-4-9-4-12 2-12 2 9 5zM1270 2372l12-2 12-2-10-5-9-4-12 2-12 3 9 4zM1313 2376l12-2 12-2-10-5-9-4-12 2-12 3 9 4zM1294 2368l12-3 12-2-10-4-9-4-12 2-12 2 9 4z" fill="#6f0"/>
<path d="M609 2388l14-4 13-3-8-7-9-6-13 4-13 4 8 6zM636 2381l13-4 14-4-9-6-8-6-13 3-14 4 9 6zM679 2385l13-4 14-3-9-6-8-6-13 3-13 4 8 6zM706 2378l13-4 13-4-9-5-8-6-13 3-13 4 8 6zM749 2382l13-3 13-4-9-6-8-6-13 4-13 3 8 6zM792 2387l13-4 13-3-9-6-8-6-13 4-13 3 8 6zM775 2375l13-3 13-4-9-6-8-6-13 4-13 3 8 6zM818 2380l13-4 13-3-9-6-8-6-13 4-13 3 8 6zM861 2384l13-4 13-3-9-5-9-6-12 3-13 4 8 5zM844 2373l13-4 12-3-8-6-9-5-13 3-12 3 8 6zM887 2377l13-3 12-4-8-5-9-6-13 4-13 3 9 6zM930 2381l13-3 13-3-9-6-9-5-13 3-13 3 9 6zM912 2370l13-3 13-3-9-5-9-6-12 3-13 3 9 6zM956 2375l12-3 13-3-9-6-9-5-13 3-12 3 9 5zM999 2379l12-3 13-3-9-5-9-6-13 3-12 4 9 5zM981 2369l12-4 13-3-9-5-9-5-12 3-13 3 9 5zM1024 2373l12-3 13-3-9-5-9-5-13 2-12 3 9 6zM1067 2377l12-3 13-3-9-5-9-5-13 3-12 3 9 5zM1049 2367l12-3 13-3-9-5-9-5-13 3-12 3 9 5zM1092 2371l12-3 13-3-10-4-9-5-12 2-12 3 9 5zM1135 2375l12-3 12-2-9-5-9-5-12 3-12 2 9 5zM1117 2365l12-2 12-3-9-5-9-5-12 3-13 3 9 5zM1159 2370l13-3 12-3-9-4-9-5-13 3-12 2 9 5zM1141 2360l12-2 13-3-10-5-9-4-12 2-12 2 9 5zM1184 2364l12-2 12-3-9-4-9-5-12 3-12 2 9 5zM1227 2368l12-2 12-2-9-5-10-4-12 2-12 2 10 5zM1208 2359l12-2 12-2-9-5-9-4-12 2-12 2 9 5zM1251 2364l12-3 12-2-9-4-10-5-12 3-12 2 10 4zM1232 2355l12-2 12-3-9-4-9-4-12 2-12 2 9 4zM1275 2359l12-2 12-2-9-4-10-5-12 2-12 2 10 5z" fill="#7f0"/>
<path d="M663 2373l13-4 13-3-9-6-8-7-13 4-13 4 8 6zM689 2366l13-4 13-3-8-7-9-6-13 4-13 3 8 7zM732 2370l13-3 13-4-9-6-8-5-13 3-13 4 8 6zM758 2363l13-3 13-4-9-5-8-6-13 3-13 4 8 5zM801 2368l13-3 13-4-9-5-9-6-12 3-13 3 8 6zM827 2361l12-3 13-3-8-6-9-6-13 4-13 3 9 6zM869 2366l13-3 13-4-9-5-8-6-13 3-13 4 9 5zM895 2359l13-3 12-3-8-5-9-6-13 3-12 3 8 6zM938 2364l12-3 13-3-9-5-8-6-13 3-13 3 9 6zM963 2358l13-3 12-3-9-5-8-6-13 3-12 3 8 6zM1006 2362l12-3 13-2-9-6-9-5-12 3-13 3 9 5zM1031 2357l12-3 13-3-9-5-9-5-12 2-13 3 9 5zM1074 2361l12-3 12-2-9-5-9-5-12 2-12 3 9 5zM1056 2351l12-3 12-2-9-5-8-5-13 2-12 3 9 5zM1098 2356l13-3 12-3-9-4-9-5-12 2-13 3 9 5zM1123 2350l12-2 12-2-9-5-9-5-12 2-12 3 9 5zM1166 2355l12-2 12-3-9-4-9-5-13 2-12 3 9 4zM1147 2346l12-3 13-2-10-5-9-5-12 3-12 2 9 5zM1190 2350l12-2 12-2-9-5-9-5-12 3-12 2 9 5zM1214 2346l12-2 12-2-9-5-9-5-12 2-12 2 9 5zM1256 2350l12-2 12-2-9-4-9-4-12 2-12 2 9 4zM1238 2342l12-2 12-2-10-5-9-4-12 1-11 2 9 5z" fill="#8f0"/>
<path d="M715 2359l13-4 13-3-9-6-8-6-13 3-13 3 9 6zM741 2352l13-4 13-3-9-6-8-6-13 3-13 4 8 6zM784 2356l13-3 12-3-8-6-9-6-12 3-13 4 8 6zM809 2350l13-3 13-4-9-5-8-6-13 3-13 3 9 6zM852 2355l13-4 13-3-9-5-9-6-12 3-13 3 9 6zM878 2348l12-3 13-3-9-5-8-6-13 3-13 3 9 6zM920 2353l13-3 13-3-9-5-9-6-12 3-13 3 9 6zM946 2347l12-3 13-3-9-5-9-6-12 3-13 3 9 6zM988 2352l13-3 12-3-9-5-9-5-12 2-12 3 8 6zM971 2341l12-3 12-2-8-6-9-5-12 3-13 2 9 6zM1013 2346l13-3 12-2-9-5-9-6-12 3-13 3 9 5zM1038 2341l12-3 13-2-9-6-9-5-13 3-12 2 9 6zM1080 2346l13-3 12-2-9-5-9-5-12 2-12 3 8 5zM1063 2336l12-3 12-2-9-5-9-6-12 3-12 2 9 5zM1105 2341l12-3 12-2-9-5-9-5-12 2-12 3 9 5zM1129 2336l12-2 12-3-9-5-9-4-12 2-12 2 9 5zM1172 2341l12-2 12-3-9-4-10-5-12 2-12 2 9 5zM1153 2331l12-2 12-2-9-5-9-5-12 2-12 3 9 4zM1196 2336l12-2 12-2-10-4-9-5-12 2-12 2 10 5zM1177 2327l12-2 12-2-9-5-9-4-12 1-12 2 9 5zM1220 2332l11-2 12-1-9-5-9-5-12 2-12 2 9 5z" fill="#9f0"/>
<path d="M767 2345l13-4 12-3-8-6-9-6-12 4-13 3 8 6zM792 2338l13-3 13-3-9-6-8-6-13 3-13 3 9 6zM835 2343l13-3 12-3-8-6-9-5-12 3-13 3 8 6zM860 2337l13-3 13-3-9-6-8-5-13 3-13 3 9 5zM903 2342l13-3 12-3-9-5-8-6-13 3-12 3 8 6zM886 2331l12-3 13-3-9-6-8-5-13 3-12 3 8 5zM928 2336l13-3 12-3-9-5-8-6-13 3-12 3 8 6zM953 2330l13-2 12-3-9-5-8-6-13 3-12 2 8 6zM995 2336l13-3 12-3-9-5-8-5-13 2-12 3 9 5zM1020 2330l12-2 13-3-9-5-9-5-12 2-12 3 8 5zM1045 2325l12-2 12-3-9-5-8-5-13 2-12 3 9 5zM1087 2331l12-3 12-2-9-5-9-5-12 2-12 2 9 6zM1069 2320l12-2 12-2-8-5-9-5-12 2-12 2 8 5zM1111 2326l12-2 12-2-9-5-8-5-12 2-13 2 9 5zM1135 2322l12-3 12-2-9-4-8-5-12 2-12 2 8 5zM1159 2317l12-2 12-1-9-5-9-5-12 2-11 2 8 5zM1201 2323l12-2 12-2-9-4-9-5-12 2-12 2 9 4zM1183 2314l12-2 12-2-9-5-9-4-12 1-12 2 9 5z" fill="#af0"/>
<path d="M818 2332l13-3 12-3-8-6-9-6-12 3-13 3 8 6zM843 2326l13-3 13-3-9-6-9-6-12 3-13 3 9 6zM869 2320l12-3 13-3-9-6-8-6-13 3-13 3 9 6zM911 2325l12-3 13-3-9-5-9-6-12 3-12 3 8 5zM936 2319l12-2 13-3-9-5-9-6-12 3-13 2 9 6zM978 2325l12-3 13-2-9-6-9-5-12 3-12 2 8 6zM961 2314l12-2 12-3-8-5-9-6-12 3-13 2 9 6zM1003 2320l12-3 12-2-9-6-8-5-13 3-12 2 9 5zM1027 2315l12-3 13-2-9-5-9-5-12 2-12 2 8 5zM1052 2310l12-2 12-2-9-6-9-5-12 2-12 3 9 5zM1093 2316l13-2 12-2-9-5-9-6-12 3-12 2 9 5zM1076 2306l12-2 12-3-9-5-9-5-12 2-12 2 9 5zM1118 2312l12-2 12-2-9-5-9-5-12 2-12 1 9 6zM1142 2308l11-2 12-2-9-5-8-5-12 2-12 2 9 5zM1165 2304l12-2 12-1-9-5-9-5-12 1-11 2 8 5z" fill="#bf0"/>
<path d="M894 2314l12-3 12-3-8-5-9-6-12 3-12 2 8 6zM918 2308l13-2 12-3-8-6-9-5-12 2-13 3 9 6zM943 2303l13-2 12-3-9-5-8-6-13 2-12 3 9 5zM985 2309l12-2 13-3-9-5-9-6-12 3-12 2 9 6zM1010 2304l12-2 12-2-9-6-8-5-12 2-13 2 9 6zM1034 2300l12-3 12-2-8-5-9-5-12 2-12 2 8 5zM1058 2295l12-2 12-2-8-5-9-5-12 2-12 2 9 5zM1100 2301l12-1 12-2-9-5-9-6-12 2-12 2 9 5zM1082 2291l12-2 12-2-9-5-8-5-12 2-12 2 9 5zM1124 2298l12-2 12-2-9-5-9-5-12 2-12 1 9 6zM1148 2294l11-2 12-1-9-5-8-5-12 1-12 2 9 5z" fill="#cf0"/>
<path d="M968 2298l12-2 12-3-8-5-9-6-12 3-12 2 8 6zM992 2293l13-2 12-2-9-6-9-5-12 2-12 2 9 6zM1017 2289l12-2 12-2-9-6-8-5-12 2-13 2 9 5zM1041 2285l12-2 12-2-9-6-8-5-12 2-12 2 8 5zM1065 2281l12-2 12-2-9-5-9-6-12 2-11 2 8 5zM1106 2287l12-1 12-2-9-5-9-5-11 1-12 2 8 5zM1089 2277l12-2 11-1-8-6-9-5-12 2-12 1 9 6zM1130 2284l12-2 12-1-9-5-9-5-12 1-12 2 9 5zM1112 2274l12-2 12-1-9-6-8-5-12 2-12 1 9 5z" fill="#df0"/>
<path d="M889 2826l-10-6-10-6-10-6-11-6-10-6-10-7-10-6-10-6-9-6-10-6-10-6-10-6-9-6-10-6-10-6-9-7-10-6-9-6-10-6-9-6-9-6-10-6-9-7-9-6-10-6-9-6-9-6-9-6-9-7-9-6-9-6-9-6-9-7-9-6-8-6-9-6-9-7-9-6-8-6-9-7-8-6-9-6-9-7-8-6-9-7-8-6-8-6-9-7-8-6-8-7-9-6-8-7-8-6-8-7-9-6-8-7-8-6-8-7-8-7-8-6M904 2819l-10-6-10-6-10-6-11-6-10-6-10-6-10-6-10-6-10-6-9-6-10-6-10-6-10-6-9-6-10-6-10-6-9-6-10-7-9-6-9-6-10-6-9-6-9-6-10-6-9-6-9-6-9-7-9-6-9-6-9-6-9-6-9-7-9-6-9-6-9-6-9-6-8-7-9-6-9-6-9-7-8-6-9-6-8-7-9-6-8-6-9-7-8-6-9-6-8-7-8-6-9-7-8-6-8-7-8-6-8-7-9-6-8-7-8-6-8-7-8-7M919 2813l-10-6-10-6-11-6-10-6-10-6-10-6-10-6-10-6-10-6-10-6-9-6-10-6-10-6-10-6-9-6-10-6-9-6-10-6-9-6-10-6-9-6-10-6-9-6-9-7-9-6-10-6-9-6-9-6-9-6-9-6-9-6-9-7-9-6-9-6-9-6-8-6-9-7-9-6-9-6-8-6-9-7-9-6-8-6-9-7-8-6-9-6-8-7-8-6-9-6-8-7-8-6-9-7-8-6-8-7-8-6-9-7-8-6-8-7-8-6-8-7M934 2806l-10-6-10-6-11-6-10-6-10-6-10-6-10-5-10-6-10-6-10-6-10-6-10-6-9-6-10-6-10-6-9-6-10-6-9-6-10-6-9-6-10-6-9-6-9-6-10-6-9-6-9-6-9-6-9-6-10-6-9-6-9-7-9-6-9-6-8-6-9-6-9-6-9-7-9-6-8-6-9-6-9-6-8-7-9-6-8-6-9-7-8-6-9-6-8-7-9-6-8-6-8-7-9-6-8-7-8-6-8-7-9-6-8-7-8-6-8-7-8-6M949 2799l-10-6-11-5-10-6-10-6-10-6-10-6-10-6-10-6-10-5-10-6-10-6-10-6-10-6-9-6-10-6-10-6-9-6-10-6-9-5-10-6-9-6-10-6-9-6-9-6-10-6-9-6-9-6-9-6-9-7-9-6-9-6-9-6-9-6-9-6-9-6-9-6-9-6-8-7-9-6-9-6-9-6-8-6-9-7-8-6-9-6-8-6-9-7-8-6-9-6-8-7-8-6-9-7-8-6-8-6-9-7-8-6-8-7-8-6-8-7-8-6M964 2793l-11-6-10-6-10-6-10-5-10-6-11-6-10-6-10-6-10-6-10-5-9-6-10-6-10-6-10-6-10-6-9-5-10-6-9-6-10-6-9-6-10-6-9-6-10-6-9-6-9-6-9-6-10-6-9-6-9-6-9-6-9-6-9-6-9-6-9-6-9-6-9-6-8-6-9-6-9-7-9-6-8-6-9-6-9-6-8-7-9-6-8-6-9-6-8-7-9-6-8-6-8-7-9-6-8-6-8-7-9-6-8-7-8-6-8-7-8-6-8-7M979 2786l-11-6-10-5-10-6-11-6-10-6-10-5-10-6-10-6-10-6-10-5-10-6-10-6-10-6-9-6-10-5-10-6-9-6-10-6-9-6-10-6-9-5-10-6-9-6-10-6-9-6-9-6-9-6-9-6-10-6-9-6-9-6-9-6-9-6-9-6-9-6-9-6-8-6-9-6-9-6-9-6-8-7-9-6-9-6-8-6-9-6-8-7-9-6-8-6-9-6-8-7-9-6-8-6-8-7-8-6-9-7-8-6-8-6-8-7-8-6-9-7M993 2779l-10-5-10-6-11-6-10-5-10-6-10-6-10-5-10-6-10-6-10-5-10-6-10-6-10-6-10-5-10-6-9-6-10-6-9-5-10-6-10-6-9-6-9-6-10-6-9-5-10-6-9-6-9-6-9-6-9-6-9-6-10-6-9-6-9-6-9-6-8-6-9-6-9-6-9-6-9-6-9-6-8-6-9-6-9-7-8-6-9-6-8-6-9-6-8-7-9-6-8-6-9-6-8-7-8-6-9-6-8-7-8-6-8-7-9-6-8-7-8-6M1008 2773l-10-6-11-5-10-6-10-6-11-5-10-6-10-5-10-6-10-6-10-5-10-6-10-6-10-5-9-6-10-6-10-6-9-5-10-6-10-6-9-6-10-5-9-6-10-6-9-6-9-6-10-5-9-6-9-6-9-6-9-6-9-6-9-6-9-6-9-6-9-6-9-6-9-6-9-6-9-6-9-6-8-6-9-6-9-6-8-6-9-6-8-7-9-6-8-6-9-6-8-7-9-6-8-6-9-6-8-7-8-6-8-7-9-6-8-6-8-7-8-6M1023 2766l-11-5-10-6-10-5-11-6-10-5-10-6-10-6-10-5-10-6-10-5-10-6-10-6-10-5-10-6-10-6-9-5-10-6-10-6-9-5-10-6-9-6-10-5-9-6-10-6-9-6-9-6-10-5-9-6-9-6-9-6-9-6-9-6-9-6-9-6-9-6-9-6-9-5-9-6-9-7-9-6-8-6-9-6-9-6-8-6-9-6-9-6-8-6-9-6-8-7-9-6-8-6-8-6-9-7-8-6-8-6-9-7-8-6-8-7-8-6-8-6M1037 2760l-10-6-11-5-10-6-10-5-10-6-11-5-10-6-10-5-10-6-10-5-10-6-10-5-10-6-10-6-9-5-10-6-10-5-10-6-9-6-10-5-9-6-10-6-9-6-10-5-9-6-9-6-10-6-9-5-9-6-9-6-9-6-9-6-9-6-9-5-9-6-9-6-9-6-9-6-9-6-9-6-8-6-9-6-9-6-9-6-8-6-9-7-8-6-9-6-8-6-9-6-8-7-9-6-8-6-8-6-9-7-8-6-8-6-8-7-9-6-8-6M1052 2753l-11-5-10-6-10-5-11-5-10-6-10-5-10-6-11-5-10-6-10-5-10-6-10-5-9-6-10-5-10-6-10-5-10-6-9-6-10-5-10-6-9-6-10-5-9-6-9-6-10-5-9-6-9-6-10-5-9-6-9-6-9-6-9-6-9-5-9-6-9-6-9-6-9-6-9-6-9-6-9-6-9-6-8-6-9-6-9-6-8-6-9-6-9-6-8-6-9-6-8-7-9-6-8-6-8-6-9-7-8-6-8-6-9-6-8-7-8-6-8-7M1066 2747l-10-6-11-5-10-5-10-6-11-5-10-5-10-6-10-5-10-6-10-5-10-6-10-5-10-6-10-5-10-6-10-5-9-6-10-5-10-6-9-5-10-6-9-5-10-6-9-6-10-5-9-6-9-6-10-5-9-6-9-6-9-6-9-5-9-6-9-6-9-6-9-6-9-6-9-6-9-5-9-6-9-6-9-6-8-6-9-6-9-6-8-6-9-7-8-6-9-6-8-6-9-6-8-6-9-6-8-7-8-6-9-6-8-7-8-6-8-6-9-7M1081 2740l-11-5-10-5-11-6-10-5-10-5-10-6-11-5-10-5-10-6-10-5-10-5-10-6-10-5-10-6-10-5-10-6-9-5-10-6-10-5-9-6-10-5-9-6-10-5-9-6-10-6-9-5-9-6-10-5-9-6-9-6-9-6-9-5-10-6-9-6-9-6-9-5-9-6-8-6-9-6-9-6-9-6-9-6-8-6-9-6-9-6-8-6-9-6-9-6-8-6-9-6-8-6-9-6-8-7-8-6-9-6-8-6-8-7-9-6-8-6-8-7M1095 2734l-10-5-11-6-10-5-11-5-10-5-10-6-10-5-11-5-10-6-10-5-10-5-10-6-10-5-10-5-10-6-9-5-10-6-10-5-10-6-9-5-10-5-9-6-10-6-9-5-10-6-9-5-9-6-10-5-9-6-9-6-9-5-10-6-9-6-9-6-9-5-9-6-9-6-9-6-9-6-8-6-9-5-9-6-9-6-8-6-9-6-9-6-8-6-9-6-9-6-8-6-9-6-8-7-8-6-9-6-8-6-9-6-8-7-8-6-8-6-9-7M1110 2727l-11-5-10-5-11-5-10-5-11-5-10-6-10-5-10-5-11-5-10-6-10-5-10-5-10-6-10-5-9-5-10-6-10-5-10-5-10-6-9-5-10-6-9-5-10-6-9-5-10-6-9-5-10-6-9-5-9-6-9-6-10-5-9-6-9-6-9-5-9-6-9-6-9-6-9-5-9-6-9-6-9-6-8-6-9-6-9-6-9-6-8-5-9-6-8-6-9-7-9-6-8-6-8-6-9-6-8-6-9-6-8-6-8-7-9-6-8-6-8-7M1124 2721l-11-5-10-5-11-5-10-5-10-6-11-5-10-5-10-5-10-5-10-5-11-6-10-5-10-5-9-6-10-5-10-5-10-5-10-6-10-5-9-6-10-5-9-5-10-6-9-5-10-6-9-5-10-6-9-5-9-6-10-6-9-5-9-6-9-5-9-6-9-6-9-5-9-6-9-6-9-6-9-5-9-6-9-6-8-6-9-6-9-6-9-6-8-6-9-6-8-6-9-6-9-6-8-6-8-6-9-6-8-6-9-6-8-7-8-6-9-6-8-7M1138 2715l-10-5-11-5-10-5-11-6-10-5-10-5-11-5-10-5-10-5-10-5-10-5-11-6-10-5-9-5-10-5-10-6-10-5-10-5-10-5-9-6-10-5-9-6-10-5-10-5-9-6-9-5-10-6-9-5-10-6-9-5-9-6-9-5-9-6-9-6-10-5-9-6-9-6-9-5-9-6-8-6-9-6-9-6-9-5-9-6-8-6-9-6-9-6-8-6-9-6-8-6-9-6-9-6-8-6-8-6-9-6-8-6-9-7-8-6-8-6-8-6M1153 2708l-11-5-11-5-10-5-11-5-10-5-10-5-11-5-10-5-10-5-10-5-10-5-10-5-10-5-10-6-10-5-10-5-10-5-10-5-10-6-9-5-10-5-10-6-9-5-10-5-9-6-10-5-9-6-9-5-10-6-9-5-9-6-9-5-10-6-9-5-9-6-9-6-9-5-9-6-9-6-9-5-9-6-9-6-8-6-9-5-9-6-9-6-8-6-9-6-8-6-9-6-9-6-8-6-9-6-8-6-8-6-9-6-8-7-9-6-8-6-8-6M1167 2702l-11-5-10-5-11-5-10-5-11-5-10-5-11-5-10-5-10-5-10-5-10-5-10-5-11-5-10-5-9-5-10-5-10-6-10-5-10-5-9-5-10-6-10-5-9-5-10-5-9-6-10-5-9-6-10-5-9-5-9-6-10-5-9-6-9-5-9-6-9-5-9-6-9-6-9-5-9-6-9-6-9-5-9-6-9-6-9-6-8-6-9-5-9-6-8-6-9-6-9-6-8-6-9-6-8-6-9-6-8-6-8-6-9-6-8-7-9-6-8-6M1181 2696l-11-5-10-5-11-5-10-5-11-5-10-5-11-4-10-5-10-5-10-5-10-5-11-5-10-5-10-6-10-5-9-5-10-5-10-5-10-5-10-5-9-6-10-5-10-5-9-5-10-6-9-5-10-5-9-6-9-5-10-6-9-5-9-5-9-6-10-5-9-6-9-6-9-5-9-6-9-5-9-6-9-6-9-5-8-6-9-6-9-6-9-6-8-5-9-6-9-6-8-6-9-6-8-6-9-6-8-6-9-6-8-6-9-6-8-6-8-7-9-6M1195 2690l-11-5-10-5-11-5-10-5-11-5-10-4-11-5-10-5-10-5-10-5-11-5-10-5-10-5-10-5-10-5-10-5-10-5-9-5-10-5-10-6-10-5-9-5-10-5-9-5-10-6-10-5-9-5-9-6-10-5-9-5-9-6-10-5-9-6-9-5-9-5-9-6-9-6-9-5-9-6-9-5-9-6-9-6-9-5-9-6-9-6-8-6-9-5-9-6-8-6-9-6-8-6-9-6-9-6-8-6-8-6-9-6-8-6-9-6-8-6-8-7M1209 2683l-11-4-10-5-11-5-10-5-11-4-10-5-11-5-10-5-10-5-10-5-11-5-10-4-10-5-10-5-10-5-10-5-10-5-10-5-9-6-10-5-10-5-10-5-9-5-10-5-9-5-10-6-9-5-10-5-9-6-10-5-9-5-9-6-9-5-9-5-10-6-9-5-9-6-9-5-9-6-9-6-9-5-9-6-9-6-8-5-9-6-9-6-9-5-8-6-9-6-9-6-8-6-9-6-8-6-9-6-8-6-9-6-8-6-8-6-9-6-8-6M1223 2677l-11-4-10-5-11-5-10-5-11-4-10-5-11-5-10-5-10-4-11-5-10-5-10-5-10-5-10-5-10-5-10-5-10-5-10-5-10-5-10-5-9-5-10-5-10-5-9-5-10-5-9-5-10-6-9-5-10-5-9-5-9-6-10-5-9-5-9-6-9-5-9-6-9-5-9-6-9-5-9-6-9-5-9-6-9-6-9-5-9-6-9-6-8-5-9-6-9-6-8-6-9-6-9-6-8-6-9-6-8-6-9-6-8-6-8-6-9-6-8-6M1237 2671l-11-5-10-4-11-5-10-4-11-5-10-5-11-4-10-5-11-5-10-5-10-4-10-5-10-5-10-5-10-5-10-5-10-5-10-5-10-5-10-5-10-5-9-5-10-5-10-5-9-5-10-5-9-5-10-6-9-5-9-5-10-5-9-6-9-5-10-5-9-6-9-5-9-6-9-5-9-5-9-6-9-6-9-5-9-6-9-5-9-6-8-6-9-5-9-6-8-6-9-6-9-6-8-5-9-6-8-6-9-6-8-6-9-6-8-6-9-6-8-7M1251 2665l-11-5-10-4-11-5-11-4-10-5-11-4-10-5-10-5-11-4-10-5-10-5-10-5-11-4-10-5-10-5-10-5-10-5-10-5-9-5-10-5-10-5-10-5-9-5-10-5-10-5-9-5-10-5-9-5-10-5-9-6-9-5-10-5-9-5-9-6-9-5-10-5-9-6-9-5-9-6-9-5-9-6-9-5-9-6-8-5-9-6-9-6-9-5-9-6-8-6-9-6-9-5-8-6-9-6-8-6-9-6-8-6-9-6-8-6-9-6-8-6M1265 2659l-11-5-11-4-10-5-11-4-10-5-11-4-10-5-11-4-10-5-10-5-11-4-10-5-10-5-10-4-10-5-10-5-10-5-10-5-10-5-10-5-10-4-9-5-10-5-10-5-9-5-10-6-9-5-10-5-9-5-10-5-9-5-9-5-10-6-9-5-9-5-9-6-9-5-9-5-10-6-9-5-9-6-8-5-9-6-9-5-9-6-9-6-9-5-8-6-9-6-9-5-8-6-9-6-9-6-8-6-9-6-8-6-9-5-8-6-8-7-9-6M1279 2653l-11-4-11-5-10-4-11-5-11-4-10-5-11-4-10-5-10-4-11-5-10-5-10-4-10-5-10-5-11-4-10-5-10-5-9-5-10-5-10-4-10-5-10-5-9-5-10-5-10-5-9-5-10-5-9-5-10-5-9-5-10-6-9-5-9-5-10-5-9-6-9-5-9-5-9-5-9-6-9-5-9-6-9-5-9-6-9-5-9-6-9-5-9-6-8-6-9-5-9-6-8-6-9-6-9-5-8-6-9-6-8-6-9-6-8-6-8-6-9-6M1293 2647l-11-4-11-5-11-4-10-4-11-5-10-4-11-5-10-4-11-5-10-4-10-5-11-5-10-4-10-5-10-5-10-4-10-5-10-5-10-4-10-5-10-5-9-5-10-5-10-5-9-5-10-5-10-5-9-5-10-5-9-5-9-5-10-5-9-5-9-5-10-6-9-5-9-5-9-6-9-5-9-5-9-6-9-5-9-6-9-5-9-6-9-5-8-6-9-5-9-6-9-6-8-6-9-5-9-6-8-6-9-6-8-6-9-6-8-5-9-6-8-6M1306 2641l-10-4-11-5-11-4-11-4-10-5-11-4-10-4-11-5-10-4-10-5-11-4-10-5-10-4-10-5-10-5-11-4-10-5-10-5-9-4-10-5-10-5-10-5-10-5-9-4-10-5-10-5-9-5-10-5-9-5-10-5-9-5-9-5-10-5-9-6-9-5-10-5-9-5-9-6-9-5-9-5-9-6-9-5-9-5-9-6-9-5-9-6-8-6-9-5-9-6-9-5-8-6-9-6-9-6-8-5-9-6-8-6-9-6-8-6-9-6-8-6M1320 2635l-11-4-11-4-10-5-11-4-11-4-10-4-11-5-10-4-11-5-10-4-10-4-10-5-11-4-10-5-10-5-10-4-10-5-10-4-10-5-10-5-10-5-10-4-9-5-10-5-10-5-9-5-10-5-9-5-10-4-9-5-10-6-9-5-10-5-9-5-9-5-9-5-10-5-9-6-9-5-9-5-9-6-9-5-9-5-9-6-9-5-9-6-8-5-9-6-9-5-9-6-8-6-9-5-9-6-8-6-9-6-8-6-9-5-8-6-9-6-8-6M1334 2629l-11-4-11-4-11-4-10-4-11-5-11-4-10-4-11-4-10-5-10-4-11-5-10-4-10-5-10-4-11-5-10-4-10-5-10-4-10-5-10-5-9-4-10-5-10-5-10-4-9-5-10-5-10-5-9-5-10-5-9-5-10-5-9-5-9-5-10-5-9-5-9-5-9-5-10-6-9-5-9-5-9-5-9-6-9-5-9-5-9-6-9-5-8-6-9-5-9-6-9-6-8-5-9-6-9-6-8-5-9-6-8-6-9-6-8-6-9-6-8-5M1347 2624l-10-5-11-4-11-4-11-4-10-4-11-4-11-5-10-4-11-4-10-4-10-5-11-4-10-5-10-4-10-4-10-5-10-4-10-5-10-5-10-4-10-5-10-4-10-5-10-5-9-5-10-4-9-5-10-5-10-5-9-5-10-5-9-5-9-5-10-5-9-5-9-5-9-5-10-5-9-6-9-5-9-5-9-5-9-6-9-5-9-6-9-5-8-5-9-6-9-5-9-6-9-6-8-5-9-6-8-6-9-5-9-6-8-6-9-6-8-6-9-6M1361 2618l-11-4-11-4-11-4-10-4-11-4-11-5-10-4-11-4-10-4-11-5-10-4-10-4-10-4-11-5-10-4-10-5-10-4-10-5-10-4-10-5-10-4-10-5-10-5-9-4-10-5-10-5-9-5-10-4-9-5-10-5-9-5-10-5-9-5-10-5-9-5-9-5-9-5-10-5-9-5-9-6-9-5-9-5-9-5-9-6-9-5-9-6-9-5-8-5-9-6-9-6-9-5-8-6-9-5-9-6-8-6-9-5-8-6-9-6-8-6-9-6M1375 2612l-11-4-11-4-11-4-11-4-10-4-11-4-11-4-10-4-11-4-10-5-11-4-10-4-10-4-10-5-11-4-10-4-10-5-10-4-10-5-10-4-10-5-10-4-9-5-10-5-10-4-10-5-9-5-10-5-9-4-10-5-9-5-10-5-9-5-10-5-9-5-9-5-9-5-10-5-9-5-9-5-9-6-9-5-9-5-9-5-9-6-9-5-9-5-9-6-8-5-9-6-9-5-9-6-8-6-9-5-8-6-9-6-9-5-8-6-9-6-8-6M1388 2607l-11-4-11-4-11-4-10-4-11-4-11-4-10-4-11-4-10-4-11-5-10-4-11-4-10-4-10-5-10-4-10-4-11-5-10-4-10-4-10-5-10-4-9-5-10-4-10-5-10-5-9-4-10-5-10-5-9-4-10-5-9-5-10-5-9-5-10-5-9-5-9-5-9-5-10-5-9-5-9-5-9-5-9-5-9-6-9-5-9-5-9-6-9-5-9-5-9-6-8-5-9-6-9-5-8-6-9-6-9-5-8-6-9-6-8-5-9-6-8-6M1402 2601l-11-4-11-4-11-4-11-4-11-3-10-4-11-4-11-4-10-5-11-4-10-4-10-4-11-4-10-4-10-5-10-4-10-4-10-5-10-4-10-4-10-5-10-4-10-5-10-4-10-5-9-4-10-5-10-5-9-5-10-4-9-5-10-5-9-5-10-5-9-5-9-4-9-5-10-5-9-6-9-5-9-5-9-5-9-5-9-5-9-6-9-5-9-5-9-6-9-5-9-6-8-5-9-6-9-5-8-6-9-5-9-6-8-6-9-5-8-6-9-6M1415 2595l-11-3-11-4-11-4-11-4-10-4-11-4-11-4-10-3-11-5-10-4-11-4-10-4-10-4-11-4-10-4-10-4-10-5-10-4-10-4-10-5-10-4-10-5-10-4-10-5-10-4-9-5-10-4-10-5-9-5-10-4-9-5-10-5-9-5-10-4-9-5-9-5-10-5-9-5-9-5-9-5-9-5-9-5-9-6-9-5-9-5-9-5-9-6-9-5-9-5-9-6-9-5-8-6-9-5-9-6-8-5-9-6-9-6-8-5-9-6-8-6M1428 2590l-11-4-11-3-10-4-11-4-11-4-11-4-10-4-11-3-11-4-10-4-11-4-10-4-10-5-11-4-10-4-10-4-10-4-10-4-10-5-10-4-10-4-10-5-10-4-10-5-10-4-9-5-10-4-10-5-9-4-10-5-9-5-10-5-9-4-10-5-9-5-10-5-9-5-9-5-9-5-9-5-10-5-9-5-9-5-9-5-9-5-9-6-9-5-8-5-9-6-9-5-9-5-9-6-8-5-9-6-9-5-8-6-9-6-8-5-9-6-9-6M1442 2585l-11-4-11-4-11-3-11-4-11-4-11-4-10-4-11-3-10-4-11-4-10-4-11-4-10-4-10-4-11-4-10-4-10-5-10-4-10-4-10-4-10-5-10-4-10-4-10-5-10-4-9-5-10-4-10-5-9-4-10-5-10-5-9-4-10-5-9-5-9-5-10-4-9-5-9-5-9-5-10-5-9-5-9-5-9-5-9-5-9-6-9-5-9-5-9-5-9-6-9-5-8-5-9-6-9-5-8-6-9-5-9-6-8-6-9-5-8-6-9-6M1455 2579l-11-3-11-4-11-4-11-3-11-4-10-4-11-3-11-4-10-4-11-4-10-4-11-4-10-4-10-4-11-4-10-4-10-4-10-4-10-4-10-5-10-4-10-4-10-4-10-5-10-4-10-5-9-4-10-5-10-4-9-5-10-4-9-5-10-5-9-4-10-5-9-5-9-5-10-5-9-5-9-5-9-5-9-5-9-5-9-5-9-5-9-5-9-5-9-5-9-6-9-5-9-5-8-6-9-5-9-6-9-5-8-6-9-6-8-5-9-6-8-6M1468 2574l-11-4-11-3-11-4-11-3-10-4-11-4-11-3-11-4-10-4-11-4-10-4-11-3-10-4-10-4-11-4-10-4-10-4-10-4-10-5-10-4-10-4-10-4-10-4-10-5-10-4-10-5-9-4-10-4-10-5-9-4-10-5-10-5-9-4-9-5-10-5-9-4-10-5-9-5-9-5-9-5-9-5-10-5-9-5-9-5-9-5-9-5-9-5-9-6-9-5-8-5-9-5-9-6-9-5-8-6-9-5-9-6-8-5-9-6-9-6-8-5M1481 2569l-11-4-11-3-11-4-10-3-11-4-11-4-11-3-10-4-11-4-11-3-10-4-11-4-10-4-10-4-11-4-10-4-10-4-10-4-10-4-11-4-10-4-10-4-9-4-10-5-10-4-10-4-10-5-9-4-10-5-10-4-9-5-10-4-9-5-10-4-9-5-10-5-9-5-9-4-9-5-10-5-9-5-9-5-9-5-9-5-9-5-9-5-9-5-9-6-9-5-9-5-9-5-8-6-9-5-9-6-9-5-8-6-9-5-9-6-8-5-9-6M1495 2563l-11-3-12-3-10-4-11-3-11-4-11-3-11-4-10-4-11-3-11-4-10-4-11-3-10-4-10-4-11-4-10-4-10-4-10-4-11-4-10-4-10-4-10-4-10-4-10-5-9-4-10-4-10-5-10-4-9-4-10-5-10-4-9-5-10-4-9-5-10-5-9-4-9-5-10-5-9-5-9-4-9-5-9-5-10-5-9-5-9-5-9-5-9-5-9-6-8-5-9-5-9-5-9-6-9-5-8-5-9-6-9-5-8-6-9-5-9-6-8-6M1508 2558l-11-3-11-3-11-4-11-3-11-4-11-3-11-4-10-3-11-4-11-3-10-4-11-4-10-4-11-3-10-4-10-4-10-4-11-4-10-4-10-4-10-4-10-4-10-4-10-4-10-5-9-4-10-4-10-5-10-4-9-4-10-5-9-4-10-5-9-4-10-5-9-5-10-4-9-5-9-5-10-5-9-4-9-5-9-5-9-5-9-5-9-5-9-5-9-5-9-6-9-5-9-5-9-5-8-6-9-5-9-5-8-6-9-5-9-6-8-6-9-5M1521 2553l-11-3-11-3-11-4-11-3-11-3-11-4-11-3-11-4-10-3-11-4-10-4-11-3-10-4-11-4-10-3-10-4-11-4-10-4-10-4-10-4-10-4-10-4-10-4-10-4-10-4-10-5-10-4-9-4-10-4-10-5-9-4-10-5-9-4-10-5-9-4-10-5-9-4-9-5-10-5-9-5-9-4-9-5-10-5-9-5-9-5-9-5-9-5-9-5-9-5-8-6-9-5-9-5-9-5-9-6-8-5-9-5-9-6-8-5-9-6-9-6M1534 2548l-11-3-11-3-11-3-11-4-11-3-11-3-11-4-11-3-10-4-11-3-10-4-11-4-10-3-11-4-10-4-11-3-10-4-10-4-10-4-10-4-10-4-10-4-10-4-10-4-10-4-10-4-10-4-10-5-9-4-10-4-10-5-9-4-10-4-9-5-10-4-9-5-10-5-9-4-9-5-10-5-9-4-9-5-9-5-9-5-9-5-9-5-9-5-9-5-9-5-9-5-9-5-9-6-9-5-8-5-9-6-9-5-8-5-9-6-9-5-8-6M1547 2543l-11-3-11-3-11-3-11-3-11-4-11-3-11-3-11-4-10-3-11-4-11-3-10-4-11-3-10-4-11-4-10-3-10-4-10-4-11-4-10-4-10-4-10-3-10-4-10-5-10-4-10-4-9-4-10-4-10-4-10-5-9-4-10-4-9-5-10-4-9-5-10-4-9-5-9-4-10-5-9-5-9-4-10-5-9-5-9-5-9-5-9-5-9-5-9-5-9-5-9-5-9-5-9-5-8-5-9-6-9-5-9-5-8-6-9-5-8-6-9-5M1560 2538l-11-3-12-3-11-3-11-3-10-3-11-4-11-3-11-3-11-4-10-3-11-3-10-4-11-3-10-4-11-4-10-3-10-4-11-4-10-4-10-3-10-4-10-4-10-4-10-4-10-4-10-4-10-4-10-4-9-5-10-4-10-4-9-4-10-5-9-4-10-5-9-4-10-5-9-4-9-5-10-5-9-4-9-5-9-5-9-5-10-4-9-5-9-5-9-5-9-5-8-5-9-6-9-5-9-5-9-5-9-6-8-5-9-5-9-6-8-5-9-6M1573 2534l-12-3-11-3-11-4-11-3-11-3-11-3-10-3-11-4-11-3-11-3-10-4-11-3-10-4-11-3-10-4-11-3-10-4-10-4-10-3-10-4-11-4-10-4-10-4-10-4-10-4-9-4-10-4-10-4-10-4-10-4-9-4-10-5-9-4-10-4-9-5-10-4-9-5-10-4-9-5-9-4-10-5-9-5-9-4-9-5-9-5-9-5-9-5-9-5-9-5-9-5-9-5-9-5-9-5-9-6-8-5-9-5-9-6-8-5-9-5-9-6M1586 2529l-12-3-11-3-11-3-11-3-11-3-11-3-11-4-10-3-11-3-11-3-11-4-10-3-11-4-10-3-11-4-10-3-10-4-10-3-11-4-10-4-10-3-10-4-10-4-10-4-10-4-10-4-10-4-10-4-9-4-10-4-10-4-9-5-10-4-10-4-9-5-10-4-9-5-9-4-10-5-9-4-9-5-10-4-9-5-9-5-9-5-9-5-9-4-9-5-9-5-9-5-9-5-9-6-9-5-8-5-9-5-9-5-9-6-8-5-9-6-9-5M1598 2524l-11-3-11-3-11-3-11-3-11-3-11-3-11-3-11-3-11-3-10-3-11-4-10-3-11-3-10-4-11-3-10-4-11-3-10-4-10-4-10-3-11-4-10-4-10-4-10-3-10-4-10-4-9-4-10-4-10-4-10-4-9-5-10-4-10-4-9-4-10-5-9-4-10-4-9-5-9-4-10-5-9-4-9-5-9-5-10-4-9-5-9-5-9-5-9-5-9-5-9-5-9-5-9-5-8-5-9-5-9-5-9-6-9-5-8-5-9-6-8-5M1611 2519l-11-2-11-3-11-3-11-3-11-3-11-3-11-3-11-3-11-3-11-3-10-4-11-3-10-3-11-4-10-3-11-4-10-3-10-4-11-3-10-4-10-3-10-4-10-4-10-4-10-4-10-3-10-4-10-4-10-4-9-4-10-5-10-4-9-4-10-4-9-4-10-5-9-4-10-5-9-4-10-4-9-5-9-5-9-4-9-5-10-5-9-4-9-5-9-5-9-5-9-5-9-5-9-5-8-5-9-5-9-6-9-5-8-5-9-5-9-6-8-5M1624 2515l-11-3-12-3-11-2-11-3-11-3-11-3-11-3-11-3-10-3-11-3-11-4-10-3-11-3-10-3-11-4-10-3-11-4-10-3-10-4-10-3-11-4-10-3-10-4-10-4-10-4-10-4-10-3-10-4-9-4-10-4-10-4-9-5-10-4-10-4-9-4-10-4-9-5-10-4-9-5-9-4-10-5-9-4-9-5-9-4-9-5-10-5-9-5-9-4-9-5-9-5-9-5-8-5-9-5-9-5-9-6-9-5-8-5-9-5-9-6-8-5M1637 2510l-12-2-11-3-11-3-11-2-11-3-11-3-11-3-11-3-11-3-11-3-10-3-11-4-10-3-11-3-10-3-11-4-10-3-11-4-10-3-10-4-10-3-10-4-10-3-11-4-10-4-9-4-10-3-10-4-10-4-10-4-10-4-9-4-10-4-9-5-10-4-10-4-9-4-9-5-10-4-9-5-9-4-10-5-9-4-9-5-9-4-9-5-10-5-9-5-9-5-9-4-9-5-8-5-9-5-9-6-9-5-9-5-8-5-9-5-9-6-8-5M1649 2506l-11-3-11-2-12-3-11-3-11-2-11-3-11-3-10-3-11-3-11-3-11-3-10-3-11-3-11-4-10-3-10-3-11-4-10-3-11-3-10-4-10-3-10-4-10-4-10-3-10-4-10-4-10-3-10-4-10-4-10-4-9-4-10-4-10-4-9-4-10-4-9-5-10-4-9-4-10-5-9-4-9-4-10-5-9-4-9-5-9-5-9-4-9-5-10-5-9-5-9-5-8-4-9-5-9-5-9-5-9-6-9-5-8-5-9-5-9-5-9-6M1662 2502l-12-3-11-2-11-3-11-3-11-2-11-3-11-3-11-3-11-3-11-3-10-3-11-3-11-3-10-3-11-3-10-4-11-3-10-3-10-4-10-3-11-3-10-4-10-4-10-3-10-4-10-4-10-3-10-4-10-4-9-4-10-4-10-4-10-4-9-4-10-4-9-4-10-4-9-5-10-4-9-4-9-5-10-4-9-5-9-4-9-5-9-5-9-4-10-5-9-5-9-5-9-4-8-5-9-5-9-5-9-5-9-6-9-5-8-5-9-5-9-6M1674 2497l-11-2-11-3-11-2-12-3-11-2-11-3-11-3-11-3-10-3-11-2-11-3-11-3-10-4-11-3-10-3-11-3-10-3-11-3-10-4-10-3-10-4-11-3-10-4-10-3-10-4-10-3-10-4-10-4-9-4-10-4-10-3-10-4-9-4-10-4-10-4-9-5-10-4-9-4-10-4-9-5-9-4-10-4-9-5-9-4-9-5-9-5-10-4-9-5-9-5-9-5-9-4-9-5-8-5-9-5-9-5-9-5-9-6-8-5-9-5-9-5M1687 2493l-12-2-11-3-11-2-11-3-11-2-11-3-11-3-11-2-11-3-11-3-11-3-10-3-11-3-11-3-10-3-11-3-10-3-10-4-11-3-10-3-10-4-10-3-11-4-10-3-10-4-10-3-10-4-9-4-10-3-10-4-10-4-10-4-9-4-10-4-10-4-9-4-10-4-9-4-10-5-9-4-9-4-10-5-9-4-9-4-9-5-9-5-10-4-9-5-9-5-9-4-9-5-9-5-9-5-8-5-9-5-9-5-9-5-9-5-8-6-9-5M1699 2489l-11-2-11-3-12-2-11-3-11-2-11-3-11-2-11-3-11-3-11-3-10-2-11-3-11-3-10-3-11-3-10-3-11-4-10-3-10-3-11-3-10-4-10-3-10-3-10-4-11-3-10-4-9-4-10-3-10-4-10-4-10-3-10-4-9-4-10-4-10-4-9-4-10-4-9-5-10-4-9-4-9-4-10-5-9-4-9-4-9-5-10-5-9-4-9-5-9-4-9-5-9-5-9-5-9-5-9-5-8-5-9-5-9-5-9-5-8-5-9-5M1712 2485l-12-2-11-3-11-2-11-2-12-3-11-2-11-3-11-3-10-2-11-3-11-3-11-3-10-3-11-2-11-3-10-4-11-3-10-3-10-3-11-3-10-3-10-4-10-3-10-4-10-3-10-4-10-3-10-4-10-3-10-4-10-4-10-4-9-4-10-4-10-3-9-4-10-5-9-4-10-4-9-4-9-4-10-5-9-4-9-4-10-5-9-4-9-5-9-5-9-4-9-5-9-5-9-4-9-5-9-5-9-5-8-5-9-5-9-5-9-6-8-5M889 2826l15-7 15-6 15-7 15-7 15-6 15-7 14-7 15-6 15-7 14-6 15-7 14-6 15-7 14-6 15-7 14-6 14-6 15-7 14-6 14-6 14-6 14-7 14-6 14-6 14-6 14-6 14-6 14-6 13-6 14-6 14-6 13-5 14-6 14-6 13-5 14-6 13-6 13-5 14-5 13-6 13-5 13-5 14-6 13-5 13-5 13-5 13-5 13-5 13-4 13-5 12-5 13-5 13-4 13-5 12-4 13-4 12-5 13-4 12-4 13-4M879 2820l15-7 15-6 15-7 15-7 14-6 15-7 15-6 15-7 14-6 15-7 14-6 15-7 14-6 15-6 14-7 14-6 15-6 14-7 14-6 14-6 14-6 14-6 14-6 14-7 14-6 14-6 14-5 14-6 14-6 13-6 14-6 14-6 13-5 14-6 13-5 14-6 13-5 13-6 14-5 13-5 13-6 13-5 14-5 13-5 13-5 13-5 13-5 13-5 12-4 13-5 13-5 13-4 13-5 12-4 13-5 12-4 13-4 12-4 13-4 12-4M869 2814l15-7 15-6 15-7 14-6 15-7 15-6 15-7 14-6 15-7 14-6 15-7 14-6 15-6 14-7 15-6 14-6 14-6 14-7 15-6 14-6 14-6 14-6 14-6 14-6 14-6 13-6 14-6 14-6 14-6 13-5 14-6 14-6 13-5 14-6 13-5 14-6 13-5 13-5 14-6 13-5 13-5 13-5 13-5 14-5 13-5 13-5 13-5 12-5 13-4 13-5 13-5 13-4 12-5 13-4 13-4 12-4 13-5 12-4 13-4 12-4M859 2808l15-7 14-6 15-7 15-6 15-7 15-6 14-7 15-6 15-6 14-7 15-6 14-6 14-7 15-6 14-6 14-6 15-6 14-7 14-6 14-6 14-6 14-6 14-6 14-6 14-6 14-6 14-5 13-6 14-6 14-6 13-5 14-6 13-5 14-6 13-5 14-6 13-5 14-5 13-5 13-6 13-5 13-5 14-5 13-5 13-5 13-4 13-5 12-5 13-5 13-4 13-5 13-4 12-4 13-5 12-4 13-4 13-4 12-4 12-4 13-4M848 2802l15-7 15-6 15-7 15-6 15-6 14-7 15-6 15-7 14-6 15-6 14-6 15-7 14-6 14-6 15-6 14-6 14-7 14-6 15-6 14-6 14-6 14-6 14-6 14-5 13-6 14-6 14-6 14-5 13-6 14-6 14-5 13-6 14-5 13-6 14-5 13-6 13-5 14-5 13-5 13-5 13-5 14-5 13-5 13-5 13-5 13-5 13-4 12-5 13-5 13-4 13-5 13-4 12-4 13-4 12-5 13-4 12-4 13-4 12-4 13-3M838 2796l15-7 15-6 15-7 15-6 15-6 14-7 15-6 14-6 15-6 15-7 14-6 14-6 15-6 14-6 14-6 15-7 14-6 14-6 14-6 14-6 14-6 14-5 14-6 14-6 14-6 14-6 13-5 14-6 14-6 13-5 14-6 14-5 13-5 14-6 13-5 13-5 14-6 13-5 13-5 13-5 14-5 13-5 13-5 13-5 13-4 13-5 13-5 13-4 12-5 13-4 13-5 13-4 12-4 13-4 12-4 13-4 12-4 13-4 12-4 12-4M828 2789l15-6 15-6 15-7 15-6 14-6 15-6 15-7 14-6 15-6 14-6 15-6 14-6 15-7 14-6 14-6 14-6 15-6 14-6 14-6 14-6 14-5 14-6 14-6 14-6 13-5 14-6 14-6 14-5 13-6 14-5 13-6 14-5 13-6 14-5 13-5 14-5 13-6 13-5 13-5 14-5 13-5 13-5 13-4 13-5 13-5 13-4 13-5 13-5 12-4 13-4 13-5 13-4 12-4 13-4 12-4 13-4 12-4 13-4 12-4 12-3M818 2783l15-6 15-6 15-6 15-7 14-6 15-6 15-6 14-6 15-7 14-6 15-6 14-6 14-6 15-6 14-6 14-6 14-6 14-6 14-6 14-5 14-6 14-6 14-6 14-5 14-6 14-6 13-5 14-6 14-5 13-6 14-5 13-6 14-5 13-5 14-5 13-5 13-6 14-5 13-5 13-4 13-5 13-5 13-5 13-5 13-4 13-5 13-4 13-5 13-4 12-5 13-4 13-4 12-4 13-4 12-4 13-4 12-4 13-4 12-3 12-4M808 2777l15-6 15-6 15-6 15-7 14-6 15-6 15-6 14-6 15-6 14-6 14-6 15-6 14-6 14-6 15-6 14-6 14-6 14-6 14-6 14-5 14-6 14-6 14-6 14-5 14-6 13-5 14-6 14-5 13-6 14-5 13-5 14-6 13-5 14-5 13-5 13-5 14-5 13-5 13-5 13-5 13-5 14-5 13-5 13-4 12-5 13-4 13-5 13-4 13-5 13-4 12-4 13-4 12-4 13-4 13-4 12-4 12-4 13-3 12-4 12-4M799 2771l14-6 15-6 15-6 15-6 14-7 15-6 15-6 14-6 15-6 14-6 14-6 15-6 14-6 14-6 14-5 15-6 14-6 14-6 14-6 14-5 14-6 14-6 14-5 13-6 14-5 14-6 14-5 13-6 14-5 13-6 14-5 13-5 14-5 13-5 14-5 13-6 13-5 13-4 14-5 13-5 13-5 13-5 13-4 13-5 13-4 13-5 13-4 12-5 13-4 13-4 12-4 13-4 13-4 12-4 13-4 12-4 13-4 12-3 12-4 13-3M789 2765l15-6 14-6 15-6 15-6 14-6 15-6 15-6 14-6 15-6 14-6 14-6 15-6 14-6 14-6 14-6 15-5 14-6 14-6 14-6 14-5 14-6 14-6 13-5 14-6 14-5 14-6 13-5 14-5 14-6 13-5 14-5 13-5 13-6 14-5 13-5 13-5 14-5 13-4 13-5 13-5 13-5 13-4 13-5 13-4 13-5 13-4 13-5 13-4 12-4 13-4 13-4 12-4 13-4 12-4 13-4 12-4 13-3 12-4 12-4 13-3M779 2759l15-6 15-6 14-6 15-6 15-6 14-6 15-6 14-6 15-6 14-6 14-6 15-6 14-5 14-6 14-6 14-6 15-5 14-6 14-6 14-5 13-6 14-6 14-5 14-5 14-6 13-5 14-6 14-5 13-5 14-5 13-6 14-5 13-5 13-5 14-5 13-5 13-5 13-4 14-5 13-5 13-5 13-4 13-5 13-4 13-5 13-4 12-4 13-4 13-5 12-4 13-4 13-4 12-4 13-3 12-4 13-4 12-3 12-4 13-3 12-4M769 2753l15-6 15-6 14-6 15-6 15-6 14-6 15-6 14-6 15-6 14-5 14-6 15-6 14-6 14-6 14-5 14-6 14-6 15-5 14-6 13-5 14-6 14-5 14-6 14-5 14-6 13-5 14-5 13-6 14-5 14-5 13-5 13-5 14-5 13-5 13-5 14-5 13-5 13-4 13-5 13-5 13-4 13-5 13-4 13-5 13-4 13-5 13-4 13-4 12-4 13-4 13-4 12-4 13-4 12-4 13-3 12-4 12-3 13-4 12-3 12-4M760 2747l14-6 15-6 15-6 14-6 15-6 14-6 15-6 14-5 15-6 14-6 15-6 14-6 14-5 14-6 14-6 14-5 14-6 15-5 13-6 14-5 14-6 14-5 14-6 14-5 13-5 14-6 14-5 13-5 14-5 13-5 14-6 13-5 14-4 13-5 13-5 13-5 14-5 13-5 13-4 13-5 13-4 13-5 13-4 13-5 13-4 13-4 12-4 13-4 13-5 12-4 13-3 13-4 12-4 13-4 12-3 12-4 13-4 12-3 12-3 13-4M750 2741l15-6 14-6 15-6 15-6 14-6 15-6 14-5 15-6 14-6 14-6 15-5 14-6 14-6 14-5 14-6 15-6 14-5 14-6 13-5 14-6 14-5 14-5 14-6 14-5 13-5 14-5 14-6 13-5 14-5 13-5 14-5 13-5 13-5 14-5 13-5 13-4 13-5 13-5 14-4 13-5 13-4 13-5 13-4 12-4 13-5 13-4 13-4 13-4 12-4 13-4 13-4 12-4 13-3 12-4 12-4 13-3 12-4 12-3 13-3 12-3M740 2735l15-6 15-6 14-6 15-6 14-6 15-5 14-6 15-6 14-6 15-5 14-6 14-6 14-5 14-6 15-5 14-6 14-5 14-6 14-5 13-6 14-5 14-5 14-6 14-5 13-5 14-5 13-5 14-6 14-5 13-5 13-5 14-4 13-5 13-5 14-5 13-5 13-4 13-5 13-4 13-5 13-4 13-5 13-4 13-4 13-4 13-5 12-4 13-4 13-4 12-4 13-3 13-4 12-4 13-3 12-4 12-3 13-4 12-3 12-3 12-3M731 2728l14-5 15-6 15-6 14-6 15-5 14-6 15-6 14-6 15-5 14-6 14-5 14-6 14-6 15-5 14-6 14-5 14-6 14-5 14-5 14-6 13-5 14-5 14-6 14-5 13-5 14-5 13-5 14-5 13-5 14-5 13-5 14-5 13-5 13-4 14-5 13-5 13-4 13-5 13-4 13-5 13-4 13-5 13-4 13-4 13-4 12-4 13-4 13-4 12-4 13-4 13-4 12-4 13-3 12-4 13-3 12-4 12-3 12-3 13-3 12-4M721 2722l15-5 15-6 14-6 15-6 14-5 15-6 14-6 15-5 14-6 14-5 14-6 15-6 14-5 14-6 14-5 14-5 14-6 14-5 14-6 14-5 13-5 14-5 14-6 14-5 13-5 14-5 13-5 14-5 13-5 14-5 13-5 14-4 13-5 13-5 13-5 14-4 13-5 13-4 13-5 13-4 13-4 13-5 13-4 13-4 12-4 13-4 13-4 13-4 12-4 13-4 12-3 13-4 12-4 13-3 12-4 12-3 13-3 12-3 12-4 12-3M712 2716l14-6 15-5 15-6 14-6 15-5 14-6 15-5 14-6 14-6 14-5 15-6 14-5 14-6 14-5 14-5 14-6 14-5 14-5 14-6 14-5 14-5 13-5 14-6 14-5 13-5 14-5 14-5 13-5 13-5 14-4 13-5 14-5 13-5 13-4 13-5 14-5 13-4 13-4 13-5 13-4 13-4 13-5 13-4 12-4 13-4 13-4 13-4 12-4 13-4 13-3 12-4 13-4 12-3 12-4 13-3 12-3 12-3 13-4 12-3 12-3M702 2710l15-6 15-5 14-6 15-5 14-6 15-6 14-5 14-6 15-5 14-6 14-5 14-6 14-5 14-6 14-5 14-5 14-5 14-6 14-5 14-5 14-5 14-6 13-5 14-5 14-5 13-5 14-5 13-4 14-5 13-5 13-5 14-5 13-4 13-5 13-4 14-5 13-4 13-5 13-4 13-4 13-5 13-4 12-4 13-4 13-4 13-4 12-4 13-4 13-3 12-4 13-4 12-3 13-4 12-3 12-3 13-4 12-3 12-3 13-3 12-3M693 2704l15-6 14-5 15-6 14-5 15-6 14-6 14-5 15-6 14-5 14-5 14-6 15-5 14-6 14-5 14-5 14-6 14-5 14-5 14-5 13-5 14-6 14-5 13-5 14-5 14-5 13-5 14-4 13-5 14-5 13-5 13-5 14-4 13-5 13-4 13-5 14-4 13-5 13-4 13-4 13-5 13-4 12-4 13-4 13-4 13-4 13-4 12-4 13-3 13-4 12-4 13-3 12-4 13-3 12-4 12-3 13-3 12-3 12-3 12-3 12-3M684 2698l14-6 15-5 14-6 15-5 14-6 15-5 14-6 14-5 15-6 14-5 14-6 14-5 14-5 14-5 14-6 14-5 14-5 14-5 14-6 14-5 13-5 14-5 14-5 13-5 14-5 13-4 14-5 13-5 14-5 13-5 14-4 13-5 13-4 13-5 13-4 14-5 13-4 13-4 13-5 13-4 13-4 12-4 13-4 13-4 13-4 13-4 12-4 13-3 12-4 13-3 12-4 13-3 12-4 13-3 12-3 12-3 13-4 12-3 12-3 12-2M674 2692l15-6 14-5 15-6 14-5 15-6 14-5 15-6 14-5 14-5 14-6 14-5 15-5 14-6 14-5 14-5 14-5 14-6 13-5 14-5 14-5 14-5 13-5 14-5 14-5 13-5 14-4 13-5 14-5 13-5 13-4 14-5 13-4 13-5 13-4 14-5 13-4 13-5 13-4 13-4 13-4 13-4 12-4 13-4 13-4 13-4 13-4 12-3 13-4 12-4 13-3 12-4 13-3 12-3 13-4 12-3 12-3 12-3 13-3 12-3 12-3M665 2685l15-5 14-5 15-6 14-5 14-6 15-5 14-6 14-5 15-5 14-6 14-5 14-5 14-5 14-6 14-5 14-5 14-5 14-5 14-5 13-5 14-5 14-5 13-5 14-5 14-5 13-4 14-5 13-5 13-5 14-4 13-5 13-4 13-5 14-4 13-4 13-5 13-4 13-4 13-4 13-4 13-4 13-4 12-4 13-4 13-4 13-4 12-3 13-4 12-4 13-3 12-4 13-3 12-3 13-3 12-4 12-3 12-3 12-3 13-2 12-3M656 2679l14-5 15-6 14-5 15-5 14-6 14-5 15-5 14-6 14-5 14-5 15-6 14-5 14-5 14-5 14-5 14-5 13-5 14-5 14-5 14-5 14-5 13-5 14-5 13-5 14-5 13-4 14-5 13-5 14-4 13-5 13-4 13-5 14-4 13-5 13-4 13-4 13-5 13-4 13-4 13-4 13-4 13-4 12-4 13-3 13-4 13-4 12-4 13-3 12-4 13-3 12-3 13-4 12-3 12-3 13-3 12-3 12-3 12-3 13-3 12-3M646 2673l15-5 15-6 14-5 14-5 15-6 14-5 14-5 15-6 14-5 14-5 14-5 14-5 14-6 14-5 14-5 14-5 14-5 14-5 14-5 13-5 14-5 14-4 13-5 14-5 13-5 14-4 13-5 14-5 13-4 13-5 14-4 13-5 13-4 13-4 13-5 13-4 13-4 13-4 13-4 13-4 13-4 13-4 13-4 12-4 13-3 13-4 12-4 13-3 12-4 13-3 12-3 13-4 12-3 12-3 13-3 12-3 12-3 12-3 12-2 13-3M637 2667l15-5 14-6 15-5 14-5 15-6 14-5 14-5 14-5 15-6 14-5 14-5 14-5 14-5 14-5 14-5 14-5 14-5 13-5 14-5 14-5 13-5 14-5 14-4 13-5 14-5 13-5 14-4 13-5 13-4 14-5 13-4 13-4 13-5 13-4 14-4 13-4 13-5 13-4 13-4 12-4 13-4 13-3 13-4 13-4 12-4 13-3 12-4 13-3 13-4 12-3 12-3 13-3 12-4 13-3 12-3 12-3 12-2 12-3 12-3 13-3M628 2661l15-6 14-5 15-5 14-5 14-6 15-5 14-5 14-5 14-5 14-6 15-5 14-5 14-5 14-5 13-5 14-5 14-5 14-5 14-5 13-4 14-5 14-5 13-5 14-4 13-5 14-5 13-4 13-5 14-4 13-5 13-4 14-4 13-5 13-4 13-4 13-4 13-4 13-4 13-4 13-4 13-4 12-4 13-4 13-3 12-4 13-3 13-4 12-3 13-4 12-3 13-3 12-3 12-3 13-3 12-3 12-3 12-3 12-3 13-3 12-2M619 2655l15-6 14-5 15-5 14-5 14-6 15-5 14-5 14-5 14-5 14-5 14-5 14-5 14-5 14-5 14-5 14-5 14-5 14-5 13-5 14-5 14-5 13-4 14-5 13-5 14-4 13-5 14-4 13-5 13-4 14-5 13-4 13-4 13-4 13-5 13-4 13-4 13-4 13-4 13-4 13-4 13-3 13-4 12-4 13-4 13-3 12-4 13-3 12-3 13-4 12-3 13-3 12-3 12-3 13-3 12-3 12-3 12-3 13-3 12-2 12-3M610 2648l15-5 14-5 14-5 15-6 14-5 14-5 15-5 14-5 14-5 14-5 14-5 14-5 14-5 14-5 14-5 14-5 13-5 14-5 14-4 14-5 13-5 14-5 13-4 14-5 13-4 14-5 13-4 13-5 14-4 13-4 13-5 13-4 14-4 13-4 13-4 13-5 13-4 13-3 13-4 12-4 13-4 13-4 13-3 12-4 13-3 13-4 12-3 13-4 12-3 13-3 12-3 12-3 13-3 12-3 12-3 12-3 13-3 12-2 12-3 12-2M601 2642l15-5 14-5 14-5 15-6 14-5 14-5 15-5 14-5 14-5 14-5 14-5 14-5 14-5 14-5 14-5 13-5 14-4 14-5 14-5 13-5 14-4 13-5 14-4 14-5 13-5 13-4 14-4 13-5 13-4 14-4 13-5 13-4 13-4 13-4 13-4 13-4 13-4 13-4 13-4 13-4 13-3 12-4 13-4 13-3 12-4 13-3 12-4 13-3 12-3 13-3 12-3 13-3 12-3 12-3 12-3 13-3 12-3 12-2 12-3 12-2M592 2636l15-5 14-5 14-6 15-5 14-5 14-5 14-5 15-5 14-5 14-5 14-5 14-5 14-5 14-4 13-5 14-5 14-5 14-5 13-4 14-5 14-5 13-4 14-5 13-4 14-5 13-4 13-5 14-4 13-4 13-5 13-4 13-4 14-4 13-4 13-4 13-4 13-4 13-4 12-4 13-3 13-4 13-4 12-3 13-4 13-3 12-4 13-3 12-3 13-3 12-3 13-4 12-3 12-2 12-3 13-3 12-3 12-2 12-3 12-2 12-3M583 2630l15-6 14-5 14-5 15-5 14-5 14-5 14-5 15-5 14-5 14-5 14-5 14-4 14-5 13-5 14-5 14-5 14-4 14-5 13-5 14-4 13-5 14-5 13-4 14-5 13-4 14-4 13-5 13-4 14-4 13-5 13-4 13-4 13-4 13-4 13-4 13-4 13-4 13-4 13-3 13-4 12-4 13-3 13-4 13-3 12-4 13-3 12-3 13-3 12-4 13-3 12-3 12-3 13-3 12-2 12-3 12-3 12-2 12-3 12-2 12-3M574 2623l15-5 14-5 14-5 15-5 14-5 14-5 14-5 15-5 14-5 14-5 14-4 14-5 13-5 14-5 14-5 14-4 14-5 13-5 14-4 14-5 13-5 14-4 13-4 14-5 13-4 13-5 14-4 13-4 13-4 13-5 14-4 13-4 13-4 13-4 13-4 13-4 13-4 13-3 12-4 13-4 13-3 13-4 12-3 13-4 13-3 12-3 13-4 12-3 13-3 12-3 12-3 13-3 12-3 12-2 12-3 12-3 13-2 12-3 12-2 12-3M565 2617l15-5 14-5 15-5 14-5 14-5 14-5 14-5 15-5 14-5 14-4 14-5 14-5 13-5 14-5 14-4 14-5 14-5 13-4 14-5 13-4 14-5 14-4 13-5 13-4 14-5 13-4 13-4 14-4 13-5 13-4 13-4 13-4 13-4 13-4 13-4 13-4 13-3 13-4 13-4 13-3 13-4 12-3 13-4 13-3 12-4 13-3 12-3 13-3 12-3 12-3 13-3 12-3 12-3 13-3 12-2 12-3 12-2 12-3 12-2 12-3M557 2611l14-5 14-5 15-5 14-5 14-5 14-5 15-5 14-5 14-5 14-4 14-5 14-5 13-5 14-4 14-5 14-5 13-4 14-5 14-4 13-5 14-4 13-5 14-4 13-5 14-4 13-4 13-5 13-4 14-4 13-4 13-4 13-4 13-4 13-4 13-4 13-4 13-3 13-4 13-4 12-3 13-4 13-3 12-4 13-3 13-3 12-3 13-4 12-3 13-3 12-3 12-3 13-2 12-3 12-3 12-2 12-3 12-2 12-3 12-2 12-2M548 2605l14-5 15-5 14-5 14-5 14-5 14-5 15-5 14-5 14-5 14-4 14-5 14-5 13-4 14-5 14-5 14-4 13-5 14-5 14-4 13-5 14-4 13-4 14-5 13-4 13-4 14-5 13-4 13-4 13-4 14-4 13-4 13-4 13-4 13-4 13-4 13-3 13-4 12-4 13-3 13-4 13-3 12-4 13-3 13-4 12-3 13-3 12-3 13-3 12-3 12-3 13-3 12-3 12-2 12-3 13-3 12-2 12-3 12-2 12-2 12-2M539 2598l15-5 14-5 14-5 14-4 15-5 14-5 14-5 14-5 14-4 14-5 14-5 14-5 13-4 14-5 14-5 14-4 13-5 14-4 14-5 13-4 14-5 13-4 14-4 13-5 13-4 14-4 13-4 13-4 13-4 13-4 14-4 13-4 13-4 13-4 13-4 13-3 12-4 13-4 13-3 13-4 12-3 13-4 13-3 12-3 13-3 12-4 13-3 12-3 13-3 12-3 12-2 13-3 12-3 12-2 12-3 12-2 12-3 12-2 12-2 12-3M530 2592l15-5 14-5 14-5 15-5 14-4 14-5 14-5 14-5 14-4 14-5 14-5 14-5 14-4 13-5 14-4 14-5 13-4 14-5 14-4 13-5 14-4 13-4 14-5 13-4 13-4 14-4 13-4 13-5 13-4 13-4 13-4 13-3 13-4 13-4 13-4 13-3 13-4 13-4 13-3 12-4 13-3 13-3 12-4 13-3 13-3 12-3 13-3 12-3 12-3 13-3 12-3 12-3 12-2 13-3 12-2 12-3 12-2 12-2 12-3 12-2M522 2586l14-5 14-5 15-5 14-5 14-5 14-4 14-5 14-5 14-5 14-4 14-5 14-4 14-5 13-5 14-4 14-5 13-4 14-5 14-4 13-4 14-5 13-4 14-4 13-4 13-5 13-4 14-4 13-4 13-4 13-4 13-4 13-4 13-3 13-4 13-4 13-4 13-3 13-4 13-3 12-4 13-3 13-3 12-4 13-3 12-3 13-3 12-3 13-3 12-3 12-3 13-2 12-3 12-3 12-2 12-3 12-2 12-2 12-3 12-2 12-2M513 2579l14-5 15-4 14-5 14-5 14-5 14-4 14-5 14-5 14-5 14-4 14-5 14-4 14-5 14-5 13-4 14-4 14-5 13-4 14-5 13-4 14-4 13-5 14-4 13-4 13-4 13-4 14-4 13-4 13-4 13-4 13-4 13-4 13-4 13-3 13-4 13-4 13-3 13-4 12-3 13-4 13-3 12-3 13-3 12-4 13-3 12-3 13-3 12-3 13-2 12-3 12-3 12-2 13-3 12-3 12-2 12-2 12-3 12-2 12-2 12-2M505 2573l14-5 14-5 14-4 14-5 15-5 14-5 14-4 14-5 14-5 14-4 13-5 14-4 14-5 14-4 13-5 14-4 14-5 13-4 14-4 13-5 14-4 13-4 14-4 13-5 13-4 13-4 14-4 13-4 13-4 13-4 13-3 13-4 13-4 13-4 13-3 13-4 13-3 12-4 13-3 13-4 13-3 12-3 13-3 12-3 13-3 12-3 13-3 12-3 12-3 13-3 12-2 12-3 12-3 13-2 12-2 12-3 12-2 12-2 12-2 12-2M496 2567l14-5 14-5 15-5 14-4 14-5 14-5 14-4 14-5 14-5 14-4 14-5 13-4 14-5 14-4 14-5 13-4 14-5 13-4 14-4 13-4 14-5 13-4 14-4 13-4 13-4 14-4 13-4 13-4 13-4 13-4 13-4 13-3 13-4 13-4 13-3 13-4 13-3 12-4 13-3 13-4 12-3 13-3 13-3 12-3 13-3 12-3 12-3 13-3 12-3 12-2 13-3 12-3 12-2 12-3 12-2 12-2 12-2 12-3 12-2 12-2M487 2560l15-5 14-4 14-5 14-5 14-4 14-5 14-5 14-4 14-5 14-4 14-5 14-4 14-5 13-4 14-5 14-4 13-4 14-5 13-4 14-4 13-4 13-5 14-4 13-4 13-4 14-4 13-4 13-4 13-3 13-4 13-4 13-4 13-3 13-4 13-4 13-3 13-4 12-3 13-3 13-4 12-3 13-3 12-3 13-3 12-3 13-3 12-3 13-3 12-2 12-3 13-3 12-2 12-3 12-2 12-2 12-3 12-2 12-2 12-2 12-2M479 2554l14-5 14-5 15-4 14-5 14-5 14-4 14-5 14-4 14-5 13-4 14-5 14-4 14-5 14-4 13-5 14-4 13-4 14-4 13-5 14-4 13-4 14-4 13-4 13-4 14-4 13-4 13-4 13-4 13-4 13-4 13-3 13-4 13-4 13-3 13-4 13-3 13-4 12-3 13-3 13-4 12-3 13-3 12-3 13-3 12-3 13-3 12-3 13-3 12-2 12-3 12-2 13-3 12-2 12-3 12-2 12-2 12-2 12-2 12-2 12-2M470 2547l15-4 14-5 14-5 14-4 14-5 14-4 14-5 14-4 14-5 14-4 14-5 13-4 14-5 14-4 13-5 14-4 14-4 13-4 14-5 13-4 13-4 14-4 13-4 13-4 14-4 13-4 13-4 13-4 13-3 13-4 13-4 13-4 13-3 13-4 13-3 13-4 13-3 12-3 13-4 13-3 12-3 13-3 12-3 13-3 12-3 13-3 12-3 12-2 13-3 12-3 12-2 12-3 13-2 12-2 12-3 12-2 12-2 12-2 12-2 11-2M462 2541l14-5 14-4 15-5 14-4 14-5 14-5 14-4 14-5 13-4 14-5 14-4 14-4 14-5 13-4 14-4 13-5 14-4 13-4 14-4 13-5 14-4 13-4 13-4 14-4 13-4 13-4 13-3 13-4 13-4 13-4 13-3 13-4 13-4 13-3 13-4 13-3 13-3 12-4 13-3 13-3 12-3 13-3 12-3 13-3 12-3 13-3 12-3 12-2 13-3 12-3 12-2 12-2 12-3 13-2 12-2 12-3 12-2 12-2 11-2 12-1M454 2535l14-5 14-5 14-4 14-5 14-4 14-5 14-4 14-5 14-4 14-5 13-4 14-5 14-4 14-4 13-4 14-5 13-4 14-4 13-4 14-4 13-4 13-4 14-4 13-4 13-4 13-4 13-4 14-4 13-4 13-3 13-4 13-3 12-4 13-3 13-4 13-3 13-4 12-3 13-3 13-3 12-3 13-3 12-3 13-3 12-3 13-3 12-3 12-2 13-3 12-2 12-3 12-2 12-3 12-2 13-2 12-2 11-2 12-2 12-2 12-2M445 2528l14-4 15-5 14-5 14-4 14-5 14-4 14-5 14-4 13-4 14-5 14-4 14-5 13-4 14-4 14-4 13-5 14-4 13-4 14-4 13-4 13-4 14-4 13-4 13-4 13-4 14-4 13-4 13-3 13-4 13-4 13-3 13-4 13-3 12-4 13-3 13-4 13-3 13-3 12-3 13-3 12-4 13-3 12-3 13-2 12-3 13-3 12-3 12-2 13-3 12-2 12-3 12-2 12-2 12-3 12-2 12-2 12-2 12-2 12-2 12-2M437 2522l14-5 14-4 14-5 14-4 14-5 14-4 14-5 14-4 14-5 14-4 13-4 14-5 14-4 13-4 14-5 14-4 13-4 14-4 13-4 13-4 14-4 13-4 13-4 14-4 13-4 13-4 13-3 13-4 13-4 13-3 13-4 13-3 13-4 13-3 12-4 13-3 13-3 13-4 12-3 13-3 12-3 13-3 13-3 12-3 12-2 13-3 12-3 12-2 13-3 12-2 12-3 12-2 12-2 12-3 12-2 12-2 12-2 12-2 12-1 12-2M429 2515l14-4 14-5 14-4 14-5 14-4 14-5 14-4 14-5 13-4 14-4 14-5 14-4 13-4 14-4 13-5 14-4 14-4 13-4 13-4 14-4 13-4 13-4 14-4 13-4 13-4 13-3 13-4 13-4 13-3 13-4 13-4 13-3 13-4 13-3 13-3 12-4 13-3 13-3 12-3 13-3 13-3 12-3 13-3 12-3 13-3 12-2 12-3 13-2 12-3 12-2 12-3 12-2 12-2 12-2 12-3 12-2 12-2 12-1 12-2 12-2M420 2509l14-5 15-4 14-5 14-4 14-5 13-4 14-4 14-5 14-4 14-5 13-4 14-4 14-4 13-4 14-5 13-4 14-4 13-4 14-4 13-4 14-4 13-4 13-4 13-4 13-3 14-4 13-4 13-4 13-3 13-4 13-3 12-4 13-3 13-3 13-4 13-3 12-3 13-3 13-3 12-3 13-3 12-3 13-3 12-3 13-3 12-2 12-3 13-3 12-2 12-2 12-3 12-2 12-2 12-2 13-2 11-2 12-2 12-2 12-2 12-2M412 2502l14-4 14-5 14-4 14-5 14-4 14-4 14-5 14-4 14-4 13-5 14-4 14-4 13-4 14-5 14-4 13-4 13-4 14-4 13-4 14-4 13-4 13-4 13-4 14-3 13-4 13-4 13-4 13-3 13-4 13-3 13-4 13-3 13-4 12-3 13-3 13-4 13-3 12-3 13-3 13-3 12-3 13-3 12-3 12-2 13-3 12-3 12-2 13-3 12-2 12-3 12-2 12-2 13-2 12-2 12-2 12-2 11-2 12-2 12-2 12-1M404 2496l14-5 14-4 14-5 14-4 14-4 14-5 14-4 13-4 14-5 14-4 14-4 13-4 14-5 14-4 13-4 14-4 13-4 13-4 14-4 13-4 13-4 14-4 13-4 13-3 13-4 13-4 13-3 13-4 13-4 13-3 13-4 13-3 13-3 13-4 13-3 12-3 13-3 13-3 12-3 13-3 12-3 13-3 12-3 13-3 12-2 12-3 13-2 12-3 12-2 12-3 13-2 12-2 12-2 12-2 12-2 12-2 12-2 11-2 12-2 12-1M396 2489l14-4 14-5 14-4 14-4 14-5 14-4 13-4 14-5 14-4 14-4 13-5 14-4 14-4 13-4 14-4 13-4 14-4 13-4 13-4 14-4 13-4 13-4 13-4 14-3 13-4 13-4 13-3 13-4 13-3 13-4 13-3 13-4 12-3 13-3 13-4 13-3 12-3 13-3 13-3 12-3 13-3 12-3 13-2 12-3 12-3 13-2 12-3 12-2 12-3 13-2 12-2 12-2 12-2 12-3 12-1 12-2 12-2 12-2 11-2 12-1M387 2483l15-5 14-4 14-5 13-4 14-4 14-5 14-4 14-4 14-4 13-5 14-4 14-4 13-4 14-4 13-4 14-4 13-4 14-4 13-4 13-4 14-4 13-4 13-4 13-3 13-4 13-4 13-3 13-4 13-3 13-4 13-3 13-3 13-4 13-3 12-3 13-3 13-3 12-3 13-3 12-3 13-3 12-3 13-3 12-2 13-3 12-3 12-2 12-3 13-2 12-2 12-2 12-3 12-2 12-2 12-2 12-1 12-2 12-2 12-2 11-1M379 2476l14-4 14-5 14-4 14-4 14-5 14-4 14-4 14-5 13-4 14-4 14-4 13-4 14-4 13-4 14-4 13-4 14-4 13-4 14-4 13-4 13-4 13-4 13-4 14-3 13-4 13-4 13-3 13-4 13-3 13-4 13-3 12-3 13-3 13-4 13-3 12-3 13-3 13-3 12-3 13-3 12-3 13-3 12-2 13-3 12-2 12-3 12-2 13-3 12-2 12-2 12-3 12-2 12-2 12-2 12-2 12-2 12-1 12-2 12-2 12-1M371 2470l14-5 14-4 14-5 14-4 14-4 14-4 14-5 13-4 14-4 14-4 13-4 14-5 14-4 13-4 14-4 13-4 13-4 14-4 13-3 13-4 14-4 13-4 13-4 13-3 13-4 13-3 13-4 13-4 13-3 13-3 13-4 13-3 13-3 12-3 13-4 13-3 12-3 13-3 13-3 12-3 13-2 12-3 13-3 12-2 12-3 13-2 12-3 12-2 12-3 12-2 12-2 13-2 12-2 12-2 12-2 11-2 12-2 12-1 12-2 12-1M363 2463l14-4 14-5 14-4 14-4 14-5 14-4 13-4 14-4 14-5 14-4 13-4 14-4 13-4 14-4 13-4 14-4 13-4 13-4 14-4 13-3 13-4 14-4 13-4 13-3 13-4 13-3 13-4 13-3 13-4 13-3 13-4 12-3 13-3 13-3 13-3 12-3 13-3 13-3 12-3 13-3 12-3 12-3 13-2 12-3 13-2 12-3 12-2 12-3 13-2 12-2 12-2 12-2 12-2 12-2 12-2 12-2 12-2 11-1 12-2 12-1M355 2456l14-4 14-4 14-5 14-4 14-4 14-4 13-5 14-4 14-4 13-4 14-4 14-4 13-4 14-4 13-4 13-4 14-4 13-4 13-4 14-4 13-3 13-4 13-4 13-3 13-4 14-4 13-3 12-3 13-4 13-3 13-4 13-3 13-3 12-3 13-3 13-3 12-3 13-3 13-3 12-3 12-3 13-2 12-3 13-3 12-2 12-2 13-3 12-2 12-2 12-3 12-2 12-2 12-2 12-2 12-1 12-2 12-2 12-2 12-1 11-2M347 2450l14-5 14-4 14-4 14-4 14-5 13-4 14-4 14-4 14-4 13-4 14-5 13-4 14-4 13-4 14-4 13-4 14-3 13-4 13-4 13-4 14-4 13-3 13-4 13-4 13-3 13-4 13-3 13-3 13-4 13-3 13-3 12-4 13-3 13-3 13-3 12-3 13-3 12-3 13-3 13-3 12-2 12-3 13-3 12-2 12-3 13-2 12-2 12-3 12-2 12-2 13-2 12-2 12-2 12-2 11-2 12-2 12-1 12-2 12-1 12-2" fill="none" stroke="#000" stroke-width="1.9" stroke-linejoin="round"/>
</g>
<path d="M446.8 1414.2L446.8 1459.8" stroke="#000" stroke-width="1.2" fill="none"/>
<ellipse class="p" cx="446.2" cy="1459.8" rx="7" ry="4.1"/>
<ellipse cx="167" cy="1130.5" rx="2.6" ry="2"/>
<text x="158" y="1145" text-anchor="end">96.9</text>
<ellipse cx="171" cy="1186.7" rx="2.6" ry="2"/>
<text x="162" y="1201.2" text-anchor="end">95.675</text>
<ellipse cx="175" cy="1242.2" rx="2.6" ry="2"/>
<text x="166" y="1256.7" text-anchor="end">94.45</text>
<ellipse cx="179" cy="1298" rx="2.6" ry="2"/>
<text x="170" y="1312.5" text-anchor="end">93.225</text>
<ellipse cx="183" cy="1353.7" rx="2.6" ry="2"/>
<text x="174" y="1368.2" text-anchor="end">92</text>
<ellipse cx="447" cy="1541" rx="2.6" ry="2"/>
<text x="456" y="1555.3" text-anchor="start">-1.00</text>
<ellipse cx="545.2" cy="1519.1" rx="2.6" ry="2"/>
<text x="554.2" y="1533.4" text-anchor="start">-0.50</text>
<ellipse cx="643.5" cy="1497.2" rx="2.6" ry="2"/>
<text x="652.5" y="1511.5" text-anchor="start">0.00</text>
<ellipse cx="741.8" cy="1475.2" rx="2.6" ry="2"/>
<text x="750.8" y="1489.5" text-anchor="start">0.50</text>
<ellipse cx="840" cy="1453.3" rx="2.6" ry="2"/>
<text x="849" y="1467.6" text-anchor="start">1.00</text>
<ellipse cx="447" cy="1541" rx="2.6" ry="2"/>
<text x="438.3" y="1555.4" text-anchor="end">-1.00</text>
<ellipse cx="382.2" cy="1511.8" rx="2.6" ry="2"/>
<text x="373.6" y="1526.2" text-anchor="end">-0.50</text>
<ellipse cx="317.5" cy="1482.5" rx="2.6" ry="2"/>
<text x="308.8" y="1497" text-anchor="end">0.00</text>
<ellipse cx="252.8" cy="1453.3" rx="2.6" ry="2"/>
<text x="244.1" y="1467.7" text-anchor="end">0.50</text>
<ellipse cx="188" cy="1424.1" rx="2.6" ry="2"/>
<text x="179.3" y="1438.5" text-anchor="end">1.00</text>
<ellipse class="r" cx="173.3" cy="1218.8" rx="7" ry="4.1"/>
<ellipse class="r" cx="557.5" cy="1091.8" rx="7" ry="4.1"/><path d="M558 1091.8L558 1131" stroke="#000" stroke-width="1.2" fill="none"/>
<ellipse class="r" cx="507.5" cy="1186.8" rx="7" ry="4.1"/><path d="M508 1186.8L508 1250" stroke="#000" stroke-width="1.2" fill="none"/>
<ellipse class="r" cx="507.5" cy="1219.7" rx="7" ry="4.1"/>
<ellipse class="p" cx="855.4" cy="1250.7" rx="7" ry="4.1"/>
<text class="t v" transform="translate(65 1284) rotate(-90)" text-anchor="middle">Drug Release After 5 Minute</text>
<text class="t" x="41" y="1526">C: Amount of fumaric acid</text>
<text class="t" x="620" y="1554">B: Amount of tartaric acid</text></g>
</svg>
</body></html>
